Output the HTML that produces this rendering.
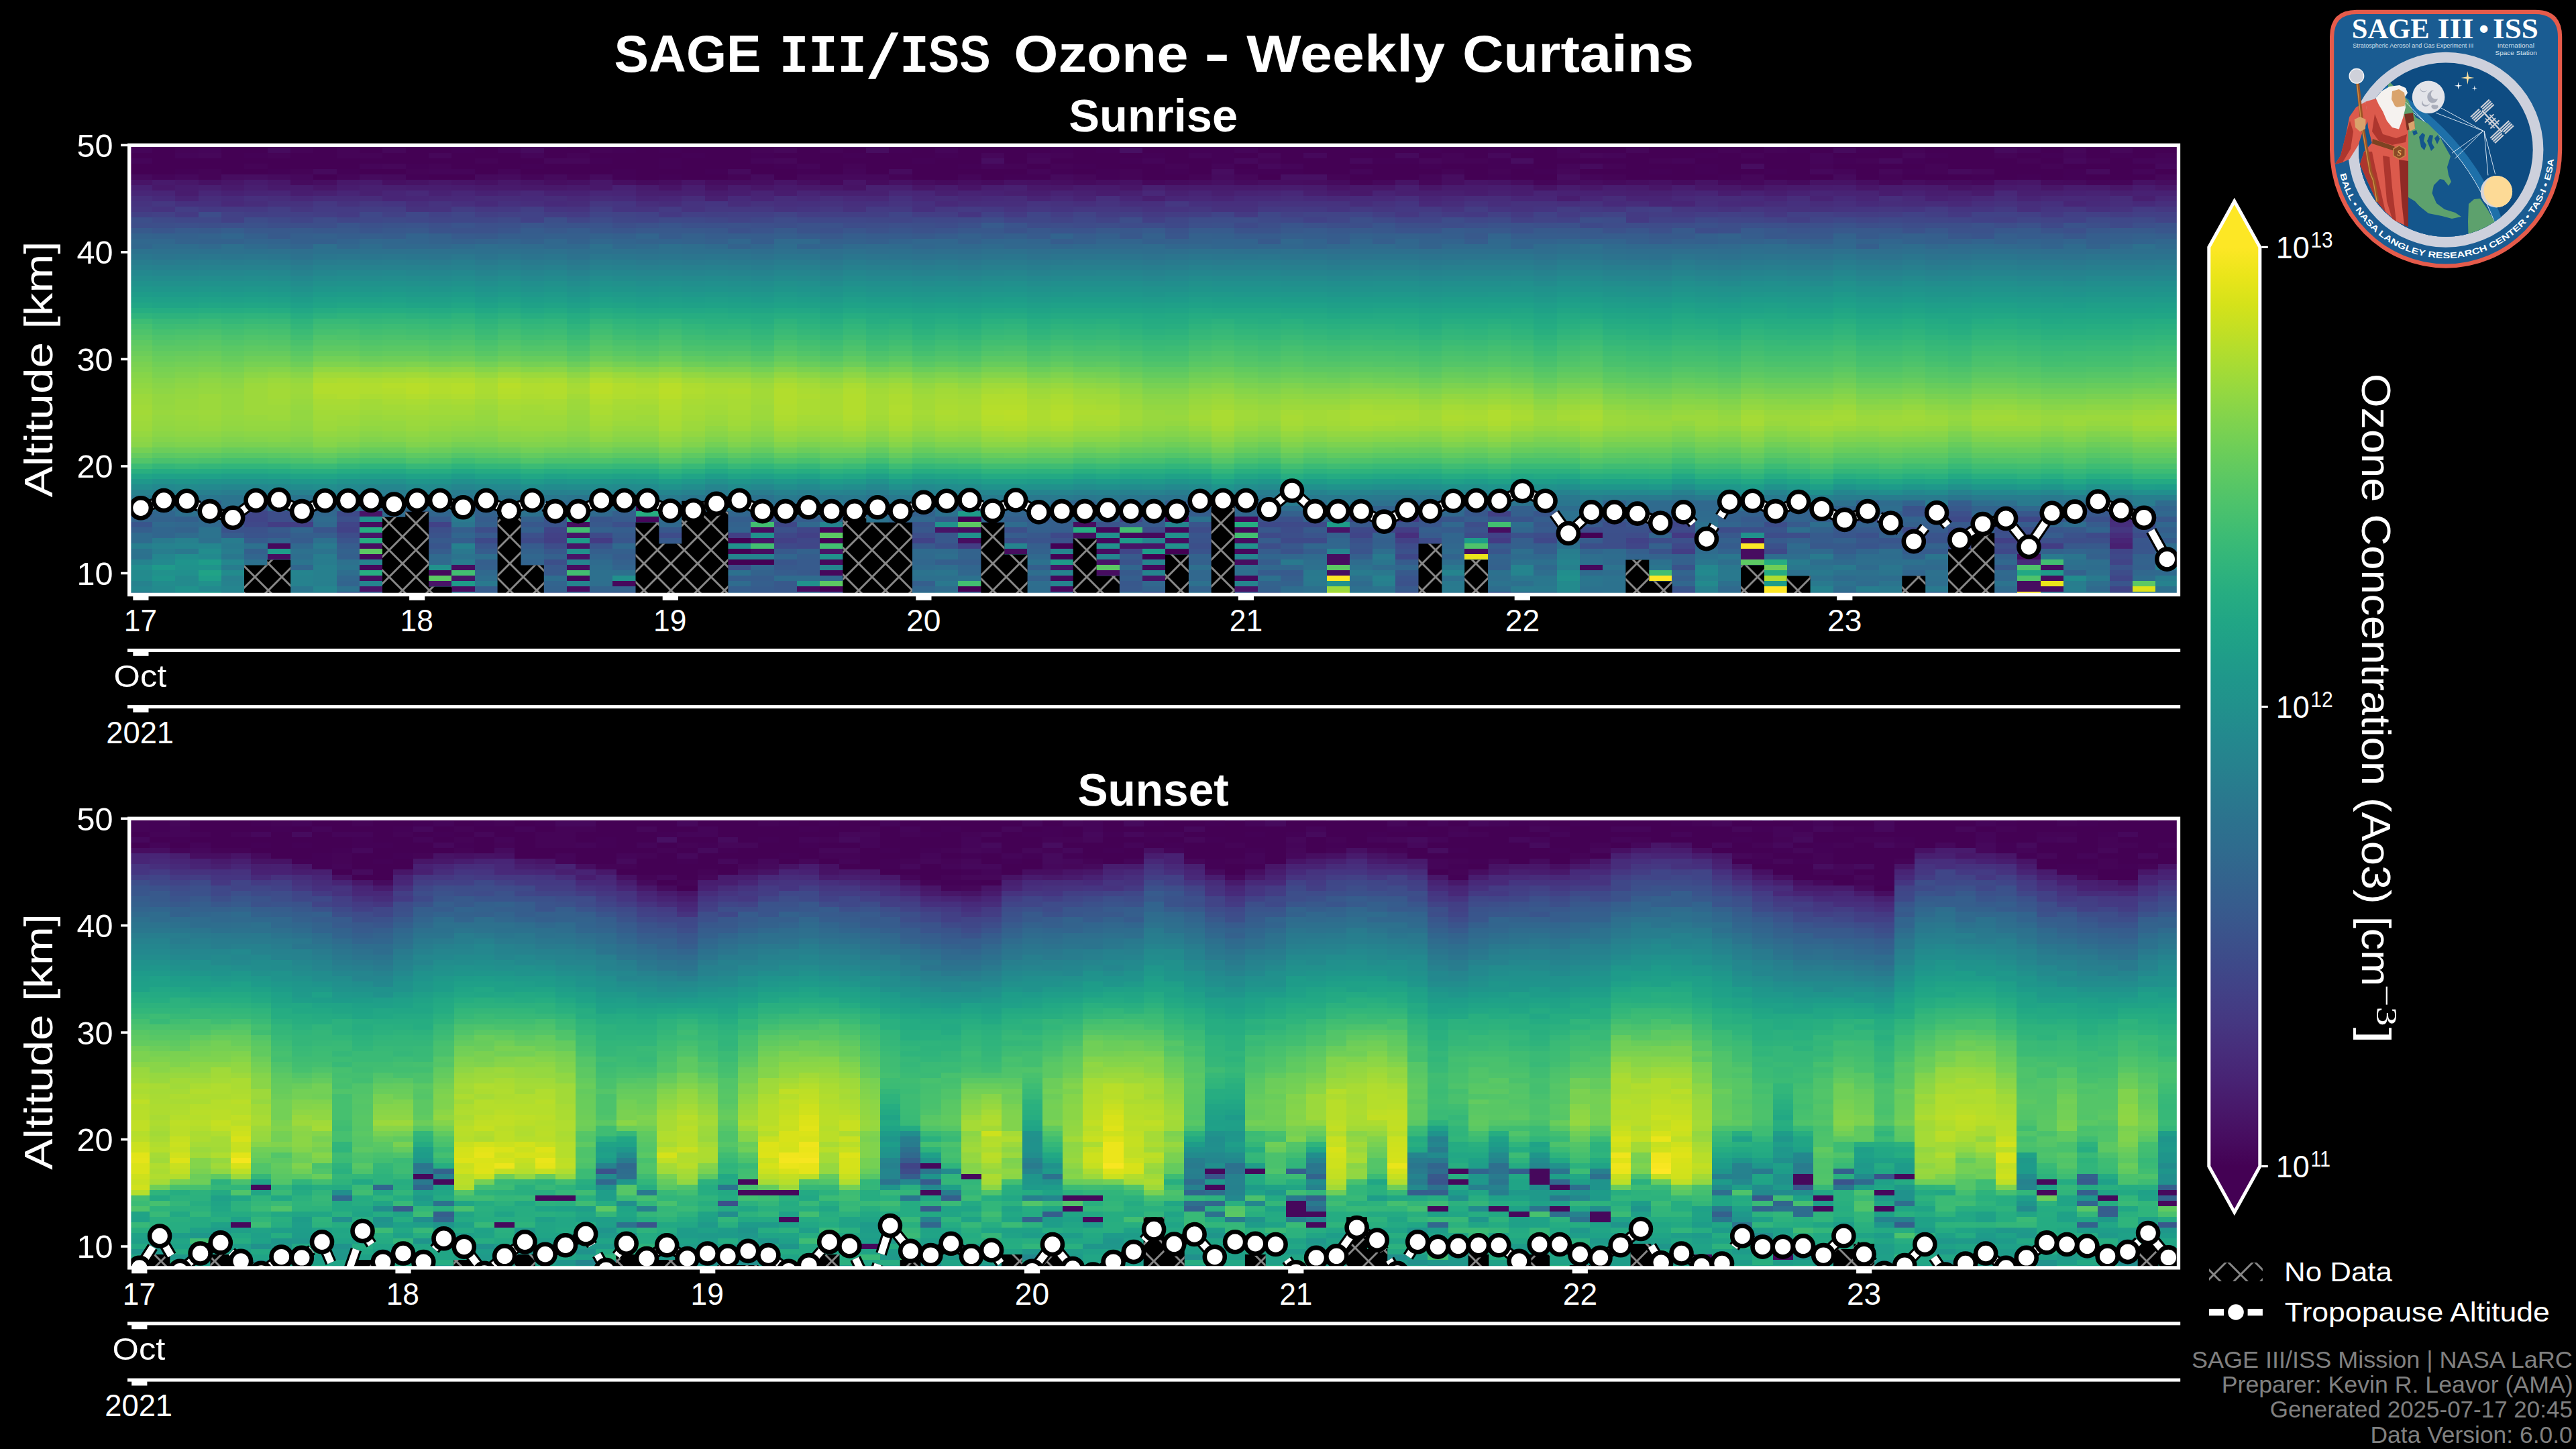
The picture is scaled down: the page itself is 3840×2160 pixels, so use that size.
<!DOCTYPE html>
<html lang="en"><head><meta charset="utf-8"><title>SAGE III/ISS Ozone - Weekly Curtains</title>
<style>
html,body{margin:0;padding:0;background:#000}
body{width:3840px;height:2160px;position:relative;overflow:hidden;font-family:"Liberation Sans",sans-serif}
.hm{position:absolute;overflow:hidden;background:#000}
.hm i{position:absolute;top:0;bottom:0;display:block}
svg{position:absolute;left:0;top:0}
text{font-family:"Liberation Sans",sans-serif;fill:#fff;stroke:#fff;stroke-width:0}
.b{font-weight:bold}
.m{font-family:"Liberation Mono",monospace;font-weight:bold}
.s{font-family:"Liberation Serif",serif}
.sb{font-family:"Liberation Serif",serif;font-weight:bold}
.sbi{font-family:"Liberation Serif",serif;font-weight:bold;font-style:italic}
</style></head><body>
<div class="hm" style="left:192px;top:216.4px;height:670.0px;width:3056px"><i style="left:1px;width:34px;background:linear-gradient(#440154 0 4.0px,#450559 0 12.0px,#440154 0 19.9px,#450559 0 27.9px,#440154 0 43.9px,#460a5d 0 51.8px,#481467 0 59.8px,#482173 0 67.8px,#482677 0 75.8px,#472f7d 0 83.8px,#46337f 0 91.7px,#453781 0 99.7px,#423f85 0 107.7px,#3c4f8a 0 115.7px,#3d4e8a 0 123.6px,#375a8c 0 131.6px,#33638d 0 139.6px,#31688e 0 147.6px,#31678e 0 155.5px,#2c728e 0 163.5px,#2a778e 0 171.5px,#287d8e 0 179.5px,#26828e 0 187.4px,#23888e 0 195.4px,#228d8d 0 203.4px,#20928c 0 211.4px,#1f978b 0 219.3px,#1e9c89 0 227.3px,#1fa188 0 235.3px,#21a685 0 243.3px,#26ad81 0 251.2px,#2fb47c 0 259.2px,#3dbc74 0 267.2px,#46c06f 0 275.2px,#4ec36b 0 283.2px,#56c667 0 291.1px,#5ec962 0 299.1px,#65cb5e 0 307.1px,#6ccd5a 0 315.1px,#73d056 0 323.0px,#7ad151 0 331.0px,#7fd34e 0 339.0px,#86d549 0 347.0px,#8bd646 0 354.9px,#90d743 0 362.9px,#95d840 0 370.9px,#9bd93c 0 378.9px,#9dd93b 0 386.8px,#a0da39 0 394.8px,#a2da37 0 402.8px,#a0da39 0 410.8px,#9dd93b 0 418.8px,#9bd93c 0 426.7px,#95d840 0 434.7px,#8ed645 0 442.7px,#89d548 0 450.7px,#75d054 0 458.6px,#65cb5e 0 466.6px,#52c569 0 474.6px,#3bbb75 0 482.6px,#29af7f 0 490.5px,#20a486 0 498.5px,#1f988b 0 506.5px,#228d8d 0 514.5px,#26828e 0 522.4px,#29798e 0 530.4px,#26828e 0 538.4px,#355e8d 0 546.4px,#375b8d 0 554.3px,#33638d 0 562.3px,#39558c 0 570.3px,#355f8d 0 578.3px,#2f6b8e 0 594.2px,#277e8e 0 602.2px,#2c728e 0 610.2px,#2c718e 0 618.2px,#25838e 0 626.1px,#218e8d 0 634.1px,#238a8d 0 642.1px,#228b8d 0 650.1px,#26828e 0 658.0px,#24868e 0 666.0px,#2a768e 0)"></i><i style="left:35px;width:34px;background:linear-gradient(#440256 0 4.0px,#440154 0 43.9px,#450559 0 51.8px,#481a6c 0 59.8px,#48186a 0 67.8px,#482576 0 75.8px,#472a7a 0 83.8px,#453781 0 91.7px,#46337f 0 99.7px,#424186 0 107.7px,#3e4a89 0 115.7px,#3c4f8a 0 123.6px,#39568c 0 131.6px,#33628d 0 139.6px,#31688e 0 147.6px,#2f6c8e 0 155.5px,#2d718e 0 163.5px,#2b758e 0 171.5px,#297b8e 0 179.5px,#26818e 0 187.4px,#24868e 0 195.4px,#228c8d 0 203.4px,#21918c 0 211.4px,#1f968b 0 219.3px,#1e9b8a 0 227.3px,#1fa088 0 235.3px,#20a486 0 243.3px,#25ac82 0 251.2px,#2db27d 0 259.2px,#37b878 0 267.2px,#3dbc74 0 275.2px,#46c06f 0 283.2px,#4ec36b 0 291.1px,#54c568 0 299.1px,#5cc863 0 307.1px,#63cb5f 0 315.1px,#69cd5b 0 323.0px,#70cf57 0 331.0px,#77d153 0 339.0px,#7cd250 0 347.0px,#84d44b 0 354.9px,#89d548 0 362.9px,#8ed645 0 370.9px,#93d741 0 386.8px,#95d840 0 394.8px,#98d83e 0 402.8px,#95d840 0 410.8px,#93d741 0 418.8px,#90d743 0 426.7px,#8bd646 0 434.7px,#84d44b 0 442.7px,#7cd250 0 450.7px,#6ccd5a 0 458.6px,#5cc863 0 466.6px,#4ac16d 0 474.6px,#34b679 0 482.6px,#25ac82 0 490.5px,#1fa188 0 498.5px,#20938c 0 506.5px,#23888e 0 514.5px,#277f8e 0 522.4px,#2b758e 0 530.4px,#2d708e 0 546.4px,#31668e 0 554.3px,#33638d 0 562.3px,#306a8e 0 570.3px,#31668e 0 586.2px,#297a8e 0 594.2px,#26828e 0 602.2px,#287d8e 0 610.2px,#24868e 0 618.2px,#23898e 0 626.1px,#1f9a8a 0 634.1px,#21918c 0 642.1px,#1f958b 0 650.1px,#228c8d 0 658.0px,#238a8d 0 666.0px,#25838e 0)"></i><i style="left:69px;width:35px;background:linear-gradient(#440154 0 4.0px,#450457 0 12.0px,#450559 0 19.9px,#440154 0 35.9px,#440256 0 43.9px,#46085c 0 51.8px,#481769 0 59.8px,#481c6e 0 75.8px,#482374 0 83.8px,#46307e 0 91.7px,#433e85 0 99.7px,#443a83 0 107.7px,#3f4889 0 115.7px,#3c508b 0 123.6px,#375b8d 0 131.6px,#34618d 0 139.6px,#33638d 0 147.6px,#2e6d8e 0 155.5px,#2d718e 0 163.5px,#2a768e 0 171.5px,#287c8e 0 179.5px,#26818e 0 187.4px,#24868e 0 195.4px,#228c8d 0 203.4px,#21918c 0 211.4px,#1f968b 0 219.3px,#1e9b8a 0 227.3px,#1fa088 0 235.3px,#20a486 0 243.3px,#25ac82 0 251.2px,#2db27d 0 259.2px,#37b878 0 267.2px,#3fbc73 0 275.2px,#48c16e 0 283.2px,#50c46a 0 291.1px,#56c667 0 299.1px,#5cc863 0 307.1px,#65cb5e 0 315.1px,#6ccd5a 0 323.0px,#73d056 0 331.0px,#7ad151 0 339.0px,#81d34d 0 347.0px,#89d548 0 354.9px,#8ed645 0 362.9px,#93d741 0 370.9px,#95d840 0 378.9px,#98d83e 0 394.8px,#9bd93c 0 402.8px,#98d83e 0 410.8px,#95d840 0 418.8px,#93d741 0 426.7px,#8ed645 0 434.7px,#86d549 0 442.7px,#7fd34e 0 450.7px,#6ece58 0 458.6px,#5ec962 0 466.6px,#4cc26c 0 474.6px,#37b878 0 482.6px,#26ad81 0 490.5px,#1fa187 0 498.5px,#1f958b 0 506.5px,#238a8d 0 514.5px,#27808e 0 522.4px,#2a768e 0 530.4px,#297a8e 0 538.4px,#306a8e 0 546.4px,#2d708e 0 554.3px,#34608d 0 562.3px,#31688e 0 570.3px,#33638d 0 578.3px,#2f6c8e 0 586.2px,#27808e 0 594.2px,#25848e 0 602.2px,#2a788e 0 610.2px,#218e8d 0 618.2px,#1f948c 0 626.1px,#20928c 0 634.1px,#21908d 0 642.1px,#238a8d 0 658.0px,#20928c 0 666.0px,#23898e 0)"></i><i style="left:104px;width:34px;background:linear-gradient(#440154 0 4.0px,#450559 0 12.0px,#46075a 0 19.9px,#440154 0 35.9px,#450457 0 51.8px,#471164 0 59.8px,#481f70 0 67.8px,#482677 0 75.8px,#472d7b 0 83.8px,#46307e 0 91.7px,#443983 0 99.7px,#3d4d8a 0 107.7px,#3f4889 0 115.7px,#3c4f8a 0 123.6px,#375a8c 0 131.6px,#33638d 0 139.6px,#33628d 0 147.6px,#306a8e 0 155.5px,#2c718e 0 163.5px,#2a778e 0 171.5px,#287d8e 0 179.5px,#26828e 0 187.4px,#24878e 0 195.4px,#228d8d 0 203.4px,#20928c 0 211.4px,#1f978b 0 219.3px,#1e9c89 0 227.3px,#1fa188 0 235.3px,#21a685 0 243.3px,#26ad81 0 251.2px,#2fb47c 0 259.2px,#3aba76 0 267.2px,#40bd72 0 275.2px,#4ac16d 0 283.2px,#52c569 0 291.1px,#58c765 0 299.1px,#5ec962 0 307.1px,#67cc5c 0 315.1px,#6ece58 0 323.0px,#75d054 0 331.0px,#7cd250 0 339.0px,#86d549 0 347.0px,#8ed645 0 354.9px,#93d741 0 362.9px,#95d840 0 370.9px,#9bd93c 0 394.8px,#9dd93b 0 402.8px,#9bd93c 0 410.8px,#98d83e 0 418.8px,#95d840 0 426.7px,#8ed645 0 434.7px,#86d549 0 442.7px,#7fd34e 0 450.7px,#6ece58 0 458.6px,#5cc863 0 466.6px,#4ac16d 0 474.6px,#34b679 0 482.6px,#25ac82 0 490.5px,#1fa188 0 498.5px,#20938c 0 506.5px,#23898e 0 514.5px,#27808e 0 522.4px,#2a768e 0 530.4px,#32658e 0 538.4px,#34618d 0 546.4px,#297a8e 0 554.3px,#306a8e 0 570.3px,#2c738e 0 586.2px,#2d718e 0 594.2px,#24868e 0 602.2px,#228d8d 0 610.2px,#23898e 0 618.2px,#1e9d89 0 626.1px,#20938c 0 634.1px,#20a386 0 642.1px,#1f9e89 0 650.1px,#21918c 0 658.0px,#23898e 0 666.0px,#1f978b 0)"></i><i style="left:138px;width:34px;background:linear-gradient(#440256 0 4.0px,#440154 0 43.9px,#470d60 0 51.8px,#481668 0 59.8px,#481a6c 0 67.8px,#482173 0 75.8px,#472a7a 0 83.8px,#482979 0 91.7px,#443a83 0 99.7px,#424186 0 115.7px,#3c508b 0 123.6px,#355e8d 0 131.6px,#31668e 0 139.6px,#33628d 0 147.6px,#2d708e 0 155.5px,#2d718e 0 163.5px,#2a768e 0 171.5px,#287c8e 0 179.5px,#26828e 0 187.4px,#24878e 0 195.4px,#228c8d 0 203.4px,#20928c 0 211.4px,#1f968b 0 219.3px,#1e9b8a 0 227.3px,#1fa088 0 235.3px,#21a585 0 243.3px,#25ac82 0 251.2px,#2eb37c 0 259.2px,#35b779 0 267.2px,#3dbc74 0 275.2px,#44bf70 0 283.2px,#4cc26c 0 291.1px,#52c569 0 299.1px,#5ac864 0 307.1px,#60ca60 0 315.1px,#67cc5c 0 323.0px,#70cf57 0 331.0px,#77d153 0 339.0px,#81d34d 0 347.0px,#89d548 0 354.9px,#8ed645 0 362.9px,#93d741 0 370.9px,#95d840 0 394.8px,#98d83e 0 402.8px,#95d840 0 410.8px,#93d741 0 418.8px,#90d743 0 426.7px,#89d548 0 434.7px,#81d34d 0 442.7px,#7ad151 0 450.7px,#67cc5c 0 458.6px,#58c765 0 466.6px,#44bf70 0 474.6px,#31b57b 0 482.6px,#24aa83 0 490.5px,#1f9e89 0 498.5px,#20928c 0 506.5px,#24868e 0 514.5px,#287d8e 0 522.4px,#2b748e 0 530.4px,#2c738e 0 538.4px,#2f6b8e 0 546.4px,#355e8d 0 554.3px,#3a538b 0 562.3px,#38598c 0 570.3px,#3a538b 0 578.3px,#365c8d 0 586.2px,#287c8e 0 594.2px,#29798e 0 602.2px,#287d8e 0 610.2px,#2a778e 0 618.2px,#24878e 0 626.1px,#287c8e 0 634.1px,#228b8d 0 642.1px,#27808e 0 650.1px,#26828e 0 658.0px,#25858e 0 666.0px,#27808e 0)"></i><i style="left:172px;width:35px;background:linear-gradient(#440154 0 12.0px,#440256 0 19.9px,#440154 0 27.9px,#450457 0 35.9px,#440154 0 43.9px,#470e61 0 51.8px,#481b6d 0 59.8px,#481f70 0 67.8px,#482475 0 75.8px,#472f7d 0 83.8px,#472d7b 0 91.7px,#443983 0 99.7px,#423f85 0 107.7px,#3d4d8a 0 115.7px,#3b528b 0 123.6px,#38598c 0 131.6px,#34608d 0 139.6px,#32658e 0 147.6px,#2f6b8e 0 155.5px,#2c718e 0 163.5px,#2a778e 0 171.5px,#287d8e 0 179.5px,#26828e 0 187.4px,#23888e 0 195.4px,#228d8d 0 203.4px,#20928c 0 211.4px,#1f978b 0 219.3px,#1e9c89 0 227.3px,#1fa188 0 235.3px,#21a685 0 243.3px,#26ad81 0 251.2px,#2fb47c 0 259.2px,#38b977 0 267.2px,#40bd72 0 275.2px,#48c16e 0 283.2px,#50c46a 0 291.1px,#56c667 0 299.1px,#5ec962 0 307.1px,#65cb5e 0 315.1px,#6ece58 0 323.0px,#77d153 0 331.0px,#81d34d 0 339.0px,#8bd646 0 347.0px,#95d840 0 354.9px,#9bd93c 0 362.9px,#9dd93b 0 402.8px,#98d83e 0 410.8px,#95d840 0 418.8px,#93d741 0 426.7px,#8bd646 0 434.7px,#84d44b 0 442.7px,#7ad151 0 450.7px,#69cd5b 0 458.6px,#58c765 0 466.6px,#44bf70 0 474.6px,#31b57b 0 482.6px,#24aa83 0 490.5px,#1f9e89 0 498.5px,#20928c 0 506.5px,#24868e 0 514.5px,#287d8e 0 522.4px,#2b758e 0 530.4px,#32648e 0 538.4px,#3b518b 0 546.4px,#404688 0 554.3px,#404588 0 562.3px,#3f4889 0 570.3px,#3b528b 0 578.3px,#3a548c 0 586.2px,#365c8d 0 594.2px,#2d718e 0 602.2px,#34608d 0 610.2px,#31668e 0 618.2px,#2c718e 0 626.1px,#26818e 0 634.1px,#2a778e 0 642.1px,#2f6c8e 0 650.1px,#2a788e 0 658.0px,#34608d 0 666.0px,#2f6b8e 0)"></i><i style="left:207px;width:34px;background:linear-gradient(#440154 0 4.0px,#460b5e 0 12.0px,#450457 0 19.9px,#440154 0 35.9px,#440256 0 43.9px,#460b5e 0 51.8px,#481769 0 59.8px,#481a6c 0 67.8px,#482576 0 75.8px,#472d7b 0 83.8px,#46327e 0 91.7px,#433e85 0 99.7px,#424086 0 107.7px,#3e4989 0 115.7px,#3c4f8a 0 123.6px,#38598c 0 131.6px,#375a8c 0 139.6px,#32648e 0 147.6px,#31688e 0 155.5px,#2d718e 0 163.5px,#2a768e 0 171.5px,#287c8e 0 179.5px,#26828e 0 187.4px,#24878e 0 195.4px,#228c8d 0 203.4px,#20928c 0 211.4px,#1f968b 0 219.3px,#1e9b8a 0 227.3px,#1fa088 0 235.3px,#21a585 0 243.3px,#25ac82 0 251.2px,#2eb37c 0 259.2px,#37b878 0 267.2px,#3fbc73 0 275.2px,#46c06f 0 283.2px,#4ec36b 0 291.1px,#54c568 0 299.1px,#5cc863 0 307.1px,#65cb5e 0 315.1px,#6ece58 0 323.0px,#77d153 0 331.0px,#84d44b 0 339.0px,#90d743 0 347.0px,#9bd93c 0 354.9px,#a0da39 0 362.9px,#a2da37 0 378.9px,#a0da39 0 386.8px,#9dd93b 0 402.8px,#9bd93c 0 410.8px,#95d840 0 418.8px,#93d741 0 426.7px,#8bd646 0 434.7px,#86d549 0 442.7px,#7cd250 0 450.7px,#6ccd5a 0 458.6px,#5ac864 0 466.6px,#48c16e 0 474.6px,#32b67a 0 482.6px,#25ac82 0 490.5px,#1fa088 0 498.5px,#20938c 0 506.5px,#23888e 0 514.5px,#277f8e 0 522.4px,#2a768e 0 530.4px,#306a8e 0 538.4px,#2f6c8e 0 546.4px,#3d4e8a 0 562.3px,#433d84 0 570.3px,#375a8c 0 578.3px,#39568c 0 586.2px,#33638d 0 594.2px,#46085c 0 602.2px,#1e9c89 0 610.2px,#470d60 0 618.2px,#2b758e 0 626.1px,#24878e 0 642.1px,#277e8e 0 650.1px,#25838e 0 658.0px,#2b758e 0 666.0px,#26828e 0)"></i><i style="left:241px;width:34px;background:linear-gradient(#440256 0 4.0px,#450457 0 12.0px,#440154 0 35.9px,#450457 0 43.9px,#46085c 0 51.8px,#460b5e 0 59.8px,#481b6d 0 67.8px,#481d6f 0 75.8px,#482878 0 83.8px,#46327e 0 91.7px,#453781 0 99.7px,#424086 0 107.7px,#404588 0 115.7px,#3c4f8a 0 123.6px,#375a8c 0 131.6px,#355f8d 0 139.6px,#34608d 0 147.6px,#32658e 0 155.5px,#2e6f8e 0 163.5px,#2c728e 0 171.5px,#2a788e 0 179.5px,#277e8e 0 187.4px,#26828e 0 195.4px,#23888e 0 203.4px,#228d8d 0 211.4px,#20928c 0 219.3px,#1f978b 0 227.3px,#1e9c89 0 235.3px,#1fa188 0 243.3px,#22a785 0 251.2px,#27ad81 0 259.2px,#2eb37c 0 267.2px,#34b679 0 275.2px,#3bbb75 0 283.2px,#42be71 0 291.1px,#4ac16d 0 299.1px,#52c569 0 307.1px,#5ac864 0 315.1px,#63cb5f 0 323.0px,#6ece58 0 331.0px,#7cd250 0 339.0px,#89d548 0 347.0px,#95d840 0 354.9px,#9bd93c 0 362.9px,#9dd93b 0 370.9px,#9bd93c 0 378.9px,#98d83e 0 386.8px,#95d840 0 394.8px,#93d741 0 410.8px,#90d743 0 418.8px,#8ed645 0 426.7px,#89d548 0 434.7px,#81d34d 0 442.7px,#7ad151 0 450.7px,#6ece58 0 458.6px,#5ec962 0 466.6px,#4cc26c 0 474.6px,#38b977 0 482.6px,#28ae80 0 490.5px,#20a386 0 498.5px,#1f978b 0 506.5px,#228b8d 0 514.5px,#26818e 0 522.4px,#2b748e 0 530.4px,#2f6b8e 0 538.4px,#31678e 0 546.4px,#34608d 0 554.3px,#3a548c 0 562.3px,#423f85 0 570.3px,#32658e 0 578.3px,#355f8d 0 586.2px,#365c8d 0 594.2px,#30698e 0 602.2px,#2d718e 0 610.2px,#2e6e8e 0 618.2px,#2b748e 0 626.1px,#31668e 0 634.1px,#25848e 0 642.1px,#26828e 0 658.0px,#2a768e 0 666.0px,#297a8e 0)"></i><i style="left:275px;width:35px;background:linear-gradient(#440154 0 35.9px,#460a5d 0 43.9px,#440154 0 51.8px,#470e61 0 59.8px,#481668 0 67.8px,#482071 0 75.8px,#472c7a 0 83.8px,#453882 0 91.7px,#443b84 0 99.7px,#433e85 0 107.7px,#3e4c8a 0 115.7px,#3c4f8a 0 123.6px,#38588c 0 131.6px,#34618d 0 139.6px,#34608d 0 147.6px,#2d708e 0 155.5px,#2c718e 0 163.5px,#2a768e 0 171.5px,#287c8e 0 179.5px,#26828e 0 187.4px,#24868e 0 195.4px,#228c8d 0 203.4px,#21918c 0 211.4px,#1f968b 0 219.3px,#1e9b8a 0 227.3px,#1fa088 0 235.3px,#20a486 0 243.3px,#25ab82 0 251.2px,#2cb17e 0 259.2px,#38b977 0 267.2px,#3fbc73 0 275.2px,#46c06f 0 283.2px,#50c46a 0 291.1px,#56c667 0 299.1px,#5ec962 0 307.1px,#67cc5c 0 315.1px,#73d056 0 323.0px,#7fd34e 0 331.0px,#90d743 0 339.0px,#a0da39 0 347.0px,#aadc32 0 354.9px,#b2dd2d 0 370.9px,#addc30 0 378.9px,#a8db34 0 386.8px,#a5db36 0 394.8px,#a2da37 0 402.8px,#a0da39 0 410.8px,#9dd93b 0 418.8px,#9bd93c 0 426.7px,#93d741 0 434.7px,#8bd646 0 442.7px,#86d549 0 450.7px,#75d054 0 458.6px,#63cb5f 0 466.6px,#52c569 0 474.6px,#3aba76 0 482.6px,#29af7f 0 490.5px,#20a486 0 498.5px,#1f988b 0 506.5px,#228d8d 0 514.5px,#26828e 0 522.4px,#2a788e 0 530.4px,#2c738e 0 538.4px,#33628d 0 546.4px,#31688e 0 554.3px,#2f6c8e 0 562.3px,#30698e 0 570.3px,#39558c 0 578.3px,#355f8d 0 586.2px,#2d708e 0 594.2px,#297a8e 0 602.2px,#2c738e 0 610.2px,#287d8e 0 618.2px,#287c8e 0 626.1px,#27808e 0 650.1px,#277f8e 0 658.0px,#25858e 0 666.0px,#297a8e 0)"></i><i style="left:310px;width:34px;background:linear-gradient(#440154 0 4.0px,#450457 0 19.9px,#440154 0 35.9px,#440256 0 43.9px,#450559 0 51.8px,#48186a 0 59.8px,#481c6e 0 67.8px,#482576 0 75.8px,#472c7a 0 83.8px,#46327e 0 91.7px,#443b84 0 107.7px,#404688 0 115.7px,#39558c 0 123.6px,#38598c 0 131.6px,#355e8d 0 139.6px,#32648e 0 147.6px,#31688e 0 155.5px,#2c718e 0 163.5px,#2a778e 0 171.5px,#287d8e 0 179.5px,#26828e 0 187.4px,#23888e 0 195.4px,#228d8d 0 203.4px,#20928c 0 211.4px,#1f978b 0 219.3px,#1e9c89 0 227.3px,#1fa188 0 235.3px,#21a685 0 243.3px,#26ad81 0 251.2px,#2eb37c 0 259.2px,#38b977 0 267.2px,#3fbc73 0 275.2px,#48c16e 0 283.2px,#4ec36b 0 291.1px,#56c667 0 299.1px,#5ec962 0 307.1px,#67cc5c 0 315.1px,#73d056 0 323.0px,#7fd34e 0 331.0px,#90d743 0 339.0px,#a0da39 0 347.0px,#addc30 0 354.9px,#b2dd2d 0 370.9px,#b0dd2f 0 378.9px,#a8db34 0 386.8px,#a5db36 0 394.8px,#a2da37 0 402.8px,#9dd93b 0 410.8px,#9bd93c 0 418.8px,#95d840 0 426.7px,#90d743 0 434.7px,#89d548 0 442.7px,#7fd34e 0 450.7px,#6ece58 0 458.6px,#5cc863 0 466.6px,#48c16e 0 474.6px,#34b679 0 482.6px,#25ac82 0 490.5px,#1fa188 0 498.5px,#20938c 0 506.5px,#23898e 0 514.5px,#27808e 0 522.4px,#2a778e 0 530.4px,#2d718e 0 538.4px,#2b748e 0 546.4px,#3e4a89 0 554.3px,#3c508b 0 562.3px,#404588 0 570.3px,#414287 0 578.3px,#3d4d8a 0 586.2px,#3a548c 0 594.2px,#365d8d 0 602.2px,#33628d 0 610.2px,#34608d 0 618.2px,#2d718e 0 626.1px,#2b748e 0 634.1px,#2e6e8e 0 642.1px,#31678e 0 650.1px,#32648e 0 658.0px,#2c728e 0 666.0px,#375a8c 0)"></i><i style="left:344px;width:34px;background:linear-gradient(#440154 0 12.0px,#450457 0 19.9px,#440154 0 27.9px,#450559 0 35.9px,#440154 0 43.9px,#460b5e 0 51.8px,#481a6c 0 59.8px,#482071 0 75.8px,#472c7a 0 83.8px,#453781 0 91.7px,#433d84 0 99.7px,#3f4889 0 115.7px,#3b518b 0 123.6px,#39558c 0 131.6px,#355f8d 0 139.6px,#31688e 0 147.6px,#2e6d8e 0 155.5px,#2d718e 0 163.5px,#2a768e 0 171.5px,#287c8e 0 179.5px,#26828e 0 187.4px,#24878e 0 195.4px,#228c8d 0 203.4px,#20928c 0 211.4px,#1f968b 0 219.3px,#1e9b8a 0 227.3px,#1fa088 0 235.3px,#21a585 0 243.3px,#25ac82 0 251.2px,#2db27d 0 259.2px,#34b679 0 267.2px,#3bbb75 0 275.2px,#42be71 0 283.2px,#4ac16d 0 291.1px,#50c46a 0 299.1px,#58c765 0 307.1px,#60ca60 0 315.1px,#6ccd5a 0 323.0px,#7ad151 0 331.0px,#8bd646 0 339.0px,#9dd93b 0 347.0px,#aadc32 0 354.9px,#b0dd2f 0 370.9px,#aadc32 0 378.9px,#a2da37 0 386.8px,#a0da39 0 394.8px,#9dd93b 0 402.8px,#98d83e 0 410.8px,#95d840 0 418.8px,#90d743 0 426.7px,#89d548 0 434.7px,#81d34d 0 442.7px,#77d153 0 450.7px,#67cc5c 0 458.6px,#56c667 0 466.6px,#44bf70 0 474.6px,#2fb47c 0 482.6px,#24aa83 0 490.5px,#1f9e89 0 498.5px,#20928c 0 506.5px,#24868e 0 514.5px,#287d8e 0 522.4px,#2b748e 0 530.4px,#2f6b8e 0 538.4px,#33628d 0 546.4px,#481467 0 554.3px,#21918c 0 562.3px,#470d60 0 570.3px,#26ad81 0 578.3px,#481467 0 586.2px,#26ad81 0 594.2px,#470d60 0 602.2px,#5cc863 0 610.2px,#46085c 0 618.2px,#25848e 0 626.1px,#46085c 0 634.1px,#26ad81 0 642.1px,#470d60 0 650.1px,#25848e 0 658.0px,#481467 0 666.0px,#34608d 0)"></i><i style="left:378px;width:35px;background:linear-gradient(#440154 0 4.0px,#46075a 0 12.0px,#440154 0 27.9px,#46075a 0 35.9px,#440154 0 43.9px,#460a5d 0 51.8px,#471063 0 59.8px,#481f70 0 67.8px,#482576 0 83.8px,#453581 0 91.7px,#433d84 0 99.7px,#424186 0 107.7px,#3e4a89 0 115.7px,#3a538b 0 123.6px,#38588c 0 131.6px,#365d8d 0 139.6px,#31678e 0 147.6px,#31688e 0 155.5px,#2d718e 0 163.5px,#2a778e 0 171.5px,#287d8e 0 179.5px,#26828e 0 187.4px,#23888e 0 195.4px,#228d8d 0 203.4px,#20928c 0 211.4px,#1f978b 0 219.3px,#1e9c89 0 227.3px,#1fa188 0 235.3px,#21a685 0 243.3px,#25ac82 0 251.2px,#2eb37c 0 259.2px,#35b779 0 267.2px,#3dbc74 0 275.2px,#44bf70 0 283.2px,#4cc26c 0 291.1px,#52c569 0 299.1px,#5ac864 0 307.1px,#63cb5f 0 315.1px,#6ece58 0 323.0px,#7cd250 0 331.0px,#8ed645 0 339.0px,#a0da39 0 347.0px,#addc30 0 354.9px,#b5de2b 0 362.9px,#b2dd2d 0 370.9px,#addc30 0 378.9px,#a8db34 0 386.8px,#a2da37 0 394.8px,#a0da39 0 402.8px,#9bd93c 0 410.8px,#95d840 0 418.8px,#93d741 0 426.7px,#8bd646 0 434.7px,#84d44b 0 442.7px,#77d153 0 450.7px,#67cc5c 0 458.6px,#58c765 0 466.6px,#44bf70 0 474.6px,#2fb47c 0 482.6px,#23a983 0 490.5px,#1f9e89 0 498.5px,#21918c 0 506.5px,#24868e 0 514.5px,#287d8e 0 522.4px,#2b758e 0 530.4px,#2a768e 0 538.4px,#31678e 0 546.4px,#2f6c8e 0 554.3px,#355f8d 0 562.3px,#2f6c8e 0 570.3px,#39558c 0 578.3px,#34608d 0 586.2px,#34618d 0 594.2px,#375b8d 0 602.2px,#2f6b8e 0 610.2px,#355e8d 0 618.2px,#34608d 0 626.1px,#31688e 0 634.1px,#2c738e 0 642.1px,#2c718e 0 650.1px,#277e8e 0 658.0px,#2d708e 0)"></i><i style="left:413px;width:34px;background:linear-gradient(#440256 0 4.0px,#440154 0 27.9px,#440256 0 35.9px,#450457 0 43.9px,#440256 0 51.8px,#471365 0 59.8px,#481d6f 0 67.8px,#482979 0 75.8px,#482677 0 83.8px,#472e7c 0 91.7px,#46327e 0 99.7px,#3f4889 0 115.7px,#3a548c 0 123.6px,#38598c 0 131.6px,#32648e 0 139.6px,#32658e 0 147.6px,#30698e 0 155.5px,#2d718e 0 163.5px,#2a768e 0 171.5px,#287c8e 0 179.5px,#26828e 0 187.4px,#24868e 0 195.4px,#228c8d 0 203.4px,#21918c 0 211.4px,#1f968b 0 219.3px,#1f9a8a 0 227.3px,#1f9f88 0 235.3px,#20a486 0 243.3px,#25ab82 0 251.2px,#2cb17e 0 259.2px,#35b779 0 267.2px,#3bbb75 0 275.2px,#42be71 0 283.2px,#4ac16d 0 291.1px,#52c569 0 299.1px,#5ac864 0 307.1px,#63cb5f 0 315.1px,#6ece58 0 323.0px,#7fd34e 0 331.0px,#90d743 0 339.0px,#a2da37 0 347.0px,#b0dd2f 0 354.9px,#b8de29 0 370.9px,#b2dd2d 0 378.9px,#aadc32 0 386.8px,#a5db36 0 394.8px,#a2da37 0 402.8px,#9dd93b 0 410.8px,#9bd93c 0 418.8px,#98d83e 0 426.7px,#90d743 0 434.7px,#89d548 0 442.7px,#81d34d 0 450.7px,#70cf57 0 458.6px,#5ec962 0 466.6px,#4ec36b 0 474.6px,#37b878 0 482.6px,#27ad81 0 490.5px,#1fa287 0 498.5px,#1f968b 0 506.5px,#228b8d 0 514.5px,#26818e 0 522.4px,#2a778e 0 530.4px,#297a8e 0 538.4px,#306a8e 0 546.4px,#365d8d 0 562.3px,#38598c 0 570.3px,#3a548c 0 578.3px,#3b528b 0 586.2px,#3e4c8a 0 594.2px,#39558c 0 602.2px,#38598c 0 610.2px,#2f6b8e 0 618.2px,#30698e 0 626.1px,#2c718e 0 634.1px,#2f6b8e 0 642.1px,#33638d 0 650.1px,#31668e 0 658.0px,#355f8d 0 666.0px,#306a8e 0)"></i><i style="left:447px;width:34px;background:linear-gradient(#46075a 0 4.0px,#440154 0 12.0px,#46075a 0 19.9px,#440154 0 27.9px,#450457 0 35.9px,#450559 0 43.9px,#440154 0 51.8px,#481769 0 59.8px,#481d6f 0 67.8px,#482173 0 75.8px,#482878 0 83.8px,#46337f 0 99.7px,#414287 0 107.7px,#404688 0 115.7px,#3c508b 0 123.6px,#3a538b 0 131.6px,#34618d 0 139.6px,#33638d 0 147.6px,#31688e 0 155.5px,#2d718e 0 163.5px,#2b758e 0 171.5px,#297b8e 0 179.5px,#26818e 0 187.4px,#24868e 0 195.4px,#228b8d 0 203.4px,#21908d 0 211.4px,#1f958b 0 219.3px,#1f9a8a 0 227.3px,#1f9f88 0 235.3px,#20a386 0 243.3px,#24aa83 0 251.2px,#2ab07f 0 259.2px,#32b67a 0 267.2px,#38b977 0 275.2px,#40bd72 0 283.2px,#46c06f 0 291.1px,#4ec36b 0 299.1px,#56c667 0 307.1px,#5ec962 0 315.1px,#69cd5b 0 323.0px,#7ad151 0 331.0px,#8bd646 0 339.0px,#9dd93b 0 347.0px,#addc30 0 354.9px,#b2dd2d 0 370.9px,#addc30 0 378.9px,#a5db36 0 386.8px,#a0da39 0 402.8px,#9bd93c 0 410.8px,#98d83e 0 418.8px,#93d741 0 426.7px,#8bd646 0 434.7px,#86d549 0 442.7px,#7cd250 0 450.7px,#6ccd5a 0 458.6px,#5cc863 0 466.6px,#4ac16d 0 474.6px,#35b779 0 482.6px,#26ad81 0 490.5px,#1fa187 0 498.5px,#1f958b 0 506.5px,#238a8d 0 514.5px,#27808e 0 522.4px,#2a768e 0 530.4px,#2f6b8e 0 538.4px,#2c718e 0 546.4px,#31668e 0 554.3px,#375b8d 0 562.3px,#414287 0 570.3px,#3c4f8a 0 578.3px,#3a538b 0 586.2px,#375a8c 0 594.2px,#39558c 0 602.2px,#365d8d 0 610.2px,#306a8e 0 626.1px,#21918c 0 634.1px,#46085c 0 642.1px,#5cc863 0 650.1px,#481467 0 658.0px,#30698e 0)"></i><i style="left:481px;width:35px;background:linear-gradient(#460a5d 0 4.0px,#440256 0 12.0px,#440154 0 35.9px,#450559 0 43.9px,#440154 0 51.8px,#481467 0 59.8px,#481c6e 0 67.8px,#482677 0 75.8px,#482979 0 83.8px,#472f7d 0 91.7px,#433d84 0 99.7px,#404688 0 107.7px,#3f4788 0 115.7px,#3a548c 0 123.6px,#3b528b 0 131.6px,#375b8d 0 139.6px,#34618d 0 147.6px,#2f6b8e 0 155.5px,#2d718e 0 163.5px,#2a788e 0 171.5px,#277e8e 0 179.5px,#26828e 0 187.4px,#23888e 0 195.4px,#228d8d 0 203.4px,#20928c 0 211.4px,#1f978b 0 219.3px,#1e9c89 0 227.3px,#1fa188 0 235.3px,#21a685 0 243.3px,#25ac82 0 251.2px,#2eb37c 0 259.2px,#34b679 0 267.2px,#3bbb75 0 275.2px,#42be71 0 283.2px,#4ac16d 0 291.1px,#50c46a 0 299.1px,#58c765 0 307.1px,#60ca60 0 315.1px,#6ccd5a 0 323.0px,#7cd250 0 331.0px,#8ed645 0 339.0px,#a0da39 0 347.0px,#addc30 0 354.9px,#b5de2b 0 370.9px,#b0dd2f 0 378.9px,#a8db34 0 386.8px,#a2da37 0 394.8px,#a0da39 0 402.8px,#9bd93c 0 410.8px,#95d840 0 418.8px,#90d743 0 426.7px,#89d548 0 434.7px,#81d34d 0 442.7px,#75d054 0 450.7px,#65cb5e 0 458.6px,#54c568 0 466.6px,#40bd72 0 474.6px,#2eb37c 0 482.6px,#22a884 0 490.5px,#1e9c89 0 498.5px,#21908d 0 506.5px,#25858e 0 514.5px,#287c8e 0 522.4px,#2b758e 0 530.4px,#2a788e 0 538.4px,#32658e 0 546.4px,#2d708e 0 554.3px,#297a8e 0 562.3px,#2b758e 0 570.3px,#355f8d 0 578.3px,#31668e 0 586.2px,#355e8d 0 594.2px,#26818e 0 602.2px,#2a788e 0 610.2px,#2c738e 0 618.2px,#287d8e 0 626.1px,#470d60 0 634.1px,#42be71 0 642.1px,#481467 0 650.1px,#1e9c89 0 658.0px,#470d60 0 666.0px,#29798e 0)"></i><i style="left:516px;width:34px;background:linear-gradient(#440154 0 19.9px,#450457 0 27.9px,#440154 0 43.9px,#460a5d 0 51.8px,#471164 0 59.8px,#481a6c 0 67.8px,#482173 0 75.8px,#472c7a 0 83.8px,#472a7a 0 91.7px,#453882 0 99.7px,#423f85 0 107.7px,#3f4788 0 115.7px,#3c508b 0 123.6px,#3b528b 0 131.6px,#375a8c 0 139.6px,#33638d 0 147.6px,#2e6e8e 0 155.5px,#2d708e 0 163.5px,#2b748e 0 171.5px,#297a8e 0 179.5px,#27808e 0 187.4px,#25848e 0 195.4px,#238a8d 0 203.4px,#218f8d 0 211.4px,#1f948c 0 219.3px,#1f988b 0 227.3px,#1e9d89 0 235.3px,#1fa287 0 243.3px,#22a884 0 251.2px,#28ae80 0 259.2px,#2eb37c 0 267.2px,#34b679 0 275.2px,#3aba76 0 283.2px,#40bd72 0 291.1px,#48c16e 0 299.1px,#50c46a 0 307.1px,#58c765 0 315.1px,#63cb5f 0 323.0px,#73d056 0 331.0px,#84d44b 0 339.0px,#95d840 0 347.0px,#a5db36 0 354.9px,#aadc32 0 370.9px,#a8db34 0 378.9px,#a0da39 0 386.8px,#9bd93c 0 394.8px,#98d83e 0 402.8px,#95d840 0 410.8px,#93d741 0 418.8px,#8ed645 0 426.7px,#86d549 0 434.7px,#7fd34e 0 442.7px,#77d153 0 450.7px,#67cc5c 0 458.6px,#58c765 0 466.6px,#46c06f 0 474.6px,#32b67a 0 482.6px,#25ab82 0 490.5px,#1fa188 0 498.5px,#20938c 0 506.5px,#23888e 0 514.5px,#277e8e 0 522.4px,#2b748e 0 530.4px,#2c728e 0 538.4px,#34608d 0 546.4px,#33628d 0 554.3px,#365d8d 0 562.3px,#34608d 0 570.3px,#3d4e8a 0 578.3px,#375b8d 0 586.2px,#3e4989 0 594.2px,#39568c 0 602.2px,#365d8d 0 610.2px,#2e6f8e 0 618.2px,#355f8d 0 626.1px,#34618d 0 634.1px,#30698e 0 642.1px,#2e6e8e 0 650.1px,#29798e 0 658.0px,#365c8d 0 666.0px,#34618d 0)"></i><i style="left:550px;width:34px;background:linear-gradient(#440154 0 4.0px,#450559 0 12.0px,#440154 0 35.9px,#450559 0 43.9px,#460b5e 0 51.8px,#481769 0 59.8px,#481a6c 0 67.8px,#482475 0 75.8px,#472c7a 0 83.8px,#46307e 0 91.7px,#443983 0 99.7px,#424186 0 107.7px,#3e4a89 0 115.7px,#3b518b 0 123.6px,#39558c 0 131.6px,#355e8d 0 139.6px,#32658e 0 147.6px,#2f6c8e 0 155.5px,#2d718e 0 163.5px,#2a778e 0 171.5px,#287d8e 0 179.5px,#26828e 0 187.4px,#24878e 0 195.4px,#228d8d 0 203.4px,#20928c 0 211.4px,#1f968b 0 219.3px,#1e9b8a 0 227.3px,#1fa088 0 235.3px,#21a585 0 243.3px,#25ab82 0 251.2px,#2cb17e 0 259.2px,#34b679 0 267.2px,#3aba76 0 275.2px,#42be71 0 283.2px,#48c16e 0 291.1px,#50c46a 0 299.1px,#58c765 0 307.1px,#60ca60 0 315.1px,#6ccd5a 0 323.0px,#7cd250 0 331.0px,#8ed645 0 339.0px,#a0da39 0 347.0px,#b0dd2f 0 354.9px,#b8de29 0 362.9px,#b5de2b 0 370.9px,#b2dd2d 0 378.9px,#aadc32 0 386.8px,#a5db36 0 394.8px,#a2da37 0 402.8px,#a0da39 0 410.8px,#9bd93c 0 418.8px,#95d840 0 426.7px,#8ed645 0 434.7px,#89d548 0 442.7px,#7cd250 0 450.7px,#6ccd5a 0 458.6px,#5cc863 0 466.6px,#48c16e 0 474.6px,#34b679 0 482.6px,#25ac82 0 490.5px,#1fa188 0 498.5px,#1f948c 0 506.5px,#23898e 0 514.5px,#27808e 0 522.4px,#2a778e 0 530.4px,#2c738e 0 538.4px,#355e8d 0 546.4px,#2b748e 0 554.3px,#2c728e 0 562.3px,#29798e 0 570.3px,#31688e 0 578.3px,#31678e 0 586.2px,#2f6c8e 0 594.2px,#2e6e8e 0 602.2px,#2c738e 0 610.2px,#2a768e 0 618.2px,#277f8e 0 626.1px,#24868e 0 634.1px,#26828e 0 642.1px,#25858e 0 650.1px,#297b8e 0 658.0px,#2b748e 0 666.0px,#297a8e 0)"></i><i style="left:584px;width:35px;background:linear-gradient(#450457 0 4.0px,#460b5e 0 12.0px,#450559 0 19.9px,#440154 0 27.9px,#440256 0 35.9px,#440154 0 43.9px,#450559 0 51.8px,#471365 0 59.8px,#48186a 0 67.8px,#482878 0 75.8px,#472a7a 0 83.8px,#472e7c 0 91.7px,#423f85 0 99.7px,#414287 0 115.7px,#39568c 0 123.6px,#365c8d 0 131.6px,#355e8d 0 139.6px,#33628d 0 147.6px,#2f6c8e 0 155.5px,#2d708e 0 163.5px,#2b748e 0 171.5px,#297a8e 0 179.5px,#277f8e 0 187.4px,#25848e 0 195.4px,#23898e 0 203.4px,#218f8d 0 211.4px,#20938c 0 219.3px,#1f988b 0 227.3px,#1e9d89 0 235.3px,#1fa187 0 243.3px,#22a785 0 251.2px,#27ad81 0 259.2px,#2fb47c 0 267.2px,#35b779 0 275.2px,#3bbb75 0 283.2px,#42be71 0 291.1px,#4ac16d 0 299.1px,#52c569 0 307.1px,#5cc863 0 315.1px,#67cc5c 0 323.0px,#75d054 0 331.0px,#86d549 0 339.0px,#9bd93c 0 347.0px,#a8db34 0 354.9px,#b0dd2f 0 370.9px,#addc30 0 378.9px,#a8db34 0 386.8px,#a2da37 0 394.8px,#a0da39 0 402.8px,#9dd93b 0 410.8px,#9bd93c 0 418.8px,#98d83e 0 426.7px,#90d743 0 434.7px,#89d548 0 442.7px,#81d34d 0 450.7px,#73d056 0 458.6px,#63cb5f 0 466.6px,#52c569 0 474.6px,#3bbb75 0 482.6px,#2ab07f 0 490.5px,#21a685 0 498.5px,#1f9a8a 0 506.5px,#218e8d 0 514.5px,#25838e 0 522.4px,#2a778e 0 530.4px,#2e6e8e 0 546.4px,#2c728e 0 554.3px,#34618d 0 562.3px,#38588c 0 570.3px,#34608d 0 578.3px,#3c508b 0 586.2px,#3e4a89 0 594.2px,#365c8d 0 602.2px,#33628d 0 610.2px,#31678e 0 618.2px,#32648e 0 626.1px,#34618d 0 634.1px,#31678e 0 642.1px,#2d708e 0 650.1px,#2c738e 0 658.0px,#31678e 0 666.0px,#32648e 0)"></i><i style="left:619px;width:34px;background:linear-gradient(#470d60 0 4.0px,#440154 0 19.9px,#46075a 0 27.9px,#440154 0 43.9px,#460a5d 0 51.8px,#470e61 0 59.8px,#48186a 0 67.8px,#482173 0 75.8px,#472c7a 0 83.8px,#472a7a 0 91.7px,#453581 0 99.7px,#433d84 0 107.7px,#3c4f8a 0 115.7px,#3a538b 0 123.6px,#38598c 0 131.6px,#34608d 0 139.6px,#31688e 0 147.6px,#30698e 0 155.5px,#2d718e 0 163.5px,#2a768e 0 171.5px,#297b8e 0 179.5px,#26818e 0 187.4px,#24868e 0 195.4px,#228b8d 0 203.4px,#21918c 0 211.4px,#1f958b 0 219.3px,#1f9a8a 0 227.3px,#1f9e89 0 235.3px,#20a386 0 243.3px,#23a983 0 251.2px,#29af7f 0 259.2px,#31b57b 0 267.2px,#37b878 0 275.2px,#3dbc74 0 283.2px,#44bf70 0 291.1px,#4cc26c 0 299.1px,#54c568 0 307.1px,#5cc863 0 315.1px,#67cc5c 0 323.0px,#77d153 0 331.0px,#89d548 0 339.0px,#9bd93c 0 347.0px,#aadc32 0 354.9px,#b2dd2d 0 370.9px,#b0dd2f 0 378.9px,#a8db34 0 386.8px,#a5db36 0 394.8px,#a2da37 0 402.8px,#9dd93b 0 410.8px,#9bd93c 0 418.8px,#98d83e 0 426.7px,#8ed645 0 434.7px,#86d549 0 442.7px,#7fd34e 0 450.7px,#6ece58 0 458.6px,#5ec962 0 466.6px,#4cc26c 0 474.6px,#37b878 0 482.6px,#27ad81 0 490.5px,#1fa287 0 498.5px,#1f968b 0 506.5px,#228b8d 0 514.5px,#26818e 0 522.4px,#2a778e 0 530.4px,#306a8e 0 538.4px,#2f6c8e 0 546.4px,#31678e 0 554.3px,#3b528b 0 562.3px,#3a548c 0 570.3px,#404588 0 578.3px,#424186 0 586.2px,#423f85 0 594.2px,#3d4d8a 0 602.2px,#38588c 0 610.2px,#34618d 0 618.2px,#3c4f8a 0 626.1px,#38598c 0 642.1px,#2e6d8e 0 650.1px,#32648e 0 658.0px,#33628d 0 666.0px,#375a8c 0)"></i><i style="left:653px;width:34px;background:linear-gradient(#440154 0 12.0px,#450457 0 19.9px,#46075a 0 27.9px,#440154 0 43.9px,#450457 0 51.8px,#471063 0 59.8px,#481a6c 0 67.8px,#482173 0 75.8px,#482878 0 83.8px,#472c7a 0 91.7px,#463480 0 99.7px,#443b84 0 107.7px,#404688 0 115.7px,#3a538b 0 123.6px,#365c8d 0 131.6px,#355f8d 0 139.6px,#33628d 0 147.6px,#30698e 0 155.5px,#2e6f8e 0 163.5px,#2c728e 0 171.5px,#2a788e 0 179.5px,#287d8e 0 187.4px,#26828e 0 195.4px,#23888e 0 203.4px,#228d8d 0 211.4px,#20928c 0 219.3px,#1f968b 0 227.3px,#1e9b8a 0 235.3px,#1fa088 0 243.3px,#21a585 0 251.2px,#25ac82 0 259.2px,#29af7f 0 267.2px,#2fb47c 0 275.2px,#35b779 0 283.2px,#3bbb75 0 291.1px,#42be71 0 299.1px,#4ac16d 0 307.1px,#52c569 0 315.1px,#5cc863 0 323.0px,#6ccd5a 0 331.0px,#7cd250 0 339.0px,#8ed645 0 347.0px,#9dd93b 0 354.9px,#a5db36 0 362.9px,#a8db34 0 370.9px,#a2da37 0 378.9px,#9dd93b 0 386.8px,#9bd93c 0 394.8px,#98d83e 0 402.8px,#95d840 0 410.8px,#93d741 0 418.8px,#90d743 0 426.7px,#89d548 0 434.7px,#81d34d 0 442.7px,#7ad151 0 450.7px,#6ccd5a 0 458.6px,#5cc863 0 466.6px,#4cc26c 0 474.6px,#38b977 0 482.6px,#28ae80 0 490.5px,#20a486 0 498.5px,#1f988b 0 506.5px,#228c8d 0 514.5px,#26828e 0 522.4px,#2b758e 0 530.4px,#2f6c8e 0 538.4px,#355e8d 0 546.4px,#31668e 0 554.3px,#26ad81 0 562.3px,#470d60 0 570.3px,#42be71 0 578.3px,#481467 0 586.2px,#1e9c89 0 594.2px,#481467 0 602.2px,#21918c 0 610.2px,#481467 0 618.2px,#25848e 0 626.1px,#470d60 0 634.1px,#42be71 0 642.1px,#46085c 0 650.1px,#25848e 0 658.0px,#470d60 0 666.0px,#33628d 0)"></i><i style="left:687px;width:34px;background:linear-gradient(#450457 0 12.0px,#440154 0 19.9px,#440256 0 27.9px,#440154 0 43.9px,#460b5e 0 51.8px,#481769 0 59.8px,#48186a 0 67.8px,#482677 0 75.8px,#472c7a 0 83.8px,#453781 0 91.7px,#433e85 0 99.7px,#404588 0 107.7px,#3e4c8a 0 115.7px,#3a548c 0 123.6px,#38588c 0 131.6px,#33628d 0 139.6px,#31688e 0 147.6px,#2d718e 0 155.5px,#2c718e 0 163.5px,#2a778e 0 171.5px,#287d8e 0 179.5px,#26828e 0 187.4px,#24878e 0 195.4px,#228d8d 0 203.4px,#20928c 0 211.4px,#1f968b 0 219.3px,#1e9b8a 0 227.3px,#1fa088 0 235.3px,#20a486 0 243.3px,#25ab82 0 251.2px,#2ab07f 0 259.2px,#34b679 0 267.2px,#3bbb75 0 275.2px,#42be71 0 283.2px,#4ac16d 0 291.1px,#50c46a 0 299.1px,#58c765 0 307.1px,#60ca60 0 315.1px,#6ccd5a 0 323.0px,#7cd250 0 331.0px,#8ed645 0 339.0px,#a2da37 0 347.0px,#b0dd2f 0 354.9px,#bade28 0 370.9px,#b5de2b 0 378.9px,#b0dd2f 0 386.8px,#aadc32 0 402.8px,#a5db36 0 410.8px,#a2da37 0 418.8px,#9dd93b 0 426.7px,#95d840 0 434.7px,#8ed645 0 442.7px,#81d34d 0 450.7px,#73d056 0 458.6px,#60ca60 0 466.6px,#4ec36b 0 474.6px,#38b977 0 482.6px,#28ae80 0 490.5px,#20a386 0 498.5px,#1f978b 0 506.5px,#228c8d 0 514.5px,#26828e 0 522.4px,#29798e 0 530.4px,#2e6f8e 0 538.4px,#2e6d8e 0 546.4px,#306a8e 0 554.3px,#39568c 0 562.3px,#38598c 0 570.3px,#34618d 0 578.3px,#3e4a89 0 586.2px,#443b84 0 594.2px,#39558c 0 602.2px,#355f8d 0 610.2px,#32658e 0 618.2px,#2f6b8e 0 626.1px,#2e6e8e 0 634.1px,#2d708e 0 650.1px,#2e6f8e 0 658.0px,#33638d 0 666.0px,#365c8d 0)"></i><i style="left:721px;width:35px;background:linear-gradient(#440154 0 4.0px,#440256 0 12.0px,#440154 0 35.9px,#440256 0 51.8px,#470e61 0 59.8px,#482173 0 67.8px,#482576 0 75.8px,#472a7a 0 83.8px,#453581 0 99.7px,#414487 0 107.7px,#3f4788 0 115.7px,#3c4f8a 0 123.6px,#39568c 0 131.6px,#34608d 0 139.6px,#32658e 0 147.6px,#30698e 0 155.5px,#2d718e 0 163.5px,#2a768e 0 171.5px,#287c8e 0 179.5px,#26818e 0 187.4px,#24868e 0 195.4px,#228b8d 0 203.4px,#21918c 0 211.4px,#1f958b 0 219.3px,#1f9a8a 0 227.3px,#1f9e89 0 235.3px,#20a386 0 243.3px,#23a983 0 251.2px,#28ae80 0 259.2px,#2fb47c 0 267.2px,#35b779 0 275.2px,#3bbb75 0 283.2px,#42be71 0 291.1px,#4ac16d 0 299.1px,#52c569 0 307.1px,#5ac864 0 315.1px,#65cb5e 0 323.0px,#75d054 0 331.0px,#86d549 0 339.0px,#9bd93c 0 347.0px,#a8db34 0 354.9px,#b2dd2d 0 370.9px,#b0dd2f 0 378.9px,#a8db34 0 386.8px,#a5db36 0 394.8px,#a2da37 0 402.8px,#a0da39 0 410.8px,#9bd93c 0 418.8px,#95d840 0 426.7px,#8ed645 0 434.7px,#86d549 0 442.7px,#7cd250 0 450.7px,#6ccd5a 0 458.6px,#5cc863 0 466.6px,#48c16e 0 474.6px,#35b779 0 482.6px,#26ad81 0 490.5px,#1fa187 0 498.5px,#1f958b 0 506.5px,#238a8d 0 514.5px,#27808e 0 522.4px,#2a778e 0 530.4px,#287c8e 0 538.4px,#2c728e 0 546.4px,#355f8d 0 554.3px,#375b8d 0 562.3px,#3c508b 0 570.3px,#355e8d 0 578.3px,#375a8c 0 586.2px,#39568c 0 594.2px,#30698e 0 602.2px,#34608d 0 610.2px,#365d8d 0 618.2px,#34618d 0 626.1px,#32658e 0 634.1px,#2d708e 0 642.1px,#21918c 0 650.1px,#46085c 0 658.0px,#33638d 0 666.0px,#375a8c 0)"></i><i style="left:756px;width:34px;background:linear-gradient(#450457 0 4.0px,#440154 0 51.8px,#460a5d 0 59.8px,#481b6d 0 67.8px,#481f70 0 75.8px,#482475 0 83.8px,#472e7c 0 91.7px,#463480 0 99.7px,#414287 0 107.7px,#404588 0 115.7px,#3b528b 0 123.6px,#38598c 0 131.6px,#32658e 0 139.6px,#33638d 0 147.6px,#2f6b8e 0 155.5px,#2d708e 0 163.5px,#2b758e 0 171.5px,#297a8e 0 179.5px,#27808e 0 187.4px,#25858e 0 195.4px,#238a8d 0 203.4px,#218f8d 0 211.4px,#1f948c 0 219.3px,#1f988b 0 227.3px,#1e9d89 0 235.3px,#1fa187 0 243.3px,#22a785 0 251.2px,#27ad81 0 259.2px,#2db27d 0 267.2px,#32b67a 0 275.2px,#38b977 0 283.2px,#3fbc73 0 291.1px,#46c06f 0 299.1px,#4ec36b 0 307.1px,#56c667 0 315.1px,#60ca60 0 323.0px,#70cf57 0 331.0px,#84d44b 0 339.0px,#95d840 0 347.0px,#a5db36 0 354.9px,#addc30 0 362.9px,#b0dd2f 0 370.9px,#addc30 0 378.9px,#a8db34 0 386.8px,#a2da37 0 402.8px,#9dd93b 0 410.8px,#9bd93c 0 418.8px,#95d840 0 426.7px,#8ed645 0 434.7px,#86d549 0 442.7px,#7cd250 0 450.7px,#6ccd5a 0 458.6px,#5cc863 0 466.6px,#4ac16d 0 474.6px,#35b779 0 482.6px,#27ad81 0 490.5px,#1fa287 0 498.5px,#1f968b 0 506.5px,#228b8d 0 514.5px,#26818e 0 522.4px,#2a768e 0 530.4px,#297b8e 0 538.4px,#440154 0 546.4px,#26ad81 0 554.3px,#46085c 0 562.3px,#404688 0 570.3px,#453581 0 578.3px,#443983 0 586.2px,#46307e 0 594.2px,#453882 0 602.2px,#404588 0 610.2px,#443a83 0 618.2px,#424186 0 626.1px,#3a548c 0 634.1px,#375b8d 0 642.1px,#424086 0 650.1px,#375a8c 0 658.0px,#3c4f8a 0 666.0px,#404588 0)"></i><i style="left:790px;width:34px;background:linear-gradient(#46085c 0 4.0px,#440256 0 12.0px,#440154 0 19.9px,#440256 0 35.9px,#440154 0 43.9px,#440256 0 51.8px,#470d60 0 59.8px,#481467 0 67.8px,#481f70 0 75.8px,#482677 0 83.8px,#472c7a 0 91.7px,#443b84 0 99.7px,#443983 0 107.7px,#3e4a89 0 115.7px,#39558c 0 123.6px,#38598c 0 131.6px,#365c8d 0 139.6px,#32648e 0 147.6px,#2d708e 0 155.5px,#2d718e 0 163.5px,#2a768e 0 171.5px,#297b8e 0 179.5px,#26818e 0 187.4px,#25858e 0 195.4px,#228b8d 0 203.4px,#21908d 0 211.4px,#1f958b 0 219.3px,#1f998a 0 227.3px,#1f9e89 0 235.3px,#1fa287 0 243.3px,#22a884 0 251.2px,#27ad81 0 259.2px,#31b57b 0 267.2px,#37b878 0 275.2px,#3fbc73 0 283.2px,#46c06f 0 291.1px,#4cc26c 0 299.1px,#54c568 0 307.1px,#5ec962 0 315.1px,#69cd5b 0 323.0px,#77d153 0 331.0px,#8bd646 0 339.0px,#9dd93b 0 347.0px,#addc30 0 354.9px,#b8de29 0 362.9px,#bade28 0 370.9px,#b8de29 0 378.9px,#b2dd2d 0 386.8px,#b0dd2f 0 394.8px,#addc30 0 402.8px,#aadc32 0 410.8px,#a8db34 0 418.8px,#a5db36 0 426.7px,#9bd93c 0 434.7px,#93d741 0 442.7px,#8bd646 0 450.7px,#7ad151 0 458.6px,#69cd5b 0 466.6px,#58c765 0 474.6px,#40bd72 0 482.6px,#2fb47c 0 490.5px,#24aa83 0 498.5px,#1e9d89 0 506.5px,#20928c 0 514.5px,#24868e 0 522.4px,#297b8e 0 530.4px,#2c728e 0 538.4px,#2a768e 0 546.4px,#38588c 0 554.3px,#2e6e8e 0 562.3px,#30698e 0 570.3px,#38588c 0 578.3px,#3e4c8a 0 586.2px,#375a8c 0 594.2px,#33638d 0 602.2px,#34618d 0 610.2px,#32658e 0 618.2px,#33628d 0 626.1px,#306a8e 0 634.1px,#2d708e 0 642.1px,#31688e 0 650.1px,#2b748e 0 658.0px,#2d718e 0 666.0px,#34618d 0)"></i><i style="left:824px;width:35px;background:linear-gradient(#440154 0 12.0px,#440256 0 19.9px,#440154 0 51.8px,#481467 0 59.8px,#481d6f 0 67.8px,#482071 0 75.8px,#472c7a 0 83.8px,#46337f 0 99.7px,#424086 0 107.7px,#3e4989 0 115.7px,#3b518b 0 123.6px,#38598c 0 131.6px,#34618d 0 139.6px,#33638d 0 147.6px,#2e6e8e 0 155.5px,#2d708e 0 163.5px,#2b758e 0 171.5px,#297a8e 0 179.5px,#27808e 0 187.4px,#25848e 0 195.4px,#238a8d 0 203.4px,#218f8d 0 211.4px,#20938c 0 219.3px,#1f988b 0 227.3px,#1e9d89 0 235.3px,#1fa187 0 243.3px,#22a785 0 251.2px,#26ad81 0 259.2px,#2cb17e 0 267.2px,#32b67a 0 275.2px,#38b977 0 283.2px,#3fbc73 0 291.1px,#44bf70 0 299.1px,#4cc26c 0 307.1px,#56c667 0 315.1px,#60ca60 0 323.0px,#6ece58 0 331.0px,#81d34d 0 339.0px,#93d741 0 347.0px,#a2da37 0 354.9px,#addc30 0 362.9px,#b0dd2f 0 370.9px,#addc30 0 378.9px,#a8db34 0 386.8px,#a5db36 0 402.8px,#a2da37 0 410.8px,#9dd93b 0 418.8px,#9bd93c 0 426.7px,#93d741 0 434.7px,#89d548 0 442.7px,#81d34d 0 450.7px,#70cf57 0 458.6px,#5ec962 0 466.6px,#4ec36b 0 474.6px,#38b977 0 482.6px,#29af7f 0 490.5px,#20a486 0 498.5px,#1f988b 0 506.5px,#228d8d 0 514.5px,#26828e 0 522.4px,#2a778e 0 530.4px,#2e6f8e 0 538.4px,#30698e 0 546.4px,#355e8d 0 554.3px,#365d8d 0 562.3px,#443b84 0 570.3px,#3e4a89 0 578.3px,#46307e 0 586.2px,#3c508b 0 594.2px,#365c8d 0 602.2px,#34618d 0 610.2px,#38588c 0 618.2px,#375b8d 0 626.1px,#2e6d8e 0 642.1px,#306a8e 0 650.1px,#31668e 0 658.0px,#355f8d 0 666.0px,#33638d 0)"></i><i style="left:859px;width:34px;background:linear-gradient(#440154 0 35.9px,#440256 0 43.9px,#440154 0 51.8px,#470d60 0 59.8px,#471365 0 67.8px,#481b6d 0 75.8px,#482071 0 83.8px,#453581 0 91.7px,#453882 0 99.7px,#423f85 0 107.7px,#3f4788 0 115.7px,#3b518b 0 123.6px,#38588c 0 131.6px,#365d8d 0 139.6px,#34618d 0 147.6px,#2f6b8e 0 155.5px,#2d708e 0 163.5px,#2a768e 0 171.5px,#297b8e 0 179.5px,#26818e 0 187.4px,#25858e 0 195.4px,#228b8d 0 203.4px,#21908d 0 211.4px,#1f948c 0 219.3px,#1f998a 0 227.3px,#1f9e89 0 235.3px,#1fa287 0 243.3px,#22a884 0 251.2px,#27ad81 0 259.2px,#2ab07f 0 267.2px,#2fb47c 0 275.2px,#35b779 0 283.2px,#3bbb75 0 291.1px,#42be71 0 299.1px,#4ac16d 0 307.1px,#52c569 0 315.1px,#5cc863 0 323.0px,#69cd5b 0 331.0px,#7cd250 0 339.0px,#8ed645 0 347.0px,#9dd93b 0 354.9px,#a8db34 0 362.9px,#aadc32 0 370.9px,#a8db34 0 378.9px,#a5db36 0 386.8px,#a2da37 0 394.8px,#a0da39 0 402.8px,#9bd93c 0 410.8px,#98d83e 0 418.8px,#90d743 0 426.7px,#89d548 0 434.7px,#7fd34e 0 442.7px,#73d056 0 450.7px,#63cb5f 0 458.6px,#52c569 0 466.6px,#3fbc73 0 474.6px,#2eb37c 0 482.6px,#23a983 0 490.5px,#1e9d89 0 498.5px,#21918c 0 506.5px,#25858e 0 514.5px,#297b8e 0 522.4px,#2c738e 0 530.4px,#2b748e 0 538.4px,#2d708e 0 546.4px,#32648e 0 554.3px,#2e6d8e 0 562.3px,#31668e 0 570.3px,#31678e 0 578.3px,#3a548c 0 586.2px,#3c508b 0 594.2px,#30698e 0 602.2px,#2e6e8e 0 610.2px,#2e6d8e 0 618.2px,#33638d 0 626.1px,#2d718e 0 634.1px,#2e6d8e 0 642.1px,#26828e 0 650.1px,#2c718e 0 658.0px,#2e6f8e 0 666.0px,#2f6c8e 0)"></i><i style="left:893px;width:34px;background:linear-gradient(#440154 0 35.9px,#460a5d 0 43.9px,#450457 0 51.8px,#470d60 0 59.8px,#481b6d 0 67.8px,#481d6f 0 75.8px,#472a7a 0 83.8px,#472d7b 0 91.7px,#453882 0 99.7px,#424086 0 107.7px,#414487 0 115.7px,#3b528b 0 123.6px,#3b518b 0 131.6px,#355e8d 0 139.6px,#31678e 0 147.6px,#33638d 0 155.5px,#2d708e 0 163.5px,#2b758e 0 171.5px,#297a8e 0 179.5px,#27808e 0 187.4px,#25848e 0 195.4px,#238a8d 0 203.4px,#218f8d 0 211.4px,#20938c 0 219.3px,#1f988b 0 227.3px,#1e9d89 0 235.3px,#1fa187 0 243.3px,#21a685 0 251.2px,#25ac82 0 259.2px,#2ab07f 0 267.2px,#2fb47c 0 275.2px,#37b878 0 283.2px,#3bbb75 0 291.1px,#42be71 0 299.1px,#4ac16d 0 307.1px,#54c568 0 315.1px,#5ec962 0 323.0px,#6ccd5a 0 331.0px,#7cd250 0 339.0px,#8ed645 0 347.0px,#9dd93b 0 354.9px,#a8db34 0 362.9px,#addc30 0 370.9px,#aadc32 0 378.9px,#a8db34 0 394.8px,#a5db36 0 402.8px,#a2da37 0 410.8px,#a0da39 0 418.8px,#9bd93c 0 426.7px,#90d743 0 434.7px,#89d548 0 442.7px,#7fd34e 0 450.7px,#6ece58 0 458.6px,#5cc863 0 466.6px,#4ac16d 0 474.6px,#37b878 0 482.6px,#27ad81 0 490.5px,#20a386 0 498.5px,#1f968b 0 506.5px,#228b8d 0 514.5px,#26818e 0 522.4px,#2a768e 0 530.4px,#2b758e 0 538.4px,#2a788e 0 546.4px,#31678e 0 554.3px,#355e8d 0 562.3px,#33628d 0 570.3px,#32648e 0 578.3px,#423f85 0 586.2px,#440154 0 594.2px,#21918c 0 602.2px,#440154 0 610.2px,#25848e 0 618.2px,#440154 0 626.1px,#3d4e8a 0 634.1px,#2c718e 0 642.1px,#355e8d 0 650.1px,#2f6c8e 0 658.0px,#355e8d 0 666.0px,#32648e 0)"></i><i style="left:927px;width:35px;background:linear-gradient(#440154 0 4.0px,#450457 0 12.0px,#440256 0 19.9px,#450559 0 27.9px,#440154 0 43.9px,#460b5e 0 51.8px,#470e61 0 59.8px,#481668 0 67.8px,#482374 0 75.8px,#482576 0 83.8px,#46327e 0 91.7px,#453882 0 99.7px,#424086 0 107.7px,#3f4788 0 115.7px,#3c508b 0 123.6px,#3a548c 0 131.6px,#365d8d 0 139.6px,#355e8d 0 147.6px,#31678e 0 155.5px,#2e6e8e 0 163.5px,#2c738e 0 171.5px,#29798e 0 179.5px,#277e8e 0 187.4px,#25838e 0 195.4px,#23888e 0 203.4px,#218e8d 0 211.4px,#20928c 0 219.3px,#1f978b 0 227.3px,#1e9b8a 0 235.3px,#1fa088 0 243.3px,#21a585 0 251.2px,#25ab82 0 259.2px,#27ad81 0 267.2px,#2cb17e 0 275.2px,#31b57b 0 283.2px,#37b878 0 291.1px,#3bbb75 0 299.1px,#42be71 0 307.1px,#4cc26c 0 315.1px,#56c667 0 323.0px,#63cb5f 0 331.0px,#73d056 0 339.0px,#84d44b 0 347.0px,#93d741 0 354.9px,#9dd93b 0 362.9px,#a2da37 0 378.9px,#a0da39 0 386.8px,#9dd93b 0 402.8px,#9bd93c 0 410.8px,#95d840 0 418.8px,#90d743 0 426.7px,#89d548 0 434.7px,#7fd34e 0 442.7px,#75d054 0 450.7px,#65cb5e 0 458.6px,#54c568 0 466.6px,#44bf70 0 474.6px,#31b57b 0 482.6px,#25ab82 0 490.5px,#1fa088 0 498.5px,#20938c 0 506.5px,#24878e 0 514.5px,#287d8e 0 522.4px,#2c728e 0 538.4px,#30698e 0 546.4px,#375b8d 0 554.3px,#3e4c8a 0 562.3px,#42be71 0 570.3px,#470d60 0 578.3px,#21918c 0 586.2px,#481467 0 594.2px,#42be71 0 602.2px,#470d60 0 610.2px,#25848e 0 618.2px,#440154 0 626.1px,#31668e 0 634.1px,#33638d 0 642.1px,#365d8d 0 650.1px,#355f8d 0 658.0px,#365c8d 0 666.0px,#375a8c 0)"></i><i style="left:962px;width:34px;background:linear-gradient(#450457 0 4.0px,#46075a 0 12.0px,#440154 0 19.9px,#46075a 0 27.9px,#440256 0 35.9px,#440154 0 51.8px,#481467 0 59.8px,#481a6c 0 67.8px,#481c6e 0 75.8px,#472d7b 0 83.8px,#472f7d 0 91.7px,#46337f 0 99.7px,#414487 0 107.7px,#3e4c8a 0 115.7px,#3c4f8a 0 123.6px,#375a8c 0 131.6px,#355f8d 0 139.6px,#306a8e 0 147.6px,#2e6d8e 0 155.5px,#2d718e 0 163.5px,#2a768e 0 171.5px,#287c8e 0 179.5px,#26818e 0 187.4px,#24868e 0 195.4px,#228b8d 0 203.4px,#21918c 0 211.4px,#1f958b 0 219.3px,#1f9a8a 0 227.3px,#1f9e89 0 235.3px,#1fa287 0 243.3px,#22a884 0 251.2px,#27ad81 0 259.2px,#2eb37c 0 267.2px,#34b679 0 275.2px,#3aba76 0 283.2px,#40bd72 0 291.1px,#48c16e 0 299.1px,#50c46a 0 307.1px,#58c765 0 315.1px,#63cb5f 0 323.0px,#70cf57 0 331.0px,#81d34d 0 339.0px,#93d741 0 347.0px,#a2da37 0 354.9px,#addc30 0 362.9px,#b2dd2d 0 386.8px,#b0dd2f 0 402.8px,#addc30 0 410.8px,#a8db34 0 418.8px,#a2da37 0 426.7px,#98d83e 0 434.7px,#90d743 0 442.7px,#84d44b 0 450.7px,#73d056 0 458.6px,#60ca60 0 466.6px,#4ec36b 0 474.6px,#38b977 0 482.6px,#29af7f 0 490.5px,#20a486 0 498.5px,#1f988b 0 506.5px,#228d8d 0 514.5px,#26828e 0 522.4px,#29798e 0 530.4px,#2e6f8e 0 538.4px,#32658e 0 546.4px,#38588c 0 554.3px,#375b8d 0 562.3px,#3f4788 0 570.3px,#3b518b 0 578.3px,#3f4788 0 586.2px,#424086 0 594.2px,#3e4989 0 602.2px,#375a8c 0 610.2px,#31668e 0 618.2px,#39568c 0 626.1px,#375a8c 0 634.1px,#365d8d 0 642.1px,#2f6c8e 0 650.1px,#38598c 0 666.0px,#375b8d 0)"></i><i style="left:996px;width:34px;background:linear-gradient(#46075a 0 4.0px,#440154 0 27.9px,#450559 0 35.9px,#440256 0 43.9px,#46075a 0 51.8px,#470e61 0 59.8px,#48186a 0 67.8px,#482475 0 75.8px,#482979 0 83.8px,#46307e 0 91.7px,#453581 0 99.7px,#433e85 0 107.7px,#3f4889 0 115.7px,#3b528b 0 123.6px,#3a538b 0 131.6px,#365c8d 0 139.6px,#306a8e 0 147.6px,#32648e 0 155.5px,#2d708e 0 163.5px,#2a768e 0 171.5px,#297b8e 0 179.5px,#26818e 0 187.4px,#25858e 0 195.4px,#238a8d 0 203.4px,#21908d 0 211.4px,#1f948c 0 219.3px,#1f988b 0 227.3px,#1e9d89 0 235.3px,#1fa187 0 243.3px,#22a785 0 251.2px,#26ad81 0 259.2px,#2ab07f 0 267.2px,#2fb47c 0 275.2px,#35b779 0 283.2px,#3bbb75 0 291.1px,#42be71 0 299.1px,#4ac16d 0 307.1px,#52c569 0 315.1px,#5cc863 0 323.0px,#69cd5b 0 331.0px,#7ad151 0 339.0px,#8bd646 0 347.0px,#9bd93c 0 354.9px,#a5db36 0 362.9px,#aadc32 0 370.9px,#addc30 0 378.9px,#aadc32 0 402.8px,#a5db36 0 410.8px,#a2da37 0 418.8px,#9bd93c 0 426.7px,#93d741 0 434.7px,#89d548 0 442.7px,#7cd250 0 450.7px,#6ccd5a 0 458.6px,#5ac864 0 466.6px,#48c16e 0 474.6px,#34b679 0 482.6px,#26ad81 0 490.5px,#1fa187 0 498.5px,#1f948c 0 506.5px,#23898e 0 514.5px,#277f8e 0 522.4px,#2a768e 0 530.4px,#31688e 0 538.4px,#2d708e 0 546.4px,#2e6e8e 0 554.3px,#365d8d 0 562.3px,#31688e 0 570.3px,#404688 0 578.3px,#424086 0 586.2px,#3f4788 0 594.2px,#404688 0 602.2px,#33628d 0 610.2px,#365d8d 0 618.2px,#375b8d 0 634.1px,#375a8c 0 642.1px,#2f6c8e 0 650.1px,#21918c 0 658.0px,#470d60 0 666.0px,#306a8e 0)"></i><i style="left:1030px;width:35px;background:linear-gradient(#450559 0 4.0px,#450457 0 12.0px,#440154 0 43.9px,#46085c 0 59.8px,#481769 0 67.8px,#482071 0 75.8px,#472d7b 0 83.8px,#46327e 0 91.7px,#453882 0 99.7px,#423f85 0 107.7px,#3f4889 0 115.7px,#3b528b 0 123.6px,#3b518b 0 131.6px,#38598c 0 139.6px,#34618d 0 147.6px,#31668e 0 155.5px,#2e6f8e 0 163.5px,#2c728e 0 171.5px,#2a788e 0 179.5px,#287d8e 0 187.4px,#26828e 0 195.4px,#24878e 0 203.4px,#228c8d 0 211.4px,#20928c 0 219.3px,#1f958b 0 227.3px,#1f9a8a 0 235.3px,#1f9f88 0 243.3px,#20a386 0 251.2px,#23a983 0 259.2px,#27ad81 0 267.2px,#2cb17e 0 275.2px,#31b57b 0 283.2px,#37b878 0 291.1px,#3dbc74 0 299.1px,#44bf70 0 307.1px,#4cc26c 0 315.1px,#56c667 0 323.0px,#63cb5f 0 331.0px,#73d056 0 339.0px,#84d44b 0 347.0px,#93d741 0 354.9px,#9dd93b 0 362.9px,#a5db36 0 370.9px,#a8db34 0 402.8px,#a5db36 0 410.8px,#a2da37 0 418.8px,#9dd93b 0 426.7px,#95d840 0 434.7px,#8bd646 0 442.7px,#81d34d 0 450.7px,#73d056 0 458.6px,#63cb5f 0 466.6px,#52c569 0 474.6px,#3dbc74 0 482.6px,#2db27d 0 490.5px,#22a884 0 498.5px,#1e9c89 0 506.5px,#21908d 0 514.5px,#25848e 0 522.4px,#2a778e 0 530.4px,#297b8e 0 538.4px,#31678e 0 546.4px,#38588c 0 554.3px,#33628d 0 562.3px,#25848e 0 570.3px,#46085c 0 578.3px,#5cc863 0 586.2px,#440154 0 594.2px,#42be71 0 602.2px,#481467 0 610.2px,#21918c 0 618.2px,#46085c 0 626.1px,#25848e 0 634.1px,#46085c 0 642.1px,#31678e 0 650.1px,#5cc863 0 658.0px,#440154 0 666.0px,#3c508b 0)"></i><i style="left:1065px;width:34px;background:linear-gradient(#470d60 0 4.0px,#440154 0 12.0px,#440256 0 19.9px,#440154 0 27.9px,#450457 0 35.9px,#450559 0 43.9px,#46085c 0 51.8px,#481467 0 59.8px,#471365 0 67.8px,#482071 0 75.8px,#482979 0 83.8px,#472f7d 0 91.7px,#46327e 0 99.7px,#423f85 0 107.7px,#3f4889 0 115.7px,#3d4d8a 0 123.6px,#39568c 0 131.6px,#355e8d 0 139.6px,#33628d 0 147.6px,#2f6b8e 0 155.5px,#2d718e 0 163.5px,#2a768e 0 171.5px,#287c8e 0 179.5px,#26818e 0 187.4px,#24868e 0 195.4px,#228b8d 0 203.4px,#21908d 0 211.4px,#1f958b 0 219.3px,#1f998a 0 227.3px,#1f9e89 0 235.3px,#1fa287 0 243.3px,#22a785 0 251.2px,#26ad81 0 259.2px,#2db27d 0 267.2px,#32b67a 0 275.2px,#38b977 0 283.2px,#3fbc73 0 291.1px,#46c06f 0 299.1px,#4ec36b 0 307.1px,#56c667 0 315.1px,#60ca60 0 323.0px,#6ccd5a 0 331.0px,#7fd34e 0 339.0px,#8ed645 0 347.0px,#9dd93b 0 354.9px,#aadc32 0 362.9px,#b0dd2f 0 370.9px,#b2dd2d 0 402.8px,#b0dd2f 0 410.8px,#aadc32 0 418.8px,#a5db36 0 426.7px,#9bd93c 0 434.7px,#90d743 0 442.7px,#84d44b 0 450.7px,#73d056 0 458.6px,#63cb5f 0 466.6px,#4ec36b 0 474.6px,#3aba76 0 482.6px,#2ab07f 0 490.5px,#21a585 0 498.5px,#1f998a 0 506.5px,#228d8d 0 514.5px,#26828e 0 522.4px,#29798e 0 530.4px,#2d718e 0 538.4px,#32648e 0 546.4px,#355e8d 0 554.3px,#3d4e8a 0 562.3px,#3a548c 0 570.3px,#3b528b 0 578.3px,#3d4d8a 0 586.2px,#443a83 0 594.2px,#375a8c 0 602.2px,#3e4a89 0 610.2px,#3d4d8a 0 618.2px,#355e8d 0 626.1px,#33638d 0 634.1px,#34618d 0 642.1px,#375a8c 0 650.1px,#355e8d 0 658.0px,#38588c 0 666.0px,#39558c 0)"></i><i style="left:1099px;width:34px;background:linear-gradient(#460b5e 0 4.0px,#470d60 0 12.0px,#440154 0 43.9px,#46085c 0 51.8px,#460b5e 0 59.8px,#482071 0 75.8px,#482878 0 83.8px,#46307e 0 91.7px,#443b84 0 99.7px,#423f85 0 107.7px,#3f4788 0 115.7px,#3d4e8a 0 123.6px,#3b528b 0 131.6px,#365c8d 0 139.6px,#34608d 0 147.6px,#2f6c8e 0 155.5px,#2e6f8e 0 163.5px,#2b758e 0 171.5px,#297a8e 0 179.5px,#27808e 0 187.4px,#25848e 0 195.4px,#23898e 0 203.4px,#218f8d 0 211.4px,#20938c 0 219.3px,#1f978b 0 227.3px,#1e9c89 0 235.3px,#1fa188 0 243.3px,#21a585 0 251.2px,#25ab82 0 259.2px,#27ad81 0 267.2px,#2cb17e 0 275.2px,#31b57b 0 283.2px,#37b878 0 291.1px,#3bbb75 0 299.1px,#42be71 0 307.1px,#4cc26c 0 315.1px,#54c568 0 323.0px,#60ca60 0 331.0px,#70cf57 0 339.0px,#81d34d 0 347.0px,#90d743 0 354.9px,#9bd93c 0 362.9px,#a2da37 0 370.9px,#a5db36 0 402.8px,#a2da37 0 410.8px,#9dd93b 0 418.8px,#98d83e 0 426.7px,#8ed645 0 434.7px,#84d44b 0 442.7px,#77d153 0 450.7px,#65cb5e 0 458.6px,#56c667 0 466.6px,#42be71 0 474.6px,#2fb47c 0 482.6px,#25ab82 0 490.5px,#1f9f88 0 498.5px,#20928c 0 506.5px,#24878e 0 514.5px,#287d8e 0 522.4px,#2c738e 0 530.4px,#2e6e8e 0 538.4px,#2a788e 0 546.4px,#31688e 0 554.3px,#2c738e 0 570.3px,#2c718e 0 578.3px,#306a8e 0 586.2px,#3a548c 0 594.2px,#2e6e8e 0 602.2px,#365d8d 0 610.2px,#2c728e 0 618.2px,#2a768e 0 626.1px,#297a8e 0 634.1px,#2c738e 0 642.1px,#2d708e 0 650.1px,#2f6b8e 0 658.0px,#2a778e 0 666.0px,#2e6d8e 0)"></i><i style="left:1133px;width:35px;background:linear-gradient(#450457 0 4.0px,#440256 0 12.0px,#440154 0 35.9px,#460b5e 0 43.9px,#450457 0 51.8px,#471164 0 59.8px,#481f70 0 67.8px,#482878 0 75.8px,#46307e 0 83.8px,#463480 0 91.7px,#443a83 0 99.7px,#404588 0 107.7px,#404688 0 115.7px,#3c508b 0 123.6px,#39558c 0 131.6px,#365c8d 0 139.6px,#32648e 0 147.6px,#2f6b8e 0 155.5px,#2d708e 0 163.5px,#2b748e 0 171.5px,#297a8e 0 179.5px,#277f8e 0 187.4px,#25848e 0 195.4px,#23898e 0 203.4px,#218f8d 0 211.4px,#20938c 0 219.3px,#1f978b 0 227.3px,#1e9c89 0 235.3px,#1fa188 0 243.3px,#21a585 0 251.2px,#24aa83 0 259.2px,#29af7f 0 267.2px,#2eb37c 0 275.2px,#34b679 0 283.2px,#3aba76 0 291.1px,#40bd72 0 299.1px,#48c16e 0 307.1px,#50c46a 0 315.1px,#5ac864 0 323.0px,#67cc5c 0 331.0px,#75d054 0 339.0px,#86d549 0 347.0px,#95d840 0 354.9px,#a2da37 0 362.9px,#a8db34 0 370.9px,#addc30 0 386.8px,#b0dd2f 0 402.8px,#addc30 0 410.8px,#aadc32 0 418.8px,#a5db36 0 426.7px,#9bd93c 0 434.7px,#90d743 0 442.7px,#86d549 0 450.7px,#75d054 0 458.6px,#65cb5e 0 466.6px,#52c569 0 474.6px,#3dbc74 0 482.6px,#2db27d 0 490.5px,#22a884 0 498.5px,#1e9b8a 0 506.5px,#21908d 0 514.5px,#25848e 0 522.4px,#29798e 0 530.4px,#2b758e 0 538.4px,#31678e 0 546.4px,#32648e 0 554.3px,#30698e 0 562.3px,#355e8d 0 570.3px,#3f4889 0 578.3px,#3b528b 0 586.2px,#3d4d8a 0 594.2px,#3f4788 0 602.2px,#414487 0 610.2px,#38598c 0 618.2px,#38588c 0 626.1px,#31688e 0 634.1px,#2d708e 0 642.1px,#2b758e 0 650.1px,#32658e 0 658.0px,#375b8d 0 666.0px,#3a548c 0)"></i><i style="left:1168px;width:34px;background:linear-gradient(#440154 0 19.9px,#440256 0 27.9px,#440154 0 51.8px,#470d60 0 59.8px,#481668 0 67.8px,#482677 0 75.8px,#482979 0 83.8px,#46307e 0 99.7px,#433e85 0 107.7px,#3e4989 0 115.7px,#3c4f8a 0 123.6px,#3b528b 0 131.6px,#375a8c 0 139.6px,#31678e 0 155.5px,#2e6e8e 0 163.5px,#2c738e 0 171.5px,#2a788e 0 179.5px,#277e8e 0 187.4px,#26828e 0 195.4px,#23888e 0 203.4px,#228d8d 0 211.4px,#20928c 0 219.3px,#1f968b 0 227.3px,#1f9a8a 0 235.3px,#1f9f88 0 243.3px,#20a386 0 251.2px,#23a983 0 259.2px,#25ab82 0 267.2px,#28ae80 0 275.2px,#2db27d 0 283.2px,#32b67a 0 291.1px,#38b977 0 299.1px,#3fbc73 0 307.1px,#46c06f 0 315.1px,#50c46a 0 323.0px,#5ac864 0 331.0px,#69cd5b 0 339.0px,#7ad151 0 347.0px,#86d549 0 354.9px,#93d741 0 362.9px,#9bd93c 0 370.9px,#a0da39 0 378.9px,#a2da37 0 394.8px,#a5db36 0 402.8px,#a2da37 0 410.8px,#9dd93b 0 418.8px,#98d83e 0 426.7px,#8ed645 0 434.7px,#84d44b 0 442.7px,#77d153 0 450.7px,#67cc5c 0 458.6px,#58c765 0 466.6px,#46c06f 0 474.6px,#34b679 0 482.6px,#26ad81 0 490.5px,#1fa187 0 498.5px,#1f958b 0 506.5px,#23898e 0 514.5px,#277f8e 0 522.4px,#2c738e 0 530.4px,#2e6e8e 0 538.4px,#31688e 0 546.4px,#33628d 0 554.3px,#31688e 0 562.3px,#3a548c 0 570.3px,#38588c 0 578.3px,#3d4e8a 0 586.2px,#414287 0 594.2px,#375a8c 0 602.2px,#2f6b8e 0 610.2px,#306a8e 0 618.2px,#31678e 0 626.1px,#2f6b8e 0 634.1px,#2c738e 0 642.1px,#2d708e 0 650.1px,#355f8d 0 658.0px,#31678e 0 666.0px,#2e6e8e 0)"></i><i style="left:1202px;width:34px;background:linear-gradient(#440154 0 4.0px,#450559 0 12.0px,#440256 0 19.9px,#440154 0 51.8px,#460a5d 0 59.8px,#481b6d 0 67.8px,#481f70 0 75.8px,#472c7a 0 83.8px,#482979 0 91.7px,#453882 0 99.7px,#433e85 0 107.7px,#3f4889 0 115.7px,#3d4d8a 0 123.6px,#3a548c 0 131.6px,#365d8d 0 139.6px,#31678e 0 147.6px,#30698e 0 155.5px,#2e6f8e 0 163.5px,#2b748e 0 171.5px,#297a8e 0 179.5px,#277f8e 0 187.4px,#25838e 0 195.4px,#23898e 0 203.4px,#218e8d 0 211.4px,#20928c 0 219.3px,#1f978b 0 227.3px,#1e9b8a 0 235.3px,#1fa088 0 243.3px,#20a486 0 251.2px,#24aa83 0 259.2px,#27ad81 0 267.2px,#2cb17e 0 275.2px,#31b57b 0 283.2px,#37b878 0 291.1px,#3dbc74 0 299.1px,#44bf70 0 307.1px,#4cc26c 0 315.1px,#54c568 0 323.0px,#60ca60 0 331.0px,#6ece58 0 339.0px,#7fd34e 0 347.0px,#8bd646 0 354.9px,#9bd93c 0 362.9px,#a2da37 0 370.9px,#a5db36 0 378.9px,#a8db34 0 386.8px,#aadc32 0 394.8px,#addc30 0 402.8px,#aadc32 0 410.8px,#a5db36 0 418.8px,#a0da39 0 426.7px,#95d840 0 434.7px,#8bd646 0 442.7px,#7fd34e 0 450.7px,#6ece58 0 458.6px,#5cc863 0 466.6px,#4ac16d 0 474.6px,#37b878 0 482.6px,#28ae80 0 490.5px,#20a386 0 498.5px,#1f978b 0 506.5px,#228c8d 0 514.5px,#26818e 0 522.4px,#2a768e 0 530.4px,#32658e 0 538.4px,#2d708e 0 546.4px,#2c718e 0 554.3px,#365c8d 0 562.3px,#21918c 0 570.3px,#481467 0 578.3px,#38588c 0 594.2px,#3b518b 0 602.2px,#2f6c8e 0 610.2px,#2e6f8e 0 618.2px,#355f8d 0 626.1px,#2e6e8e 0 634.1px,#2b758e 0 642.1px,#2d708e 0 650.1px,#2a788e 0 658.0px,#2f6c8e 0 666.0px,#2a788e 0)"></i><i style="left:1236px;width:35px;background:linear-gradient(#440154 0 27.9px,#440256 0 35.9px,#440154 0 43.9px,#450559 0 51.8px,#470e61 0 59.8px,#481467 0 67.8px,#482374 0 75.8px,#482878 0 83.8px,#472d7b 0 91.7px,#443b84 0 99.7px,#453581 0 107.7px,#3e4a89 0 115.7px,#3b518b 0 123.6px,#38588c 0 131.6px,#34618d 0 147.6px,#30698e 0 155.5px,#2e6e8e 0 163.5px,#2c738e 0 171.5px,#2a788e 0 179.5px,#287d8e 0 187.4px,#26828e 0 195.4px,#24878e 0 203.4px,#228d8d 0 211.4px,#20928c 0 219.3px,#1f968b 0 227.3px,#1f9a8a 0 235.3px,#1f9f88 0 243.3px,#20a386 0 251.2px,#22a884 0 259.2px,#25ac82 0 267.2px,#29af7f 0 275.2px,#2eb37c 0 283.2px,#34b679 0 291.1px,#3aba76 0 299.1px,#40bd72 0 307.1px,#48c16e 0 315.1px,#50c46a 0 323.0px,#5cc863 0 331.0px,#69cd5b 0 339.0px,#7ad151 0 347.0px,#86d549 0 354.9px,#93d741 0 362.9px,#9dd93b 0 370.9px,#a2da37 0 378.9px,#a5db36 0 386.8px,#a8db34 0 410.8px,#a2da37 0 418.8px,#9dd93b 0 426.7px,#93d741 0 434.7px,#89d548 0 442.7px,#7fd34e 0 450.7px,#6ece58 0 458.6px,#5ec962 0 466.6px,#4ec36b 0 474.6px,#38b977 0 482.6px,#29af7f 0 490.5px,#21a585 0 498.5px,#1f998a 0 506.5px,#228d8d 0 514.5px,#26828e 0 522.4px,#2a768e 0 530.4px,#277e8e 0 538.4px,#365c8d 0 546.4px,#1e9c89 0 554.3px,#440154 0 562.3px,#5cc863 0 570.3px,#470d60 0 578.3px,#21918c 0 586.2px,#470d60 0 594.2px,#433d84 0 602.2px,#33638d 0 618.2px,#355f8d 0 626.1px,#31668e 0 634.1px,#31678e 0 642.1px,#2c728e 0 650.1px,#42be71 0 658.0px,#440154 0 666.0px,#355f8d 0)"></i><i style="left:1271px;width:34px;background:linear-gradient(#440154 0 12.0px,#46075a 0 19.9px,#470e61 0 27.9px,#450559 0 35.9px,#440154 0 51.8px,#460b5e 0 59.8px,#481d6f 0 67.8px,#482173 0 75.8px,#472a7a 0 83.8px,#472e7c 0 91.7px,#443983 0 99.7px,#414287 0 107.7px,#3d4d8a 0 115.7px,#375b8d 0 123.6px,#38588c 0 131.6px,#365d8d 0 139.6px,#31668e 0 147.6px,#2f6b8e 0 155.5px,#2d718e 0 163.5px,#2b758e 0 171.5px,#297b8e 0 179.5px,#27808e 0 187.4px,#25848e 0 195.4px,#238a8d 0 203.4px,#218f8d 0 211.4px,#20938c 0 219.3px,#1f988b 0 227.3px,#1e9c89 0 235.3px,#1fa188 0 243.3px,#21a585 0 251.2px,#25ab82 0 259.2px,#2ab07f 0 267.2px,#2fb47c 0 275.2px,#35b779 0 283.2px,#3bbb75 0 291.1px,#42be71 0 299.1px,#4ac16d 0 307.1px,#52c569 0 315.1px,#5cc863 0 323.0px,#67cc5c 0 331.0px,#75d054 0 339.0px,#84d44b 0 347.0px,#93d741 0 354.9px,#a0da39 0 362.9px,#a8db34 0 370.9px,#b0dd2f 0 378.9px,#b2dd2d 0 386.8px,#b5de2b 0 394.8px,#b8de29 0 402.8px,#b5de2b 0 410.8px,#b2dd2d 0 418.8px,#aadc32 0 426.7px,#a0da39 0 434.7px,#95d840 0 442.7px,#8bd646 0 450.7px,#7ad151 0 458.6px,#67cc5c 0 466.6px,#56c667 0 474.6px,#40bd72 0 482.6px,#2fb47c 0 490.5px,#24aa83 0 498.5px,#1f9e89 0 506.5px,#20928c 0 514.5px,#24868e 0 522.4px,#297b8e 0 530.4px,#2b758e 0 538.4px,#2f6c8e 0 546.4px,#2e6e8e 0 554.3px,#30698e 0 562.3px,#38598c 0 570.3px,#33628d 0 578.3px,#3e4989 0 586.2px,#424186 0 594.2px,#33638d 0 610.2px,#2d718e 0 618.2px,#33638d 0 626.1px,#2c738e 0 634.1px,#2a778e 0 642.1px,#2d718e 0 650.1px,#2e6f8e 0 666.0px,#25858e 0)"></i><i style="left:1305px;width:34px;background:linear-gradient(#450559 0 4.0px,#440154 0 27.9px,#450457 0 35.9px,#440154 0 43.9px,#440256 0 51.8px,#471164 0 59.8px,#482071 0 67.8px,#481f70 0 75.8px,#472c7a 0 83.8px,#472e7c 0 91.7px,#463480 0 99.7px,#443b84 0 107.7px,#404688 0 115.7px,#3a548c 0 123.6px,#3a538b 0 131.6px,#34608d 0 139.6px,#31678e 0 147.6px,#31688e 0 155.5px,#2d718e 0 163.5px,#2a768e 0 171.5px,#297b8e 0 179.5px,#27808e 0 187.4px,#25858e 0 195.4px,#238a8d 0 203.4px,#21908d 0 211.4px,#1f948c 0 219.3px,#1f988b 0 227.3px,#1e9d89 0 235.3px,#1fa188 0 243.3px,#21a685 0 251.2px,#25ab82 0 259.2px,#2cb17e 0 267.2px,#31b57b 0 275.2px,#37b878 0 283.2px,#3dbc74 0 291.1px,#42be71 0 299.1px,#4cc26c 0 307.1px,#54c568 0 315.1px,#5cc863 0 323.0px,#67cc5c 0 331.0px,#75d054 0 339.0px,#84d44b 0 347.0px,#93d741 0 354.9px,#a0da39 0 362.9px,#aadc32 0 370.9px,#b0dd2f 0 378.9px,#b2dd2d 0 386.8px,#b5de2b 0 394.8px,#bade28 0 402.8px,#b8de29 0 410.8px,#b2dd2d 0 418.8px,#addc30 0 426.7px,#a2da37 0 434.7px,#98d83e 0 442.7px,#8bd646 0 450.7px,#7ad151 0 458.6px,#69cd5b 0 466.6px,#56c667 0 474.6px,#40bd72 0 482.6px,#2fb47c 0 490.5px,#24aa83 0 498.5px,#1f9e89 0 506.5px,#20928c 0 514.5px,#24868e 0 522.4px,#297b8e 0 530.4px,#277f8e 0 538.4px,#2f6c8e 0 546.4px,#32658e 0 554.3px,#355f8d 0 562.3px,#2f6b8e 0 570.3px,#3c4f8a 0 578.3px,#365d8d 0 586.2px,#3c4f8a 0 594.2px,#25848e 0 602.2px,#470d60 0 610.2px,#2f6b8e 0 618.2px,#306a8e 0 626.1px,#2e6f8e 0 634.1px,#2c728e 0 642.1px,#32648e 0 650.1px,#31688e 0 658.0px,#2f6b8e 0 666.0px,#33638d 0)"></i><i style="left:1339px;width:35px;background:linear-gradient(#450457 0 4.0px,#440154 0 12.0px,#450559 0 19.9px,#46075a 0 27.9px,#440154 0 35.9px,#450559 0 43.9px,#440256 0 51.8px,#471063 0 59.8px,#48186a 0 67.8px,#481d6f 0 75.8px,#482475 0 83.8px,#463480 0 91.7px,#453882 0 99.7px,#404588 0 107.7px,#3f4788 0 115.7px,#3d4d8a 0 123.6px,#38588c 0 131.6px,#375b8d 0 139.6px,#32658e 0 147.6px,#31688e 0 155.5px,#2e6f8e 0 163.5px,#2c738e 0 171.5px,#29798e 0 179.5px,#277e8e 0 187.4px,#26828e 0 195.4px,#23888e 0 203.4px,#228d8d 0 211.4px,#20928c 0 219.3px,#1f968b 0 227.3px,#1f9a8a 0 235.3px,#1f9f88 0 243.3px,#20a386 0 251.2px,#22a884 0 259.2px,#26ad81 0 267.2px,#2ab07f 0 275.2px,#2fb47c 0 283.2px,#35b779 0 291.1px,#3bbb75 0 299.1px,#42be71 0 307.1px,#4ac16d 0 315.1px,#52c569 0 323.0px,#5cc863 0 331.0px,#69cd5b 0 339.0px,#77d153 0 347.0px,#86d549 0 354.9px,#93d741 0 362.9px,#9dd93b 0 370.9px,#a2da37 0 378.9px,#a8db34 0 386.8px,#aadc32 0 394.8px,#addc30 0 410.8px,#aadc32 0 418.8px,#a5db36 0 426.7px,#9bd93c 0 434.7px,#8ed645 0 442.7px,#84d44b 0 450.7px,#73d056 0 458.6px,#63cb5f 0 466.6px,#52c569 0 474.6px,#3dbc74 0 482.6px,#2db27d 0 490.5px,#23a983 0 498.5px,#1e9c89 0 506.5px,#21918c 0 514.5px,#25848e 0 522.4px,#2a788e 0 530.4px,#2a778e 0 538.4px,#2c728e 0 546.4px,#2e6e8e 0 554.3px,#365c8d 0 562.3px,#33628d 0 570.3px,#34608d 0 578.3px,#38588c 0 586.2px,#3a548c 0 594.2px,#355f8d 0 602.2px,#33628d 0 610.2px,#30698e 0 618.2px,#2c718e 0 626.1px,#34608d 0 634.1px,#2e6e8e 0 642.1px,#34618d 0 650.1px,#2e6e8e 0 658.0px,#2e6d8e 0 666.0px,#2f6c8e 0)"></i><i style="left:1374px;width:34px;background:linear-gradient(#46085c 0 4.0px,#440256 0 12.0px,#450457 0 19.9px,#440154 0 27.9px,#450457 0 35.9px,#440256 0 43.9px,#460a5d 0 51.8px,#470e61 0 59.8px,#481769 0 67.8px,#482374 0 75.8px,#482979 0 83.8px,#46327e 0 91.7px,#453581 0 99.7px,#433e85 0 107.7px,#414487 0 115.7px,#3d4e8a 0 123.6px,#3a548c 0 131.6px,#32648e 0 139.6px,#365d8d 0 147.6px,#31678e 0 155.5px,#2d708e 0 163.5px,#2b758e 0 171.5px,#297a8e 0 179.5px,#27808e 0 187.4px,#25848e 0 195.4px,#23898e 0 203.4px,#218f8d 0 211.4px,#20938c 0 219.3px,#1f978b 0 227.3px,#1e9c89 0 235.3px,#1fa188 0 243.3px,#21a585 0 251.2px,#24aa83 0 259.2px,#29af7f 0 267.2px,#2eb37c 0 275.2px,#34b679 0 283.2px,#3aba76 0 291.1px,#40bd72 0 299.1px,#48c16e 0 307.1px,#50c46a 0 315.1px,#58c765 0 323.0px,#63cb5f 0 331.0px,#70cf57 0 339.0px,#7fd34e 0 347.0px,#8bd646 0 354.9px,#98d83e 0 362.9px,#a2da37 0 370.9px,#aadc32 0 378.9px,#addc30 0 386.8px,#b2dd2d 0 394.8px,#b5de2b 0 410.8px,#b0dd2f 0 418.8px,#aadc32 0 426.7px,#9dd93b 0 434.7px,#93d741 0 442.7px,#89d548 0 450.7px,#75d054 0 458.6px,#65cb5e 0 466.6px,#54c568 0 474.6px,#3fbc73 0 482.6px,#2eb37c 0 490.5px,#23a983 0 498.5px,#1e9d89 0 506.5px,#21918c 0 514.5px,#25858e 0 522.4px,#297a8e 0 530.4px,#31678e 0 538.4px,#2f6c8e 0 546.4px,#31668e 0 554.3px,#33628d 0 562.3px,#355f8d 0 570.3px,#355e8d 0 578.3px,#3e4989 0 586.2px,#3b528b 0 594.2px,#440154 0 602.2px,#25848e 0 610.2px,#440154 0 618.2px,#1e9c89 0 626.1px,#481467 0 634.1px,#25848e 0 642.1px,#46085c 0 650.1px,#25848e 0 658.0px,#46085c 0 666.0px,#31678e 0)"></i><i style="left:1408px;width:34px;background:linear-gradient(#440256 0 4.0px,#440154 0 27.9px,#440256 0 35.9px,#440154 0 43.9px,#46075a 0 51.8px,#460b5e 0 59.8px,#481b6d 0 67.8px,#482071 0 75.8px,#482475 0 83.8px,#472f7d 0 91.7px,#453882 0 99.7px,#414487 0 107.7px,#3f4889 0 115.7px,#3e4c8a 0 123.6px,#3a548c 0 131.6px,#365d8d 0 139.6px,#34608d 0 147.6px,#30698e 0 155.5px,#2d708e 0 163.5px,#2b758e 0 171.5px,#297b8e 0 179.5px,#27808e 0 187.4px,#25848e 0 195.4px,#238a8d 0 203.4px,#218f8d 0 211.4px,#20938c 0 219.3px,#1f988b 0 227.3px,#1e9c89 0 235.3px,#1fa188 0 243.3px,#21a585 0 251.2px,#24aa83 0 259.2px,#28ae80 0 267.2px,#2db27d 0 275.2px,#32b67a 0 283.2px,#37b878 0 291.1px,#3dbc74 0 299.1px,#44bf70 0 307.1px,#4cc26c 0 315.1px,#54c568 0 323.0px,#5cc863 0 331.0px,#69cd5b 0 339.0px,#77d153 0 347.0px,#84d44b 0 354.9px,#90d743 0 362.9px,#9bd93c 0 370.9px,#a0da39 0 378.9px,#a5db36 0 386.8px,#aadc32 0 394.8px,#addc30 0 402.8px,#aadc32 0 410.8px,#a5db36 0 418.8px,#a0da39 0 426.7px,#95d840 0 434.7px,#8bd646 0 442.7px,#7cd250 0 450.7px,#6ccd5a 0 458.6px,#5cc863 0 466.6px,#4ac16d 0 474.6px,#37b878 0 482.6px,#29af7f 0 490.5px,#20a486 0 498.5px,#1f988b 0 506.5px,#228d8d 0 514.5px,#26828e 0 522.4px,#2a778e 0 530.4px,#32658e 0 538.4px,#31668e 0 546.4px,#38598c 0 554.3px,#2f6c8e 0 562.3px,#470d60 0 570.3px,#26ad81 0 578.3px,#470d60 0 586.2px,#3e4a89 0 594.2px,#39558c 0 602.2px,#365c8d 0 610.2px,#32658e 0 618.2px,#2e6d8e 0 626.1px,#2f6b8e 0 634.1px,#31678e 0 642.1px,#2e6d8e 0 650.1px,#306a8e 0 658.0px,#31688e 0 666.0px,#3c508b 0)"></i><i style="left:1442px;width:35px;background:linear-gradient(#450559 0 4.0px,#440256 0 12.0px,#440154 0 35.9px,#440256 0 51.8px,#470e61 0 59.8px,#481a6c 0 67.8px,#481c6e 0 75.8px,#472f7d 0 83.8px,#46337f 0 91.7px,#453882 0 99.7px,#433d84 0 107.7px,#414487 0 115.7px,#3d4e8a 0 123.6px,#38598c 0 131.6px,#34608d 0 139.6px,#32658e 0 147.6px,#306a8e 0 155.5px,#2d708e 0 163.5px,#2a768e 0 171.5px,#297b8e 0 179.5px,#27808e 0 187.4px,#25858e 0 195.4px,#238a8d 0 203.4px,#218f8d 0 211.4px,#20938c 0 219.3px,#1f988b 0 227.3px,#1e9c89 0 235.3px,#1fa188 0 243.3px,#21a585 0 251.2px,#24aa83 0 259.2px,#29af7f 0 267.2px,#2eb37c 0 275.2px,#34b679 0 283.2px,#38b977 0 291.1px,#3fbc73 0 299.1px,#46c06f 0 307.1px,#4cc26c 0 315.1px,#54c568 0 323.0px,#5ec962 0 331.0px,#69cd5b 0 339.0px,#75d054 0 347.0px,#81d34d 0 354.9px,#8ed645 0 362.9px,#98d83e 0 370.9px,#a0da39 0 378.9px,#a2da37 0 386.8px,#a8db34 0 394.8px,#addc30 0 402.8px,#aadc32 0 410.8px,#a8db34 0 418.8px,#a0da39 0 426.7px,#95d840 0 434.7px,#8bd646 0 442.7px,#7fd34e 0 450.7px,#70cf57 0 458.6px,#5ec962 0 466.6px,#4ec36b 0 474.6px,#3aba76 0 482.6px,#2cb17e 0 490.5px,#22a785 0 498.5px,#1e9b8a 0 506.5px,#218f8d 0 514.5px,#25838e 0 522.4px,#29798e 0 530.4px,#2e6f8e 0 538.4px,#32648e 0 546.4px,#34608d 0 554.3px,#32648e 0 562.3px,#3a538b 0 570.3px,#46085c 0 578.3px,#21918c 0 586.2px,#46085c 0 594.2px,#21918c 0 602.2px,#470d60 0 610.2px,#25848e 0 618.2px,#481467 0 626.1px,#5cc863 0 634.1px,#470d60 0 642.1px,#306a8e 0 650.1px,#33638d 0 658.0px,#355e8d 0 666.0px,#31668e 0)"></i><i style="left:1477px;width:34px;background:linear-gradient(#440154 0 4.0px,#471063 0 12.0px,#440154 0 19.9px,#440256 0 27.9px,#440154 0 35.9px,#450457 0 51.8px,#471164 0 59.8px,#481668 0 67.8px,#482071 0 75.8px,#482677 0 83.8px,#472e7c 0 91.7px,#453781 0 99.7px,#423f85 0 107.7px,#3d4e8a 0 115.7px,#3e4c8a 0 123.6px,#38588c 0 139.6px,#32658e 0 147.6px,#306a8e 0 155.5px,#2e6f8e 0 163.5px,#2b758e 0 171.5px,#297a8e 0 179.5px,#277f8e 0 187.4px,#25848e 0 195.4px,#23898e 0 203.4px,#218f8d 0 211.4px,#20938c 0 219.3px,#1f978b 0 227.3px,#1e9b8a 0 235.3px,#1fa088 0 243.3px,#20a486 0 251.2px,#24aa83 0 259.2px,#26ad81 0 267.2px,#2ab07f 0 275.2px,#2fb47c 0 283.2px,#35b779 0 291.1px,#3aba76 0 299.1px,#40bd72 0 307.1px,#48c16e 0 315.1px,#4ec36b 0 323.0px,#56c667 0 331.0px,#60ca60 0 339.0px,#6ccd5a 0 347.0px,#77d153 0 354.9px,#84d44b 0 362.9px,#8bd646 0 370.9px,#93d741 0 378.9px,#98d83e 0 386.8px,#9dd93b 0 394.8px,#a0da39 0 410.8px,#9dd93b 0 418.8px,#95d840 0 426.7px,#8bd646 0 434.7px,#84d44b 0 442.7px,#77d153 0 450.7px,#67cc5c 0 458.6px,#58c765 0 466.6px,#48c16e 0 474.6px,#35b779 0 482.6px,#28ae80 0 490.5px,#20a486 0 498.5px,#1f988b 0 506.5px,#228c8d 0 514.5px,#26818e 0 522.4px,#2a768e 0 530.4px,#306a8e 0 538.4px,#355f8d 0 546.4px,#3b518b 0 554.3px,#414487 0 562.3px,#38598c 0 570.3px,#42be71 0 578.3px,#46085c 0 586.2px,#1e9c89 0 594.2px,#481467 0 602.2px,#404688 0 610.2px,#375a8c 0 618.2px,#3a548c 0 626.1px,#31668e 0 634.1px,#375a8c 0 642.1px,#355f8d 0 650.1px,#38588c 0 658.0px,#38598c 0 666.0px,#31678e 0)"></i><i style="left:1511px;width:34px;background:linear-gradient(#440154 0 12.0px,#440256 0 19.9px,#450559 0 27.9px,#440154 0 51.8px,#46085c 0 59.8px,#482071 0 67.8px,#482878 0 75.8px,#481f70 0 83.8px,#472f7d 0 91.7px,#46337f 0 99.7px,#443a83 0 107.7px,#424086 0 115.7px,#3d4d8a 0 123.6px,#375b8d 0 131.6px,#34618d 0 139.6px,#34608d 0 147.6px,#2f6c8e 0 155.5px,#2e6e8e 0 163.5px,#2c738e 0 171.5px,#2a788e 0 179.5px,#277e8e 0 187.4px,#26828e 0 195.4px,#24878e 0 203.4px,#228d8d 0 211.4px,#20928c 0 219.3px,#1f958b 0 227.3px,#1f9a8a 0 235.3px,#1f9f88 0 243.3px,#20a386 0 251.2px,#22a884 0 259.2px,#25ab82 0 267.2px,#27ad81 0 275.2px,#2cb17e 0 283.2px,#31b57b 0 291.1px,#37b878 0 299.1px,#3bbb75 0 307.1px,#42be71 0 315.1px,#48c16e 0 323.0px,#50c46a 0 331.0px,#5ac864 0 339.0px,#63cb5f 0 347.0px,#6ece58 0 354.9px,#77d153 0 362.9px,#81d34d 0 370.9px,#89d548 0 378.9px,#8ed645 0 386.8px,#93d741 0 394.8px,#98d83e 0 410.8px,#95d840 0 418.8px,#90d743 0 426.7px,#86d549 0 434.7px,#7cd250 0 442.7px,#73d056 0 450.7px,#65cb5e 0 458.6px,#56c667 0 466.6px,#46c06f 0 474.6px,#35b779 0 482.6px,#28ae80 0 490.5px,#21a585 0 498.5px,#1f998a 0 506.5px,#228d8d 0 514.5px,#26828e 0 522.4px,#2b758e 0 530.4px,#2c718e 0 538.4px,#355e8d 0 546.4px,#38598c 0 554.3px,#355f8d 0 562.3px,#375b8d 0 570.3px,#3c4f8a 0 578.3px,#46085c 0 586.2px,#25848e 0 594.2px,#481467 0 602.2px,#1e9c89 0 610.2px,#440154 0 618.2px,#25848e 0 626.1px,#46085c 0 634.1px,#25848e 0 642.1px,#481467 0 650.1px,#31688e 0 658.0px,#33638d 0 666.0px,#39558c 0)"></i><i style="left:1545px;width:35px;background:linear-gradient(#440154 0 27.9px,#450457 0 35.9px,#440256 0 43.9px,#440154 0 51.8px,#460b5e 0 59.8px,#481a6c 0 67.8px,#482071 0 75.8px,#482677 0 83.8px,#453882 0 91.7px,#463480 0 99.7px,#433d84 0 107.7px,#3f4788 0 115.7px,#3e4989 0 123.6px,#3a538b 0 131.6px,#39568c 0 139.6px,#34618d 0 147.6px,#31678e 0 155.5px,#2e6f8e 0 163.5px,#2b758e 0 171.5px,#297a8e 0 179.5px,#277f8e 0 187.4px,#25848e 0 195.4px,#23898e 0 203.4px,#218e8d 0 211.4px,#20928c 0 219.3px,#1f978b 0 227.3px,#1e9b8a 0 235.3px,#1fa088 0 243.3px,#20a486 0 251.2px,#23a983 0 259.2px,#25ab82 0 267.2px,#28ae80 0 275.2px,#2db27d 0 283.2px,#32b67a 0 291.1px,#37b878 0 299.1px,#3dbc74 0 307.1px,#42be71 0 315.1px,#48c16e 0 323.0px,#50c46a 0 331.0px,#5ac864 0 339.0px,#63cb5f 0 347.0px,#6ece58 0 354.9px,#77d153 0 362.9px,#81d34d 0 370.9px,#89d548 0 378.9px,#8ed645 0 386.8px,#93d741 0 394.8px,#95d840 0 402.8px,#98d83e 0 410.8px,#93d741 0 418.8px,#8bd646 0 426.7px,#84d44b 0 434.7px,#7ad151 0 442.7px,#6ece58 0 450.7px,#60ca60 0 458.6px,#52c569 0 466.6px,#40bd72 0 474.6px,#31b57b 0 482.6px,#25ac82 0 490.5px,#1fa187 0 498.5px,#1f958b 0 506.5px,#23898e 0 514.5px,#277e8e 0 522.4px,#2b748e 0 530.4px,#355f8d 0 538.4px,#365d8d 0 546.4px,#375b8d 0 554.3px,#440154 0 562.3px,#25848e 0 570.3px,#46085c 0 578.3px,#21918c 0 586.2px,#470d60 0 594.2px,#21918c 0 602.2px,#440154 0 610.2px,#38588c 0 618.2px,#3d4e8a 0 626.1px,#38588c 0 634.1px,#355e8d 0 642.1px,#355f8d 0 650.1px,#38598c 0 658.0px,#355f8d 0 666.0px,#375b8d 0)"></i><i style="left:1580px;width:34px;background:linear-gradient(#46075a 0 4.0px,#440256 0 12.0px,#450559 0 19.9px,#440154 0 43.9px,#450457 0 51.8px,#470d60 0 59.8px,#481b6d 0 67.8px,#482475 0 75.8px,#482878 0 83.8px,#46307e 0 91.7px,#453781 0 99.7px,#423f85 0 107.7px,#3d4d8a 0 115.7px,#3c508b 0 123.6px,#375b8d 0 131.6px,#34618d 0 139.6px,#33638d 0 147.6px,#31688e 0 155.5px,#2d718e 0 163.5px,#2a778e 0 171.5px,#287c8e 0 179.5px,#26828e 0 187.4px,#24868e 0 195.4px,#228c8d 0 203.4px,#21918c 0 211.4px,#1f958b 0 219.3px,#1f998a 0 227.3px,#1f9e89 0 235.3px,#1fa287 0 243.3px,#22a785 0 251.2px,#25ac82 0 259.2px,#29af7f 0 267.2px,#2eb37c 0 275.2px,#34b679 0 283.2px,#38b977 0 291.1px,#3fbc73 0 299.1px,#44bf70 0 307.1px,#4cc26c 0 315.1px,#52c569 0 323.0px,#5ac864 0 331.0px,#63cb5f 0 339.0px,#6ece58 0 347.0px,#77d153 0 354.9px,#81d34d 0 362.9px,#8bd646 0 370.9px,#93d741 0 378.9px,#98d83e 0 386.8px,#9dd93b 0 394.8px,#a0da39 0 402.8px,#a2da37 0 410.8px,#9dd93b 0 418.8px,#95d840 0 426.7px,#8bd646 0 434.7px,#81d34d 0 442.7px,#75d054 0 450.7px,#67cc5c 0 458.6px,#58c765 0 466.6px,#46c06f 0 474.6px,#35b779 0 482.6px,#28ae80 0 490.5px,#20a386 0 498.5px,#1f978b 0 506.5px,#228b8d 0 514.5px,#27808e 0 522.4px,#2a788e 0 530.4px,#2c728e 0 538.4px,#34608d 0 546.4px,#355e8d 0 554.3px,#2c718e 0 562.3px,#39558c 0 570.3px,#3d4d8a 0 578.3px,#39558c 0 586.2px,#3a538b 0 594.2px,#3c4f8a 0 602.2px,#3a548c 0 610.2px,#33638d 0 618.2px,#34618d 0 626.1px,#2e6f8e 0 634.1px,#31688e 0 650.1px,#2d718e 0 658.0px,#33638d 0 666.0px,#2e6f8e 0)"></i><i style="left:1614px;width:34px;background:linear-gradient(#450559 0 4.0px,#440256 0 27.9px,#450559 0 35.9px,#470d60 0 43.9px,#460b5e 0 51.8px,#471063 0 59.8px,#481b6d 0 67.8px,#481f70 0 75.8px,#482576 0 83.8px,#472f7d 0 91.7px,#46327e 0 99.7px,#404588 0 107.7px,#3d4d8a 0 115.7px,#3b518b 0 123.6px,#375b8d 0 131.6px,#34608d 0 139.6px,#32648e 0 147.6px,#31668e 0 155.5px,#2d718e 0 163.5px,#2a768e 0 171.5px,#297b8e 0 179.5px,#26818e 0 187.4px,#25858e 0 195.4px,#228b8d 0 203.4px,#21908d 0 211.4px,#1f948c 0 219.3px,#1f998a 0 227.3px,#1e9d89 0 235.3px,#1fa187 0 243.3px,#21a685 0 251.2px,#25ab82 0 259.2px,#2cb17e 0 267.2px,#31b57b 0 275.2px,#37b878 0 283.2px,#3bbb75 0 291.1px,#42be71 0 299.1px,#48c16e 0 307.1px,#50c46a 0 315.1px,#56c667 0 323.0px,#5cc863 0 331.0px,#67cc5c 0 339.0px,#70cf57 0 347.0px,#7ad151 0 354.9px,#86d549 0 362.9px,#8ed645 0 370.9px,#98d83e 0 378.9px,#9dd93b 0 386.8px,#a2da37 0 394.8px,#aadc32 0 410.8px,#a8db34 0 418.8px,#a2da37 0 426.7px,#98d83e 0 434.7px,#8ed645 0 442.7px,#84d44b 0 450.7px,#75d054 0 458.6px,#65cb5e 0 466.6px,#56c667 0 474.6px,#42be71 0 482.6px,#32b67a 0 490.5px,#26ad81 0 498.5px,#1fa188 0 506.5px,#1f948c 0 514.5px,#23888e 0 522.4px,#287d8e 0 530.4px,#2e6d8e 0 538.4px,#33638d 0 546.4px,#306a8e 0 554.3px,#31688e 0 562.3px,#33628d 0 570.3px,#31668e 0 578.3px,#33638d 0 586.2px,#2d718e 0 594.2px,#2e6f8e 0 602.2px,#2b748e 0 610.2px,#2f6b8e 0 618.2px,#26828e 0 626.1px,#27808e 0 634.1px,#287d8e 0 642.1px,#2a768e 0 650.1px,#2a778e 0 658.0px,#2a788e 0 666.0px,#26828e 0)"></i><i style="left:1648px;width:35px;background:linear-gradient(#440154 0 4.0px,#450559 0 12.0px,#440154 0 19.9px,#46085c 0 27.9px,#440154 0 35.9px,#440256 0 43.9px,#46075a 0 51.8px,#460b5e 0 59.8px,#481a6c 0 67.8px,#482374 0 75.8px,#472a7a 0 83.8px,#472f7d 0 91.7px,#46327e 0 99.7px,#443a83 0 107.7px,#3d4e8a 0 115.7px,#3e4a89 0 123.6px,#3a538b 0 131.6px,#365c8d 0 139.6px,#32648e 0 147.6px,#32658e 0 155.5px,#2d708e 0 163.5px,#2a768e 0 171.5px,#287c8e 0 179.5px,#26818e 0 187.4px,#25858e 0 195.4px,#228b8d 0 203.4px,#21908d 0 211.4px,#1f948c 0 219.3px,#1f988b 0 227.3px,#1e9d89 0 235.3px,#1fa187 0 243.3px,#21a685 0 251.2px,#25ab82 0 259.2px,#28ae80 0 267.2px,#2db27d 0 275.2px,#32b67a 0 283.2px,#38b977 0 291.1px,#3dbc74 0 299.1px,#44bf70 0 307.1px,#4ac16d 0 315.1px,#50c46a 0 323.0px,#56c667 0 331.0px,#60ca60 0 339.0px,#69cd5b 0 347.0px,#73d056 0 354.9px,#7cd250 0 362.9px,#86d549 0 370.9px,#8ed645 0 378.9px,#95d840 0 386.8px,#9bd93c 0 394.8px,#a0da39 0 410.8px,#9bd93c 0 418.8px,#95d840 0 426.7px,#8bd646 0 434.7px,#81d34d 0 442.7px,#75d054 0 450.7px,#67cc5c 0 458.6px,#58c765 0 466.6px,#48c16e 0 474.6px,#37b878 0 482.6px,#29af7f 0 490.5px,#21a585 0 498.5px,#1f998a 0 506.5px,#228d8d 0 514.5px,#26828e 0 522.4px,#2a788e 0 530.4px,#2c718e 0 538.4px,#32658e 0 546.4px,#31678e 0 554.3px,#46085c 0 562.3px,#26ad81 0 570.3px,#46085c 0 578.3px,#42be71 0 586.2px,#470d60 0 594.2px,#21918c 0 602.2px,#46085c 0 610.2px,#25848e 0 618.2px,#470d60 0 626.1px,#2e6f8e 0 642.1px,#46085c 0 650.1px,#25848e 0 658.0px,#481467 0 666.0px,#38598c 0)"></i><i style="left:1683px;width:34px;background:linear-gradient(#440154 0 12.0px,#46075a 0 19.9px,#450457 0 27.9px,#46085c 0 35.9px,#440256 0 43.9px,#440154 0 51.8px,#470e61 0 59.8px,#481b6d 0 67.8px,#482475 0 75.8px,#472a7a 0 83.8px,#46337f 0 91.7px,#443983 0 99.7px,#3f4788 0 107.7px,#3e4a89 0 115.7px,#3c4f8a 0 123.6px,#3a538b 0 131.6px,#365c8d 0 139.6px,#375a8c 0 147.6px,#31678e 0 155.5px,#2d708e 0 163.5px,#2a778e 0 171.5px,#287c8e 0 179.5px,#26818e 0 187.4px,#24868e 0 195.4px,#228b8d 0 203.4px,#21908d 0 211.4px,#1f948c 0 219.3px,#1f988b 0 227.3px,#1e9d89 0 235.3px,#1fa187 0 243.3px,#21a685 0 251.2px,#25ab82 0 259.2px,#27ad81 0 267.2px,#2cb17e 0 275.2px,#31b57b 0 283.2px,#35b779 0 291.1px,#3bbb75 0 299.1px,#40bd72 0 307.1px,#46c06f 0 315.1px,#4cc26c 0 323.0px,#54c568 0 331.0px,#5cc863 0 339.0px,#65cb5e 0 347.0px,#6ece58 0 354.9px,#7ad151 0 362.9px,#81d34d 0 370.9px,#8bd646 0 378.9px,#90d743 0 386.8px,#98d83e 0 394.8px,#9bd93c 0 410.8px,#95d840 0 418.8px,#8ed645 0 426.7px,#86d549 0 434.7px,#7cd250 0 442.7px,#6ece58 0 450.7px,#60ca60 0 458.6px,#54c568 0 466.6px,#42be71 0 474.6px,#32b67a 0 482.6px,#27ad81 0 490.5px,#1fa287 0 498.5px,#1f968b 0 506.5px,#238a8d 0 514.5px,#277e8e 0 522.4px,#2a768e 0 530.4px,#2f6b8e 0 538.4px,#31668e 0 546.4px,#375a8c 0 554.3px,#3a538b 0 562.3px,#3e4989 0 570.3px,#38588c 0 578.3px,#3e4a89 0 586.2px,#365d8d 0 594.2px,#3d4e8a 0 602.2px,#365d8d 0 610.2px,#31668e 0 618.2px,#365d8d 0 626.1px,#31688e 0 634.1px,#365c8d 0 642.1px,#2d718e 0 650.1px,#33638d 0 658.0px,#34618d 0 666.0px,#375a8c 0)"></i><i style="left:1717px;width:34px;background:linear-gradient(#450457 0 4.0px,#440154 0 27.9px,#450559 0 35.9px,#440256 0 43.9px,#471063 0 51.8px,#470e61 0 59.8px,#481c6e 0 67.8px,#482878 0 75.8px,#472d7b 0 83.8px,#46337f 0 91.7px,#443a83 0 99.7px,#424186 0 107.7px,#3f4889 0 115.7px,#39558c 0 123.6px,#38598c 0 131.6px,#355f8d 0 139.6px,#31688e 0 147.6px,#31678e 0 155.5px,#2d718e 0 163.5px,#2b758e 0 171.5px,#297b8e 0 179.5px,#27808e 0 187.4px,#25848e 0 195.4px,#238a8d 0 203.4px,#218f8d 0 211.4px,#20938c 0 219.3px,#1f988b 0 227.3px,#1e9c89 0 235.3px,#1fa188 0 243.3px,#21a585 0 251.2px,#24aa83 0 259.2px,#2ab07f 0 267.2px,#2eb37c 0 275.2px,#34b679 0 283.2px,#3aba76 0 291.1px,#3fbc73 0 299.1px,#46c06f 0 307.1px,#4cc26c 0 315.1px,#52c569 0 323.0px,#58c765 0 331.0px,#60ca60 0 339.0px,#69cd5b 0 347.0px,#73d056 0 354.9px,#7fd34e 0 362.9px,#89d548 0 370.9px,#90d743 0 378.9px,#98d83e 0 386.8px,#9dd93b 0 394.8px,#a5db36 0 402.8px,#a8db34 0 410.8px,#a5db36 0 418.8px,#a0da39 0 426.7px,#95d840 0 434.7px,#8bd646 0 442.7px,#81d34d 0 450.7px,#73d056 0 458.6px,#65cb5e 0 466.6px,#56c667 0 474.6px,#42be71 0 482.6px,#34b679 0 490.5px,#27ad81 0 498.5px,#1fa187 0 506.5px,#1f958b 0 514.5px,#23898e 0 522.4px,#287d8e 0 530.4px,#287c8e 0 538.4px,#2e6d8e 0 546.4px,#34618d 0 554.3px,#3b518b 0 562.3px,#3e4a89 0 570.3px,#3d4d8a 0 578.3px,#3c4f8a 0 586.2px,#3e4a89 0 594.2px,#38588c 0 602.2px,#3a538b 0 610.2px,#31678e 0 618.2px,#29798e 0 626.1px,#31678e 0 634.1px,#375b8d 0 642.1px,#355f8d 0 650.1px,#33628d 0 658.0px,#2e6d8e 0 666.0px,#306a8e 0)"></i><i style="left:1751px;width:35px;background:linear-gradient(#440154 0 12.0px,#46085c 0 19.9px,#440154 0 43.9px,#471063 0 51.8px,#470d60 0 59.8px,#481b6d 0 67.8px,#481f70 0 75.8px,#472a7a 0 83.8px,#46337f 0 91.7px,#443983 0 99.7px,#414487 0 107.7px,#414287 0 115.7px,#3b528b 0 123.6px,#375b8d 0 131.6px,#355e8d 0 139.6px,#32648e 0 147.6px,#32658e 0 155.5px,#2d708e 0 163.5px,#2a768e 0 171.5px,#297b8e 0 179.5px,#27808e 0 187.4px,#25848e 0 195.4px,#238a8d 0 203.4px,#218f8d 0 211.4px,#20938c 0 219.3px,#1f988b 0 227.3px,#1e9c89 0 235.3px,#1fa188 0 243.3px,#21a585 0 251.2px,#24aa83 0 259.2px,#27ad81 0 267.2px,#2cb17e 0 275.2px,#31b57b 0 283.2px,#37b878 0 291.1px,#3bbb75 0 299.1px,#42be71 0 307.1px,#48c16e 0 315.1px,#4ec36b 0 323.0px,#54c568 0 331.0px,#5cc863 0 339.0px,#67cc5c 0 347.0px,#70cf57 0 354.9px,#7ad151 0 362.9px,#84d44b 0 370.9px,#8ed645 0 378.9px,#95d840 0 386.8px,#9dd93b 0 394.8px,#a2da37 0 410.8px,#a0da39 0 418.8px,#98d83e 0 426.7px,#8ed645 0 434.7px,#84d44b 0 442.7px,#77d153 0 450.7px,#69cd5b 0 458.6px,#5ac864 0 466.6px,#4cc26c 0 474.6px,#3aba76 0 482.6px,#2db27d 0 490.5px,#22a884 0 498.5px,#1e9c89 0 506.5px,#21908d 0 514.5px,#25838e 0 522.4px,#29798e 0 530.4px,#2e6e8e 0 538.4px,#30698e 0 546.4px,#355f8d 0 554.3px,#33628d 0 562.3px,#3e4a89 0 570.3px,#375a8c 0 578.3px,#3a548c 0 586.2px,#3e4a89 0 594.2px,#31678e 0 602.2px,#355e8d 0 610.2px,#2f6b8e 0 618.2px,#2e6f8e 0 626.1px,#2d718e 0 634.1px,#29798e 0 642.1px,#297a8e 0 650.1px,#2a788e 0 658.0px,#2d708e 0 666.0px,#2c718e 0)"></i><i style="left:1786px;width:34px;background:linear-gradient(#440154 0 43.9px,#450457 0 51.8px,#460b5e 0 59.8px,#481467 0 67.8px,#481b6d 0 75.8px,#482878 0 83.8px,#46337f 0 91.7px,#453581 0 99.7px,#414487 0 107.7px,#404688 0 115.7px,#3c4f8a 0 123.6px,#38588c 0 131.6px,#365c8d 0 139.6px,#365d8d 0 147.6px,#31688e 0 155.5px,#2e6f8e 0 163.5px,#2b748e 0 171.5px,#29798e 0 179.5px,#277e8e 0 187.4px,#25838e 0 195.4px,#23888e 0 203.4px,#218e8d 0 211.4px,#20928c 0 219.3px,#1f968b 0 227.3px,#1e9b8a 0 235.3px,#1f9f88 0 243.3px,#20a386 0 251.2px,#22a884 0 259.2px,#26ad81 0 267.2px,#2ab07f 0 275.2px,#2fb47c 0 283.2px,#34b679 0 291.1px,#3aba76 0 299.1px,#40bd72 0 307.1px,#46c06f 0 315.1px,#4cc26c 0 323.0px,#54c568 0 331.0px,#5cc863 0 339.0px,#65cb5e 0 347.0px,#6ece58 0 354.9px,#7ad151 0 362.9px,#84d44b 0 370.9px,#8ed645 0 378.9px,#95d840 0 386.8px,#9dd93b 0 394.8px,#a5db36 0 410.8px,#a2da37 0 418.8px,#9dd93b 0 426.7px,#93d741 0 434.7px,#89d548 0 442.7px,#7cd250 0 450.7px,#6ece58 0 458.6px,#60ca60 0 466.6px,#50c46a 0 474.6px,#3fbc73 0 482.6px,#2fb47c 0 490.5px,#25ab82 0 498.5px,#1fa088 0 506.5px,#20938c 0 514.5px,#24878e 0 522.4px,#29798e 0 530.4px,#297b8e 0 538.4px,#31688e 0 546.4px,#2c728e 0 554.3px,#32648e 0 562.3px,#1e9c89 0 570.3px,#481467 0 578.3px,#34618d 0 586.2px,#31668e 0 594.2px,#31678e 0 602.2px,#25848e 0 610.2px,#470d60 0 626.1px,#5cc863 0 634.1px,#470d60 0 642.1px,#fde725 0 650.1px,#21918c 0 658.0px,#9bd93c 0 666.0px,#addc30 0)"></i><i style="left:1820px;width:34px;background:linear-gradient(#440154 0 4.0px,#440256 0 12.0px,#440154 0 19.9px,#46085c 0 27.9px,#440154 0 35.9px,#450559 0 43.9px,#440154 0 51.8px,#450457 0 59.8px,#48186a 0 75.8px,#472a7a 0 83.8px,#472d7b 0 91.7px,#443a83 0 99.7px,#404588 0 107.7px,#3c4f8a 0 123.6px,#375a8c 0 131.6px,#33628d 0 139.6px,#31678e 0 147.6px,#2f6b8e 0 155.5px,#2d708e 0 163.5px,#2b758e 0 171.5px,#297b8e 0 179.5px,#27808e 0 187.4px,#25848e 0 195.4px,#238a8d 0 203.4px,#218f8d 0 211.4px,#20938c 0 219.3px,#1f978b 0 227.3px,#1e9c89 0 235.3px,#1fa088 0 243.3px,#20a486 0 251.2px,#23a983 0 259.2px,#27ad81 0 267.2px,#2cb17e 0 275.2px,#31b57b 0 283.2px,#37b878 0 291.1px,#3bbb75 0 299.1px,#42be71 0 307.1px,#48c16e 0 315.1px,#4ec36b 0 323.0px,#56c667 0 331.0px,#5ec962 0 339.0px,#69cd5b 0 347.0px,#73d056 0 354.9px,#7fd34e 0 362.9px,#89d548 0 370.9px,#93d741 0 378.9px,#9dd93b 0 386.8px,#a5db36 0 394.8px,#aadc32 0 410.8px,#a8db34 0 418.8px,#a0da39 0 426.7px,#93d741 0 434.7px,#89d548 0 442.7px,#7cd250 0 450.7px,#6ece58 0 458.6px,#5ec962 0 466.6px,#4ec36b 0 474.6px,#3bbb75 0 482.6px,#2eb37c 0 490.5px,#23a983 0 498.5px,#1e9d89 0 506.5px,#21918c 0 514.5px,#25848e 0 522.4px,#29798e 0 530.4px,#2b748e 0 538.4px,#31678e 0 546.4px,#3b518b 0 554.3px,#3f4788 0 562.3px,#38598c 0 570.3px,#3e4989 0 578.3px,#404588 0 586.2px,#3b518b 0 594.2px,#39568c 0 602.2px,#3a548c 0 610.2px,#34608d 0 618.2px,#2f6c8e 0 626.1px,#2c728e 0 634.1px,#297b8e 0 642.1px,#2d718e 0 650.1px,#2f6b8e 0 658.0px,#2d708e 0 666.0px,#29798e 0)"></i><i style="left:1854px;width:34px;background:linear-gradient(#450457 0 4.0px,#440154 0 19.9px,#440256 0 27.9px,#440154 0 51.8px,#46085c 0 59.8px,#481769 0 67.8px,#482374 0 75.8px,#482979 0 83.8px,#46327e 0 91.7px,#453781 0 99.7px,#423f85 0 107.7px,#3e4a89 0 115.7px,#39558c 0 123.6px,#38588c 0 131.6px,#34608d 0 139.6px,#355f8d 0 147.6px,#2f6c8e 0 155.5px,#2d708e 0 163.5px,#2a768e 0 171.5px,#297b8e 0 179.5px,#27808e 0 187.4px,#25858e 0 195.4px,#238a8d 0 203.4px,#21908d 0 211.4px,#20938c 0 219.3px,#1f988b 0 227.3px,#1e9c89 0 235.3px,#1fa188 0 243.3px,#21a585 0 251.2px,#24aa83 0 259.2px,#27ad81 0 267.2px,#2cb17e 0 275.2px,#31b57b 0 283.2px,#35b779 0 291.1px,#3bbb75 0 299.1px,#40bd72 0 307.1px,#48c16e 0 315.1px,#4ec36b 0 323.0px,#54c568 0 331.0px,#5ec962 0 339.0px,#67cc5c 0 347.0px,#70cf57 0 354.9px,#7cd250 0 362.9px,#89d548 0 370.9px,#93d741 0 378.9px,#9bd93c 0 386.8px,#a2da37 0 394.8px,#a8db34 0 402.8px,#aadc32 0 410.8px,#a5db36 0 418.8px,#9dd93b 0 426.7px,#90d743 0 434.7px,#86d549 0 442.7px,#77d153 0 450.7px,#69cd5b 0 458.6px,#5ac864 0 466.6px,#4ac16d 0 474.6px,#38b977 0 482.6px,#2cb17e 0 490.5px,#22a785 0 498.5px,#1e9b8a 0 506.5px,#218f8d 0 514.5px,#26828e 0 522.4px,#2a788e 0 530.4px,#2d718e 0 538.4px,#33628d 0 546.4px,#31688e 0 554.3px,#32658e 0 562.3px,#2f6b8e 0 570.3px,#404688 0 578.3px,#33638d 0 586.2px,#34608d 0 594.2px,#33628d 0 602.2px,#2e6e8e 0 610.2px,#297a8e 0 618.2px,#2a768e 0 626.1px,#2f6c8e 0 634.1px,#2a788e 0 642.1px,#26828e 0 650.1px,#277f8e 0 658.0px,#2c738e 0 666.0px,#2b758e 0)"></i><i style="left:1888px;width:35px;background:linear-gradient(#440154 0 12.0px,#460a5d 0 19.9px,#440256 0 27.9px,#440154 0 51.8px,#471365 0 59.8px,#481f70 0 75.8px,#472e7c 0 83.8px,#453581 0 91.7px,#443983 0 99.7px,#453882 0 107.7px,#404588 0 115.7px,#3c4f8a 0 123.6px,#3a548c 0 131.6px,#34618d 0 139.6px,#31678e 0 147.6px,#31688e 0 155.5px,#2d708e 0 163.5px,#2a768e 0 171.5px,#297b8e 0 179.5px,#27808e 0 187.4px,#25858e 0 195.4px,#238a8d 0 203.4px,#21908d 0 211.4px,#20938c 0 219.3px,#1f988b 0 227.3px,#1e9c89 0 235.3px,#1fa188 0 243.3px,#21a585 0 251.2px,#24aa83 0 259.2px,#26ad81 0 267.2px,#2ab07f 0 275.2px,#2fb47c 0 283.2px,#35b779 0 291.1px,#3aba76 0 299.1px,#40bd72 0 307.1px,#46c06f 0 315.1px,#4cc26c 0 323.0px,#54c568 0 331.0px,#5cc863 0 339.0px,#65cb5e 0 347.0px,#70cf57 0 354.9px,#7ad151 0 362.9px,#86d549 0 370.9px,#90d743 0 378.9px,#9bd93c 0 386.8px,#a2da37 0 394.8px,#a8db34 0 410.8px,#a2da37 0 418.8px,#9bd93c 0 426.7px,#90d743 0 434.7px,#84d44b 0 442.7px,#77d153 0 450.7px,#67cc5c 0 458.6px,#5ac864 0 466.6px,#48c16e 0 474.6px,#38b977 0 482.6px,#2cb17e 0 490.5px,#21a685 0 498.5px,#1e9b8a 0 506.5px,#218e8d 0 514.5px,#26828e 0 522.4px,#2a778e 0 530.4px,#32658e 0 538.4px,#34608d 0 546.4px,#3e4a89 0 554.3px,#443983 0 562.3px,#3a548c 0 570.3px,#433e85 0 578.3px,#472f7d 0 586.2px,#424186 0 594.2px,#3e4c8a 0 602.2px,#3b518b 0 610.2px,#3f4788 0 618.2px,#365c8d 0 626.1px,#31678e 0 634.1px,#375a8c 0 642.1px,#3a548c 0 650.1px,#3b528b 0 658.0px,#375a8c 0 666.0px,#3b528b 0)"></i><i style="left:1923px;width:34px;background:linear-gradient(#440154 0 4.0px,#440256 0 12.0px,#440154 0 19.9px,#46075a 0 27.9px,#440256 0 35.9px,#440154 0 43.9px,#450559 0 51.8px,#46075a 0 59.8px,#481668 0 67.8px,#481f70 0 75.8px,#482576 0 83.8px,#482979 0 91.7px,#443a83 0 99.7px,#424086 0 107.7px,#404588 0 115.7px,#3d4e8a 0 123.6px,#3a548c 0 131.6px,#34608d 0 139.6px,#33628d 0 147.6px,#33638d 0 155.5px,#2e6f8e 0 163.5px,#2b748e 0 171.5px,#29798e 0 179.5px,#277e8e 0 187.4px,#25838e 0 195.4px,#23888e 0 203.4px,#218e8d 0 211.4px,#20928c 0 219.3px,#1f968b 0 227.3px,#1f9a8a 0 235.3px,#1f9f88 0 243.3px,#20a386 0 251.2px,#22a884 0 259.2px,#24aa83 0 267.2px,#27ad81 0 275.2px,#2cb17e 0 283.2px,#31b57b 0 291.1px,#37b878 0 299.1px,#3bbb75 0 307.1px,#42be71 0 315.1px,#48c16e 0 323.0px,#4ec36b 0 331.0px,#56c667 0 339.0px,#5ec962 0 347.0px,#69cd5b 0 354.9px,#73d056 0 362.9px,#7fd34e 0 370.9px,#89d548 0 378.9px,#93d741 0 386.8px,#9bd93c 0 394.8px,#a2da37 0 410.8px,#a0da39 0 418.8px,#98d83e 0 426.7px,#8bd646 0 434.7px,#81d34d 0 442.7px,#75d054 0 450.7px,#65cb5e 0 458.6px,#58c765 0 466.6px,#48c16e 0 474.6px,#37b878 0 482.6px,#2ab07f 0 490.5px,#22a785 0 498.5px,#1e9b8a 0 506.5px,#218f8d 0 514.5px,#26828e 0 522.4px,#2a768e 0 530.4px,#31678e 0 538.4px,#2f6b8e 0 546.4px,#2e6d8e 0 554.3px,#3b528b 0 562.3px,#39568c 0 570.3px,#355f8d 0 578.3px,#375b8d 0 586.2px,#3e4c8a 0 594.2px,#375a8c 0 602.2px,#34618d 0 610.2px,#2c718e 0 618.2px,#2e6f8e 0 626.1px,#306a8e 0 650.1px,#33638d 0 658.0px,#2e6f8e 0 666.0px,#2c718e 0)"></i><i style="left:1957px;width:34px;background:linear-gradient(#440154 0 12.0px,#450457 0 27.9px,#440154 0 35.9px,#450457 0 43.9px,#470d60 0 51.8px,#470e61 0 59.8px,#481b6d 0 67.8px,#481f70 0 75.8px,#482878 0 83.8px,#472d7b 0 91.7px,#463480 0 99.7px,#443b84 0 107.7px,#3d4d8a 0 123.6px,#365c8d 0 131.6px,#355e8d 0 139.6px,#32648e 0 147.6px,#306a8e 0 155.5px,#2d708e 0 163.5px,#2b758e 0 171.5px,#297a8e 0 179.5px,#27808e 0 187.4px,#25848e 0 195.4px,#23898e 0 203.4px,#218f8d 0 211.4px,#20938c 0 219.3px,#1f978b 0 227.3px,#1e9c89 0 235.3px,#1fa088 0 243.3px,#20a486 0 251.2px,#23a983 0 259.2px,#27ad81 0 267.2px,#2cb17e 0 275.2px,#31b57b 0 283.2px,#35b779 0 291.1px,#3bbb75 0 299.1px,#42be71 0 307.1px,#48c16e 0 315.1px,#4ec36b 0 323.0px,#54c568 0 331.0px,#5ec962 0 339.0px,#67cc5c 0 347.0px,#70cf57 0 354.9px,#7cd250 0 362.9px,#86d549 0 370.9px,#93d741 0 378.9px,#9bd93c 0 386.8px,#a5db36 0 394.8px,#aadc32 0 402.8px,#addc30 0 410.8px,#a8db34 0 418.8px,#a0da39 0 426.7px,#95d840 0 434.7px,#8bd646 0 442.7px,#7fd34e 0 450.7px,#6ece58 0 458.6px,#60ca60 0 466.6px,#50c46a 0 474.6px,#3fbc73 0 482.6px,#31b57b 0 490.5px,#25ab82 0 498.5px,#1fa088 0 506.5px,#20928c 0 514.5px,#24868e 0 522.4px,#297a8e 0 530.4px,#2e6d8e 0 538.4px,#2e6f8e 0 546.4px,#30698e 0 554.3px,#39568c 0 562.3px,#31688e 0 570.3px,#365c8d 0 578.3px,#31668e 0 586.2px,#32658e 0 594.2px,#31688e 0 602.2px,#2f6c8e 0 610.2px,#32648e 0 618.2px,#2e6e8e 0 626.1px,#29798e 0 634.1px,#25848e 0 642.1px,#2d708e 0 650.1px,#29798e 0 658.0px,#297a8e 0 666.0px,#2b758e 0)"></i><i style="left:1991px;width:35px;background:linear-gradient(#440154 0 19.9px,#450457 0 27.9px,#440154 0 51.8px,#481467 0 59.8px,#481b6d 0 67.8px,#481c6e 0 75.8px,#472c7a 0 83.8px,#46337f 0 91.7px,#433d84 0 99.7px,#443983 0 107.7px,#3f4889 0 115.7px,#3c508b 0 123.6px,#375a8c 0 131.6px,#38598c 0 139.6px,#365d8d 0 147.6px,#2f6b8e 0 155.5px,#2d708e 0 163.5px,#2b758e 0 171.5px,#297b8e 0 179.5px,#27808e 0 187.4px,#25848e 0 195.4px,#238a8d 0 203.4px,#218f8d 0 211.4px,#20938c 0 219.3px,#1f978b 0 227.3px,#1e9c89 0 235.3px,#1fa088 0 243.3px,#20a486 0 251.2px,#23a983 0 259.2px,#26ad81 0 267.2px,#2ab07f 0 275.2px,#2fb47c 0 283.2px,#34b679 0 291.1px,#3aba76 0 299.1px,#40bd72 0 307.1px,#46c06f 0 315.1px,#4cc26c 0 323.0px,#54c568 0 331.0px,#5cc863 0 339.0px,#65cb5e 0 347.0px,#6ece58 0 354.9px,#7ad151 0 362.9px,#86d549 0 370.9px,#90d743 0 378.9px,#98d83e 0 386.8px,#a2da37 0 394.8px,#a8db34 0 402.8px,#aadc32 0 410.8px,#a5db36 0 418.8px,#9dd93b 0 426.7px,#90d743 0 434.7px,#86d549 0 442.7px,#7ad151 0 450.7px,#69cd5b 0 458.6px,#5cc863 0 466.6px,#4cc26c 0 474.6px,#3bbb75 0 482.6px,#2eb37c 0 490.5px,#23a983 0 498.5px,#1e9d89 0 506.5px,#21918c 0 514.5px,#25838e 0 522.4px,#2a788e 0 530.4px,#2f6c8e 0 538.4px,#365c8d 0 546.4px,#38588c 0 554.3px,#355e8d 0 562.3px,#3d4e8a 0 570.3px,#3a548c 0 578.3px,#3d4d8a 0 586.2px,#1e9c89 0 594.2px,#4ec36b 0 602.2px,#470d60 0 610.2px,#eae51a 0 618.2px,#31678e 0 626.1px,#2d718e 0 634.1px,#2e6e8e 0 642.1px,#2c738e 0 650.1px,#2b758e 0 658.0px,#2e6e8e 0 666.0px,#32648e 0)"></i><i style="left:2026px;width:34px;background:linear-gradient(#450457 0 4.0px,#440256 0 12.0px,#46085c 0 19.9px,#440256 0 35.9px,#450457 0 43.9px,#440256 0 51.8px,#471365 0 59.8px,#481d6f 0 67.8px,#482071 0 75.8px,#472c7a 0 83.8px,#472e7c 0 91.7px,#453581 0 99.7px,#424186 0 107.7px,#3e4a89 0 115.7px,#3a538b 0 123.6px,#38598c 0 131.6px,#32658e 0 139.6px,#30698e 0 147.6px,#2f6b8e 0 155.5px,#2d708e 0 163.5px,#2a768e 0 171.5px,#297b8e 0 179.5px,#27808e 0 187.4px,#25848e 0 195.4px,#238a8d 0 203.4px,#218f8d 0 211.4px,#20938c 0 219.3px,#1f988b 0 227.3px,#1e9c89 0 235.3px,#1fa188 0 243.3px,#20a486 0 251.2px,#23a983 0 259.2px,#28ae80 0 267.2px,#2db27d 0 275.2px,#32b67a 0 283.2px,#37b878 0 291.1px,#3dbc74 0 299.1px,#44bf70 0 307.1px,#4ac16d 0 315.1px,#50c46a 0 323.0px,#56c667 0 331.0px,#60ca60 0 339.0px,#69cd5b 0 347.0px,#73d056 0 354.9px,#7fd34e 0 362.9px,#8bd646 0 370.9px,#95d840 0 378.9px,#9dd93b 0 386.8px,#a8db34 0 394.8px,#b0dd2f 0 410.8px,#addc30 0 418.8px,#a5db36 0 426.7px,#98d83e 0 434.7px,#8ed645 0 442.7px,#81d34d 0 450.7px,#70cf57 0 458.6px,#63cb5f 0 466.6px,#54c568 0 474.6px,#40bd72 0 482.6px,#32b67a 0 490.5px,#26ad81 0 498.5px,#1fa187 0 506.5px,#1f948c 0 514.5px,#23888e 0 522.4px,#297b8e 0 530.4px,#29798e 0 538.4px,#2c718e 0 546.4px,#424186 0 554.3px,#3a548c 0 562.3px,#42be71 0 570.3px,#470d60 0 578.3px,#414287 0 586.2px,#443b84 0 594.2px,#365c8d 0 602.2px,#39568c 0 610.2px,#32648e 0 618.2px,#33638d 0 626.1px,#34618d 0 634.1px,#2c718e 0 642.1px,#2e6f8e 0 650.1px,#2c738e 0 658.0px,#2e6d8e 0 666.0px,#39558c 0)"></i><i style="left:2060px;width:34px;background:linear-gradient(#440154 0 4.0px,#440256 0 12.0px,#440154 0 19.9px,#470d60 0 27.9px,#440256 0 35.9px,#440154 0 51.8px,#470d60 0 59.8px,#481b6d 0 67.8px,#481d6f 0 75.8px,#482677 0 83.8px,#46327e 0 91.7px,#46337f 0 99.7px,#443a83 0 107.7px,#424186 0 115.7px,#3b528b 0 123.6px,#3a548c 0 131.6px,#365d8d 0 139.6px,#32648e 0 155.5px,#2d708e 0 163.5px,#2a768e 0 171.5px,#297b8e 0 179.5px,#27808e 0 187.4px,#25858e 0 195.4px,#238a8d 0 203.4px,#21908d 0 211.4px,#20938c 0 219.3px,#1f988b 0 227.3px,#1e9c89 0 235.3px,#1fa188 0 243.3px,#21a585 0 251.2px,#23a983 0 259.2px,#26ad81 0 267.2px,#2ab07f 0 275.2px,#2fb47c 0 283.2px,#34b679 0 291.1px,#3aba76 0 299.1px,#40bd72 0 307.1px,#46c06f 0 315.1px,#4cc26c 0 323.0px,#52c569 0 331.0px,#5cc863 0 339.0px,#65cb5e 0 347.0px,#6ece58 0 354.9px,#7ad151 0 362.9px,#86d549 0 370.9px,#90d743 0 378.9px,#98d83e 0 386.8px,#a2da37 0 394.8px,#a8db34 0 402.8px,#aadc32 0 410.8px,#a2da37 0 418.8px,#9bd93c 0 426.7px,#8ed645 0 434.7px,#84d44b 0 442.7px,#75d054 0 450.7px,#67cc5c 0 458.6px,#58c765 0 466.6px,#48c16e 0 474.6px,#38b977 0 482.6px,#2cb17e 0 490.5px,#22a785 0 498.5px,#1e9b8a 0 506.5px,#218f8d 0 514.5px,#26828e 0 522.4px,#2a778e 0 530.4px,#2b748e 0 538.4px,#34608d 0 554.3px,#39558c 0 562.3px,#2e6d8e 0 570.3px,#31678e 0 578.3px,#3b518b 0 586.2px,#355f8d 0 594.2px,#34608d 0 602.2px,#2e6f8e 0 610.2px,#2f6b8e 0 618.2px,#2c728e 0 626.1px,#25848e 0 642.1px,#2a778e 0 650.1px,#2d708e 0 658.0px,#297b8e 0 666.0px,#31678e 0)"></i><i style="left:2094px;width:35px;background:linear-gradient(#440154 0 35.9px,#440256 0 43.9px,#440154 0 51.8px,#450559 0 59.8px,#471365 0 67.8px,#482475 0 75.8px,#482677 0 83.8px,#46327e 0 91.7px,#453581 0 99.7px,#414287 0 107.7px,#414487 0 115.7px,#3c508b 0 123.6px,#375a8c 0 131.6px,#365d8d 0 139.6px,#32648e 0 147.6px,#2f6c8e 0 155.5px,#2e6e8e 0 163.5px,#2c738e 0 171.5px,#2a788e 0 179.5px,#287d8e 0 187.4px,#26828e 0 195.4px,#24878e 0 203.4px,#228c8d 0 211.4px,#20928c 0 219.3px,#1f958b 0 227.3px,#1f998a 0 235.3px,#1f9e89 0 243.3px,#1fa187 0 251.2px,#21a685 0 259.2px,#23a983 0 267.2px,#25ac82 0 275.2px,#29af7f 0 283.2px,#2eb37c 0 291.1px,#32b67a 0 299.1px,#38b977 0 307.1px,#3dbc74 0 315.1px,#44bf70 0 323.0px,#4ac16d 0 331.0px,#52c569 0 339.0px,#5ac864 0 347.0px,#63cb5f 0 354.9px,#6ece58 0 362.9px,#77d153 0 370.9px,#81d34d 0 378.9px,#8bd646 0 386.8px,#93d741 0 394.8px,#9bd93c 0 402.8px,#9dd93b 0 410.8px,#9bd93c 0 418.8px,#93d741 0 426.7px,#89d548 0 434.7px,#7cd250 0 442.7px,#73d056 0 450.7px,#63cb5f 0 458.6px,#56c667 0 466.6px,#48c16e 0 474.6px,#38b977 0 482.6px,#2cb17e 0 490.5px,#23a983 0 498.5px,#1e9d89 0 506.5px,#21918c 0 514.5px,#25838e 0 522.4px,#2a768e 0 530.4px,#31688e 0 538.4px,#30698e 0 546.4px,#39568c 0 554.3px,#355e8d 0 562.3px,#38588c 0 570.3px,#375b8d 0 578.3px,#3d4d8a 0 586.2px,#3f4889 0 594.2px,#355e8d 0 610.2px,#30698e 0 618.2px,#2d708e 0 626.1px,#30698e 0 634.1px,#2e6e8e 0 642.1px,#2a778e 0 658.0px,#297a8e 0 666.0px,#2f6b8e 0)"></i><i style="left:2129px;width:34px;background:linear-gradient(#450457 0 4.0px,#450559 0 12.0px,#450457 0 19.9px,#440154 0 27.9px,#450559 0 35.9px,#46075a 0 43.9px,#470d60 0 51.8px,#460a5d 0 59.8px,#481b6d 0 67.8px,#482173 0 75.8px,#481d6f 0 83.8px,#472f7d 0 91.7px,#433d84 0 99.7px,#443b84 0 107.7px,#414287 0 115.7px,#3b518b 0 123.6px,#38598c 0 131.6px,#365d8d 0 139.6px,#31668e 0 147.6px,#2e6e8e 0 155.5px,#2d708e 0 163.5px,#2a768e 0 171.5px,#287c8e 0 179.5px,#26818e 0 187.4px,#25858e 0 195.4px,#228b8d 0 203.4px,#21908d 0 211.4px,#1f948c 0 219.3px,#1f988b 0 227.3px,#1e9d89 0 235.3px,#1fa188 0 243.3px,#21a585 0 251.2px,#24aa83 0 259.2px,#26ad81 0 267.2px,#2ab07f 0 275.2px,#2fb47c 0 283.2px,#35b779 0 291.1px,#3aba76 0 299.1px,#40bd72 0 307.1px,#46c06f 0 315.1px,#4cc26c 0 323.0px,#52c569 0 331.0px,#5ac864 0 339.0px,#63cb5f 0 347.0px,#6ccd5a 0 354.9px,#77d153 0 362.9px,#81d34d 0 370.9px,#8bd646 0 378.9px,#93d741 0 386.8px,#9dd93b 0 394.8px,#a2da37 0 402.8px,#a5db36 0 410.8px,#9dd93b 0 418.8px,#95d840 0 426.7px,#8bd646 0 434.7px,#7fd34e 0 442.7px,#73d056 0 450.7px,#65cb5e 0 458.6px,#58c765 0 466.6px,#48c16e 0 474.6px,#38b977 0 482.6px,#2cb17e 0 490.5px,#22a785 0 498.5px,#1e9b8a 0 506.5px,#218f8d 0 514.5px,#26828e 0 522.4px,#2a788e 0 530.4px,#2a768e 0 538.4px,#2e6d8e 0 546.4px,#2c728e 0 554.3px,#2d708e 0 562.3px,#2b748e 0 570.3px,#2e6d8e 0 578.3px,#2d708e 0 586.2px,#2f6b8e 0 594.2px,#2c718e 0 602.2px,#287d8e 0 610.2px,#27808e 0 618.2px,#25848e 0 626.1px,#27808e 0 634.1px,#218e8d 0 642.1px,#21918c 0 650.1px,#238a8d 0 666.0px,#287d8e 0)"></i><i style="left:2163px;width:34px;background:linear-gradient(#440154 0 12.0px,#46075a 0 19.9px,#440154 0 27.9px,#460b5e 0 35.9px,#440154 0 43.9px,#450559 0 51.8px,#470d60 0 59.8px,#481769 0 67.8px,#482173 0 75.8px,#482677 0 83.8px,#46327e 0 91.7px,#443983 0 99.7px,#424186 0 107.7px,#3c4f8a 0 115.7px,#3e4989 0 123.6px,#38598c 0 131.6px,#375b8d 0 139.6px,#32658e 0 147.6px,#2d718e 0 163.5px,#2a768e 0 171.5px,#297b8e 0 179.5px,#27808e 0 187.4px,#25858e 0 195.4px,#238a8d 0 203.4px,#218f8d 0 211.4px,#20938c 0 219.3px,#1f988b 0 227.3px,#1e9c89 0 235.3px,#1fa188 0 243.3px,#20a486 0 251.2px,#23a983 0 259.2px,#28ae80 0 267.2px,#2db27d 0 275.2px,#32b67a 0 283.2px,#38b977 0 291.1px,#3dbc74 0 299.1px,#44bf70 0 307.1px,#4ac16d 0 315.1px,#50c46a 0 323.0px,#56c667 0 331.0px,#5cc863 0 339.0px,#65cb5e 0 347.0px,#6ece58 0 354.9px,#77d153 0 362.9px,#84d44b 0 370.9px,#8ed645 0 378.9px,#95d840 0 386.8px,#a0da39 0 394.8px,#a8db34 0 402.8px,#aadc32 0 410.8px,#a5db36 0 418.8px,#a0da39 0 426.7px,#95d840 0 434.7px,#89d548 0 442.7px,#7fd34e 0 450.7px,#70cf57 0 458.6px,#63cb5f 0 466.6px,#54c568 0 474.6px,#44bf70 0 482.6px,#35b779 0 490.5px,#28ae80 0 498.5px,#20a386 0 506.5px,#1f968b 0 514.5px,#238a8d 0 522.4px,#287d8e 0 530.4px,#2a778e 0 538.4px,#2c718e 0 546.4px,#365c8d 0 554.3px,#3a538b 0 562.3px,#375a8c 0 570.3px,#3e4c8a 0 578.3px,#440154 0 586.2px,#365c8d 0 594.2px,#3c4f8a 0 602.2px,#31668e 0 610.2px,#2e6f8e 0 618.2px,#2d708e 0 626.1px,#46085c 0 634.1px,#2f6b8e 0 642.1px,#2a768e 0 650.1px,#2b758e 0 658.0px,#2c728e 0 666.0px,#2f6b8e 0)"></i><i style="left:2197px;width:35px;background:linear-gradient(#440154 0 12.0px,#450559 0 19.9px,#440154 0 27.9px,#450457 0 35.9px,#440154 0 43.9px,#450457 0 51.8px,#460a5d 0 59.8px,#481d6f 0 67.8px,#482071 0 75.8px,#472c7a 0 83.8px,#472a7a 0 91.7px,#453781 0 99.7px,#414487 0 107.7px,#3d4d8a 0 115.7px,#3e4c8a 0 123.6px,#3b528b 0 131.6px,#365d8d 0 139.6px,#32658e 0 147.6px,#2f6b8e 0 155.5px,#2e6f8e 0 163.5px,#2c738e 0 171.5px,#2a788e 0 179.5px,#277e8e 0 187.4px,#26828e 0 195.4px,#24878e 0 203.4px,#228d8d 0 211.4px,#20928c 0 219.3px,#1f958b 0 227.3px,#1f9a8a 0 235.3px,#1f9e89 0 243.3px,#1fa287 0 251.2px,#21a685 0 259.2px,#24aa83 0 267.2px,#27ad81 0 275.2px,#2cb17e 0 283.2px,#31b57b 0 291.1px,#35b779 0 299.1px,#3bbb75 0 307.1px,#40bd72 0 315.1px,#46c06f 0 323.0px,#4ac16d 0 331.0px,#52c569 0 339.0px,#5ac864 0 347.0px,#60ca60 0 354.9px,#6ccd5a 0 362.9px,#75d054 0 370.9px,#7fd34e 0 378.9px,#86d549 0 386.8px,#90d743 0 394.8px,#98d83e 0 402.8px,#9bd93c 0 418.8px,#95d840 0 426.7px,#8bd646 0 434.7px,#81d34d 0 442.7px,#75d054 0 450.7px,#69cd5b 0 458.6px,#5cc863 0 466.6px,#50c46a 0 474.6px,#3fbc73 0 482.6px,#32b67a 0 490.5px,#27ad81 0 498.5px,#1fa287 0 506.5px,#1f968b 0 514.5px,#23898e 0 522.4px,#297a8e 0 530.4px,#32648e 0 538.4px,#32658e 0 546.4px,#34608d 0 554.3px,#38588c 0 562.3px,#3d4e8a 0 570.3px,#3c508b 0 578.3px,#3c4f8a 0 594.2px,#3d4e8a 0 602.2px,#2f6b8e 0 610.2px,#2e6d8e 0 618.2px,#2f6b8e 0 626.1px,#2c738e 0 634.1px,#2e6e8e 0 642.1px,#2c738e 0 650.1px,#2c728e 0 666.0px,#2c718e 0)"></i><i style="left:2232px;width:34px;background:linear-gradient(#450559 0 4.0px,#46075a 0 12.0px,#440154 0 51.8px,#470d60 0 59.8px,#481b6d 0 67.8px,#481f70 0 75.8px,#482475 0 83.8px,#472d7b 0 91.7px,#433e85 0 99.7px,#443a83 0 115.7px,#3d4d8a 0 123.6px,#39568c 0 131.6px,#365d8d 0 139.6px,#34608d 0 147.6px,#30698e 0 155.5px,#2e6e8e 0 163.5px,#2c728e 0 171.5px,#2a778e 0 179.5px,#287d8e 0 187.4px,#26828e 0 195.4px,#24868e 0 203.4px,#228c8d 0 211.4px,#21918c 0 219.3px,#1f948c 0 227.3px,#1f998a 0 235.3px,#1e9d89 0 243.3px,#1fa187 0 251.2px,#21a585 0 259.2px,#23a983 0 267.2px,#26ad81 0 275.2px,#2ab07f 0 283.2px,#2eb37c 0 291.1px,#34b679 0 299.1px,#38b977 0 307.1px,#3dbc74 0 315.1px,#42be71 0 323.0px,#48c16e 0 331.0px,#4ec36b 0 339.0px,#56c667 0 347.0px,#5ec962 0 354.9px,#67cc5c 0 362.9px,#70cf57 0 370.9px,#7ad151 0 378.9px,#84d44b 0 386.8px,#8bd646 0 394.8px,#93d741 0 402.8px,#98d83e 0 418.8px,#93d741 0 426.7px,#89d548 0 434.7px,#7fd34e 0 442.7px,#75d054 0 450.7px,#67cc5c 0 458.6px,#5ac864 0 466.6px,#4ec36b 0 474.6px,#3fbc73 0 482.6px,#32b67a 0 490.5px,#28ae80 0 498.5px,#1fa287 0 506.5px,#1f968b 0 514.5px,#23898e 0 522.4px,#29798e 0 530.4px,#2e6e8e 0 538.4px,#2e6d8e 0 546.4px,#34618d 0 554.3px,#365c8d 0 562.3px,#3a548c 0 570.3px,#3b518b 0 578.3px,#3e4c8a 0 586.2px,#414287 0 594.2px,#404688 0 602.2px,#355f8d 0 610.2px,#32648e 0 618.2px,#297a8e 0 626.1px,#2e6e8e 0 634.1px,#2d708e 0 650.1px,#34618d 0 658.0px,#2d708e 0)"></i><i style="left:2266px;width:34px;background:linear-gradient(#440154 0 19.9px,#450457 0 27.9px,#440154 0 35.9px,#440256 0 43.9px,#440154 0 51.8px,#471063 0 59.8px,#481668 0 67.8px,#482071 0 75.8px,#482475 0 83.8px,#482677 0 91.7px,#424086 0 99.7px,#433d84 0 107.7px,#414287 0 115.7px,#3e4c8a 0 123.6px,#3c508b 0 131.6px,#375a8c 0 139.6px,#365d8d 0 147.6px,#30698e 0 155.5px,#2e6e8e 0 163.5px,#2c718e 0 171.5px,#2a768e 0 179.5px,#287c8e 0 187.4px,#26818e 0 195.4px,#25858e 0 203.4px,#228b8d 0 211.4px,#21908d 0 219.3px,#20938c 0 227.3px,#1f988b 0 235.3px,#1e9c89 0 243.3px,#1fa188 0 251.2px,#20a486 0 259.2px,#22a884 0 267.2px,#25ac82 0 275.2px,#28ae80 0 283.2px,#2db27d 0 291.1px,#31b57b 0 299.1px,#37b878 0 307.1px,#3bbb75 0 315.1px,#40bd72 0 323.0px,#46c06f 0 331.0px,#4cc26c 0 339.0px,#54c568 0 347.0px,#5cc863 0 354.9px,#65cb5e 0 362.9px,#6ece58 0 370.9px,#77d153 0 378.9px,#81d34d 0 386.8px,#89d548 0 394.8px,#90d743 0 402.8px,#95d840 0 410.8px,#98d83e 0 418.8px,#93d741 0 426.7px,#89d548 0 434.7px,#7fd34e 0 442.7px,#75d054 0 450.7px,#67cc5c 0 458.6px,#5cc863 0 466.6px,#50c46a 0 474.6px,#40bd72 0 482.6px,#34b679 0 490.5px,#29af7f 0 498.5px,#20a486 0 506.5px,#1f988b 0 514.5px,#228b8d 0 522.4px,#297a8e 0 530.4px,#2f6b8e 0 538.4px,#306a8e 0 546.4px,#33628d 0 554.3px,#3a538b 0 562.3px,#3b518b 0 570.3px,#404588 0 578.3px,#32648e 0 586.2px,#3d4d8a 0 594.2px,#34618d 0 602.2px,#3a538b 0 610.2px,#33638d 0 618.2px,#2c718e 0 626.1px,#2a768e 0 634.1px,#42be71 0 642.1px,#fde725 0 650.1px,#306a8e 0 658.0px,#2f6b8e 0)"></i><i style="left:2300px;width:35px;background:linear-gradient(#440154 0 19.9px,#450559 0 27.9px,#440154 0 51.8px,#460b5e 0 59.8px,#481d6f 0 67.8px,#482374 0 75.8px,#482979 0 83.8px,#482576 0 91.7px,#453781 0 99.7px,#443b84 0 107.7px,#414287 0 115.7px,#3d4e8a 0 123.6px,#375a8c 0 139.6px,#34618d 0 147.6px,#31688e 0 155.5px,#2e6f8e 0 163.5px,#2b758e 0 171.5px,#297b8e 0 179.5px,#27808e 0 187.4px,#25848e 0 195.4px,#238a8d 0 203.4px,#218f8d 0 211.4px,#20938c 0 219.3px,#1f978b 0 227.3px,#1e9b8a 0 235.3px,#1fa088 0 243.3px,#20a386 0 251.2px,#22a884 0 259.2px,#25ab82 0 267.2px,#28ae80 0 275.2px,#2cb17e 0 283.2px,#31b57b 0 291.1px,#35b779 0 299.1px,#3bbb75 0 307.1px,#40bd72 0 315.1px,#44bf70 0 323.0px,#4ac16d 0 331.0px,#52c569 0 339.0px,#5ac864 0 347.0px,#63cb5f 0 354.9px,#6ccd5a 0 362.9px,#75d054 0 370.9px,#7fd34e 0 378.9px,#86d549 0 386.8px,#90d743 0 394.8px,#95d840 0 402.8px,#9bd93c 0 410.8px,#93d741 0 418.8px,#8bd646 0 426.7px,#81d34d 0 434.7px,#77d153 0 442.7px,#6ccd5a 0 450.7px,#5ec962 0 458.6px,#52c569 0 466.6px,#44bf70 0 474.6px,#37b878 0 482.6px,#2cb17e 0 490.5px,#22a785 0 498.5px,#1e9c89 0 506.5px,#218f8d 0 514.5px,#26818e 0 522.4px,#2a768e 0 530.4px,#30698e 0 538.4px,#365d8d 0 546.4px,#3f4788 0 554.3px,#3d4d8a 0 562.3px,#404688 0 570.3px,#3e4a89 0 578.3px,#443983 0 586.2px,#3c508b 0 594.2px,#3f4889 0 602.2px,#433e85 0 610.2px,#33628d 0 618.2px,#34618d 0 626.1px,#3a538b 0 634.1px,#32658e 0 642.1px,#355f8d 0 650.1px,#31678e 0 658.0px,#39558c 0 666.0px,#3d4d8a 0)"></i><i style="left:2335px;width:34px;background:linear-gradient(#450457 0 4.0px,#440154 0 12.0px,#440256 0 19.9px,#440154 0 27.9px,#440256 0 43.9px,#440154 0 51.8px,#471365 0 59.8px,#481769 0 67.8px,#482576 0 75.8px,#472c7a 0 83.8px,#472e7c 0 91.7px,#453581 0 99.7px,#433e85 0 107.7px,#3e4989 0 115.7px,#3b518b 0 123.6px,#3d4d8a 0 131.6px,#34608d 0 147.6px,#30698e 0 155.5px,#2e6f8e 0 163.5px,#2c738e 0 171.5px,#2a788e 0 179.5px,#287d8e 0 187.4px,#26828e 0 195.4px,#24878e 0 203.4px,#228d8d 0 211.4px,#20928c 0 219.3px,#1f958b 0 227.3px,#1f998a 0 235.3px,#1f9e89 0 243.3px,#1fa187 0 251.2px,#21a685 0 259.2px,#24aa83 0 267.2px,#27ad81 0 275.2px,#2cb17e 0 283.2px,#2fb47c 0 291.1px,#35b779 0 299.1px,#3aba76 0 307.1px,#3fbc73 0 315.1px,#44bf70 0 323.0px,#4ac16d 0 331.0px,#50c46a 0 339.0px,#58c765 0 347.0px,#60ca60 0 354.9px,#69cd5b 0 362.9px,#73d056 0 370.9px,#7cd250 0 378.9px,#86d549 0 386.8px,#8ed645 0 394.8px,#98d83e 0 402.8px,#9bd93c 0 418.8px,#95d840 0 426.7px,#8bd646 0 434.7px,#7fd34e 0 442.7px,#75d054 0 450.7px,#69cd5b 0 458.6px,#5cc863 0 466.6px,#50c46a 0 474.6px,#40bd72 0 482.6px,#34b679 0 490.5px,#29af7f 0 498.5px,#20a386 0 506.5px,#1f978b 0 514.5px,#238a8d 0 522.4px,#297a8e 0 530.4px,#30698e 0 546.4px,#2f6b8e 0 554.3px,#2f6c8e 0 562.3px,#2c718e 0 570.3px,#2f6b8e 0 578.3px,#30698e 0 586.2px,#365c8d 0 594.2px,#32658e 0 602.2px,#2f6c8e 0 610.2px,#2c728e 0 618.2px,#2a778e 0 626.1px,#24878e 0 634.1px,#23898e 0 642.1px,#26828e 0 650.1px,#238a8d 0 658.0px,#27808e 0 666.0px,#297b8e 0)"></i><i style="left:2369px;width:34px;background:linear-gradient(#440256 0 4.0px,#450457 0 12.0px,#440154 0 43.9px,#440256 0 51.8px,#460a5d 0 59.8px,#481769 0 67.8px,#481c6e 0 75.8px,#472c7a 0 83.8px,#472a7a 0 91.7px,#46327e 0 99.7px,#424086 0 107.7px,#404688 0 115.7px,#3d4e8a 0 123.6px,#3c4f8a 0 131.6px,#33638d 0 139.6px,#33628d 0 147.6px,#306a8e 0 155.5px,#2e6e8e 0 163.5px,#2c728e 0 171.5px,#2a778e 0 179.5px,#287c8e 0 187.4px,#26818e 0 195.4px,#24868e 0 203.4px,#228b8d 0 211.4px,#21918c 0 219.3px,#1f948c 0 227.3px,#1f988b 0 235.3px,#1e9d89 0 243.3px,#1fa188 0 251.2px,#21a585 0 259.2px,#22a884 0 267.2px,#25ac82 0 275.2px,#28ae80 0 283.2px,#2db27d 0 291.1px,#32b67a 0 299.1px,#37b878 0 307.1px,#3bbb75 0 315.1px,#40bd72 0 323.0px,#46c06f 0 331.0px,#4cc26c 0 339.0px,#54c568 0 347.0px,#5cc863 0 354.9px,#65cb5e 0 362.9px,#6ece58 0 370.9px,#77d153 0 378.9px,#81d34d 0 386.8px,#89d548 0 394.8px,#90d743 0 402.8px,#95d840 0 410.8px,#98d83e 0 418.8px,#90d743 0 426.7px,#86d549 0 434.7px,#7cd250 0 442.7px,#73d056 0 450.7px,#65cb5e 0 458.6px,#5ac864 0 466.6px,#4ec36b 0 474.6px,#3fbc73 0 482.6px,#32b67a 0 490.5px,#28ae80 0 498.5px,#20a386 0 506.5px,#1f978b 0 514.5px,#238a8d 0 522.4px,#29798e 0 530.4px,#306a8e 0 538.4px,#2e6e8e 0 546.4px,#33628d 0 554.3px,#34618d 0 562.3px,#32658e 0 570.3px,#3d4d8a 0 578.3px,#38598c 0 586.2px,#34618d 0 594.2px,#365c8d 0 602.2px,#32648e 0 610.2px,#2a778e 0 618.2px,#2e6f8e 0 626.1px,#2a788e 0 634.1px,#29798e 0 650.1px,#2d708e 0 658.0px,#306a8e 0 666.0px,#2e6e8e 0)"></i><i style="left:2403px;width:35px;background:linear-gradient(#440256 0 4.0px,#440154 0 12.0px,#450457 0 19.9px,#440154 0 27.9px,#470d60 0 35.9px,#440154 0 43.9px,#46075a 0 51.8px,#46085c 0 59.8px,#471365 0 67.8px,#482173 0 75.8px,#472a7a 0 83.8px,#482979 0 91.7px,#453781 0 99.7px,#423f85 0 107.7px,#404688 0 115.7px,#3b518b 0 123.6px,#375b8d 0 131.6px,#365d8d 0 139.6px,#33638d 0 147.6px,#2e6d8e 0 155.5px,#2d708e 0 163.5px,#2b748e 0 171.5px,#29798e 0 179.5px,#277e8e 0 187.4px,#25838e 0 195.4px,#23888e 0 203.4px,#218e8d 0 211.4px,#20928c 0 219.3px,#1f968b 0 227.3px,#1e9b8a 0 235.3px,#1f9f88 0 243.3px,#1fa287 0 251.2px,#22a785 0 259.2px,#26ad81 0 267.2px,#2ab07f 0 275.2px,#2fb47c 0 283.2px,#34b679 0 291.1px,#3aba76 0 299.1px,#3fbc73 0 307.1px,#44bf70 0 315.1px,#4ac16d 0 323.0px,#50c46a 0 331.0px,#56c667 0 339.0px,#5ec962 0 347.0px,#67cc5c 0 354.9px,#70cf57 0 362.9px,#7ad151 0 370.9px,#84d44b 0 378.9px,#8ed645 0 386.8px,#95d840 0 394.8px,#a0da39 0 402.8px,#a5db36 0 418.8px,#9dd93b 0 426.7px,#93d741 0 434.7px,#89d548 0 442.7px,#7fd34e 0 450.7px,#70cf57 0 458.6px,#65cb5e 0 466.6px,#58c765 0 474.6px,#48c16e 0 482.6px,#3aba76 0 490.5px,#2eb37c 0 498.5px,#22a884 0 506.5px,#1e9c89 0 514.5px,#218f8d 0 522.4px,#277e8e 0 530.4px,#2e6f8e 0 538.4px,#2d708e 0 546.4px,#33628d 0 554.3px,#375b8d 0 562.3px,#355f8d 0 570.3px,#3c508b 0 578.3px,#21918c 0 586.2px,#470d60 0 594.2px,#fde725 0 602.2px,#470d60 0 618.2px,#5cc863 0 626.1px,#31678e 0 634.1px,#2c738e 0 642.1px,#2d718e 0 650.1px,#277f8e 0 658.0px,#2c738e 0 666.0px,#2b758e 0)"></i><i style="left:2438px;width:34px;background:linear-gradient(#470d60 0 4.0px,#450457 0 12.0px,#440154 0 35.9px,#440256 0 43.9px,#440154 0 51.8px,#470e61 0 59.8px,#48186a 0 67.8px,#481d6f 0 75.8px,#482677 0 83.8px,#472d7b 0 91.7px,#463480 0 99.7px,#453882 0 107.7px,#414487 0 115.7px,#3c508b 0 123.6px,#38588c 0 139.6px,#32658e 0 147.6px,#2e6e8e 0 155.5px,#2e6f8e 0 163.5px,#2b758e 0 171.5px,#297a8e 0 179.5px,#277f8e 0 187.4px,#25848e 0 195.4px,#23898e 0 203.4px,#218f8d 0 211.4px,#20928c 0 219.3px,#1f978b 0 227.3px,#1e9b8a 0 235.3px,#1fa088 0 243.3px,#20a386 0 251.2px,#22a884 0 259.2px,#25ab82 0 267.2px,#28ae80 0 275.2px,#2db27d 0 283.2px,#31b57b 0 291.1px,#37b878 0 299.1px,#3bbb75 0 307.1px,#40bd72 0 315.1px,#46c06f 0 323.0px,#4cc26c 0 331.0px,#54c568 0 339.0px,#5ac864 0 347.0px,#63cb5f 0 354.9px,#6ccd5a 0 362.9px,#75d054 0 370.9px,#7fd34e 0 378.9px,#89d548 0 386.8px,#90d743 0 394.8px,#98d83e 0 402.8px,#9dd93b 0 410.8px,#98d83e 0 418.8px,#90d743 0 426.7px,#86d549 0 434.7px,#7cd250 0 442.7px,#70cf57 0 450.7px,#63cb5f 0 458.6px,#58c765 0 466.6px,#4ac16d 0 474.6px,#3bbb75 0 482.6px,#2fb47c 0 490.5px,#25ab82 0 498.5px,#1fa088 0 506.5px,#20928c 0 514.5px,#25848e 0 522.4px,#29798e 0 530.4px,#2b758e 0 538.4px,#32648e 0 546.4px,#365d8d 0 554.3px,#355e8d 0 562.3px,#3d4d8a 0 570.3px,#39558c 0 578.3px,#3d4d8a 0 586.2px,#375b8d 0 594.2px,#3b518b 0 602.2px,#3e4989 0 610.2px,#2e6d8e 0 618.2px,#26ad81 0 626.1px,#6ece58 0 634.1px,#26ad81 0 642.1px,#addc30 0 650.1px,#1e9c89 0 658.0px,#fde725 0)"></i><i style="left:2472px;width:34px;background:linear-gradient(#46085c 0 4.0px,#440256 0 12.0px,#440154 0 51.8px,#460a5d 0 59.8px,#481a6c 0 67.8px,#482173 0 75.8px,#472d7b 0 83.8px,#46307e 0 91.7px,#46327e 0 99.7px,#424086 0 107.7px,#423f85 0 115.7px,#3c4f8a 0 123.6px,#3a548c 0 131.6px,#38598c 0 139.6px,#34608d 0 147.6px,#2f6b8e 0 155.5px,#2e6f8e 0 163.5px,#2b748e 0 171.5px,#29798e 0 179.5px,#277e8e 0 187.4px,#26828e 0 195.4px,#23888e 0 203.4px,#228d8d 0 211.4px,#20928c 0 219.3px,#1f968b 0 227.3px,#1f9a8a 0 235.3px,#1f9e89 0 243.3px,#1fa287 0 251.2px,#21a685 0 259.2px,#25ab82 0 267.2px,#28ae80 0 275.2px,#2cb17e 0 283.2px,#31b57b 0 291.1px,#35b779 0 299.1px,#3bbb75 0 307.1px,#40bd72 0 315.1px,#46c06f 0 323.0px,#4cc26c 0 331.0px,#52c569 0 339.0px,#5ac864 0 347.0px,#63cb5f 0 354.9px,#6ccd5a 0 362.9px,#75d054 0 370.9px,#7fd34e 0 378.9px,#86d549 0 386.8px,#90d743 0 394.8px,#98d83e 0 402.8px,#9dd93b 0 410.8px,#9bd93c 0 418.8px,#95d840 0 426.7px,#8bd646 0 434.7px,#81d34d 0 442.7px,#75d054 0 450.7px,#69cd5b 0 458.6px,#5cc863 0 466.6px,#50c46a 0 474.6px,#42be71 0 482.6px,#35b779 0 490.5px,#29af7f 0 498.5px,#20a486 0 506.5px,#1f988b 0 514.5px,#238a8d 0 522.4px,#297b8e 0 530.4px,#2f6b8e 0 538.4px,#33628d 0 546.4px,#33638d 0 554.3px,#32648e 0 562.3px,#375b8d 0 570.3px,#2e6e8e 0 578.3px,#3d4e8a 0 586.2px,#34618d 0 594.2px,#2f6b8e 0 602.2px,#31688e 0 610.2px,#2e6e8e 0 618.2px,#287c8e 0 626.1px,#2a778e 0 634.1px,#2c718e 0 642.1px,#297b8e 0 650.1px,#2c738e 0 658.0px,#2b748e 0 666.0px,#31668e 0)"></i><i style="left:2506px;width:35px;background:linear-gradient(#440256 0 4.0px,#440154 0 12.0px,#450559 0 27.9px,#450457 0 35.9px,#46085c 0 43.9px,#440154 0 51.8px,#471365 0 59.8px,#481c6e 0 67.8px,#482576 0 75.8px,#482374 0 83.8px,#472d7b 0 91.7px,#46327e 0 99.7px,#424186 0 107.7px,#404688 0 115.7px,#3c508b 0 123.6px,#39568c 0 131.6px,#38598c 0 139.6px,#34608d 0 147.6px,#31678e 0 155.5px,#2e6f8e 0 163.5px,#2c738e 0 171.5px,#2a788e 0 179.5px,#287d8e 0 187.4px,#26828e 0 195.4px,#24878e 0 203.4px,#228c8d 0 211.4px,#20928c 0 219.3px,#1f958b 0 227.3px,#1f998a 0 235.3px,#1f9e89 0 243.3px,#1fa187 0 251.2px,#21a685 0 259.2px,#25ac82 0 267.2px,#29af7f 0 275.2px,#2db27d 0 283.2px,#32b67a 0 291.1px,#38b977 0 299.1px,#3dbc74 0 307.1px,#42be71 0 315.1px,#48c16e 0 323.0px,#4ec36b 0 331.0px,#54c568 0 339.0px,#5cc863 0 347.0px,#65cb5e 0 354.9px,#6ece58 0 362.9px,#77d153 0 370.9px,#81d34d 0 378.9px,#8bd646 0 386.8px,#93d741 0 394.8px,#9dd93b 0 402.8px,#a2da37 0 410.8px,#a5db36 0 418.8px,#9dd93b 0 426.7px,#95d840 0 434.7px,#89d548 0 442.7px,#7fd34e 0 450.7px,#73d056 0 458.6px,#67cc5c 0 466.6px,#5ac864 0 474.6px,#4cc26c 0 482.6px,#3dbc74 0 490.5px,#31b57b 0 498.5px,#25ab82 0 506.5px,#1f9f88 0 514.5px,#20928c 0 522.4px,#277f8e 0 530.4px,#25848e 0 538.4px,#2c738e 0 546.4px,#355e8d 0 562.3px,#2e6e8e 0 570.3px,#33638d 0 578.3px,#375b8d 0 586.2px,#365c8d 0 594.2px,#38598c 0 602.2px,#306a8e 0 610.2px,#297a8e 0 618.2px,#2e6e8e 0 626.1px,#2b748e 0 634.1px,#29798e 0 642.1px,#2c728e 0 650.1px,#29798e 0 658.0px,#26828e 0 666.0px,#29798e 0)"></i><i style="left:2541px;width:34px;background:linear-gradient(#440154 0 4.0px,#460a5d 0 12.0px,#440154 0 19.9px,#440256 0 27.9px,#440154 0 35.9px,#450559 0 43.9px,#460a5d 0 51.8px,#471365 0 59.8px,#481d6f 0 67.8px,#482374 0 75.8px,#472a7a 0 83.8px,#472f7d 0 91.7px,#463480 0 99.7px,#433e85 0 107.7px,#3e4989 0 115.7px,#3a538b 0 123.6px,#38598c 0 131.6px,#33638d 0 139.6px,#31678e 0 147.6px,#30698e 0 155.5px,#2d718e 0 163.5px,#2a778e 0 171.5px,#287c8e 0 179.5px,#26818e 0 187.4px,#24868e 0 195.4px,#228b8d 0 203.4px,#21918c 0 211.4px,#1f948c 0 219.3px,#1f998a 0 227.3px,#1e9d89 0 235.3px,#1fa188 0 243.3px,#21a585 0 251.2px,#23a983 0 259.2px,#28ae80 0 267.2px,#2db27d 0 275.2px,#31b57b 0 283.2px,#37b878 0 291.1px,#3bbb75 0 299.1px,#42be71 0 307.1px,#48c16e 0 315.1px,#4cc26c 0 323.0px,#52c569 0 331.0px,#5ac864 0 339.0px,#63cb5f 0 347.0px,#6ccd5a 0 354.9px,#75d054 0 362.9px,#7fd34e 0 370.9px,#89d548 0 378.9px,#90d743 0 386.8px,#9bd93c 0 394.8px,#a2da37 0 402.8px,#a5db36 0 410.8px,#a0da39 0 418.8px,#98d83e 0 426.7px,#8bd646 0 434.7px,#81d34d 0 442.7px,#75d054 0 450.7px,#69cd5b 0 458.6px,#5cc863 0 466.6px,#50c46a 0 474.6px,#40bd72 0 482.6px,#34b679 0 490.5px,#27ad81 0 498.5px,#1fa187 0 506.5px,#1f948c 0 514.5px,#24868e 0 522.4px,#287c8e 0 530.4px,#2d718e 0 538.4px,#32648e 0 546.4px,#33638d 0 554.3px,#365d8d 0 562.3px,#3c508b 0 570.3px,#38588c 0 578.3px,#39568c 0 586.2px,#34618d 0 594.2px,#375a8c 0 602.2px,#365d8d 0 610.2px,#31668e 0 618.2px,#2f6b8e 0 626.1px,#29798e 0 634.1px,#2c728e 0 642.1px,#2f6b8e 0 650.1px,#2c728e 0 658.0px,#2e6d8e 0 666.0px,#32648e 0)"></i><i style="left:2575px;width:34px;background:linear-gradient(#440154 0 4.0px,#440256 0 12.0px,#440154 0 19.9px,#450457 0 27.9px,#440154 0 51.8px,#470e61 0 59.8px,#481668 0 67.8px,#482374 0 75.8px,#482576 0 83.8px,#472a7a 0 91.7px,#453581 0 99.7px,#433d84 0 107.7px,#404688 0 115.7px,#3c4f8a 0 123.6px,#38598c 0 131.6px,#375a8c 0 139.6px,#33638d 0 147.6px,#355f8d 0 155.5px,#2e6f8e 0 163.5px,#2c738e 0 171.5px,#29798e 0 179.5px,#277e8e 0 187.4px,#26828e 0 195.4px,#24878e 0 203.4px,#228d8d 0 211.4px,#20928c 0 219.3px,#1f958b 0 227.3px,#1f9a8a 0 235.3px,#1f9e89 0 243.3px,#1fa187 0 251.2px,#21a685 0 259.2px,#24aa83 0 267.2px,#27ad81 0 275.2px,#2ab07f 0 283.2px,#2fb47c 0 291.1px,#34b679 0 299.1px,#3aba76 0 307.1px,#3fbc73 0 315.1px,#44bf70 0 323.0px,#48c16e 0 331.0px,#50c46a 0 339.0px,#58c765 0 347.0px,#60ca60 0 354.9px,#69cd5b 0 362.9px,#73d056 0 370.9px,#7cd250 0 378.9px,#84d44b 0 386.8px,#8ed645 0 394.8px,#95d840 0 402.8px,#9bd93c 0 418.8px,#93d741 0 426.7px,#89d548 0 434.7px,#7fd34e 0 442.7px,#73d056 0 450.7px,#67cc5c 0 458.6px,#5cc863 0 466.6px,#50c46a 0 474.6px,#40bd72 0 482.6px,#35b779 0 490.5px,#29af7f 0 498.5px,#20a486 0 506.5px,#1f988b 0 514.5px,#238a8d 0 522.4px,#297b8e 0 530.4px,#34618d 0 538.4px,#31668e 0 546.4px,#365d8d 0 554.3px,#3e4c8a 0 562.3px,#33628d 0 570.3px,#375b8d 0 578.3px,#3b518b 0 586.2px,#38588c 0 594.2px,#39558c 0 602.2px,#31668e 0 610.2px,#2e6e8e 0 618.2px,#2e6f8e 0 626.1px,#2f6b8e 0 634.1px,#2d718e 0 642.1px,#2e6e8e 0 650.1px,#2f6c8e 0 658.0px,#277e8e 0 666.0px,#2f6c8e 0)"></i><i style="left:2609px;width:35px;background:linear-gradient(#440256 0 4.0px,#440154 0 19.9px,#460a5d 0 27.9px,#440154 0 35.9px,#46075a 0 43.9px,#450457 0 51.8px,#46075a 0 59.8px,#481b6d 0 67.8px,#481c6e 0 75.8px,#472e7c 0 83.8px,#472d7b 0 91.7px,#453781 0 99.7px,#433e85 0 107.7px,#3e4989 0 115.7px,#3c508b 0 123.6px,#38588c 0 131.6px,#355e8d 0 139.6px,#31668e 0 147.6px,#306a8e 0 155.5px,#2e6f8e 0 163.5px,#2c738e 0 171.5px,#2a788e 0 179.5px,#287d8e 0 187.4px,#26828e 0 195.4px,#24878e 0 203.4px,#228c8d 0 211.4px,#20928c 0 219.3px,#1f958b 0 227.3px,#1f998a 0 235.3px,#1f9e89 0 243.3px,#1fa187 0 251.2px,#21a685 0 259.2px,#24aa83 0 267.2px,#27ad81 0 275.2px,#2cb17e 0 283.2px,#2fb47c 0 291.1px,#35b779 0 299.1px,#3aba76 0 307.1px,#3fbc73 0 315.1px,#44bf70 0 323.0px,#4ac16d 0 331.0px,#50c46a 0 339.0px,#58c765 0 347.0px,#60ca60 0 354.9px,#69cd5b 0 362.9px,#73d056 0 370.9px,#7cd250 0 378.9px,#86d549 0 386.8px,#8ed645 0 394.8px,#98d83e 0 402.8px,#9dd93b 0 418.8px,#98d83e 0 426.7px,#8ed645 0 434.7px,#81d34d 0 442.7px,#77d153 0 450.7px,#6ccd5a 0 458.6px,#60ca60 0 466.6px,#54c568 0 474.6px,#46c06f 0 482.6px,#38b977 0 490.5px,#2db27d 0 498.5px,#22a785 0 506.5px,#1e9b8a 0 514.5px,#218e8d 0 522.4px,#287c8e 0 530.4px,#2f6c8e 0 538.4px,#2e6e8e 0 546.4px,#33628d 0 554.3px,#31678e 0 562.3px,#375a8c 0 570.3px,#365d8d 0 578.3px,#34618d 0 586.2px,#39558c 0 594.2px,#375b8d 0 602.2px,#2e6e8e 0 610.2px,#2e6d8e 0 618.2px,#2d708e 0 626.1px,#2a768e 0 634.1px,#2b758e 0 642.1px,#2e6d8e 0 650.1px,#2b748e 0 658.0px,#297a8e 0 666.0px,#2a768e 0)"></i><i style="left:2644px;width:34px;background:linear-gradient(#440154 0 4.0px,#450457 0 12.0px,#46075a 0 19.9px,#440256 0 27.9px,#440154 0 35.9px,#440256 0 43.9px,#440154 0 51.8px,#470d60 0 59.8px,#481b6d 0 67.8px,#482173 0 75.8px,#482979 0 83.8px,#472c7a 0 91.7px,#453581 0 99.7px,#414287 0 107.7px,#3f4788 0 115.7px,#3d4d8a 0 123.6px,#3b528b 0 131.6px,#34618d 0 139.6px,#33628d 0 147.6px,#2e6d8e 0 155.5px,#2d708e 0 163.5px,#2a768e 0 171.5px,#297b8e 0 179.5px,#27808e 0 187.4px,#25848e 0 195.4px,#238a8d 0 203.4px,#218f8d 0 211.4px,#20938c 0 219.3px,#1f978b 0 227.3px,#1e9b8a 0 235.3px,#1fa088 0 243.3px,#20a386 0 251.2px,#22a884 0 259.2px,#26ad81 0 267.2px,#29af7f 0 275.2px,#2eb37c 0 283.2px,#32b67a 0 291.1px,#38b977 0 299.1px,#3dbc74 0 307.1px,#42be71 0 315.1px,#48c16e 0 323.0px,#4ec36b 0 331.0px,#56c667 0 339.0px,#5cc863 0 347.0px,#65cb5e 0 354.9px,#6ece58 0 362.9px,#77d153 0 370.9px,#81d34d 0 378.9px,#8bd646 0 386.8px,#95d840 0 394.8px,#9dd93b 0 402.8px,#a0da39 0 410.8px,#9dd93b 0 418.8px,#95d840 0 426.7px,#8bd646 0 434.7px,#7fd34e 0 442.7px,#75d054 0 450.7px,#67cc5c 0 458.6px,#5cc863 0 466.6px,#50c46a 0 474.6px,#40bd72 0 482.6px,#35b779 0 490.5px,#28ae80 0 498.5px,#20a386 0 506.5px,#1f968b 0 514.5px,#23888e 0 522.4px,#297b8e 0 530.4px,#32648e 0 538.4px,#3a538b 0 546.4px,#3a548c 0 554.3px,#32648e 0 562.3px,#34608d 0 570.3px,#3e4a89 0 578.3px,#39558c 0 586.2px,#3e4989 0 594.2px,#375b8d 0 602.2px,#365c8d 0 610.2px,#32648e 0 618.2px,#2d718e 0 626.1px,#306a8e 0 634.1px,#31668e 0 642.1px,#355e8d 0 650.1px,#2a768e 0 658.0px,#2a778e 0 666.0px,#31668e 0)"></i><i style="left:2678px;width:34px;background:linear-gradient(#440154 0 12.0px,#440256 0 19.9px,#440154 0 27.9px,#450457 0 43.9px,#440154 0 51.8px,#460a5d 0 59.8px,#481a6c 0 67.8px,#481d6f 0 75.8px,#482173 0 83.8px,#472d7b 0 91.7px,#443b84 0 99.7px,#423f85 0 107.7px,#404688 0 115.7px,#3c4f8a 0 123.6px,#38588c 0 131.6px,#355f8d 0 139.6px,#34608d 0 147.6px,#31688e 0 155.5px,#2e6f8e 0 163.5px,#2c738e 0 171.5px,#2a788e 0 179.5px,#287d8e 0 187.4px,#26828e 0 195.4px,#24878e 0 203.4px,#228d8d 0 211.4px,#20928c 0 219.3px,#1f958b 0 227.3px,#1f998a 0 235.3px,#1f9e89 0 243.3px,#1fa187 0 251.2px,#21a685 0 259.2px,#24aa83 0 267.2px,#26ad81 0 275.2px,#2ab07f 0 283.2px,#2fb47c 0 291.1px,#34b679 0 299.1px,#38b977 0 307.1px,#3dbc74 0 315.1px,#42be71 0 323.0px,#48c16e 0 331.0px,#50c46a 0 339.0px,#56c667 0 347.0px,#5ec962 0 354.9px,#67cc5c 0 362.9px,#70cf57 0 370.9px,#7ad151 0 378.9px,#84d44b 0 386.8px,#8ed645 0 394.8px,#95d840 0 402.8px,#9bd93c 0 418.8px,#93d741 0 426.7px,#89d548 0 434.7px,#7fd34e 0 442.7px,#73d056 0 450.7px,#67cc5c 0 458.6px,#5cc863 0 466.6px,#50c46a 0 474.6px,#42be71 0 482.6px,#35b779 0 490.5px,#2ab07f 0 498.5px,#21a585 0 506.5px,#1f988b 0 514.5px,#228b8d 0 522.4px,#297b8e 0 538.4px,#34618d 0 554.3px,#34608d 0 562.3px,#355e8d 0 570.3px,#365c8d 0 578.3px,#3a548c 0 586.2px,#3a538b 0 594.2px,#33638d 0 602.2px,#365c8d 0 610.2px,#2b758e 0 618.2px,#2e6d8e 0 626.1px,#306a8e 0 634.1px,#2d718e 0 642.1px,#2d708e 0 650.1px,#2e6e8e 0 658.0px,#29798e 0 666.0px,#33628d 0)"></i><i style="left:2712px;width:35px;background:linear-gradient(#440154 0 35.9px,#460a5d 0 43.9px,#440154 0 51.8px,#460b5e 0 59.8px,#471365 0 67.8px,#481f70 0 75.8px,#482475 0 83.8px,#482979 0 91.7px,#453581 0 99.7px,#443983 0 107.7px,#404588 0 115.7px,#3c4f8a 0 123.6px,#3b528b 0 131.6px,#38588c 0 139.6px,#34618d 0 147.6px,#2f6b8e 0 155.5px,#2e6e8e 0 163.5px,#2b748e 0 171.5px,#29798e 0 179.5px,#277e8e 0 187.4px,#25838e 0 195.4px,#23888e 0 203.4px,#218e8d 0 211.4px,#20928c 0 219.3px,#1f958b 0 227.3px,#1f9a8a 0 235.3px,#1f9e89 0 243.3px,#1fa287 0 251.2px,#21a685 0 259.2px,#22a884 0 267.2px,#25ac82 0 275.2px,#28ae80 0 283.2px,#2db27d 0 291.1px,#31b57b 0 299.1px,#37b878 0 307.1px,#3aba76 0 315.1px,#3fbc73 0 323.0px,#44bf70 0 331.0px,#4cc26c 0 339.0px,#54c568 0 347.0px,#5ac864 0 354.9px,#65cb5e 0 362.9px,#6ece58 0 370.9px,#77d153 0 378.9px,#7fd34e 0 386.8px,#89d548 0 394.8px,#90d743 0 402.8px,#95d840 0 410.8px,#90d743 0 418.8px,#89d548 0 426.7px,#7cd250 0 434.7px,#73d056 0 442.7px,#67cc5c 0 450.7px,#5cc863 0 458.6px,#52c569 0 466.6px,#44bf70 0 474.6px,#38b977 0 482.6px,#2db27d 0 490.5px,#23a983 0 498.5px,#1f9e89 0 506.5px,#21918c 0 514.5px,#26828e 0 522.4px,#2a768e 0 530.4px,#355e8d 0 538.4px,#38598c 0 546.4px,#3c508b 0 554.3px,#3e4a89 0 562.3px,#375a8c 0 570.3px,#3c4f8a 0 578.3px,#423f85 0 586.2px,#39568c 0 594.2px,#3e4a89 0 602.2px,#38588c 0 610.2px,#34618d 0 618.2px,#306a8e 0 626.1px,#2f6b8e 0 634.1px,#31688e 0 642.1px,#2e6d8e 0 650.1px,#2d718e 0 658.0px,#34618d 0 666.0px,#31678e 0)"></i><i style="left:2747px;width:34px;background:linear-gradient(#440154 0 35.9px,#46075a 0 43.9px,#440256 0 51.8px,#46085c 0 59.8px,#481668 0 67.8px,#481a6c 0 75.8px,#482878 0 83.8px,#472f7d 0 91.7px,#453581 0 99.7px,#414287 0 115.7px,#3b528b 0 131.6px,#39558c 0 139.6px,#32648e 0 147.6px,#2f6b8e 0 155.5px,#2d708e 0 163.5px,#2a768e 0 171.5px,#297b8e 0 179.5px,#27808e 0 187.4px,#25848e 0 195.4px,#238a8d 0 203.4px,#218f8d 0 211.4px,#20938c 0 219.3px,#1f978b 0 227.3px,#1e9b8a 0 235.3px,#1fa088 0 243.3px,#20a386 0 251.2px,#22a785 0 259.2px,#25ac82 0 267.2px,#29af7f 0 275.2px,#2eb37c 0 283.2px,#32b67a 0 291.1px,#37b878 0 299.1px,#3dbc74 0 307.1px,#42be71 0 315.1px,#48c16e 0 323.0px,#4cc26c 0 331.0px,#54c568 0 339.0px,#5cc863 0 347.0px,#65cb5e 0 354.9px,#6ece58 0 362.9px,#77d153 0 370.9px,#81d34d 0 378.9px,#8bd646 0 386.8px,#93d741 0 394.8px,#9dd93b 0 402.8px,#a0da39 0 410.8px,#9dd93b 0 418.8px,#95d840 0 426.7px,#89d548 0 434.7px,#7fd34e 0 442.7px,#73d056 0 450.7px,#67cc5c 0 458.6px,#5cc863 0 466.6px,#4ec36b 0 474.6px,#40bd72 0 482.6px,#35b779 0 490.5px,#28ae80 0 498.5px,#20a386 0 506.5px,#1f968b 0 514.5px,#23888e 0 522.4px,#297b8e 0 530.4px,#2e6e8e 0 538.4px,#33638d 0 546.4px,#31678e 0 554.3px,#39558c 0 570.3px,#32648e 0 578.3px,#3b518b 0 586.2px,#3e4c8a 0 594.2px,#3c508b 0 602.2px,#2e6d8e 0 610.2px,#2a788e 0 618.2px,#2e6d8e 0 626.1px,#287d8e 0 642.1px,#2a778e 0 650.1px,#2c718e 0 658.0px,#2e6d8e 0 666.0px,#2f6b8e 0)"></i><i style="left:2781px;width:34px;background:linear-gradient(#450457 0 4.0px,#460a5d 0 12.0px,#450457 0 19.9px,#440154 0 51.8px,#481467 0 59.8px,#481a6c 0 67.8px,#482878 0 75.8px,#472c7a 0 83.8px,#46327e 0 91.7px,#443a83 0 99.7px,#414287 0 107.7px,#424186 0 115.7px,#3d4e8a 0 123.6px,#38588c 0 131.6px,#355f8d 0 139.6px,#34618d 0 147.6px,#306a8e 0 155.5px,#2d708e 0 163.5px,#2a768e 0 171.5px,#297b8e 0 179.5px,#27808e 0 187.4px,#25848e 0 195.4px,#238a8d 0 203.4px,#218f8d 0 211.4px,#20938c 0 219.3px,#1f978b 0 227.3px,#1e9b8a 0 235.3px,#1fa088 0 243.3px,#20a386 0 251.2px,#22a884 0 259.2px,#26ad81 0 267.2px,#29af7f 0 275.2px,#2eb37c 0 283.2px,#32b67a 0 291.1px,#38b977 0 299.1px,#3dbc74 0 307.1px,#42be71 0 315.1px,#48c16e 0 323.0px,#4ec36b 0 331.0px,#54c568 0 339.0px,#5cc863 0 347.0px,#65cb5e 0 354.9px,#6ece58 0 362.9px,#77d153 0 370.9px,#81d34d 0 378.9px,#8bd646 0 386.8px,#95d840 0 394.8px,#9dd93b 0 402.8px,#a2da37 0 410.8px,#9dd93b 0 418.8px,#95d840 0 426.7px,#8bd646 0 434.7px,#7fd34e 0 442.7px,#75d054 0 450.7px,#67cc5c 0 458.6px,#5cc863 0 466.6px,#50c46a 0 474.6px,#40bd72 0 482.6px,#35b779 0 490.5px,#28ae80 0 498.5px,#20a386 0 506.5px,#1f968b 0 514.5px,#23888e 0 522.4px,#287c8e 0 530.4px,#2d708e 0 538.4px,#33628d 0 546.4px,#3b518b 0 554.3px,#365c8d 0 562.3px,#3d4e8a 0 578.3px,#3c508b 0 586.2px,#424086 0 594.2px,#3d4e8a 0 602.2px,#3f4889 0 610.2px,#33628d 0 618.2px,#31688e 0 626.1px,#38598c 0 634.1px,#306a8e 0 642.1px,#31688e 0 650.1px,#2c738e 0 658.0px,#2f6b8e 0 666.0px,#33638d 0)"></i><i style="left:2815px;width:35px;background:linear-gradient(#46085c 0 4.0px,#450559 0 12.0px,#440154 0 19.9px,#450457 0 27.9px,#440154 0 43.9px,#440256 0 51.8px,#481668 0 59.8px,#481c6e 0 67.8px,#481f70 0 75.8px,#482475 0 83.8px,#472e7c 0 91.7px,#472f7d 0 99.7px,#424086 0 107.7px,#404688 0 115.7px,#3b528b 0 123.6px,#375a8c 0 131.6px,#365c8d 0 139.6px,#32648e 0 147.6px,#31688e 0 155.5px,#2e6f8e 0 163.5px,#2b748e 0 171.5px,#29798e 0 179.5px,#277e8e 0 187.4px,#25838e 0 195.4px,#23888e 0 203.4px,#228d8d 0 211.4px,#20928c 0 219.3px,#1f968b 0 227.3px,#1f9a8a 0 235.3px,#1f9e89 0 243.3px,#1fa287 0 251.2px,#21a685 0 259.2px,#25ab82 0 267.2px,#27ad81 0 275.2px,#2cb17e 0 283.2px,#31b57b 0 291.1px,#35b779 0 299.1px,#3aba76 0 307.1px,#3fbc73 0 315.1px,#44bf70 0 323.0px,#4ac16d 0 331.0px,#52c569 0 339.0px,#58c765 0 347.0px,#60ca60 0 354.9px,#69cd5b 0 362.9px,#73d056 0 370.9px,#7cd250 0 378.9px,#86d549 0 386.8px,#90d743 0 394.8px,#98d83e 0 402.8px,#9dd93b 0 418.8px,#95d840 0 426.7px,#8bd646 0 434.7px,#7fd34e 0 442.7px,#75d054 0 450.7px,#69cd5b 0 458.6px,#5cc863 0 466.6px,#52c569 0 474.6px,#42be71 0 482.6px,#37b878 0 490.5px,#2cb17e 0 498.5px,#21a685 0 506.5px,#1f998a 0 514.5px,#228b8d 0 522.4px,#287c8e 0 530.4px,#297a8e 0 538.4px,#31688e 0 546.4px,#38588c 0 554.3px,#3f4788 0 562.3px,#365c8d 0 570.3px,#3d4e8a 0 578.3px,#3e4989 0 586.2px,#433d84 0 594.2px,#38588c 0 602.2px,#3e4989 0 610.2px,#470d60 0 618.2px,#472c7a 0 626.1px,#4ec36b 0 634.1px,#22a884 0 642.1px,#4ec36b 0 650.1px,#470d60 0 666.0px,#fde725 0)"></i><i style="left:2850px;width:34px;background:linear-gradient(#440154 0 12.0px,#440256 0 19.9px,#440154 0 27.9px,#450457 0 35.9px,#440154 0 51.8px,#460b5e 0 59.8px,#481668 0 67.8px,#482071 0 75.8px,#482878 0 83.8px,#46307e 0 91.7px,#453581 0 99.7px,#443983 0 107.7px,#414487 0 115.7px,#3e4989 0 123.6px,#3a538b 0 131.6px,#365d8d 0 139.6px,#33628d 0 147.6px,#32648e 0 155.5px,#2e6e8e 0 163.5px,#2c738e 0 171.5px,#29798e 0 179.5px,#277e8e 0 187.4px,#26828e 0 195.4px,#24878e 0 203.4px,#228d8d 0 211.4px,#20928c 0 219.3px,#1f958b 0 227.3px,#1f998a 0 235.3px,#1f9e89 0 243.3px,#1fa187 0 251.2px,#21a585 0 259.2px,#22a884 0 267.2px,#25ac82 0 275.2px,#29af7f 0 283.2px,#2db27d 0 291.1px,#32b67a 0 299.1px,#37b878 0 307.1px,#3bbb75 0 315.1px,#40bd72 0 323.0px,#44bf70 0 331.0px,#4cc26c 0 339.0px,#54c568 0 347.0px,#5cc863 0 354.9px,#65cb5e 0 362.9px,#6ece58 0 370.9px,#77d153 0 378.9px,#81d34d 0 386.8px,#89d548 0 394.8px,#93d741 0 402.8px,#98d83e 0 410.8px,#95d840 0 418.8px,#8ed645 0 426.7px,#84d44b 0 434.7px,#77d153 0 442.7px,#6ece58 0 450.7px,#63cb5f 0 458.6px,#56c667 0 466.6px,#4cc26c 0 474.6px,#3dbc74 0 482.6px,#32b67a 0 490.5px,#27ad81 0 498.5px,#1fa287 0 506.5px,#1f958b 0 514.5px,#24878e 0 522.4px,#29798e 0 530.4px,#2d708e 0 538.4px,#32648e 0 546.4px,#31668e 0 554.3px,#39568c 0 562.3px,#31678e 0 570.3px,#39568c 0 578.3px,#365d8d 0 586.2px,#3c508b 0 594.2px,#433d84 0 602.2px,#33628d 0 610.2px,#297a8e 0 618.2px,#42be71 0 626.1px,#470d60 0 634.1px,#1e9c89 0 642.1px,#470d60 0 650.1px,#eae51a 0 658.0px,#470d60 0 666.0px,#2a778e 0)"></i><i style="left:2884px;width:34px;background:linear-gradient(#440256 0 4.0px,#46075a 0 12.0px,#450559 0 19.9px,#46085c 0 27.9px,#440154 0 35.9px,#440256 0 51.8px,#460a5d 0 59.8px,#481c6e 0 67.8px,#482173 0 75.8px,#482979 0 83.8px,#482677 0 91.7px,#453781 0 99.7px,#424086 0 107.7px,#414287 0 115.7px,#3a538b 0 123.6px,#3c508b 0 131.6px,#38588c 0 139.6px,#32658e 0 147.6px,#2f6b8e 0 155.5px,#2e6e8e 0 163.5px,#2c738e 0 171.5px,#2a788e 0 179.5px,#287d8e 0 187.4px,#26828e 0 195.4px,#24868e 0 203.4px,#228c8d 0 211.4px,#21918c 0 219.3px,#1f948c 0 227.3px,#1f998a 0 235.3px,#1e9d89 0 243.3px,#1fa188 0 251.2px,#21a585 0 259.2px,#23a983 0 267.2px,#25ac82 0 275.2px,#29af7f 0 283.2px,#2eb37c 0 291.1px,#32b67a 0 299.1px,#37b878 0 307.1px,#3dbc74 0 315.1px,#40bd72 0 323.0px,#46c06f 0 331.0px,#4cc26c 0 339.0px,#54c568 0 347.0px,#5cc863 0 354.9px,#65cb5e 0 362.9px,#6ece58 0 370.9px,#77d153 0 378.9px,#81d34d 0 386.8px,#8bd646 0 394.8px,#93d741 0 402.8px,#9bd93c 0 418.8px,#93d741 0 426.7px,#89d548 0 434.7px,#7fd34e 0 442.7px,#73d056 0 450.7px,#67cc5c 0 458.6px,#5cc863 0 466.6px,#52c569 0 474.6px,#44bf70 0 482.6px,#37b878 0 490.5px,#2db27d 0 498.5px,#22a785 0 506.5px,#1e9b8a 0 514.5px,#228d8d 0 522.4px,#287c8e 0 530.4px,#2e6e8e 0 538.4px,#2e6d8e 0 546.4px,#287c8e 0 554.3px,#365d8d 0 562.3px,#2e6e8e 0 570.3px,#38598c 0 578.3px,#3b528b 0 586.2px,#3d4e8a 0 594.2px,#38598c 0 602.2px,#32658e 0 610.2px,#2b758e 0 618.2px,#2c718e 0 626.1px,#2e6e8e 0 634.1px,#33628d 0 642.1px,#228b8d 0 650.1px,#287d8e 0 658.0px,#277e8e 0 666.0px,#2a768e 0)"></i><i style="left:2918px;width:35px;background:linear-gradient(#46075a 0 4.0px,#440154 0 19.9px,#450457 0 27.9px,#440154 0 35.9px,#460a5d 0 43.9px,#440154 0 51.8px,#450559 0 59.8px,#481b6d 0 67.8px,#482374 0 75.8px,#482878 0 83.8px,#472a7a 0 91.7px,#46307e 0 99.7px,#424086 0 107.7px,#3e4a89 0 115.7px,#3c4f8a 0 123.6px,#38588c 0 131.6px,#355e8d 0 139.6px,#34608d 0 147.6px,#33638d 0 155.5px,#2e6f8e 0 163.5px,#2b758e 0 171.5px,#297a8e 0 179.5px,#277f8e 0 187.4px,#25838e 0 195.4px,#23898e 0 203.4px,#218e8d 0 211.4px,#20928c 0 219.3px,#1f968b 0 227.3px,#1f9a8a 0 235.3px,#1f9f88 0 243.3px,#1fa287 0 251.2px,#21a685 0 259.2px,#23a983 0 267.2px,#26ad81 0 275.2px,#2ab07f 0 283.2px,#2eb37c 0 291.1px,#34b679 0 299.1px,#38b977 0 307.1px,#3dbc74 0 315.1px,#42be71 0 323.0px,#46c06f 0 331.0px,#4ec36b 0 339.0px,#56c667 0 347.0px,#5ec962 0 354.9px,#67cc5c 0 362.9px,#70cf57 0 370.9px,#7ad151 0 378.9px,#84d44b 0 386.8px,#8ed645 0 394.8px,#95d840 0 402.8px,#9bd93c 0 410.8px,#95d840 0 418.8px,#8ed645 0 426.7px,#81d34d 0 434.7px,#77d153 0 442.7px,#6ccd5a 0 450.7px,#60ca60 0 458.6px,#56c667 0 466.6px,#4ac16d 0 474.6px,#3dbc74 0 482.6px,#32b67a 0 490.5px,#26ad81 0 498.5px,#1fa187 0 506.5px,#20938c 0 514.5px,#25858e 0 522.4px,#29798e 0 530.4px,#34608d 0 538.4px,#39558c 0 546.4px,#38598c 0 554.3px,#3b518b 0 562.3px,#365c8d 0 570.3px,#32648e 0 578.3px,#3e4a89 0 586.2px,#3c4f8a 0 594.2px,#375a8c 0 602.2px,#33638d 0 610.2px,#34618d 0 618.2px,#2e6f8e 0 626.1px,#2e6d8e 0 634.1px,#2d708e 0 642.1px,#297a8e 0 650.1px,#2e6f8e 0 658.0px,#306a8e 0 666.0px,#2a778e 0)"></i><i style="left:2953px;width:34px;background:linear-gradient(#440154 0 4.0px,#46075a 0 12.0px,#440256 0 19.9px,#440154 0 51.8px,#450559 0 59.8px,#481668 0 67.8px,#481f70 0 75.8px,#472c7a 0 83.8px,#472e7c 0 91.7px,#46337f 0 99.7px,#433d84 0 107.7px,#3f4889 0 115.7px,#3e4a89 0 123.6px,#375a8c 0 131.6px,#355f8d 0 139.6px,#33628d 0 147.6px,#306a8e 0 155.5px,#2e6f8e 0 163.5px,#2b748e 0 171.5px,#29798e 0 179.5px,#277e8e 0 187.4px,#26828e 0 195.4px,#23888e 0 203.4px,#228d8d 0 211.4px,#20928c 0 219.3px,#1f958b 0 227.3px,#1f9a8a 0 235.3px,#1f9e89 0 243.3px,#1fa187 0 251.2px,#21a685 0 259.2px,#23a983 0 267.2px,#26ad81 0 275.2px,#2ab07f 0 283.2px,#2eb37c 0 291.1px,#32b67a 0 299.1px,#38b977 0 307.1px,#3dbc74 0 315.1px,#42be71 0 323.0px,#46c06f 0 331.0px,#4ec36b 0 339.0px,#56c667 0 347.0px,#5ec962 0 354.9px,#67cc5c 0 362.9px,#70cf57 0 370.9px,#7ad151 0 378.9px,#84d44b 0 386.8px,#8bd646 0 394.8px,#95d840 0 402.8px,#9bd93c 0 410.8px,#98d83e 0 418.8px,#90d743 0 426.7px,#86d549 0 434.7px,#7ad151 0 442.7px,#70cf57 0 450.7px,#65cb5e 0 458.6px,#5ac864 0 466.6px,#4ec36b 0 474.6px,#40bd72 0 482.6px,#35b779 0 490.5px,#29af7f 0 498.5px,#20a486 0 506.5px,#1f978b 0 514.5px,#23898e 0 522.4px,#297a8e 0 530.4px,#2c718e 0 538.4px,#355f8d 0 546.4px,#433d84 0 554.3px,#472c7a 0 562.3px,#472f7d 0 570.3px,#453781 0 578.3px,#472d7b 0 586.2px,#482576 0 594.2px,#482071 0 602.2px,#404588 0 610.2px,#3e4989 0 618.2px,#414487 0 626.1px,#3a548c 0 634.1px,#3d4d8a 0 642.1px,#404688 0 650.1px,#39558c 0 658.0px,#414487 0 666.0px,#3c4f8a 0)"></i><i style="left:2987px;width:34px;background:linear-gradient(#46075a 0 4.0px,#440154 0 19.9px,#450559 0 27.9px,#440154 0 35.9px,#450559 0 43.9px,#440154 0 51.8px,#471164 0 59.8px,#481c6e 0 67.8px,#482173 0 75.8px,#481f70 0 83.8px,#472a7a 0 91.7px,#443b84 0 99.7px,#424086 0 107.7px,#3e4a89 0 115.7px,#3c508b 0 123.6px,#375a8c 0 131.6px,#34618d 0 139.6px,#32648e 0 147.6px,#2d718e 0 155.5px,#2d708e 0 163.5px,#2b748e 0 171.5px,#29798e 0 179.5px,#277e8e 0 187.4px,#26828e 0 195.4px,#23888e 0 203.4px,#228d8d 0 211.4px,#20928c 0 219.3px,#1f958b 0 227.3px,#1f9a8a 0 235.3px,#1f9e89 0 243.3px,#1fa187 0 251.2px,#21a685 0 259.2px,#25ab82 0 267.2px,#28ae80 0 275.2px,#2cb17e 0 283.2px,#31b57b 0 291.1px,#35b779 0 299.1px,#3bbb75 0 307.1px,#40bd72 0 315.1px,#46c06f 0 323.0px,#4ac16d 0 331.0px,#52c569 0 339.0px,#5ac864 0 347.0px,#60ca60 0 354.9px,#69cd5b 0 362.9px,#75d054 0 370.9px,#7fd34e 0 378.9px,#89d548 0 386.8px,#90d743 0 394.8px,#9bd93c 0 402.8px,#a0da39 0 410.8px,#a2da37 0 418.8px,#9bd93c 0 426.7px,#90d743 0 434.7px,#86d549 0 442.7px,#7ad151 0 450.7px,#6ece58 0 458.6px,#63cb5f 0 466.6px,#58c765 0 474.6px,#4ac16d 0 482.6px,#3dbc74 0 490.5px,#31b57b 0 498.5px,#24aa83 0 506.5px,#1f9e89 0 514.5px,#21908d 0 522.4px,#277f8e 0 530.4px,#287d8e 0 538.4px,#306a8e 0 546.4px,#3a538b 0 554.3px,#433e85 0 562.3px,#3f4889 0 570.3px,#3a538b 0 578.3px,#3d4d8a 0 586.2px,#39568c 0 594.2px,#39558c 0 602.2px,#39568c 0 610.2px,#33628d 0 618.2px,#33638d 0 626.1px,#34618d 0 634.1px,#31688e 0 642.1px,#2e6d8e 0 650.1px,#5cc863 0 658.0px,#dde318 0 666.0px,#2c738e 0)"></i><i style="left:3021px;width:35px;background:linear-gradient(#440154 0 12.0px,#450457 0 19.9px,#450559 0 27.9px,#46085c 0 35.9px,#440154 0 43.9px,#46075a 0 51.8px,#470d60 0 59.8px,#481769 0 67.8px,#482173 0 75.8px,#482878 0 83.8px,#472f7d 0 91.7px,#453882 0 99.7px,#424086 0 107.7px,#414487 0 115.7px,#3a538b 0 123.6px,#39568c 0 131.6px,#355f8d 0 139.6px,#31678e 0 147.6px,#2f6b8e 0 155.5px,#2d708e 0 163.5px,#2b748e 0 171.5px,#297a8e 0 179.5px,#277f8e 0 187.4px,#25838e 0 195.4px,#23888e 0 203.4px,#218e8d 0 211.4px,#20928c 0 219.3px,#1f968b 0 227.3px,#1f9a8a 0 235.3px,#1f9f88 0 243.3px,#1fa287 0 251.2px,#21a685 0 259.2px,#25ac82 0 267.2px,#29af7f 0 275.2px,#2db27d 0 283.2px,#32b67a 0 291.1px,#37b878 0 299.1px,#3dbc74 0 307.1px,#42be71 0 315.1px,#46c06f 0 323.0px,#4cc26c 0 331.0px,#54c568 0 339.0px,#5ac864 0 347.0px,#63cb5f 0 354.9px,#6ccd5a 0 362.9px,#75d054 0 370.9px,#7fd34e 0 378.9px,#89d548 0 386.8px,#93d741 0 394.8px,#9dd93b 0 402.8px,#a2da37 0 418.8px,#9bd93c 0 426.7px,#90d743 0 434.7px,#84d44b 0 442.7px,#7ad151 0 450.7px,#6ece58 0 458.6px,#63cb5f 0 466.6px,#58c765 0 474.6px,#4ac16d 0 482.6px,#3dbc74 0 490.5px,#31b57b 0 498.5px,#24aa83 0 506.5px,#1e9d89 0 514.5px,#218f8d 0 522.4px,#277f8e 0 530.4px,#2f6c8e 0 538.4px,#32648e 0 546.4px,#31688e 0 554.3px,#38598c 0 562.3px,#31678e 0 570.3px,#355f8d 0 578.3px,#32658e 0 586.2px,#365c8d 0 594.2px,#2e6e8e 0 602.2px,#30698e 0 610.2px,#2c718e 0 618.2px,#2e6e8e 0 626.1px,#26818e 0 634.1px,#30698e 0 642.1px,#287c8e 0 650.1px,#26828e 0 658.0px,#2d708e 0 666.0px,#2e6f8e 0)"></i></div>
<div class="hm" style="left:192px;top:1220.2px;height:669.7px;width:3056px"><i style="left:1px;width:30px;background:linear-gradient(#440154 0 4.0px,#450457 0 19.9px,#440154 0 27.9px,#46085c 0 35.9px,#440154 0 43.8px,#470d60 0 51.8px,#482475 0 59.8px,#482576 0 67.8px,#463480 0 75.7px,#453581 0 83.7px,#424186 0 91.7px,#3d4e8a 0 99.7px,#39558c 0 107.6px,#39568c 0 115.6px,#365d8d 0 123.6px,#34608d 0 131.5px,#32658e 0 139.5px,#306a8e 0 147.5px,#2d708e 0 155.5px,#2b748e 0 163.4px,#2a778e 0 171.4px,#287d8e 0 179.4px,#26828e 0 187.4px,#24868e 0 195.3px,#23888e 0 203.3px,#228c8d 0 211.3px,#20928c 0 219.2px,#1f958b 0 227.2px,#1e9b8a 0 235.2px,#1f9e89 0 243.2px,#1fa088 0 251.1px,#1fa287 0 259.1px,#25ab82 0 267.1px,#28ae80 0 275.1px,#2db27d 0 283.0px,#32b67a 0 291.0px,#3aba76 0 299.0px,#44bf70 0 306.9px,#4cc26c 0 314.9px,#58c765 0 322.9px,#5ec962 0 330.9px,#63cb5f 0 338.8px,#73d056 0 346.8px,#7cd250 0 362.8px,#89d548 0 370.7px,#98d83e 0 378.7px,#9bd93c 0 386.7px,#a0da39 0 394.6px,#addc30 0 402.6px,#aadc32 0 410.6px,#b0dd2f 0 418.6px,#bddf26 0 426.5px,#b5de2b 0 434.5px,#b8de29 0 450.5px,#c0df25 0 466.4px,#b5de2b 0 474.4px,#bade28 0 482.3px,#cae11f 0 490.3px,#cde11d 0 498.3px,#e2e418 0 506.3px,#e5e419 0 514.2px,#dae319 0 530.2px,#cde11d 0 538.2px,#c8e020 0 546.1px,#d0e11c 0 554.1px,#b5de2b 0 562.1px,#42be71 0 570.0px,#3bbb75 0 578.0px,#4ec36b 0 586.0px,#20a386 0 594.0px,#1fa287 0 601.9px,#37b878 0 609.9px,#28ae80 0 617.9px,#1fa287 0 625.9px,#1f9f88 0 633.8px,#24aa83 0 641.8px,#1f968b 0 649.8px,#21a585 0 657.7px,#27ad81 0 665.7px,#1f9f88 0)"></i><i style="left:31px;width:30px;background:linear-gradient(#440154 0 4.0px,#440256 0 19.9px,#450457 0 27.9px,#440154 0 35.9px,#450559 0 43.8px,#470e61 0 51.8px,#482576 0 59.8px,#482979 0 67.8px,#472f7d 0 75.7px,#443b84 0 83.7px,#404588 0 91.7px,#3f4788 0 99.7px,#3b518b 0 107.6px,#38598c 0 115.6px,#375a8c 0 123.6px,#365d8d 0 131.5px,#31668e 0 139.5px,#2f6c8e 0 155.5px,#2c738e 0 163.4px,#2a778e 0 171.4px,#277e8e 0 179.4px,#25838e 0 187.4px,#24868e 0 195.3px,#23898e 0 203.3px,#228d8d 0 211.3px,#21918c 0 219.2px,#1f968b 0 227.2px,#1f9a8a 0 235.2px,#1fa188 0 243.2px,#1fa187 0 251.1px,#22a785 0 259.1px,#24aa83 0 267.1px,#26ad81 0 275.1px,#2db27d 0 283.0px,#31b57b 0 291.0px,#3dbc74 0 299.0px,#38b977 0 306.9px,#4cc26c 0 314.9px,#52c569 0 322.9px,#58c765 0 330.9px,#63cb5f 0 338.8px,#6ccd5a 0 346.8px,#77d153 0 354.8px,#7fd34e 0 362.8px,#89d548 0 378.7px,#95d840 0 386.7px,#98d83e 0 394.6px,#a8db34 0 402.6px,#a5db36 0 410.6px,#a8db34 0 418.6px,#aadc32 0 426.5px,#addc30 0 442.5px,#a8db34 0 450.5px,#addc30 0 458.4px,#a8db34 0 466.4px,#a2da37 0 474.4px,#a8db34 0 482.3px,#b0dd2f 0 490.3px,#b5de2b 0 498.3px,#a5db36 0 506.3px,#a0da39 0 514.2px,#b0dd2f 0 522.2px,#aadc32 0 530.2px,#b0dd2f 0 538.2px,#a5db36 0 546.1px,#6ece58 0 554.1px,#2fb47c 0 562.1px,#23a983 0 570.0px,#46c06f 0 578.0px,#2eb37c 0 586.0px,#38b977 0 594.0px,#29af7f 0 601.9px,#2ab07f 0 609.9px,#1f9f88 0 625.9px,#1fa088 0 633.8px,#1f9a8a 0 641.8px,#1f988b 0 649.8px,#1e9b8a 0 657.7px,#1fa088 0 665.7px,#24aa83 0)"></i><i style="left:61px;width:30px;background:linear-gradient(#46075a 0 12.0px,#450559 0 27.9px,#440256 0 35.9px,#440154 0 43.8px,#450559 0 51.8px,#481f70 0 59.8px,#482576 0 67.8px,#472a7a 0 75.7px,#46327e 0 83.7px,#443b84 0 91.7px,#414487 0 99.7px,#3e4c8a 0 107.6px,#3c508b 0 115.6px,#3a548c 0 123.6px,#375a8c 0 131.5px,#33628d 0 147.5px,#2e6d8e 0 155.5px,#2c718e 0 163.4px,#2a768e 0 171.4px,#287d8e 0 179.4px,#287c8e 0 187.4px,#26818e 0 195.3px,#25858e 0 203.3px,#23898e 0 211.3px,#218e8d 0 219.2px,#20928c 0 227.2px,#1f978b 0 235.2px,#1e9d89 0 243.2px,#1f9f88 0 251.1px,#21a685 0 259.1px,#23a983 0 267.1px,#2cb17e 0 275.1px,#2db27d 0 283.0px,#31b57b 0 291.0px,#38b977 0 299.0px,#40bd72 0 306.9px,#4ac16d 0 314.9px,#54c568 0 322.9px,#58c765 0 330.9px,#5ec962 0 338.8px,#65cb5e 0 346.8px,#7ad151 0 354.8px,#7cd250 0 362.8px,#81d34d 0 370.7px,#90d743 0 378.7px,#98d83e 0 386.7px,#a2da37 0 394.6px,#a0da39 0 402.6px,#a5db36 0 410.6px,#addc30 0 418.6px,#a8db34 0 426.5px,#addc30 0 434.5px,#b0dd2f 0 442.5px,#b5de2b 0 450.5px,#bddf26 0 458.4px,#bade28 0 474.4px,#c5e021 0 482.3px,#cae11f 0 490.3px,#c5e021 0 498.3px,#d0e11c 0 506.3px,#dde318 0 514.2px,#c8e020 0 522.2px,#c2df23 0 530.2px,#b2dd2d 0 538.2px,#77d153 0 546.1px,#48c16e 0 554.1px,#26ad81 0 562.1px,#2cb17e 0 570.0px,#34b679 0 578.0px,#2cb17e 0 586.0px,#22a884 0 594.0px,#29af7f 0 601.9px,#27ad81 0 617.9px,#1e9d89 0 625.9px,#21a585 0 633.8px,#1fa287 0 641.8px,#25ab82 0 649.8px,#1f978b 0 657.7px,#25ac82 0 665.7px,#1f978b 0)"></i><i style="left:91px;width:31px;background:linear-gradient(#450457 0 4.0px,#440154 0 19.9px,#450457 0 27.9px,#440154 0 35.9px,#450559 0 43.8px,#46085c 0 51.8px,#470e61 0 59.8px,#482173 0 67.8px,#482475 0 75.7px,#46327e 0 83.7px,#433d84 0 91.7px,#3e4a89 0 99.7px,#3c508b 0 107.6px,#3b518b 0 115.6px,#38598c 0 123.6px,#355e8d 0 131.5px,#34618d 0 139.5px,#31668e 0 147.5px,#2f6c8e 0 155.5px,#2e6d8e 0 163.4px,#2b758e 0 171.4px,#297a8e 0 179.4px,#277f8e 0 187.4px,#26828e 0 195.3px,#24868e 0 203.3px,#23888e 0 211.3px,#21908d 0 219.2px,#21918c 0 227.2px,#1f968b 0 235.2px,#1e9d89 0 243.2px,#1f9f88 0 251.1px,#1fa287 0 259.1px,#22a884 0 267.1px,#28ae80 0 275.1px,#2cb17e 0 283.0px,#35b779 0 291.0px,#37b878 0 299.0px,#46c06f 0 306.9px,#4ac16d 0 314.9px,#50c46a 0 322.9px,#60ca60 0 330.9px,#6ccd5a 0 338.8px,#73d056 0 346.8px,#77d153 0 354.8px,#7fd34e 0 362.8px,#8bd646 0 370.7px,#8ed645 0 378.7px,#98d83e 0 386.7px,#a0da39 0 394.6px,#aadc32 0 402.6px,#b2dd2d 0 410.6px,#addc30 0 418.6px,#aadc32 0 426.5px,#b5de2b 0 434.5px,#b8de29 0 442.5px,#b5de2b 0 450.5px,#b8de29 0 458.4px,#b2dd2d 0 466.4px,#aadc32 0 474.4px,#addc30 0 482.3px,#a5db36 0 490.3px,#9bd93c 0 498.3px,#a2da37 0 506.3px,#84d44b 0 522.2px,#7ad151 0 530.2px,#6ccd5a 0 538.2px,#6ece58 0 546.1px,#46c06f 0 554.1px,#2db27d 0 562.1px,#2cb17e 0 570.0px,#27ad81 0 578.0px,#2cb17e 0 586.0px,#32b67a 0 594.0px,#25ab82 0 609.9px,#1fa088 0 617.9px,#1f978b 0 625.9px,#40bd72 0 633.8px,#21a685 0 641.8px,#20a486 0 649.8px,#1e9d89 0 657.7px,#1f9a8a 0 665.7px,#1fa188 0)"></i><i style="left:122px;width:30px;background:linear-gradient(#440256 0 4.0px,#440154 0 43.8px,#450457 0 51.8px,#470e61 0 59.8px,#481a6c 0 67.8px,#482071 0 75.7px,#46307e 0 83.7px,#453581 0 91.7px,#453882 0 99.7px,#3f4889 0 115.6px,#3c4f8a 0 123.6px,#38588c 0 131.5px,#34618d 0 139.5px,#31688e 0 147.5px,#30698e 0 155.5px,#2e6e8e 0 163.4px,#2c718e 0 171.4px,#29798e 0 179.4px,#287c8e 0 187.4px,#277e8e 0 195.3px,#24868e 0 203.3px,#238a8d 0 219.2px,#20928c 0 227.2px,#1f948c 0 235.2px,#1f998a 0 243.2px,#1f9e89 0 251.1px,#20a486 0 259.1px,#23a983 0 267.1px,#26ad81 0 275.1px,#2db27d 0 283.0px,#32b67a 0 291.0px,#38b977 0 299.0px,#3fbc73 0 306.9px,#4ec36b 0 314.9px,#5ac864 0 322.9px,#67cc5c 0 330.9px,#73d056 0 338.8px,#75d054 0 346.8px,#7cd250 0 354.8px,#7fd34e 0 362.8px,#8bd646 0 370.7px,#a0da39 0 378.7px,#a2da37 0 386.7px,#a5db36 0 394.6px,#b0dd2f 0 410.6px,#addc30 0 418.6px,#b5de2b 0 434.5px,#bade28 0 450.5px,#c5e021 0 458.4px,#c0df25 0 466.4px,#b0dd2f 0 474.4px,#a5db36 0 490.3px,#a2da37 0 498.3px,#b0dd2f 0 506.3px,#95d840 0 514.2px,#a0da39 0 522.2px,#90d743 0 530.2px,#5ec962 0 538.2px,#2cb17e 0 546.1px,#34b679 0 554.1px,#24aa83 0 562.1px,#1fa088 0 570.0px,#20a486 0 578.0px,#21a685 0 586.0px,#24aa83 0 594.0px,#29af7f 0 601.9px,#1fa187 0 609.9px,#1f9a8a 0 617.9px,#1f9e89 0 625.9px,#1e9d89 0 633.8px,#25848e 0 641.8px,#1f9f88 0 649.8px,#1f988b 0 657.7px,#25ac82 0 665.7px,#24aa83 0)"></i><i style="left:152px;width:30px;background:linear-gradient(#440154 0 19.9px,#450457 0 27.9px,#440154 0 43.8px,#450457 0 51.8px,#481467 0 59.8px,#481f70 0 67.8px,#482677 0 75.7px,#46327e 0 83.7px,#453581 0 91.7px,#414487 0 107.6px,#3c508b 0 115.6px,#39568c 0 123.6px,#375b8d 0 131.5px,#33638d 0 139.5px,#2f6b8e 0 147.5px,#306a8e 0 155.5px,#2e6f8e 0 163.4px,#2c728e 0 171.4px,#2a788e 0 179.4px,#287c8e 0 187.4px,#27808e 0 195.3px,#23898e 0 203.3px,#24878e 0 211.3px,#23898e 0 219.2px,#218f8d 0 227.2px,#1f978b 0 235.2px,#1f9a8a 0 243.2px,#1fa188 0 251.1px,#20a386 0 259.1px,#23a983 0 267.1px,#26ad81 0 275.1px,#2cb17e 0 283.0px,#32b67a 0 291.0px,#37b878 0 299.0px,#44bf70 0 306.9px,#52c569 0 314.9px,#5ac864 0 322.9px,#65cb5e 0 330.9px,#69cd5b 0 338.8px,#73d056 0 346.8px,#7fd34e 0 354.8px,#86d549 0 362.8px,#90d743 0 370.7px,#93d741 0 378.7px,#9dd93b 0 386.7px,#aadc32 0 402.6px,#addc30 0 410.6px,#b0dd2f 0 418.6px,#bade28 0 426.5px,#b5de2b 0 442.5px,#c0df25 0 450.5px,#bade28 0 458.4px,#c8e020 0 466.4px,#cde11d 0 474.4px,#d8e219 0 482.3px,#c8e020 0 490.3px,#c5e021 0 498.3px,#e2e418 0 506.3px,#f4e61e 0 514.2px,#d5e21a 0 522.2px,#bddf26 0 530.2px,#9bd93c 0 538.2px,#4ac16d 0 546.1px,#31b57b 0 554.1px,#50c46a 0 562.1px,#21a685 0 570.0px,#2cb17e 0 578.0px,#2db27d 0 586.0px,#25ab82 0 594.0px,#1fa188 0 601.9px,#46085c 0 609.9px,#1f9f88 0 617.9px,#22a884 0 625.9px,#26ad81 0 633.8px,#1f9f88 0 641.8px,#1fa188 0 649.8px,#22a785 0 657.7px,#27ad81 0 665.7px,#22a884 0)"></i><i style="left:182px;width:30px;background:linear-gradient(#440154 0 4.0px,#440256 0 12.0px,#440154 0 19.9px,#46085c 0 27.9px,#440154 0 35.9px,#440256 0 43.8px,#440154 0 51.8px,#460a5d 0 59.8px,#471365 0 67.8px,#481f70 0 75.7px,#482173 0 83.7px,#472a7a 0 91.7px,#443b84 0 99.7px,#404688 0 107.6px,#3e4a89 0 115.6px,#3a538b 0 123.6px,#3b528b 0 131.5px,#355e8d 0 139.5px,#33628d 0 147.5px,#30698e 0 155.5px,#2d718e 0 171.4px,#29798e 0 179.4px,#297b8e 0 187.4px,#26818e 0 195.3px,#26828e 0 203.3px,#23898e 0 211.3px,#228c8d 0 219.2px,#228d8d 0 227.2px,#21918c 0 235.2px,#1f988b 0 243.2px,#1e9b8a 0 251.1px,#1fa187 0 259.1px,#21a685 0 267.1px,#23a983 0 275.1px,#29af7f 0 283.0px,#2fb47c 0 291.0px,#34b679 0 299.0px,#3aba76 0 306.9px,#44bf70 0 314.9px,#40bd72 0 322.9px,#52c569 0 330.9px,#5ac864 0 338.8px,#60ca60 0 354.8px,#6ccd5a 0 362.8px,#73d056 0 370.7px,#7ad151 0 378.7px,#84d44b 0 386.7px,#89d548 0 402.6px,#9dd93b 0 418.6px,#95d840 0 426.5px,#a2da37 0 442.5px,#a8db34 0 450.5px,#aadc32 0 458.4px,#9dd93b 0 466.4px,#98d83e 0 474.4px,#95d840 0 482.3px,#86d549 0 490.3px,#70cf57 0 498.3px,#69cd5b 0 506.3px,#60ca60 0 514.2px,#50c46a 0 530.2px,#34b679 0 538.2px,#1fa287 0 546.1px,#46085c 0 554.1px,#21a585 0 562.1px,#2fb47c 0 570.0px,#35b779 0 578.0px,#3bbb75 0 586.0px,#29af7f 0 594.0px,#32b67a 0 601.9px,#3dbc74 0 609.9px,#20a386 0 617.9px,#1fa088 0 625.9px,#1fa287 0 633.8px,#21918c 0 641.8px,#23a983 0 649.8px,#20a386 0 657.7px,#20928c 0 665.7px,#1fa088 0)"></i><i style="left:212px;width:31px;background:linear-gradient(#440154 0 4.0px,#450457 0 12.0px,#440256 0 19.9px,#440154 0 59.8px,#471365 0 67.8px,#482071 0 75.7px,#482173 0 83.7px,#46327e 0 91.7px,#433e85 0 99.7px,#414287 0 107.6px,#3e4c8a 0 115.6px,#3d4e8a 0 123.6px,#3a548c 0 131.5px,#365d8d 0 139.5px,#34608d 0 147.5px,#31688e 0 155.5px,#30698e 0 163.4px,#2e6f8e 0 171.4px,#2b748e 0 179.4px,#297a8e 0 187.4px,#287d8e 0 195.3px,#26818e 0 203.3px,#25838e 0 211.3px,#228c8d 0 227.2px,#20938c 0 243.2px,#1f988b 0 251.1px,#1e9c89 0 259.1px,#1fa188 0 267.1px,#20a386 0 275.1px,#22a785 0 283.0px,#25ac82 0 291.0px,#26ad81 0 299.0px,#2cb17e 0 306.9px,#32b67a 0 314.9px,#34b679 0 322.9px,#38b977 0 330.9px,#3dbc74 0 338.8px,#42be71 0 346.8px,#46c06f 0 354.8px,#44bf70 0 362.8px,#4ec36b 0 370.7px,#54c568 0 378.7px,#5cc863 0 386.7px,#60ca60 0 394.6px,#65cb5e 0 402.6px,#67cc5c 0 410.6px,#6ccd5a 0 418.6px,#73d056 0 450.5px,#7cd250 0 458.4px,#81d34d 0 466.4px,#75d054 0 474.4px,#73d056 0 482.3px,#81d34d 0 490.3px,#70cf57 0 498.3px,#52c569 0 506.3px,#5cc863 0 514.2px,#63cb5f 0 522.2px,#5ec962 0 530.2px,#58c765 0 538.2px,#52c569 0 546.1px,#31b57b 0 554.1px,#3aba76 0 562.1px,#22a785 0 570.0px,#3aba76 0 578.0px,#50c46a 0 586.0px,#22a884 0 594.0px,#29af7f 0 601.9px,#27ad81 0 609.9px,#1f9e89 0 617.9px,#26ad81 0 625.9px,#1f968b 0 633.8px,#1f998a 0 641.8px,#1fa188 0 649.8px,#25ab82 0 657.7px,#1f9e89 0 665.7px,#21a685 0)"></i><i style="left:243px;width:30px;background:linear-gradient(#440154 0 4.0px,#450559 0 12.0px,#440154 0 19.9px,#460b5e 0 27.9px,#440154 0 35.9px,#440256 0 43.8px,#440154 0 59.8px,#440256 0 67.8px,#481769 0 75.7px,#481d6f 0 83.7px,#472d7b 0 91.7px,#46327e 0 99.7px,#453882 0 107.6px,#404588 0 115.6px,#3f4788 0 123.6px,#3a538b 0 131.5px,#38588c 0 139.5px,#355e8d 0 147.5px,#34618d 0 155.5px,#31678e 0 163.4px,#2f6b8e 0 171.4px,#2c718e 0 179.4px,#2a788e 0 187.4px,#2a768e 0 195.3px,#26818e 0 203.3px,#26828e 0 211.3px,#24868e 0 219.2px,#238a8d 0 227.2px,#228d8d 0 235.2px,#20928c 0 243.2px,#1f968b 0 251.1px,#1f988b 0 259.1px,#1f9a8a 0 267.1px,#1f9e89 0 275.1px,#22a884 0 291.0px,#26ad81 0 299.0px,#28ae80 0 306.9px,#2cb17e 0 314.9px,#31b57b 0 322.9px,#34b679 0 338.8px,#38b977 0 346.8px,#3aba76 0 354.8px,#3fbc73 0 362.8px,#42be71 0 370.7px,#46c06f 0 378.7px,#52c569 0 386.7px,#5cc863 0 394.6px,#69cd5b 0 402.6px,#73d056 0 418.6px,#81d34d 0 426.5px,#84d44b 0 434.5px,#8ed645 0 442.5px,#98d83e 0 450.5px,#9dd93b 0 458.4px,#8ed645 0 466.4px,#89d548 0 474.4px,#8bd646 0 490.3px,#84d44b 0 498.3px,#70cf57 0 506.3px,#6ccd5a 0 514.2px,#7fd34e 0 522.2px,#70cf57 0 530.2px,#5ac864 0 538.2px,#31b57b 0 546.1px,#22a884 0 554.1px,#25ab82 0 562.1px,#2cb17e 0 570.0px,#2fb47c 0 578.0px,#2eb37c 0 586.0px,#21a585 0 594.0px,#1e9c89 0 601.9px,#1f9e89 0 609.9px,#1e9d89 0 617.9px,#1e9c89 0 625.9px,#1f988b 0 633.8px,#23a983 0 641.8px,#20a486 0 649.8px,#1f968b 0 657.7px,#20928c 0 665.7px,#1fa088 0)"></i><i style="left:273px;width:30px;background:linear-gradient(#440256 0 4.0px,#440154 0 12.0px,#450559 0 19.9px,#440154 0 51.8px,#440256 0 75.7px,#481f70 0 83.7px,#482677 0 91.7px,#472c7a 0 99.7px,#46307e 0 107.6px,#443a83 0 115.6px,#3e4989 0 123.6px,#414487 0 131.5px,#3b528b 0 139.5px,#34608d 0 147.5px,#365d8d 0 155.5px,#33638d 0 163.4px,#32648e 0 171.4px,#2e6d8e 0 179.4px,#2d718e 0 187.4px,#2a768e 0 195.3px,#297b8e 0 203.3px,#277f8e 0 211.3px,#25838e 0 219.2px,#25858e 0 227.2px,#228c8d 0 235.2px,#228d8d 0 243.2px,#1f948c 0 251.1px,#1f998a 0 259.1px,#1fa188 0 267.1px,#1e9d89 0 275.1px,#20a486 0 283.0px,#22a884 0 291.0px,#25ab82 0 299.0px,#27ad81 0 306.9px,#31b57b 0 314.9px,#34b679 0 330.9px,#37b878 0 338.8px,#3bbb75 0 346.8px,#3dbc74 0 354.8px,#3fbc73 0 362.8px,#44bf70 0 370.7px,#4ec36b 0 378.7px,#5ac864 0 386.7px,#63cb5f 0 394.6px,#73d056 0 410.6px,#70cf57 0 418.6px,#7fd34e 0 426.5px,#86d549 0 434.5px,#8ed645 0 442.5px,#90d743 0 450.5px,#a0da39 0 458.4px,#a5db36 0 466.4px,#84d44b 0 474.4px,#77d153 0 482.3px,#81d34d 0 490.3px,#75d054 0 498.3px,#86d549 0 506.3px,#7cd250 0 514.2px,#48c16e 0 522.2px,#50c46a 0 530.2px,#69cd5b 0 538.2px,#42be71 0 546.1px,#26ad81 0 554.1px,#31b57b 0 562.1px,#37b878 0 570.0px,#34b679 0 578.0px,#2db27d 0 586.0px,#21a685 0 594.0px,#2fb47c 0 601.9px,#2db27d 0 609.9px,#1fa187 0 617.9px,#1fa287 0 625.9px,#24aa83 0 633.8px,#20a386 0 641.8px,#23a983 0 649.8px,#1e9d89 0 657.7px,#1fa188 0 665.7px,#25ab82 0)"></i><i style="left:303px;width:30px;background:linear-gradient(#450457 0 4.0px,#440154 0 19.9px,#450559 0 27.9px,#440154 0 43.8px,#440256 0 51.8px,#450457 0 67.8px,#450559 0 75.7px,#440154 0 83.7px,#471063 0 91.7px,#482475 0 99.7px,#46337f 0 107.6px,#46327e 0 115.6px,#433e85 0 123.6px,#424086 0 131.5px,#3e4989 0 139.5px,#3c4f8a 0 147.5px,#375b8d 0 163.4px,#33628d 0 171.4px,#32648e 0 179.4px,#2f6c8e 0 187.4px,#2c718e 0 195.3px,#2b758e 0 203.3px,#29798e 0 211.3px,#287c8e 0 219.2px,#26818e 0 227.2px,#24868e 0 235.2px,#228d8d 0 243.2px,#21908d 0 251.1px,#20938c 0 259.1px,#1f988b 0 267.1px,#1e9b8a 0 275.1px,#20a486 0 283.0px,#21a585 0 291.0px,#24aa83 0 299.0px,#2cb17e 0 322.9px,#32b67a 0 330.9px,#38b977 0 338.8px,#3aba76 0 346.8px,#35b779 0 354.8px,#3dbc74 0 362.8px,#38b977 0 370.7px,#46c06f 0 378.7px,#44bf70 0 386.7px,#48c16e 0 394.6px,#46c06f 0 402.6px,#50c46a 0 410.6px,#44bf70 0 418.6px,#46c06f 0 450.5px,#42be71 0 458.4px,#3fbc73 0 466.4px,#46c06f 0 482.3px,#31b57b 0 490.3px,#2fb47c 0 498.3px,#3fbc73 0 506.3px,#3bbb75 0 514.2px,#2eb37c 0 522.2px,#2ab07f 0 530.2px,#34b679 0 538.2px,#2eb37c 0 546.1px,#25ab82 0 554.1px,#218f8d 0 562.1px,#30698e 0 570.0px,#23a983 0 586.0px,#2ab07f 0 594.0px,#21908d 0 601.9px,#26ad81 0 609.9px,#21a685 0 617.9px,#22a785 0 625.9px,#20a486 0 633.8px,#20928c 0 641.8px,#1f978b 0 649.8px,#1f968b 0 657.7px,#20a486 0 665.7px,#1fa287 0)"></i><i style="left:333px;width:31px;background:linear-gradient(#46085c 0 4.0px,#450457 0 12.0px,#440154 0 19.9px,#450559 0 27.9px,#440256 0 43.8px,#46085c 0 51.8px,#440154 0 75.7px,#460b5e 0 83.7px,#440154 0 91.7px,#48186a 0 99.7px,#482576 0 107.6px,#482878 0 115.6px,#46327e 0 123.6px,#443b84 0 131.5px,#424086 0 139.5px,#3e4c8a 0 147.5px,#3c4f8a 0 155.5px,#38598c 0 163.4px,#375b8d 0 171.4px,#34608d 0 179.4px,#32658e 0 187.4px,#2e6d8e 0 195.3px,#2d718e 0 203.3px,#2b758e 0 211.3px,#297a8e 0 219.2px,#277f8e 0 227.2px,#25858e 0 243.2px,#218e8d 0 251.1px,#20928c 0 259.1px,#1f978b 0 267.1px,#1e9c89 0 275.1px,#1fa187 0 283.0px,#20a486 0 291.0px,#21a685 0 299.0px,#28ae80 0 306.9px,#27ad81 0 314.9px,#29af7f 0 322.9px,#2db27d 0 330.9px,#2fb47c 0 338.8px,#32b67a 0 346.8px,#3aba76 0 362.8px,#40bd72 0 370.7px,#3fbc73 0 378.7px,#44bf70 0 386.7px,#42be71 0 394.6px,#50c46a 0 410.6px,#54c568 0 418.6px,#56c667 0 426.5px,#54c568 0 434.5px,#56c667 0 442.5px,#58c765 0 458.4px,#56c667 0 466.4px,#5ac864 0 474.4px,#56c667 0 482.3px,#54c568 0 490.3px,#5cc863 0 498.3px,#4ec36b 0 506.3px,#4ac16d 0 514.2px,#58c765 0 522.2px,#4ec36b 0 530.2px,#32b67a 0 538.2px,#22a884 0 546.1px,#3aba76 0 554.1px,#40bd72 0 562.1px,#25ac82 0 570.0px,#27ad81 0 578.0px,#22a785 0 586.0px,#20a486 0 594.0px,#27ad81 0 601.9px,#28ae80 0 609.9px,#1f9e89 0 617.9px,#1f9a8a 0 625.9px,#1f9f88 0 633.8px,#25ac82 0 641.8px,#22a884 0 649.8px,#1fa187 0 657.7px,#1f9e89 0 665.7px,#20928c 0)"></i><i style="left:364px;width:30px;background:linear-gradient(#450457 0 4.0px,#440154 0 35.9px,#440256 0 43.8px,#440154 0 59.8px,#440256 0 67.8px,#440154 0 91.7px,#460b5e 0 99.7px,#481b6d 0 107.6px,#482878 0 115.6px,#472d7b 0 123.6px,#453781 0 131.5px,#404688 0 139.5px,#3f4788 0 147.5px,#3b518b 0 155.5px,#39568c 0 163.4px,#355e8d 0 171.4px,#33638d 0 179.4px,#31668e 0 187.4px,#2e6d8e 0 203.3px,#2b748e 0 211.3px,#2a778e 0 219.2px,#287c8e 0 227.2px,#26828e 0 235.2px,#24868e 0 243.2px,#23888e 0 251.1px,#20928c 0 267.1px,#1f9e89 0 275.1px,#1fa088 0 283.0px,#22a785 0 291.0px,#22a884 0 299.0px,#27ad81 0 306.9px,#2ab07f 0 314.9px,#2cb17e 0 322.9px,#31b57b 0 330.9px,#34b679 0 338.8px,#38b977 0 346.8px,#3aba76 0 362.8px,#40bd72 0 370.7px,#42be71 0 378.7px,#50c46a 0 386.7px,#56c667 0 394.6px,#63cb5f 0 402.6px,#69cd5b 0 410.6px,#77d153 0 418.6px,#7ad151 0 426.5px,#84d44b 0 434.5px,#89d548 0 442.5px,#8ed645 0 450.5px,#9bd93c 0 458.4px,#89d548 0 466.4px,#77d153 0 474.4px,#67cc5c 0 482.3px,#5ac864 0 490.3px,#56c667 0 498.3px,#48c16e 0 506.3px,#42be71 0 514.2px,#34b679 0 522.2px,#31b57b 0 530.2px,#2db27d 0 546.1px,#31678e 0 554.1px,#22a884 0 562.1px,#2fb47c 0 570.0px,#21a585 0 578.0px,#228c8d 0 586.0px,#25ac82 0 594.0px,#20928c 0 601.9px,#1f968b 0 609.9px,#3bbb75 0 617.9px,#27ad81 0 625.9px,#25ab82 0 633.8px,#21a585 0 641.8px,#1fa187 0 649.8px,#1f978b 0 657.7px,#26ad81 0 665.7px,#21a585 0)"></i><i style="left:394px;width:30px;background:linear-gradient(#440154 0 12.0px,#440256 0 19.9px,#450457 0 27.9px,#440154 0 51.8px,#440256 0 59.8px,#440154 0 75.7px,#481668 0 83.7px,#482475 0 91.7px,#482677 0 99.7px,#46327e 0 107.6px,#433e85 0 115.6px,#443b84 0 123.6px,#3e4c8a 0 131.5px,#3c4f8a 0 139.5px,#3b528b 0 147.5px,#375a8c 0 155.5px,#34608d 0 163.4px,#31678e 0 171.4px,#2f6b8e 0 179.4px,#2e6f8e 0 187.4px,#2c738e 0 195.3px,#297a8e 0 203.3px,#277e8e 0 211.3px,#26818e 0 219.2px,#25848e 0 227.2px,#23898e 0 235.2px,#218e8d 0 243.2px,#20928c 0 251.1px,#20938c 0 259.1px,#1f9a8a 0 267.1px,#1fa088 0 275.1px,#1fa287 0 283.0px,#21a685 0 291.0px,#24aa83 0 299.0px,#27ad81 0 306.9px,#29af7f 0 314.9px,#2eb37c 0 322.9px,#32b67a 0 330.9px,#34b679 0 338.8px,#37b878 0 346.8px,#35b779 0 354.8px,#3dbc74 0 362.8px,#44bf70 0 370.7px,#42be71 0 378.7px,#48c16e 0 386.7px,#58c765 0 394.6px,#65cb5e 0 402.6px,#69cd5b 0 410.6px,#6ece58 0 418.6px,#7fd34e 0 426.5px,#84d44b 0 434.5px,#89d548 0 442.5px,#8ed645 0 450.5px,#9dd93b 0 458.4px,#89d548 0 466.4px,#73d056 0 474.4px,#60ca60 0 482.3px,#7ad151 0 490.3px,#65cb5e 0 498.3px,#4ec36b 0 506.3px,#3aba76 0 514.2px,#3dbc74 0 522.2px,#3fbc73 0 530.2px,#35b779 0 538.2px,#27ad81 0 546.1px,#29af7f 0 554.1px,#32b67a 0 562.1px,#25ac82 0 570.0px,#38b977 0 578.0px,#375a8c 0 586.0px,#20a486 0 594.0px,#26ad81 0 601.9px,#1fa188 0 609.9px,#22a884 0 617.9px,#1fa188 0 625.9px,#34b679 0 633.8px,#22a785 0 641.8px,#1e9d89 0 649.8px,#22a884 0 657.7px,#22a785 0 665.7px,#25ac82 0)"></i><i style="left:424px;width:30px;background:linear-gradient(#440154 0 4.0px,#440256 0 12.0px,#46085c 0 19.9px,#440154 0 27.9px,#450559 0 35.9px,#440154 0 51.8px,#450457 0 59.8px,#481668 0 67.8px,#482173 0 75.7px,#482071 0 83.7px,#453781 0 91.7px,#433d84 0 99.7px,#3f4788 0 107.6px,#3d4d8a 0 115.6px,#3e4989 0 123.6px,#3a538b 0 131.5px,#355e8d 0 139.5px,#34608d 0 147.5px,#32658e 0 155.5px,#306a8e 0 163.4px,#2d708e 0 171.4px,#2b748e 0 179.4px,#29798e 0 187.4px,#287d8e 0 195.3px,#26818e 0 203.3px,#24878e 0 211.3px,#25858e 0 219.2px,#228c8d 0 227.2px,#20928c 0 235.2px,#1f948c 0 243.2px,#1f988b 0 251.1px,#1f998a 0 259.1px,#1f9f88 0 267.1px,#20a386 0 275.1px,#21a685 0 291.0px,#24aa83 0 299.0px,#26ad81 0 314.9px,#2db27d 0 322.9px,#31b57b 0 330.9px,#34b679 0 338.8px,#38b977 0 354.8px,#3aba76 0 362.8px,#46c06f 0 370.7px,#42be71 0 378.7px,#4cc26c 0 394.6px,#5ac864 0 402.6px,#56c667 0 410.6px,#54c568 0 418.6px,#5cc863 0 442.5px,#60ca60 0 450.5px,#6ccd5a 0 458.4px,#58c765 0 466.4px,#32b67a 0 474.4px,#2db27d 0 482.3px,#25ab82 0 490.3px,#1f9f88 0 498.3px,#1e9c89 0 506.3px,#1f978b 0 514.2px,#2b758e 0 522.2px,#29798e 0 530.2px,#46085c 0 538.2px,#29798e 0 546.1px,#31668e 0 554.1px,#1fa188 0 562.1px,#1f998a 0 570.0px,#1fa088 0 578.0px,#32b67a 0 586.0px,#3dbc74 0 594.0px,#218e8d 0 601.9px,#1f9e89 0 609.9px,#37b878 0 617.9px,#28ae80 0 625.9px,#1f948c 0 633.8px,#21a685 0 641.8px,#22a884 0 649.8px,#1f998a 0 657.7px,#1fa187 0 665.7px,#21a685 0)"></i><i style="left:454px;width:31px;background:linear-gradient(#440154 0 4.0px,#450559 0 12.0px,#440154 0 19.9px,#440256 0 27.9px,#440154 0 35.9px,#46085c 0 43.8px,#440154 0 51.8px,#471365 0 59.8px,#48186a 0 67.8px,#482677 0 75.7px,#472d7b 0 83.7px,#453882 0 91.7px,#424186 0 99.7px,#3d4e8a 0 107.6px,#3b528b 0 115.6px,#39568c 0 123.6px,#355f8d 0 131.5px,#365c8d 0 139.5px,#32648e 0 147.5px,#2e6d8e 0 155.5px,#2d718e 0 163.4px,#2c718e 0 171.4px,#2b748e 0 179.4px,#297b8e 0 187.4px,#26818e 0 195.3px,#25858e 0 203.3px,#23888e 0 211.3px,#228d8d 0 219.2px,#21918c 0 227.2px,#20938c 0 235.2px,#1f998a 0 243.2px,#1e9c89 0 251.1px,#1e9d89 0 259.1px,#20a386 0 267.1px,#22a884 0 275.1px,#24aa83 0 283.0px,#25ac82 0 291.0px,#2ab07f 0 299.0px,#2eb37c 0 306.9px,#37b878 0 314.9px,#3aba76 0 322.9px,#3fbc73 0 330.9px,#46c06f 0 338.8px,#4ac16d 0 354.8px,#56c667 0 362.8px,#54c568 0 370.7px,#60ca60 0 378.7px,#65cb5e 0 386.7px,#6ccd5a 0 394.6px,#75d054 0 402.6px,#7cd250 0 410.6px,#81d34d 0 418.6px,#7fd34e 0 426.5px,#81d34d 0 434.5px,#8bd646 0 442.5px,#93d741 0 450.5px,#84d44b 0 458.4px,#73d056 0 466.4px,#60ca60 0 474.4px,#50c46a 0 482.3px,#48c16e 0 490.3px,#3aba76 0 498.3px,#44bf70 0 506.3px,#37b878 0 514.2px,#26ad81 0 522.2px,#33638d 0 530.2px,#26818e 0 538.2px,#46085c 0 546.1px,#1fa188 0 554.1px,#21a685 0 562.1px,#25ab82 0 570.0px,#2c728e 0 578.0px,#2ab07f 0 586.0px,#355f8d 0 594.0px,#31678e 0 601.9px,#1f958b 0 609.9px,#21a585 0 617.9px,#21a685 0 625.9px,#22a785 0 633.8px,#1fa188 0 641.8px,#21a585 0 657.7px,#27ad81 0 665.7px,#1e9c89 0)"></i><i style="left:485px;width:30px;background:linear-gradient(#440154 0 12.0px,#450457 0 19.9px,#440154 0 27.9px,#450457 0 35.9px,#440256 0 43.8px,#450457 0 51.8px,#471063 0 59.8px,#481d6f 0 67.8px,#472d7b 0 75.7px,#453581 0 83.7px,#433d84 0 91.7px,#424086 0 99.7px,#3d4d8a 0 107.6px,#3d4e8a 0 115.6px,#375a8c 0 131.5px,#32648e 0 139.5px,#33628d 0 147.5px,#32658e 0 155.5px,#2d718e 0 163.4px,#2b758e 0 171.4px,#287d8e 0 179.4px,#277e8e 0 187.4px,#25838e 0 195.3px,#25858e 0 203.3px,#228b8d 0 211.3px,#228c8d 0 219.2px,#20938c 0 227.2px,#1f958b 0 235.2px,#1e9c89 0 243.2px,#1fa088 0 251.1px,#20a486 0 259.1px,#22a785 0 267.1px,#26ad81 0 275.1px,#2cb17e 0 283.0px,#32b67a 0 291.0px,#37b878 0 299.0px,#3fbc73 0 306.9px,#4cc26c 0 314.9px,#50c46a 0 322.9px,#5cc863 0 330.9px,#63cb5f 0 338.8px,#70cf57 0 346.8px,#73d056 0 354.8px,#7fd34e 0 362.8px,#84d44b 0 370.7px,#8ed645 0 378.7px,#98d83e 0 386.7px,#9dd93b 0 394.6px,#a5db36 0 402.6px,#a2da37 0 410.6px,#addc30 0 418.6px,#a2da37 0 426.5px,#addc30 0 434.5px,#b0dd2f 0 442.5px,#aadc32 0 450.5px,#b2dd2d 0 458.4px,#bade28 0 466.4px,#b8de29 0 474.4px,#b5de2b 0 482.3px,#c8e020 0 490.3px,#d2e21b 0 498.3px,#d5e21a 0 506.3px,#dde318 0 514.2px,#c8e020 0 522.2px,#cde11d 0 530.2px,#b8de29 0 538.2px,#bade28 0 546.1px,#b2dd2d 0 554.1px,#54c568 0 562.1px,#3fbc73 0 570.0px,#20a486 0 578.0px,#48c16e 0 586.0px,#21a585 0 594.0px,#24aa83 0 601.9px,#1fa188 0 609.9px,#24aa83 0 617.9px,#1f9e89 0 625.9px,#2ab07f 0 633.8px,#1e9c89 0 641.8px,#23a983 0 649.8px,#1fa287 0 657.7px,#1fa187 0 665.7px,#20928c 0)"></i><i style="left:515px;width:30px;background:linear-gradient(#440154 0 4.0px,#440256 0 12.0px,#440154 0 19.9px,#46075a 0 27.9px,#440154 0 51.8px,#471365 0 59.8px,#482374 0 67.8px,#472e7c 0 75.7px,#463480 0 83.7px,#443a83 0 91.7px,#3e4989 0 99.7px,#3d4e8a 0 107.6px,#3e4c8a 0 115.6px,#39558c 0 123.6px,#34608d 0 131.5px,#33628d 0 139.5px,#34618d 0 147.5px,#2e6e8e 0 155.5px,#2d718e 0 163.4px,#2c738e 0 171.4px,#297a8e 0 179.4px,#26818e 0 187.4px,#24878e 0 203.3px,#228b8d 0 211.3px,#218e8d 0 219.2px,#20928c 0 227.2px,#1f968b 0 235.2px,#1e9d89 0 243.2px,#1fa088 0 251.1px,#22a785 0 259.1px,#21a685 0 267.1px,#29af7f 0 275.1px,#2cb17e 0 283.0px,#34b679 0 291.0px,#3bbb75 0 299.0px,#40bd72 0 306.9px,#4ec36b 0 314.9px,#5ac864 0 322.9px,#69cd5b 0 330.9px,#67cc5c 0 338.8px,#6ccd5a 0 346.8px,#7ad151 0 362.8px,#81d34d 0 370.7px,#98d83e 0 378.7px,#9dd93b 0 386.7px,#a0da39 0 394.6px,#b0dd2f 0 402.6px,#addc30 0 410.6px,#a5db36 0 418.6px,#b5de2b 0 434.5px,#b2dd2d 0 442.5px,#bade28 0 450.5px,#c0df25 0 458.4px,#c5e021 0 466.4px,#b2dd2d 0 474.4px,#addc30 0 482.3px,#d2e21b 0 490.3px,#e2e418 0 498.3px,#e7e419 0 506.3px,#dae319 0 514.2px,#dde318 0 522.2px,#dfe318 0 530.2px,#cae11f 0 538.2px,#75d054 0 546.1px,#42be71 0 554.1px,#2eb37c 0 562.1px,#3fbc73 0 570.0px,#25ac82 0 578.0px,#2ab07f 0 586.0px,#28ae80 0 594.0px,#26ad81 0 601.9px,#37b878 0 609.9px,#1fa287 0 617.9px,#20a386 0 625.9px,#27ad81 0 633.8px,#20928c 0 641.8px,#1e9d89 0 649.8px,#1f9a8a 0 657.7px,#1fa088 0 665.7px,#1fa287 0)"></i><i style="left:545px;width:30px;background:linear-gradient(#46075a 0 4.0px,#450457 0 12.0px,#440154 0 27.9px,#450559 0 35.9px,#450457 0 43.8px,#460b5e 0 51.8px,#471164 0 59.8px,#482576 0 67.8px,#482878 0 75.7px,#482979 0 83.7px,#453882 0 91.7px,#424186 0 99.7px,#3e4c8a 0 107.6px,#3b528b 0 115.6px,#3a548c 0 123.6px,#33628d 0 131.5px,#355f8d 0 139.5px,#32658e 0 147.5px,#31688e 0 155.5px,#2d718e 0 163.4px,#2c718e 0 171.4px,#2a768e 0 179.4px,#297b8e 0 187.4px,#26828e 0 195.3px,#25838e 0 203.3px,#24868e 0 211.3px,#228d8d 0 219.2px,#21908d 0 227.2px,#1f968b 0 235.2px,#1e9b8a 0 243.2px,#1fa088 0 251.1px,#1fa187 0 259.1px,#22a785 0 267.1px,#27ad81 0 275.1px,#2cb17e 0 283.0px,#34b679 0 291.0px,#38b977 0 299.0px,#42be71 0 306.9px,#4ac16d 0 314.9px,#5ac864 0 322.9px,#63cb5f 0 330.9px,#70cf57 0 338.8px,#7ad151 0 346.8px,#73d056 0 354.8px,#84d44b 0 362.8px,#89d548 0 370.7px,#9dd93b 0 378.7px,#9bd93c 0 386.7px,#a8db34 0 394.6px,#addc30 0 402.6px,#b0dd2f 0 410.6px,#addc30 0 418.6px,#b2dd2d 0 426.5px,#b5de2b 0 434.5px,#bade28 0 442.5px,#c0df25 0 458.4px,#bade28 0 466.4px,#bddf26 0 482.3px,#cae11f 0 490.3px,#dae319 0 498.3px,#cde11d 0 506.3px,#d5e21a 0 514.2px,#ece51b 0 522.2px,#c2df23 0 530.2px,#6ece58 0 538.2px,#38b977 0 546.1px,#3dbc74 0 554.1px,#2cb17e 0 562.1px,#35b779 0 570.0px,#2cb17e 0 578.0px,#25ac82 0 586.0px,#20a486 0 594.0px,#27ad81 0 601.9px,#46085c 0 609.9px,#2ab07f 0 617.9px,#28ae80 0 625.9px,#23a983 0 633.8px,#1e9c89 0 641.8px,#20a486 0 665.7px,#1f988b 0)"></i><i style="left:575px;width:31px;background:linear-gradient(#440154 0 12.0px,#450559 0 19.9px,#440154 0 59.8px,#48186a 0 67.8px,#481f70 0 75.7px,#482878 0 83.7px,#453882 0 91.7px,#443a83 0 99.7px,#3e4a89 0 107.6px,#3f4788 0 115.6px,#3b528b 0 123.6px,#365d8d 0 131.5px,#355e8d 0 147.5px,#32648e 0 155.5px,#2e6e8e 0 163.4px,#2c718e 0 171.4px,#2a788e 0 179.4px,#297a8e 0 187.4px,#27808e 0 195.3px,#26828e 0 203.3px,#23898e 0 219.2px,#20928c 0 227.2px,#20938c 0 235.2px,#1f9a8a 0 243.2px,#1f9e89 0 251.1px,#1fa287 0 259.1px,#23a983 0 267.1px,#25ab82 0 275.1px,#2cb17e 0 283.0px,#32b67a 0 291.0px,#38b977 0 299.0px,#40bd72 0 306.9px,#4ac16d 0 314.9px,#52c569 0 322.9px,#5cc863 0 330.9px,#65cb5e 0 338.8px,#77d153 0 346.8px,#73d056 0 354.8px,#89d548 0 370.7px,#95d840 0 378.7px,#98d83e 0 386.7px,#a0da39 0 394.6px,#a5db36 0 402.6px,#a2da37 0 410.6px,#b0dd2f 0 426.5px,#b5de2b 0 442.5px,#bddf26 0 450.5px,#bade28 0 458.4px,#b2dd2d 0 466.4px,#b0dd2f 0 474.4px,#b5de2b 0 482.3px,#d2e21b 0 490.3px,#cae11f 0 498.3px,#d5e21a 0 506.3px,#c5e021 0 514.2px,#bddf26 0 522.2px,#b5de2b 0 530.2px,#90d743 0 538.2px,#35b779 0 546.1px,#29af7f 0 562.1px,#37b878 0 570.0px,#22a884 0 578.0px,#27ad81 0 594.0px,#28ae80 0 601.9px,#2eb37c 0 609.9px,#1f988b 0 617.9px,#20938c 0 625.9px,#22a785 0 633.8px,#2ab07f 0 641.8px,#1f948c 0 649.8px,#23a983 0 657.7px,#24aa83 0 665.7px,#1f9a8a 0)"></i><i style="left:606px;width:30px;background:linear-gradient(#440154 0 4.0px,#440256 0 12.0px,#440154 0 19.9px,#450457 0 43.8px,#440154 0 59.8px,#481467 0 67.8px,#481c6e 0 75.7px,#482677 0 83.7px,#453581 0 91.7px,#443983 0 99.7px,#433d84 0 107.6px,#414487 0 115.6px,#3b518b 0 123.6px,#3a548c 0 139.5px,#34618d 0 147.5px,#34608d 0 155.5px,#30698e 0 163.4px,#2d708e 0 171.4px,#2c728e 0 179.4px,#2a778e 0 187.4px,#297b8e 0 195.3px,#26818e 0 203.3px,#25858e 0 211.3px,#238a8d 0 219.2px,#218f8d 0 227.2px,#1f948c 0 235.2px,#1f9a8a 0 243.2px,#1e9c89 0 251.1px,#20a386 0 259.1px,#22a884 0 267.1px,#26ad81 0 275.1px,#2db27d 0 283.0px,#2eb37c 0 291.0px,#37b878 0 299.0px,#46c06f 0 306.9px,#4ec36b 0 314.9px,#54c568 0 322.9px,#63cb5f 0 330.9px,#67cc5c 0 338.8px,#6ece58 0 346.8px,#7cd250 0 354.8px,#84d44b 0 362.8px,#8ed645 0 370.7px,#95d840 0 386.7px,#a0da39 0 394.6px,#a5db36 0 402.6px,#b0dd2f 0 418.6px,#b8de29 0 426.5px,#b5de2b 0 442.5px,#bade28 0 450.5px,#b5de2b 0 458.4px,#b8de29 0 466.4px,#bade28 0 474.4px,#b8de29 0 482.3px,#c5e021 0 490.3px,#dde318 0 498.3px,#d5e21a 0 506.3px,#eae51a 0 514.2px,#e5e419 0 522.2px,#c5e021 0 530.2px,#65cb5e 0 538.2px,#2eb37c 0 546.1px,#37b878 0 554.1px,#28ae80 0 562.1px,#46085c 0 570.0px,#2cb17e 0 578.0px,#20a486 0 586.0px,#29af7f 0 594.0px,#1fa088 0 601.9px,#21a585 0 617.9px,#20a486 0 625.9px,#1f9e89 0 633.8px,#20a386 0 641.8px,#1f9e89 0 649.8px,#20a486 0 657.7px,#1fa088 0 665.7px,#21a585 0)"></i><i style="left:636px;width:30px;background:linear-gradient(#440154 0 4.0px,#46085c 0 12.0px,#450457 0 43.8px,#440154 0 51.8px,#450559 0 67.8px,#482374 0 75.7px,#481f70 0 83.7px,#472e7c 0 91.7px,#443983 0 99.7px,#433d84 0 107.6px,#414487 0 115.6px,#3d4d8a 0 123.6px,#3b528b 0 131.5px,#355e8d 0 139.5px,#34618d 0 147.5px,#33628d 0 155.5px,#2f6c8e 0 163.4px,#2e6e8e 0 171.4px,#2c738e 0 179.4px,#2a768e 0 187.4px,#287c8e 0 195.3px,#27808e 0 203.3px,#25848e 0 211.3px,#25858e 0 219.2px,#228b8d 0 227.2px,#21908d 0 235.2px,#1f968b 0 243.2px,#1f998a 0 251.1px,#1f9e89 0 259.1px,#1fa287 0 267.1px,#22a884 0 275.1px,#27ad81 0 283.0px,#2ab07f 0 291.0px,#32b67a 0 299.0px,#3bbb75 0 306.9px,#3fbc73 0 314.9px,#4ec36b 0 322.9px,#50c46a 0 330.9px,#63cb5f 0 338.8px,#65cb5e 0 346.8px,#75d054 0 354.8px,#7ad151 0 362.8px,#81d34d 0 370.7px,#84d44b 0 378.7px,#90d743 0 394.6px,#a0da39 0 402.6px,#a2da37 0 426.5px,#a8db34 0 434.5px,#aadc32 0 450.5px,#b0dd2f 0 466.4px,#aadc32 0 474.4px,#addc30 0 482.3px,#b5de2b 0 506.3px,#bddf26 0 514.2px,#c0df25 0 522.2px,#b0dd2f 0 530.2px,#95d840 0 538.2px,#42be71 0 546.1px,#2eb37c 0 554.1px,#35b779 0 562.1px,#46085c 0 570.0px,#2ab07f 0 578.0px,#1fa287 0 586.0px,#26ad81 0 594.0px,#22a785 0 609.9px,#23a983 0 617.9px,#1fa287 0 625.9px,#1fa187 0 633.8px,#1f988b 0 641.8px,#29af7f 0 649.8px,#21a585 0 657.7px,#1f958b 0 665.7px,#1fa188 0)"></i><i style="left:666px;width:30px;background:linear-gradient(#440154 0 4.0px,#46085c 0 12.0px,#450457 0 19.9px,#440154 0 35.9px,#450559 0 43.8px,#440154 0 67.8px,#470e61 0 75.7px,#482374 0 83.7px,#481d6f 0 91.7px,#472a7a 0 99.7px,#463480 0 107.6px,#433d84 0 115.6px,#3e4c8a 0 131.5px,#3a548c 0 139.5px,#355f8d 0 147.5px,#33638d 0 155.5px,#32648e 0 163.4px,#31678e 0 171.4px,#2e6f8e 0 179.4px,#2c738e 0 187.4px,#2a788e 0 195.3px,#277e8e 0 203.3px,#26828e 0 211.3px,#25858e 0 219.2px,#238a8d 0 227.2px,#218e8d 0 235.2px,#20938c 0 243.2px,#1f948c 0 251.1px,#1f9a8a 0 259.1px,#1fa088 0 267.1px,#1fa287 0 275.1px,#22a884 0 283.0px,#27ad81 0 299.0px,#2eb37c 0 306.9px,#32b67a 0 314.9px,#35b779 0 322.9px,#3dbc74 0 330.9px,#3fbc73 0 338.8px,#44bf70 0 346.8px,#48c16e 0 354.8px,#54c568 0 370.7px,#5cc863 0 386.7px,#63cb5f 0 394.6px,#69cd5b 0 402.6px,#63cb5f 0 410.6px,#67cc5c 0 418.6px,#69cd5b 0 434.5px,#6ccd5a 0 442.5px,#6ece58 0 450.5px,#70cf57 0 458.4px,#6ccd5a 0 466.4px,#56c667 0 474.4px,#52c569 0 482.3px,#5ec962 0 490.3px,#4ec36b 0 506.3px,#52c569 0 514.2px,#4cc26c 0 522.2px,#3bbb75 0 538.2px,#28ae80 0 546.1px,#24aa83 0 554.1px,#3fbc73 0 562.1px,#29af7f 0 570.0px,#3fbc73 0 578.0px,#1f9e89 0 586.0px,#21a585 0 594.0px,#1fa188 0 601.9px,#25ac82 0 609.9px,#3aba76 0 625.9px,#21a585 0 633.8px,#1f998a 0 641.8px,#20928c 0 649.8px,#1fa187 0 657.7px,#24868e 0 665.7px,#20938c 0)"></i><i style="left:696px;width:31px;background:linear-gradient(#440256 0 4.0px,#440154 0 27.9px,#440256 0 43.8px,#440154 0 67.8px,#450457 0 75.7px,#48186a 0 83.7px,#482576 0 91.7px,#482979 0 99.7px,#46307e 0 107.6px,#453781 0 115.6px,#423f85 0 123.6px,#404588 0 131.5px,#3d4d8a 0 139.5px,#39558c 0 147.5px,#355e8d 0 155.5px,#34618d 0 163.4px,#32658e 0 171.4px,#2f6c8e 0 179.4px,#2e6e8e 0 187.4px,#2b748e 0 203.3px,#277f8e 0 211.3px,#26828e 0 219.2px,#25838e 0 227.2px,#23898e 0 235.2px,#218f8d 0 243.2px,#20928c 0 251.1px,#1f948c 0 259.1px,#1f998a 0 267.1px,#1e9d89 0 275.1px,#1fa188 0 283.0px,#20a386 0 291.0px,#25ab82 0 299.0px,#27ad81 0 306.9px,#2db27d 0 322.9px,#2eb37c 0 330.9px,#32b67a 0 338.8px,#34b679 0 346.8px,#35b779 0 354.8px,#3fbc73 0 362.8px,#3aba76 0 370.7px,#3fbc73 0 378.7px,#42be71 0 386.7px,#48c16e 0 394.6px,#4ac16d 0 402.6px,#54c568 0 410.6px,#4ac16d 0 418.6px,#4cc26c 0 442.5px,#50c46a 0 450.5px,#5cc863 0 458.4px,#3fbc73 0 474.4px,#2ab07f 0 482.3px,#20a386 0 490.3px,#1f9e89 0 498.3px,#1fa188 0 506.3px,#1e9b8a 0 514.2px,#26828e 0 522.2px,#3b528b 0 530.2px,#228c8d 0 538.2px,#30698e 0 546.1px,#20928c 0 554.1px,#1f9e89 0 570.0px,#27ad81 0 578.0px,#5ec962 0 586.0px,#34b679 0 594.0px,#1f9e89 0 601.9px,#1f9f88 0 609.9px,#1f948c 0 617.9px,#1f9a8a 0 625.9px,#20a486 0 633.8px,#1f9a8a 0 641.8px,#23a983 0 649.8px,#2fb47c 0 657.7px,#20928c 0 665.7px,#1e9b8a 0)"></i><i style="left:727px;width:30px;background:linear-gradient(#440154 0 51.8px,#450559 0 59.8px,#460a5d 0 67.8px,#450457 0 75.7px,#440154 0 83.7px,#471063 0 91.7px,#481c6e 0 99.7px,#482576 0 107.6px,#46337f 0 115.6px,#453581 0 123.6px,#433e85 0 131.5px,#3e4989 0 139.5px,#3d4e8a 0 147.5px,#3a538b 0 155.5px,#375b8d 0 163.4px,#355e8d 0 171.4px,#32648e 0 179.4px,#31688e 0 187.4px,#2e6f8e 0 195.3px,#2d708e 0 203.3px,#2b758e 0 211.3px,#277e8e 0 219.2px,#26818e 0 227.2px,#24878e 0 235.2px,#24868e 0 243.2px,#218e8d 0 251.1px,#20928c 0 259.1px,#1f998a 0 267.1px,#1f9e89 0 275.1px,#1fa188 0 283.0px,#21a685 0 291.0px,#25ac82 0 299.0px,#28ae80 0 306.9px,#2ab07f 0 314.9px,#2cb17e 0 322.9px,#2fb47c 0 330.9px,#32b67a 0 338.8px,#37b878 0 346.8px,#38b977 0 354.8px,#3bbb75 0 362.8px,#3dbc74 0 370.7px,#44bf70 0 378.7px,#48c16e 0 386.7px,#52c569 0 394.6px,#5ec962 0 402.6px,#65cb5e 0 410.6px,#69cd5b 0 418.6px,#73d056 0 426.5px,#75d054 0 434.5px,#7ad151 0 450.5px,#8bd646 0 458.4px,#69cd5b 0 466.4px,#35b779 0 474.4px,#21a685 0 482.3px,#1fa287 0 490.3px,#1f978b 0 498.3px,#228b8d 0 506.3px,#287c8e 0 514.2px,#30698e 0 522.2px,#2e6d8e 0 530.2px,#2e6f8e 0 538.2px,#1f968b 0 546.1px,#56c667 0 562.1px,#3aba76 0 570.0px,#218e8d 0 578.0px,#20a486 0 586.0px,#21a685 0 594.0px,#1fa287 0 601.9px,#2c728e 0 609.9px,#22a884 0 617.9px,#20928c 0 625.9px,#2cb17e 0 633.8px,#3bbb75 0 641.8px,#26ad81 0 649.8px,#20928c 0 657.7px,#1f948c 0 665.7px,#31b57b 0)"></i><i style="left:757px;width:30px;background:linear-gradient(#440154 0 12.0px,#46075a 0 19.9px,#440154 0 35.9px,#450559 0 43.8px,#440154 0 51.8px,#450457 0 59.8px,#440154 0 83.7px,#450457 0 91.7px,#460a5d 0 99.7px,#48186a 0 107.6px,#482475 0 115.6px,#482979 0 123.6px,#463480 0 131.5px,#423f85 0 139.5px,#414287 0 147.5px,#3e4a89 0 155.5px,#3a538b 0 163.4px,#39568c 0 171.4px,#365d8d 0 179.4px,#34618d 0 187.4px,#30698e 0 195.3px,#2e6d8e 0 203.3px,#2c728e 0 211.3px,#2a768e 0 219.2px,#297a8e 0 227.2px,#26828e 0 235.2px,#24878e 0 243.2px,#228c8d 0 251.1px,#21918c 0 259.1px,#1f948c 0 267.1px,#1f9a8a 0 275.1px,#1f9f88 0 283.0px,#21a585 0 291.0px,#23a983 0 299.0px,#26ad81 0 306.9px,#2ab07f 0 314.9px,#2cb17e 0 322.9px,#2fb47c 0 330.9px,#31b57b 0 338.8px,#3aba76 0 346.8px,#38b977 0 354.8px,#37b878 0 362.8px,#3bbb75 0 370.7px,#42be71 0 378.7px,#4ac16d 0 386.7px,#56c667 0 394.6px,#5cc863 0 402.6px,#65cb5e 0 410.6px,#69cd5b 0 426.5px,#70cf57 0 434.5px,#75d054 0 442.5px,#7fd34e 0 450.5px,#7cd250 0 458.4px,#6ece58 0 466.4px,#60ca60 0 474.4px,#5cc863 0 482.3px,#56c667 0 490.3px,#52c569 0 498.3px,#5ac864 0 506.3px,#48c16e 0 514.2px,#50c46a 0 522.2px,#4ec36b 0 530.2px,#3fbc73 0 538.2px,#32b67a 0 546.1px,#27ad81 0 554.1px,#297a8e 0 562.1px,#46c06f 0 570.0px,#32b67a 0 578.0px,#277f8e 0 586.0px,#34b679 0 594.0px,#27ad81 0 601.9px,#3a548c 0 609.9px,#2eb37c 0 617.9px,#25ab82 0 625.9px,#25ac82 0 633.8px,#2eb37c 0 641.8px,#21a685 0 649.8px,#1fa088 0 657.7px,#1fa287 0)"></i><i style="left:787px;width:30px;background:linear-gradient(#440154 0 19.9px,#440256 0 27.9px,#471063 0 35.9px,#440154 0 43.8px,#450457 0 51.8px,#440154 0 83.7px,#46085c 0 91.7px,#440154 0 99.7px,#460b5e 0 107.6px,#481b6d 0 115.6px,#482374 0 123.6px,#472c7a 0 131.5px,#443b84 0 139.5px,#424086 0 147.5px,#404688 0 155.5px,#3c4f8a 0 163.4px,#39568c 0 171.4px,#375a8c 0 179.4px,#34618d 0 187.4px,#33638d 0 195.3px,#30698e 0 203.3px,#2e6d8e 0 211.3px,#2c738e 0 219.2px,#2b758e 0 227.2px,#277f8e 0 235.2px,#25848e 0 243.2px,#23898e 0 251.1px,#228d8d 0 259.1px,#20938c 0 267.1px,#1f998a 0 275.1px,#1fa187 0 283.0px,#21a685 0 291.0px,#26ad81 0 299.0px,#2db27d 0 306.9px,#2fb47c 0 314.9px,#34b679 0 322.9px,#38b977 0 330.9px,#3dbc74 0 338.8px,#40bd72 0 346.8px,#46c06f 0 354.8px,#4ac16d 0 362.8px,#50c46a 0 378.7px,#60ca60 0 386.7px,#65cb5e 0 394.6px,#75d054 0 402.6px,#81d34d 0 410.6px,#89d548 0 418.6px,#90d743 0 426.5px,#95d840 0 434.5px,#a0da39 0 442.5px,#a5db36 0 450.5px,#a8db34 0 466.4px,#b0dd2f 0 474.4px,#b2dd2d 0 482.3px,#a8db34 0 490.3px,#bade28 0 498.3px,#d5e21a 0 506.3px,#c0df25 0 514.2px,#a5db36 0 522.2px,#a0da39 0 530.2px,#77d153 0 538.2px,#65cb5e 0 546.1px,#58c765 0 554.1px,#38b977 0 562.1px,#31b57b 0 570.0px,#48c16e 0 578.0px,#34b679 0 586.0px,#37b878 0 594.0px,#2eb37c 0 601.9px,#22a884 0 609.9px,#26ad81 0 617.9px,#21a685 0 625.9px,#1fa187 0 633.8px,#1f9f88 0 641.8px,#1f9a8a 0 657.7px,#1fa187 0 665.7px,#23a983 0)"></i><i style="left:817px;width:31px;background:linear-gradient(#440154 0 4.0px,#46085c 0 12.0px,#440154 0 19.9px,#450559 0 27.9px,#440154 0 35.9px,#450457 0 43.8px,#440154 0 51.8px,#46085c 0 59.8px,#440256 0 67.8px,#440154 0 91.7px,#450457 0 99.7px,#440154 0 107.6px,#481467 0 115.6px,#481c6e 0 123.6px,#482576 0 131.5px,#472a7a 0 139.5px,#46337f 0 147.5px,#3f4788 0 155.5px,#3e4989 0 163.4px,#3d4e8a 0 171.4px,#39568c 0 179.4px,#38598c 0 187.4px,#355e8d 0 195.3px,#32658e 0 203.3px,#2f6c8e 0 211.3px,#2d708e 0 219.2px,#2b748e 0 227.2px,#297a8e 0 235.2px,#26818e 0 243.2px,#238a8d 0 251.1px,#218e8d 0 259.1px,#1f948c 0 267.1px,#1e9b8a 0 275.1px,#1fa188 0 283.0px,#22a884 0 291.0px,#29af7f 0 299.0px,#31b57b 0 306.9px,#38b977 0 314.9px,#3fbc73 0 322.9px,#3bbb75 0 330.9px,#44bf70 0 338.8px,#4cc26c 0 346.8px,#50c46a 0 354.8px,#5ec962 0 370.7px,#60ca60 0 378.7px,#73d056 0 386.7px,#77d153 0 394.6px,#84d44b 0 402.6px,#93d741 0 410.6px,#98d83e 0 418.6px,#9bd93c 0 426.5px,#a5db36 0 434.5px,#addc30 0 442.5px,#b8de29 0 450.5px,#b2dd2d 0 458.4px,#bade28 0 466.4px,#b5de2b 0 474.4px,#b8de29 0 490.3px,#c8e020 0 498.3px,#b0dd2f 0 506.3px,#b2dd2d 0 514.2px,#b8de29 0 522.2px,#a8db34 0 530.2px,#a0da39 0 538.2px,#93d741 0 546.1px,#4ec36b 0 554.1px,#42be71 0 562.1px,#34b679 0 570.0px,#31b57b 0 578.0px,#3aba76 0 586.0px,#2db27d 0 594.0px,#25ac82 0 601.9px,#22a785 0 609.9px,#1e9c89 0 625.9px,#1fa287 0 633.8px,#1f9e89 0 641.8px,#1f9a8a 0 649.8px,#1f968b 0 657.7px,#20a386 0)"></i><i style="left:848px;width:30px;background:linear-gradient(#440256 0 4.0px,#440154 0 12.0px,#450559 0 27.9px,#440154 0 35.9px,#440256 0 43.8px,#460a5d 0 51.8px,#440154 0 75.7px,#450457 0 83.7px,#46075a 0 91.7px,#481d6f 0 99.7px,#482173 0 107.6px,#472d7b 0 115.6px,#453581 0 123.6px,#433d84 0 131.5px,#424186 0 139.5px,#3d4e8a 0 147.5px,#3c508b 0 155.5px,#38588c 0 163.4px,#365d8d 0 171.4px,#34608d 0 179.4px,#31678e 0 187.4px,#2f6b8e 0 195.3px,#2c718e 0 203.3px,#2b758e 0 211.3px,#297b8e 0 219.2px,#26818e 0 227.2px,#26828e 0 235.2px,#23888e 0 243.2px,#228d8d 0 251.1px,#20928c 0 259.1px,#1f988b 0 267.1px,#1e9d89 0 275.1px,#1fa287 0 283.0px,#22a785 0 291.0px,#26ad81 0 299.0px,#2ab07f 0 306.9px,#31b57b 0 314.9px,#34b679 0 322.9px,#37b878 0 330.9px,#3dbc74 0 346.8px,#42be71 0 354.8px,#48c16e 0 362.8px,#54c568 0 370.7px,#52c569 0 378.7px,#5ec962 0 386.7px,#67cc5c 0 394.6px,#77d153 0 402.6px,#7cd250 0 410.6px,#84d44b 0 418.6px,#89d548 0 426.5px,#93d741 0 434.5px,#98d83e 0 442.5px,#a2da37 0 450.5px,#a5db36 0 458.4px,#9dd93b 0 466.4px,#9bd93c 0 474.4px,#98d83e 0 482.3px,#a5db36 0 490.3px,#addc30 0 506.3px,#aadc32 0 514.2px,#84d44b 0 522.2px,#7ad151 0 530.2px,#5cc863 0 538.2px,#2cb17e 0 546.1px,#25ac82 0 554.1px,#26ad81 0 562.1px,#2fb47c 0 570.0px,#28ae80 0 578.0px,#2eb37c 0 586.0px,#20a386 0 594.0px,#1fa187 0 601.9px,#1f9a8a 0 609.9px,#1fa187 0 617.9px,#1f9a8a 0 625.9px,#1f9e89 0 633.8px,#1e9b8a 0 641.8px,#1fa088 0 649.8px,#22a884 0 657.7px,#218f8d 0 665.7px,#1f9a8a 0)"></i><i style="left:878px;width:30px;background:linear-gradient(#440154 0 27.9px,#460b5e 0 35.9px,#46075a 0 43.8px,#440256 0 51.8px,#440154 0 59.8px,#46085c 0 67.8px,#440154 0 83.7px,#481c6e 0 91.7px,#481d6f 0 99.7px,#472c7a 0 107.6px,#463480 0 115.6px,#443b84 0 123.6px,#404688 0 131.5px,#3c4f8a 0 139.5px,#3f4889 0 147.5px,#38588c 0 155.5px,#38598c 0 163.4px,#365d8d 0 171.4px,#31668e 0 179.4px,#2f6c8e 0 187.4px,#2d718e 0 195.3px,#2b758e 0 203.3px,#287c8e 0 211.3px,#26818e 0 227.2px,#25858e 0 235.2px,#238a8d 0 243.2px,#228d8d 0 251.1px,#1f958b 0 259.1px,#1f988b 0 267.1px,#1f9e89 0 275.1px,#1fa188 0 283.0px,#20a486 0 291.0px,#23a983 0 299.0px,#26ad81 0 306.9px,#2cb17e 0 314.9px,#2fb47c 0 322.9px,#32b67a 0 330.9px,#31b57b 0 338.8px,#34b679 0 346.8px,#3bbb75 0 362.8px,#42be71 0 370.7px,#44bf70 0 378.7px,#48c16e 0 386.7px,#52c569 0 402.6px,#56c667 0 410.6px,#58c765 0 418.6px,#56c667 0 426.5px,#5cc863 0 434.5px,#63cb5f 0 442.5px,#67cc5c 0 450.5px,#5ec962 0 458.4px,#56c667 0 466.4px,#4ec36b 0 482.3px,#56c667 0 490.3px,#4cc26c 0 498.3px,#3fbc73 0 506.3px,#38b977 0 514.2px,#2fb47c 0 522.2px,#32b67a 0 530.2px,#22a884 0 538.2px,#25ab82 0 546.1px,#2a778e 0 554.1px,#23a983 0 562.1px,#25ac82 0 570.0px,#3b518b 0 578.0px,#25ab82 0 586.0px,#228d8d 0 594.0px,#32b67a 0 601.9px,#29af7f 0 609.9px,#1e9c89 0 617.9px,#1e9b8a 0 625.9px,#26ad81 0 633.8px,#1fa187 0 641.8px,#228c8d 0 649.8px,#1fa187 0 657.7px,#1f978b 0 665.7px,#31b57b 0)"></i><i style="left:908px;width:30px;background:linear-gradient(#440154 0 35.9px,#46075a 0 43.8px,#440154 0 59.8px,#440256 0 67.8px,#46075a 0 75.7px,#470e61 0 83.7px,#481d6f 0 91.7px,#482576 0 99.7px,#46337f 0 107.6px,#443983 0 115.6px,#453882 0 123.6px,#414487 0 131.5px,#3d4e8a 0 139.5px,#365c8d 0 147.5px,#375b8d 0 155.5px,#355f8d 0 163.4px,#32648e 0 171.4px,#2f6c8e 0 179.4px,#2e6f8e 0 187.4px,#2a768e 0 195.3px,#297a8e 0 203.3px,#287c8e 0 211.3px,#27808e 0 219.2px,#24878e 0 227.2px,#23898e 0 235.2px,#21918c 0 243.2px,#20928c 0 251.1px,#1f998a 0 259.1px,#1e9d89 0 267.1px,#1fa187 0 275.1px,#22a785 0 283.0px,#26ad81 0 291.0px,#29af7f 0 299.0px,#32b67a 0 314.9px,#3bbb75 0 322.9px,#44bf70 0 330.9px,#46c06f 0 338.8px,#4ac16d 0 346.8px,#50c46a 0 354.8px,#58c765 0 362.8px,#5ec962 0 370.7px,#6ccd5a 0 378.7px,#70cf57 0 386.7px,#73d056 0 394.6px,#81d34d 0 410.6px,#8bd646 0 418.6px,#90d743 0 426.5px,#98d83e 0 434.5px,#9bd93c 0 442.5px,#a0da39 0 450.5px,#aadc32 0 458.4px,#9bd93c 0 466.4px,#86d549 0 482.3px,#69cd5b 0 490.3px,#70cf57 0 498.3px,#56c667 0 506.3px,#4cc26c 0 514.2px,#38b977 0 522.2px,#40bd72 0 530.2px,#42be71 0 538.2px,#46085c 0 546.1px,#46c06f 0 554.1px,#46085c 0 562.1px,#42be71 0 570.0px,#2cb17e 0 578.0px,#21a685 0 586.0px,#2db27d 0 594.0px,#23a983 0 601.9px,#1e9b8a 0 609.9px,#1f958b 0 617.9px,#1f988b 0 625.9px,#1f9f88 0 633.8px,#25ab82 0 641.8px,#25ac82 0 649.8px,#20938c 0 657.7px,#218f8d 0 665.7px,#228c8d 0)"></i><i style="left:938px;width:31px;background:linear-gradient(#440154 0 4.0px,#450457 0 12.0px,#440154 0 27.9px,#440256 0 35.9px,#440154 0 59.8px,#46085c 0 67.8px,#460a5d 0 75.7px,#471365 0 83.7px,#482979 0 91.7px,#46327e 0 99.7px,#443b84 0 107.6px,#433d84 0 115.6px,#404688 0 123.6px,#3a538b 0 131.5px,#3a548c 0 139.5px,#39558c 0 147.5px,#34608d 0 155.5px,#33628d 0 163.4px,#30698e 0 171.4px,#2d708e 0 179.4px,#2d718e 0 187.4px,#29798e 0 195.3px,#287d8e 0 203.3px,#26828e 0 211.3px,#25848e 0 219.2px,#24878e 0 227.2px,#218e8d 0 235.2px,#1f948c 0 243.2px,#1f988b 0 251.1px,#1e9d89 0 259.1px,#20a386 0 267.1px,#21a685 0 275.1px,#29af7f 0 283.0px,#2cb17e 0 291.0px,#34b679 0 299.0px,#3aba76 0 306.9px,#44bf70 0 314.9px,#4ec36b 0 322.9px,#5ac864 0 330.9px,#60ca60 0 338.8px,#69cd5b 0 346.8px,#70cf57 0 354.8px,#7ad151 0 362.8px,#7cd250 0 370.7px,#84d44b 0 386.7px,#9dd93b 0 394.6px,#a0da39 0 402.6px,#a2da37 0 410.6px,#addc30 0 418.6px,#b0dd2f 0 426.5px,#b5de2b 0 434.5px,#b8de29 0 458.4px,#c0df25 0 466.4px,#b5de2b 0 474.4px,#c8e020 0 482.3px,#dde318 0 490.3px,#dae319 0 498.3px,#dde318 0 506.3px,#cae11f 0 514.2px,#d5e21a 0 522.2px,#cae11f 0 530.2px,#bade28 0 538.2px,#a8db34 0 546.1px,#63cb5f 0 554.1px,#46085c 0 562.1px,#3dbc74 0 570.0px,#34b679 0 578.0px,#2ab07f 0 586.0px,#32b67a 0 594.0px,#24aa83 0 601.9px,#1f9a8a 0 609.9px,#26ad81 0 617.9px,#20a486 0 625.9px,#1f968b 0 633.8px,#20a486 0 641.8px,#26ad81 0 649.8px,#1f958b 0 657.7px,#1f9f88 0 665.7px,#1f9a8a 0)"></i><i style="left:969px;width:30px;background:linear-gradient(#440154 0 4.0px,#440256 0 12.0px,#440154 0 51.8px,#440256 0 59.8px,#440154 0 67.8px,#471365 0 75.7px,#482475 0 83.7px,#472d7b 0 91.7px,#463480 0 99.7px,#453581 0 107.6px,#3f4889 0 115.6px,#3d4e8a 0 123.6px,#3b528b 0 131.5px,#39558c 0 139.5px,#33628d 0 147.5px,#355f8d 0 155.5px,#32658e 0 163.4px,#2f6c8e 0 171.4px,#2e6f8e 0 179.4px,#2c738e 0 187.4px,#2a788e 0 195.3px,#27808e 0 203.3px,#26828e 0 211.3px,#24868e 0 219.2px,#228c8d 0 227.2px,#228d8d 0 235.2px,#1f958b 0 243.2px,#1f9a8a 0 251.1px,#1f9e89 0 259.1px,#20a486 0 267.1px,#24aa83 0 275.1px,#29af7f 0 283.0px,#2cb17e 0 291.0px,#38b977 0 299.0px,#3fbc73 0 306.9px,#4ac16d 0 314.9px,#54c568 0 322.9px,#5ec962 0 330.9px,#65cb5e 0 338.8px,#6ece58 0 346.8px,#7cd250 0 354.8px,#7fd34e 0 362.8px,#8bd646 0 370.7px,#90d743 0 378.7px,#95d840 0 386.7px,#a2da37 0 394.6px,#addc30 0 402.6px,#c0df25 0 410.6px,#b5de2b 0 418.6px,#c0df25 0 426.5px,#bddf26 0 434.5px,#c2df23 0 442.5px,#c8e020 0 450.5px,#cae11f 0 458.4px,#c8e020 0 466.4px,#d8e219 0 482.3px,#d5e21a 0 490.3px,#d2e21b 0 498.3px,#f1e51d 0 506.3px,#f4e61e 0 514.2px,#eae51a 0 522.2px,#d8e219 0 530.2px,#c2df23 0 538.2px,#b8de29 0 546.1px,#9dd93b 0 554.1px,#46085c 0 562.1px,#2ab07f 0 570.0px,#25ac82 0 578.0px,#27ad81 0 586.0px,#1fa188 0 594.0px,#46085c 0 601.9px,#1fa187 0 609.9px,#2cb17e 0 617.9px,#20a486 0 625.9px,#1fa088 0 633.8px,#1f958b 0 641.8px,#25ac82 0 649.8px,#20a486 0 657.7px,#2eb37c 0 665.7px,#1fa088 0)"></i><i style="left:999px;width:30px;background:linear-gradient(#440154 0 12.0px,#440256 0 19.9px,#440154 0 27.9px,#450559 0 35.9px,#440256 0 43.8px,#440154 0 59.8px,#46075a 0 67.8px,#481c6e 0 75.7px,#482173 0 83.7px,#472c7a 0 91.7px,#463480 0 99.7px,#423f85 0 107.6px,#3e4989 0 115.6px,#3e4a89 0 123.6px,#38588c 0 139.5px,#355e8d 0 147.5px,#31678e 0 155.5px,#2f6b8e 0 163.4px,#2e6f8e 0 171.4px,#2d718e 0 179.4px,#2a788e 0 187.4px,#277e8e 0 195.3px,#26818e 0 203.3px,#24868e 0 219.2px,#228d8d 0 227.2px,#20928c 0 235.2px,#1f978b 0 243.2px,#1e9b8a 0 251.1px,#1fa287 0 259.1px,#21a685 0 267.1px,#24aa83 0 275.1px,#2ab07f 0 283.0px,#31b57b 0 291.0px,#38b977 0 299.0px,#3fbc73 0 306.9px,#4ac16d 0 314.9px,#56c667 0 322.9px,#58c765 0 330.9px,#6ece58 0 338.8px,#70cf57 0 346.8px,#77d153 0 354.8px,#84d44b 0 362.8px,#8bd646 0 370.7px,#90d743 0 378.7px,#a2da37 0 386.7px,#aadc32 0 394.6px,#b5de2b 0 402.6px,#bddf26 0 410.6px,#c0df25 0 418.6px,#c5e021 0 426.5px,#cde11d 0 434.5px,#d0e11c 0 442.5px,#dae319 0 450.5px,#dde318 0 458.4px,#e2e418 0 466.4px,#dae319 0 474.4px,#d5e21a 0 482.3px,#efe51c 0 490.3px,#eae51a 0 498.3px,#efe51c 0 506.3px,#f6e620 0 514.2px,#e7e419 0 522.2px,#e5e419 0 530.2px,#bade28 0 538.2px,#4cc26c 0 546.1px,#37b878 0 554.1px,#24aa83 0 562.1px,#22a785 0 570.0px,#37b878 0 578.0px,#27ad81 0 586.0px,#42be71 0 594.0px,#25ac82 0 601.9px,#22a785 0 609.9px,#1f9e89 0 617.9px,#27ad81 0 625.9px,#3dbc74 0 633.8px,#24aa83 0 649.8px,#28ae80 0 657.7px,#218e8d 0 665.7px,#20a486 0)"></i><i style="left:1029px;width:30px;background:linear-gradient(#440154 0 4.0px,#440256 0 12.0px,#440154 0 27.9px,#450457 0 35.9px,#440154 0 43.8px,#46075a 0 51.8px,#450457 0 59.8px,#440154 0 67.8px,#471164 0 75.7px,#471365 0 83.7px,#481c6e 0 91.7px,#472f7d 0 99.7px,#453781 0 107.6px,#433d84 0 115.6px,#414287 0 123.6px,#3e4c8a 0 131.5px,#365c8d 0 139.5px,#375b8d 0 147.5px,#355e8d 0 155.5px,#31668e 0 163.4px,#306a8e 0 171.4px,#2e6e8e 0 179.4px,#2c738e 0 187.4px,#29798e 0 195.3px,#287d8e 0 203.3px,#26828e 0 211.3px,#25848e 0 219.2px,#23898e 0 227.2px,#218e8d 0 235.2px,#1f948c 0 243.2px,#1f998a 0 251.1px,#1f9f88 0 259.1px,#1fa287 0 267.1px,#24aa83 0 275.1px,#29af7f 0 283.0px,#2db27d 0 291.0px,#37b878 0 299.0px,#44bf70 0 306.9px,#50c46a 0 314.9px,#54c568 0 322.9px,#5cc863 0 330.9px,#67cc5c 0 338.8px,#6ece58 0 346.8px,#73d056 0 354.8px,#86d549 0 362.8px,#8bd646 0 370.7px,#93d741 0 378.7px,#9bd93c 0 386.7px,#a2da37 0 394.6px,#aadc32 0 402.6px,#addc30 0 410.6px,#b2dd2d 0 418.6px,#b0dd2f 0 426.5px,#b5de2b 0 434.5px,#b8de29 0 442.5px,#bade28 0 458.4px,#b5de2b 0 466.4px,#bade28 0 482.3px,#a8db34 0 490.3px,#b8de29 0 498.3px,#a5db36 0 514.2px,#95d840 0 530.2px,#63cb5f 0 538.2px,#52c569 0 546.1px,#35b779 0 554.1px,#2cb17e 0 562.1px,#3bbb75 0 570.0px,#26ad81 0 578.0px,#21a585 0 586.0px,#27ad81 0 594.0px,#29af7f 0 601.9px,#25ac82 0 609.9px,#38b977 0 617.9px,#1e9c89 0 625.9px,#1f9a8a 0 633.8px,#1f948c 0 641.8px,#20a486 0 649.8px,#20a386 0 657.7px,#29af7f 0 665.7px,#22a785 0)"></i><i style="left:1059px;width:31px;background:linear-gradient(#440256 0 4.0px,#440154 0 19.9px,#46075a 0 27.9px,#460a5d 0 35.9px,#440154 0 43.8px,#46075a 0 51.8px,#450457 0 59.8px,#450559 0 67.8px,#440154 0 75.7px,#481769 0 83.7px,#481f70 0 91.7px,#472c7a 0 99.7px,#453882 0 107.6px,#433d84 0 115.6px,#3f4889 0 131.5px,#3c508b 0 139.5px,#375a8c 0 147.5px,#365d8d 0 155.5px,#33628d 0 163.4px,#31668e 0 171.4px,#2e6d8e 0 179.4px,#2c718e 0 187.4px,#2a788e 0 195.3px,#287c8e 0 203.3px,#26828e 0 219.2px,#23888e 0 227.2px,#228d8d 0 235.2px,#21918c 0 243.2px,#1f978b 0 251.1px,#1f9e89 0 259.1px,#1fa287 0 267.1px,#21a585 0 275.1px,#25ac82 0 283.0px,#2cb17e 0 291.0px,#35b779 0 299.0px,#3bbb75 0 306.9px,#46c06f 0 314.9px,#4cc26c 0 322.9px,#56c667 0 330.9px,#5ec962 0 338.8px,#67cc5c 0 354.8px,#73d056 0 362.8px,#7fd34e 0 370.7px,#86d549 0 378.7px,#90d743 0 386.7px,#9dd93b 0 394.6px,#a0da39 0 402.6px,#a8db34 0 410.6px,#a5db36 0 418.6px,#addc30 0 426.5px,#b0dd2f 0 434.5px,#b5de2b 0 442.5px,#bddf26 0 450.5px,#c8e020 0 466.4px,#addc30 0 474.4px,#c8e020 0 482.3px,#b8de29 0 490.3px,#c5e021 0 498.3px,#dde318 0 506.3px,#d5e21a 0 522.2px,#d2e21b 0 530.2px,#c5e021 0 538.2px,#b2dd2d 0 546.1px,#73d056 0 554.1px,#3dbc74 0 562.1px,#40bd72 0 570.0px,#35b779 0 578.0px,#38b977 0 586.0px,#2cb17e 0 594.0px,#20a386 0 609.9px,#2ab07f 0 617.9px,#22a884 0 625.9px,#1fa187 0 633.8px,#1fa287 0 641.8px,#25ab82 0 649.8px,#25ac82 0 657.7px,#2ab07f 0 665.7px,#1e9c89 0)"></i><i style="left:1090px;width:30px;background:linear-gradient(#440154 0 12.0px,#450457 0 19.9px,#46075a 0 27.9px,#450559 0 43.8px,#440154 0 75.7px,#481769 0 83.7px,#481d6f 0 91.7px,#482576 0 99.7px,#472f7d 0 107.6px,#443b84 0 115.6px,#424086 0 123.6px,#3d4d8a 0 131.5px,#3a548c 0 139.5px,#375b8d 0 147.5px,#375a8c 0 155.5px,#365c8d 0 163.4px,#32648e 0 171.4px,#30698e 0 179.4px,#2e6f8e 0 187.4px,#2c738e 0 195.3px,#2a778e 0 203.3px,#297b8e 0 211.3px,#26818e 0 219.2px,#25858e 0 227.2px,#23898e 0 235.2px,#20928c 0 251.1px,#1f9a8a 0 259.1px,#1f9e89 0 267.1px,#1fa287 0 275.1px,#21a685 0 283.0px,#27ad81 0 291.0px,#2eb37c 0 299.0px,#2fb47c 0 306.9px,#3aba76 0 314.9px,#3dbc74 0 322.9px,#42be71 0 330.9px,#48c16e 0 338.8px,#4cc26c 0 346.8px,#52c569 0 354.8px,#58c765 0 362.8px,#5cc863 0 370.7px,#65cb5e 0 378.7px,#67cc5c 0 386.7px,#77d153 0 394.6px,#7cd250 0 402.6px,#81d34d 0 410.6px,#84d44b 0 418.6px,#8bd646 0 426.5px,#8ed645 0 434.5px,#90d743 0 442.5px,#93d741 0 450.5px,#98d83e 0 458.4px,#95d840 0 466.4px,#7fd34e 0 474.4px,#7ad151 0 482.3px,#81d34d 0 506.3px,#75d054 0 522.2px,#69cd5b 0 530.2px,#56c667 0 538.2px,#32b67a 0 546.1px,#34b679 0 554.1px,#27ad81 0 562.1px,#26ad81 0 570.0px,#38b977 0 578.0px,#28ae80 0 586.0px,#22a884 0 594.0px,#20a486 0 601.9px,#1e9b8a 0 609.9px,#1e9d89 0 617.9px,#1f9f88 0 625.9px,#1e9d89 0 633.8px,#46085c 0 641.8px,#20a386 0 649.8px,#37b878 0 657.7px,#22a785 0 665.7px,#1e9b8a 0)"></i><i style="left:1120px;width:30px;background:linear-gradient(#440256 0 4.0px,#450559 0 12.0px,#440154 0 43.8px,#440256 0 51.8px,#440154 0 59.8px,#440256 0 75.7px,#440154 0 83.7px,#48186a 0 91.7px,#482173 0 99.7px,#472d7b 0 107.6px,#46307e 0 115.6px,#433d84 0 123.6px,#423f85 0 131.5px,#3d4e8a 0 139.5px,#3a538b 0 147.5px,#375b8d 0 155.5px,#365c8d 0 163.4px,#34608d 0 171.4px,#31688e 0 179.4px,#2f6b8e 0 187.4px,#2d708e 0 195.3px,#2c738e 0 203.3px,#287d8e 0 211.3px,#27808e 0 219.2px,#26828e 0 227.2px,#23888e 0 235.2px,#228d8d 0 251.1px,#20928c 0 259.1px,#1e9b8a 0 267.1px,#1f9e89 0 275.1px,#1fa188 0 283.0px,#21a585 0 291.0px,#25ac82 0 299.0px,#2ab07f 0 314.9px,#32b67a 0 322.9px,#34b679 0 330.9px,#35b779 0 338.8px,#38b977 0 346.8px,#3bbb75 0 354.8px,#3fbc73 0 370.7px,#40bd72 0 378.7px,#44bf70 0 386.7px,#3dbc74 0 394.6px,#3bbb75 0 402.6px,#34b679 0 410.6px,#2eb37c 0 418.6px,#2db27d 0 426.5px,#26ad81 0 434.5px,#23a983 0 442.5px,#20a486 0 450.5px,#23a983 0 458.4px,#20a486 0 466.4px,#1e9c89 0 474.4px,#1f968b 0 482.3px,#1e9d89 0 490.3px,#1f968b 0 498.3px,#20938c 0 506.3px,#25858e 0 514.2px,#26818e 0 522.2px,#24868e 0 530.2px,#25858e 0 538.2px,#2b748e 0 546.1px,#1f968b 0 554.1px,#37b878 0 562.1px,#2ab07f 0 570.0px,#3fbc73 0 578.0px,#31b57b 0 586.0px,#24aa83 0 594.0px,#39568c 0 601.9px,#2f6c8e 0 609.9px,#25ab82 0 617.9px,#1fa088 0 625.9px,#1f998a 0 633.8px,#25ab82 0 641.8px,#1e9c89 0 649.8px,#1f998a 0 657.7px,#27ad81 0 665.7px,#1fa188 0)"></i><i style="left:1150px;width:30px;background:linear-gradient(#440154 0 12.0px,#450559 0 19.9px,#450457 0 27.9px,#440154 0 59.8px,#450457 0 67.8px,#46085c 0 75.7px,#440154 0 83.7px,#450559 0 91.7px,#471164 0 99.7px,#482173 0 107.6px,#482979 0 115.6px,#453781 0 123.6px,#423f85 0 131.5px,#414487 0 139.5px,#3c4f8a 0 147.5px,#3d4e8a 0 155.5px,#39558c 0 163.4px,#365d8d 0 171.4px,#355f8d 0 179.4px,#33638d 0 187.4px,#2f6c8e 0 195.3px,#2c728e 0 203.3px,#2a768e 0 211.3px,#29798e 0 219.2px,#277f8e 0 227.2px,#26818e 0 235.2px,#23888e 0 243.2px,#228c8d 0 251.1px,#20928c 0 259.1px,#1f948c 0 267.1px,#1e9b8a 0 275.1px,#1f9f88 0 283.0px,#1fa287 0 291.0px,#22a884 0 299.0px,#25ac82 0 314.9px,#28ae80 0 330.9px,#2eb37c 0 338.8px,#32b67a 0 346.8px,#2fb47c 0 354.8px,#37b878 0 362.8px,#35b779 0 370.7px,#38b977 0 378.7px,#3bbb75 0 386.7px,#40bd72 0 394.6px,#3dbc74 0 402.6px,#3bbb75 0 410.6px,#3fbc73 0 418.6px,#3dbc74 0 434.5px,#3bbb75 0 442.5px,#3aba76 0 450.5px,#38b977 0 458.4px,#24aa83 0 466.4px,#218e8d 0 474.4px,#277e8e 0 482.3px,#287c8e 0 490.3px,#2c718e 0 498.3px,#306a8e 0 506.3px,#365d8d 0 514.2px,#414487 0 522.2px,#3e4c8a 0 530.2px,#355e8d 0 538.2px,#23888e 0 546.1px,#2ab07f 0 554.1px,#34b679 0 562.1px,#2a768e 0 570.0px,#25ac82 0 594.0px,#37b878 0 601.9px,#29af7f 0 609.9px,#35b779 0 617.9px,#3aba76 0 625.9px,#27ad81 0 633.8px,#31b57b 0 641.8px,#29af7f 0 649.8px,#48c16e 0 657.7px,#24aa83 0 665.7px,#20a386 0)"></i><i style="left:1180px;width:31px;background:linear-gradient(#46075a 0 4.0px,#440154 0 19.9px,#440256 0 27.9px,#440154 0 43.8px,#440256 0 51.8px,#450559 0 59.8px,#46075a 0 67.8px,#440154 0 91.7px,#450457 0 99.7px,#481668 0 107.6px,#481b6d 0 115.6px,#482878 0 123.6px,#46307e 0 131.5px,#433d84 0 139.5px,#404688 0 147.5px,#3f4889 0 155.5px,#3a538b 0 163.4px,#3a548c 0 171.4px,#365d8d 0 179.4px,#34608d 0 187.4px,#31668e 0 195.3px,#2e6d8e 0 203.3px,#2c728e 0 211.3px,#2a778e 0 219.2px,#2b758e 0 227.2px,#277f8e 0 235.2px,#26828e 0 243.2px,#24878e 0 251.1px,#228d8d 0 259.1px,#20938c 0 267.1px,#1f978b 0 275.1px,#1e9c89 0 283.0px,#20a386 0 291.0px,#22a785 0 299.0px,#24aa83 0 306.9px,#25ac82 0 314.9px,#29af7f 0 330.9px,#2fb47c 0 338.8px,#2eb37c 0 346.8px,#2fb47c 0 354.8px,#32b67a 0 362.8px,#3aba76 0 370.7px,#3bbb75 0 378.7px,#3aba76 0 386.7px,#48c16e 0 394.6px,#44bf70 0 402.6px,#46c06f 0 410.6px,#48c16e 0 426.5px,#4ac16d 0 434.5px,#4ec36b 0 442.5px,#58c765 0 450.5px,#5cc863 0 458.4px,#50c46a 0 466.4px,#38b977 0 474.4px,#2ab07f 0 482.3px,#44bf70 0 490.3px,#2eb37c 0 498.3px,#1fa088 0 506.3px,#20938c 0 514.2px,#46085c 0 522.2px,#2a778e 0 530.2px,#1f958b 0 538.2px,#375b8d 0 546.1px,#23898e 0 554.1px,#46085c 0 562.1px,#21a585 0 570.0px,#2eb37c 0 578.0px,#38598c 0 586.0px,#23a983 0 594.0px,#26828e 0 601.9px,#31678e 0 609.9px,#20a386 0 617.9px,#20a486 0 625.9px,#1f9e89 0 633.8px,#1f9a8a 0 641.8px,#21a585 0 649.8px,#1f9f88 0 657.7px,#20928c 0 665.7px,#24878e 0)"></i><i style="left:1211px;width:30px;background:linear-gradient(#440154 0 12.0px,#440256 0 19.9px,#440154 0 43.8px,#450457 0 51.8px,#440154 0 59.8px,#450457 0 67.8px,#450559 0 75.7px,#440154 0 83.7px,#450457 0 91.7px,#440256 0 99.7px,#450559 0 107.6px,#481668 0 115.6px,#482475 0 123.6px,#46307e 0 131.5px,#443983 0 139.5px,#423f85 0 147.5px,#424086 0 155.5px,#3e4a89 0 163.4px,#3a538b 0 171.4px,#38588c 0 179.4px,#365c8d 0 187.4px,#33628d 0 195.3px,#31688e 0 203.3px,#2f6b8e 0 211.3px,#2d708e 0 219.2px,#2b748e 0 227.2px,#297a8e 0 235.2px,#26828e 0 243.2px,#24878e 0 251.1px,#23898e 0 259.1px,#20938c 0 267.1px,#1f968b 0 275.1px,#1e9b8a 0 283.0px,#1fa188 0 291.0px,#22a785 0 299.0px,#25ab82 0 306.9px,#24aa83 0 314.9px,#25ab82 0 322.9px,#2ab07f 0 330.9px,#2eb37c 0 346.8px,#34b679 0 354.8px,#35b779 0 362.8px,#3bbb75 0 370.7px,#3aba76 0 378.7px,#48c16e 0 386.7px,#44bf70 0 394.6px,#48c16e 0 402.6px,#50c46a 0 418.6px,#58c765 0 426.5px,#5ac864 0 434.5px,#5cc863 0 442.5px,#60ca60 0 458.4px,#56c667 0 466.4px,#3fbc73 0 474.4px,#38b977 0 482.3px,#4cc26c 0 490.3px,#42be71 0 498.3px,#46c06f 0 506.3px,#40bd72 0 514.2px,#2fb47c 0 522.2px,#238a8d 0 530.2px,#31b57b 0 538.2px,#34b679 0 546.1px,#1f9f88 0 554.1px,#287d8e 0 562.1px,#34608d 0 570.0px,#3aba76 0 578.0px,#20a486 0 586.0px,#21a585 0 594.0px,#2fb47c 0 601.9px,#25ac82 0 609.9px,#20a486 0 617.9px,#1f9f88 0 625.9px,#22a785 0 633.8px,#21a685 0 641.8px,#1fa088 0 649.8px,#1f9a8a 0 657.7px,#20a486 0 665.7px,#1fa088 0)"></i><i style="left:1241px;width:30px;background:linear-gradient(#450559 0 4.0px,#440154 0 19.9px,#450457 0 27.9px,#450559 0 43.8px,#46075a 0 51.8px,#440256 0 59.8px,#46075a 0 67.8px,#46085c 0 75.7px,#440256 0 83.7px,#46075a 0 91.7px,#440256 0 99.7px,#46075a 0 107.6px,#471365 0 115.6px,#482071 0 123.6px,#472a7a 0 131.5px,#46307e 0 139.5px,#453781 0 147.5px,#414487 0 155.5px,#3f4788 0 163.4px,#3e4c8a 0 171.4px,#3a538b 0 179.4px,#355e8d 0 187.4px,#34608d 0 195.3px,#31668e 0 203.3px,#2f6c8e 0 211.3px,#2d708e 0 219.2px,#2b748e 0 227.2px,#287c8e 0 235.2px,#27808e 0 243.2px,#238a8d 0 251.1px,#228b8d 0 259.1px,#20928c 0 267.1px,#1f968b 0 275.1px,#1fa188 0 283.0px,#20a486 0 291.0px,#23a983 0 299.0px,#27ad81 0 306.9px,#2ab07f 0 314.9px,#2fb47c 0 322.9px,#32b67a 0 330.9px,#34b679 0 338.8px,#38b977 0 346.8px,#3dbc74 0 354.8px,#3bbb75 0 362.8px,#3fbc73 0 370.7px,#44bf70 0 378.7px,#4cc26c 0 386.7px,#5ac864 0 394.6px,#69cd5b 0 402.6px,#73d056 0 410.6px,#7ad151 0 418.6px,#84d44b 0 426.5px,#89d548 0 434.5px,#8ed645 0 442.5px,#9bd93c 0 450.5px,#a5db36 0 466.4px,#8bd646 0 474.4px,#93d741 0 482.3px,#9bd93c 0 490.3px,#a0da39 0 498.3px,#93d741 0 506.3px,#95d840 0 514.2px,#84d44b 0 522.2px,#86d549 0 530.2px,#46085c 0 538.2px,#32b67a 0 546.1px,#37b878 0 554.1px,#32b67a 0 562.1px,#3dbc74 0 570.0px,#24aa83 0 578.0px,#20a486 0 586.0px,#27ad81 0 594.0px,#1fa287 0 601.9px,#37b878 0 609.9px,#29af7f 0 617.9px,#25ac82 0 625.9px,#28ae80 0 633.8px,#1e9d89 0 649.8px,#21a585 0 657.7px,#1f9e89 0 665.7px,#1e9c89 0)"></i><i style="left:1271px;width:30px;background:linear-gradient(#440154 0 19.9px,#46075a 0 27.9px,#440154 0 35.9px,#460a5d 0 43.8px,#450559 0 51.8px,#440154 0 67.8px,#46085c 0 75.7px,#450559 0 83.7px,#46075a 0 91.7px,#440154 0 99.7px,#481467 0 107.6px,#481b6d 0 115.6px,#482677 0 123.6px,#472d7b 0 131.5px,#443a83 0 139.5px,#433d84 0 147.5px,#404688 0 155.5px,#3d4d8a 0 163.4px,#3a548c 0 171.4px,#365c8d 0 179.4px,#34618d 0 187.4px,#31688e 0 195.3px,#2f6c8e 0 203.3px,#2c718e 0 211.3px,#2b748e 0 219.2px,#297a8e 0 227.2px,#27808e 0 235.2px,#25848e 0 243.2px,#23898e 0 251.1px,#21908d 0 259.1px,#20938c 0 267.1px,#1f998a 0 275.1px,#1f9f88 0 283.0px,#1fa187 0 291.0px,#21a685 0 299.0px,#23a983 0 306.9px,#29af7f 0 314.9px,#2cb17e 0 322.9px,#2eb37c 0 330.9px,#2fb47c 0 338.8px,#31b57b 0 346.8px,#34b679 0 354.8px,#37b878 0 362.8px,#3bbb75 0 370.7px,#3fbc73 0 378.7px,#4cc26c 0 386.7px,#5ac864 0 394.6px,#69cd5b 0 402.6px,#73d056 0 410.6px,#89d548 0 418.6px,#90d743 0 426.5px,#98d83e 0 434.5px,#a5db36 0 442.5px,#addc30 0 450.5px,#b0dd2f 0 458.4px,#a2da37 0 466.4px,#cde11d 0 474.4px,#b2dd2d 0 482.3px,#b5de2b 0 490.3px,#aadc32 0 498.3px,#bade28 0 506.3px,#b5de2b 0 514.2px,#a0da39 0 522.2px,#95d840 0 530.2px,#addc30 0 538.2px,#a8db34 0 546.1px,#8bd646 0 554.1px,#50c46a 0 562.1px,#26ad81 0 570.0px,#32b67a 0 586.0px,#40bd72 0 594.0px,#34b679 0 601.9px,#27ad81 0 609.9px,#20a486 0 617.9px,#35b779 0 625.9px,#28ae80 0 641.8px,#1f9e89 0 649.8px,#26ad81 0 657.7px,#1f9e89 0 665.7px,#228b8d 0)"></i><i style="left:1301px;width:31px;background:linear-gradient(#450559 0 4.0px,#440154 0 12.0px,#46075a 0 19.9px,#440154 0 51.8px,#450559 0 59.8px,#440256 0 67.8px,#440154 0 83.7px,#471365 0 91.7px,#482071 0 99.7px,#482475 0 107.6px,#46337f 0 115.6px,#433e85 0 123.6px,#404588 0 131.5px,#3d4d8a 0 139.5px,#3b518b 0 147.5px,#3a548c 0 155.5px,#375b8d 0 163.4px,#34618d 0 171.4px,#32658e 0 179.4px,#2f6c8e 0 187.4px,#2d718e 0 195.3px,#2b758e 0 203.3px,#2a788e 0 211.3px,#277f8e 0 219.2px,#25838e 0 227.2px,#23888e 0 235.2px,#228c8d 0 243.2px,#21918c 0 251.1px,#1f968b 0 259.1px,#1e9d89 0 267.1px,#1f9e89 0 275.1px,#1fa188 0 283.0px,#23a983 0 291.0px,#26ad81 0 299.0px,#2ab07f 0 306.9px,#2db27d 0 314.9px,#34b679 0 322.9px,#38b977 0 330.9px,#34b679 0 338.8px,#3bbb75 0 346.8px,#3fbc73 0 354.8px,#48c16e 0 362.8px,#46c06f 0 370.7px,#4ec36b 0 378.7px,#50c46a 0 386.7px,#5cc863 0 394.6px,#63cb5f 0 402.6px,#70cf57 0 410.6px,#6ccd5a 0 418.6px,#70cf57 0 426.5px,#7ad151 0 434.5px,#7fd34e 0 442.5px,#81d34d 0 466.4px,#a5db36 0 474.4px,#b0dd2f 0 482.3px,#9dd93b 0 490.3px,#8ed645 0 498.3px,#9bd93c 0 506.3px,#7cd250 0 514.2px,#81d34d 0 522.2px,#90d743 0 530.2px,#8bd646 0 538.2px,#42be71 0 546.1px,#28ae80 0 554.1px,#27ad81 0 562.1px,#22a785 0 570.0px,#2cb17e 0 578.0px,#20a386 0 586.0px,#22a884 0 594.0px,#20a486 0 601.9px,#3bbb75 0 609.9px,#1fa187 0 617.9px,#20a386 0 625.9px,#25ac82 0 633.8px,#26ad81 0 641.8px,#20a386 0 649.8px,#2cb17e 0 657.7px,#20a386 0 665.7px,#1f998a 0)"></i><i style="left:1332px;width:30px;background:linear-gradient(#46085c 0 4.0px,#46075a 0 12.0px,#440154 0 19.9px,#440256 0 27.9px,#440154 0 43.8px,#46075a 0 51.8px,#440256 0 59.8px,#440154 0 75.7px,#470e61 0 83.7px,#481b6d 0 91.7px,#472a7a 0 99.7px,#472f7d 0 107.6px,#453781 0 115.6px,#404588 0 123.6px,#404688 0 131.5px,#3b518b 0 139.5px,#375a8c 0 155.5px,#33628d 0 163.4px,#31688e 0 171.4px,#2f6c8e 0 179.4px,#2d718e 0 187.4px,#2b758e 0 195.3px,#2a788e 0 203.3px,#277f8e 0 211.3px,#27808e 0 219.2px,#25858e 0 227.2px,#238a8d 0 235.2px,#218f8d 0 243.2px,#20928c 0 251.1px,#20938c 0 259.1px,#1e9b8a 0 267.1px,#1fa088 0 275.1px,#20a386 0 283.0px,#23a983 0 291.0px,#27ad81 0 299.0px,#2db27d 0 306.9px,#2cb17e 0 314.9px,#2fb47c 0 322.9px,#38b977 0 330.9px,#35b779 0 338.8px,#3aba76 0 346.8px,#42be71 0 370.7px,#50c46a 0 378.7px,#48c16e 0 386.7px,#44bf70 0 394.6px,#3dbc74 0 402.6px,#38b977 0 410.6px,#35b779 0 418.6px,#2db27d 0 426.5px,#2ab07f 0 434.5px,#29af7f 0 442.5px,#27ad81 0 450.5px,#22a785 0 458.4px,#20a486 0 466.4px,#20938c 0 474.4px,#21918c 0 482.3px,#20928c 0 498.3px,#218e8d 0 506.3px,#26828e 0 514.2px,#297b8e 0 522.2px,#25858e 0 530.2px,#1f968b 0 538.2px,#1f978b 0 546.1px,#1e9b8a 0 554.1px,#25ac82 0 562.1px,#277f8e 0 570.0px,#52c569 0 578.0px,#26ad81 0 586.0px,#25ac82 0 594.0px,#33628d 0 601.9px,#2db27d 0 609.9px,#1fa187 0 617.9px,#1e9d89 0 625.9px,#28ae80 0 633.8px,#32b67a 0 641.8px,#1f988b 0 649.8px,#23888e 0 657.7px,#1fa187 0 665.7px,#20a386 0)"></i><i style="left:1362px;width:30px;background:linear-gradient(#440154 0 12.0px,#440256 0 27.9px,#450457 0 35.9px,#470d60 0 43.8px,#450457 0 51.8px,#460a5d 0 67.8px,#46085c 0 75.7px,#470e61 0 83.7px,#48186a 0 91.7px,#472c7a 0 99.7px,#46327e 0 107.6px,#453581 0 115.6px,#424086 0 123.6px,#3e4c8a 0 139.5px,#3b518b 0 147.5px,#365d8d 0 155.5px,#355f8d 0 163.4px,#31668e 0 171.4px,#2f6b8e 0 179.4px,#2e6f8e 0 187.4px,#2c738e 0 195.3px,#2a788e 0 203.3px,#297b8e 0 211.3px,#26828e 0 219.2px,#25848e 0 227.2px,#238a8d 0 235.2px,#21908d 0 243.2px,#20928c 0 251.1px,#1f998a 0 259.1px,#1f9e89 0 267.1px,#20a386 0 275.1px,#22a884 0 283.0px,#25ab82 0 291.0px,#28ae80 0 299.0px,#34b679 0 306.9px,#32b67a 0 314.9px,#38b977 0 322.9px,#3dbc74 0 330.9px,#42be71 0 338.8px,#44bf70 0 346.8px,#4ac16d 0 354.8px,#54c568 0 362.8px,#5ac864 0 370.7px,#5cc863 0 386.7px,#6ccd5a 0 402.6px,#73d056 0 410.6px,#6ccd5a 0 418.6px,#73d056 0 426.5px,#75d054 0 434.5px,#73d056 0 450.5px,#7ad151 0 458.4px,#60ca60 0 466.4px,#4ec36b 0 474.4px,#40bd72 0 482.3px,#35b779 0 490.3px,#2db27d 0 498.3px,#22a884 0 506.3px,#1fa187 0 514.2px,#20928c 0 522.2px,#1f9a8a 0 530.2px,#2c728e 0 538.2px,#20928c 0 546.1px,#1e9d89 0 554.1px,#20a486 0 562.1px,#24868e 0 570.0px,#3aba76 0 578.0px,#21a585 0 586.0px,#355e8d 0 594.0px,#1e9c89 0 601.9px,#1e9d89 0 609.9px,#26ad81 0 617.9px,#1f988b 0 625.9px,#1f958b 0 633.8px,#1fa188 0 641.8px,#20a486 0 649.8px,#22a785 0 657.7px,#20928c 0 665.7px,#21918c 0)"></i><i style="left:1392px;width:30px;background:linear-gradient(#46075a 0 12.0px,#440154 0 27.9px,#450457 0 35.9px,#440154 0 43.8px,#46085c 0 51.8px,#440256 0 59.8px,#46085c 0 67.8px,#46075a 0 75.7px,#481467 0 83.7px,#481b6d 0 91.7px,#472d7b 0 99.7px,#46337f 0 107.6px,#423f85 0 115.6px,#404688 0 123.6px,#3e4c8a 0 131.5px,#39568c 0 147.5px,#33638d 0 163.4px,#32658e 0 171.4px,#2e6f8e 0 179.4px,#2c728e 0 187.4px,#2b758e 0 195.3px,#287c8e 0 203.3px,#287d8e 0 211.3px,#25838e 0 219.2px,#24868e 0 227.2px,#23888e 0 235.2px,#21918c 0 243.2px,#1f958b 0 251.1px,#1f998a 0 259.1px,#1f9f88 0 267.1px,#20a486 0 275.1px,#24aa83 0 283.0px,#27ad81 0 291.0px,#2cb17e 0 299.0px,#31b57b 0 306.9px,#38b977 0 314.9px,#3dbc74 0 322.9px,#44bf70 0 330.9px,#4ac16d 0 338.8px,#54c568 0 346.8px,#58c765 0 354.8px,#60ca60 0 362.8px,#63cb5f 0 370.7px,#67cc5c 0 378.7px,#6ece58 0 386.7px,#7ad151 0 394.6px,#84d44b 0 402.6px,#7cd250 0 410.6px,#86d549 0 426.5px,#8bd646 0 450.5px,#90d743 0 458.4px,#93d741 0 466.4px,#95d840 0 474.4px,#a2da37 0 482.3px,#8ed645 0 490.3px,#90d743 0 498.3px,#93d741 0 506.3px,#98d83e 0 514.2px,#8ed645 0 522.2px,#81d34d 0 530.2px,#86d549 0 538.2px,#69cd5b 0 546.1px,#3bbb75 0 554.1px,#2cb17e 0 562.1px,#46085c 0 570.0px,#52c569 0 578.0px,#46085c 0 586.0px,#21a585 0 594.0px,#1fa187 0 601.9px,#21a585 0 609.9px,#23a983 0 617.9px,#1e9d89 0 625.9px,#21a685 0 633.8px,#2ab07f 0 641.8px,#1f9e89 0 649.8px,#1e9b8a 0 657.7px,#1f9f88 0 665.7px,#1f9e89 0)"></i><i style="left:1422px;width:30px;background:linear-gradient(#440154 0 4.0px,#450559 0 19.9px,#46085c 0 27.9px,#46075a 0 35.9px,#440154 0 59.8px,#450457 0 67.8px,#460a5d 0 75.7px,#481769 0 83.7px,#482173 0 91.7px,#472a7a 0 99.7px,#453581 0 107.6px,#424086 0 115.6px,#3e4a89 0 123.6px,#3b518b 0 131.5px,#39568c 0 139.5px,#38598c 0 147.5px,#365c8d 0 155.5px,#31668e 0 163.4px,#30698e 0 171.4px,#2e6f8e 0 179.4px,#2c738e 0 187.4px,#2b748e 0 195.3px,#277e8e 0 203.3px,#27808e 0 211.3px,#25858e 0 219.2px,#238a8d 0 227.2px,#20928c 0 235.2px,#20938c 0 243.2px,#1e9c89 0 251.1px,#1e9d89 0 259.1px,#1fa287 0 267.1px,#23a983 0 275.1px,#2ab07f 0 283.0px,#2eb37c 0 291.0px,#35b779 0 299.0px,#42be71 0 306.9px,#4cc26c 0 314.9px,#56c667 0 322.9px,#65cb5e 0 330.9px,#70cf57 0 346.8px,#73d056 0 354.8px,#84d44b 0 362.8px,#90d743 0 370.7px,#8ed645 0 378.7px,#95d840 0 386.7px,#a5db36 0 394.6px,#aadc32 0 402.6px,#addc30 0 410.6px,#b2dd2d 0 426.5px,#b5de2b 0 434.5px,#b8de29 0 442.5px,#bade28 0 450.5px,#c2df23 0 458.4px,#b8de29 0 466.4px,#c0df25 0 474.4px,#c8e020 0 482.3px,#aadc32 0 490.3px,#c2df23 0 498.3px,#cde11d 0 514.2px,#c5e021 0 522.2px,#addc30 0 530.2px,#9bd93c 0 538.2px,#6ccd5a 0 546.1px,#3fbc73 0 554.1px,#31b57b 0 562.1px,#46085c 0 570.0px,#29af7f 0 578.0px,#32b67a 0 586.0px,#23a983 0 594.0px,#46085c 0 601.9px,#1f9a8a 0 609.9px,#27ad81 0 617.9px,#23a983 0 625.9px,#22a785 0 633.8px,#1f968b 0 641.8px,#1fa287 0 649.8px,#21a685 0 657.7px,#20a386 0 665.7px,#20938c 0)"></i><i style="left:1452px;width:31px;background:linear-gradient(#440256 0 4.0px,#440154 0 19.9px,#440256 0 27.9px,#440154 0 43.8px,#440256 0 51.8px,#440154 0 67.8px,#481d6f 0 75.7px,#482475 0 83.7px,#472a7a 0 91.7px,#463480 0 99.7px,#46337f 0 107.6px,#414487 0 115.6px,#3c508b 0 123.6px,#3a548c 0 131.5px,#375b8d 0 139.5px,#38598c 0 147.5px,#33628d 0 155.5px,#31688e 0 163.4px,#2f6c8e 0 171.4px,#2d718e 0 179.4px,#2a768e 0 187.4px,#2a788e 0 195.3px,#26818e 0 203.3px,#25838e 0 211.3px,#23888e 0 219.2px,#24868e 0 227.2px,#228d8d 0 235.2px,#1f948c 0 243.2px,#1f968b 0 251.1px,#1fa088 0 259.1px,#21a685 0 267.1px,#24aa83 0 275.1px,#28ae80 0 283.0px,#32b67a 0 291.0px,#37b878 0 299.0px,#46c06f 0 306.9px,#4cc26c 0 314.9px,#54c568 0 322.9px,#60ca60 0 330.9px,#69cd5b 0 338.8px,#6ccd5a 0 346.8px,#75d054 0 354.8px,#81d34d 0 362.8px,#86d549 0 370.7px,#93d741 0 378.7px,#9bd93c 0 386.7px,#a5db36 0 394.6px,#b8de29 0 402.6px,#bade28 0 410.6px,#b8de29 0 418.6px,#c0df25 0 426.5px,#c8e020 0 434.5px,#d0e11c 0 442.5px,#d8e219 0 458.4px,#dfe318 0 466.4px,#cde11d 0 474.4px,#dde318 0 482.3px,#ece51b 0 514.2px,#f8e621 0 522.2px,#dde318 0 530.2px,#cae11f 0 538.2px,#73d056 0 546.1px,#3bbb75 0 554.1px,#31b57b 0 562.1px,#2eb37c 0 570.0px,#32b67a 0 578.0px,#35b779 0 586.0px,#26ad81 0 601.9px,#28ae80 0 617.9px,#1e9b8a 0 625.9px,#1f968b 0 633.8px,#1f978b 0 641.8px,#20a386 0 649.8px,#1e9d89 0 657.7px,#23a983 0 665.7px,#20a386 0)"></i><i style="left:1483px;width:30px;background:linear-gradient(#440154 0 4.0px,#460a5d 0 12.0px,#440154 0 19.9px,#46085c 0 27.9px,#440154 0 35.9px,#450559 0 43.8px,#440154 0 59.8px,#450559 0 67.8px,#481c6e 0 75.7px,#482878 0 83.7px,#472f7d 0 91.7px,#46327e 0 99.7px,#443a83 0 107.6px,#3f4788 0 115.6px,#3d4d8a 0 123.6px,#3b528b 0 131.5px,#355e8d 0 139.5px,#355f8d 0 147.5px,#365c8d 0 155.5px,#31668e 0 163.4px,#2e6d8e 0 171.4px,#2e6f8e 0 179.4px,#29798e 0 187.4px,#287c8e 0 195.3px,#27808e 0 203.3px,#25848e 0 211.3px,#23898e 0 219.2px,#228b8d 0 227.2px,#20928c 0 235.2px,#20938c 0 243.2px,#1f9a8a 0 251.1px,#1fa187 0 259.1px,#21a585 0 267.1px,#22a884 0 275.1px,#28ae80 0 283.0px,#2db27d 0 291.0px,#3aba76 0 299.0px,#42be71 0 306.9px,#4ec36b 0 314.9px,#54c568 0 322.9px,#5cc863 0 330.9px,#6ccd5a 0 338.8px,#6ece58 0 346.8px,#7ad151 0 354.8px,#7fd34e 0 362.8px,#89d548 0 370.7px,#93d741 0 378.7px,#9dd93b 0 394.6px,#b0dd2f 0 410.6px,#b2dd2d 0 418.6px,#addc30 0 426.5px,#b5de2b 0 442.5px,#b8de29 0 450.5px,#bddf26 0 458.4px,#bade28 0 466.4px,#c0df25 0 474.4px,#c5e021 0 490.3px,#c0df25 0 506.3px,#cae11f 0 514.2px,#d8e219 0 522.2px,#d5e21a 0 530.2px,#b2dd2d 0 538.2px,#a5db36 0 546.1px,#50c46a 0 554.1px,#3bbb75 0 562.1px,#2cb17e 0 570.0px,#25ab82 0 578.0px,#29af7f 0 586.0px,#25ac82 0 594.0px,#42be71 0 601.9px,#28ae80 0 609.9px,#1fa287 0 617.9px,#1e9c89 0 625.9px,#1fa188 0 633.8px,#28ae80 0 641.8px,#1f958b 0 649.8px,#1f988b 0 657.7px,#1e9b8a 0 665.7px,#1fa188 0)"></i><i style="left:1513px;width:30px;background:linear-gradient(#440154 0 4.0px,#440256 0 12.0px,#440154 0 19.9px,#450457 0 27.9px,#440256 0 35.9px,#440154 0 43.8px,#471063 0 51.8px,#481d6f 0 59.8px,#482878 0 67.8px,#46327e 0 75.7px,#453882 0 83.7px,#423f85 0 91.7px,#3e4989 0 99.7px,#3b518b 0 107.6px,#375b8d 0 115.6px,#38598c 0 123.6px,#32648e 0 131.5px,#32658e 0 139.5px,#2f6c8e 0 147.5px,#2e6e8e 0 155.5px,#2c738e 0 163.4px,#297a8e 0 171.4px,#287d8e 0 179.4px,#277f8e 0 187.4px,#25848e 0 195.3px,#238a8d 0 203.3px,#228d8d 0 211.3px,#218f8d 0 219.2px,#1f978b 0 227.2px,#1f998a 0 235.2px,#1f9e89 0 243.2px,#1fa187 0 251.1px,#20a386 0 259.1px,#24aa83 0 267.1px,#27ad81 0 275.1px,#2db27d 0 283.0px,#34b679 0 291.0px,#3bbb75 0 299.0px,#3fbc73 0 306.9px,#46c06f 0 314.9px,#54c568 0 322.9px,#5cc863 0 330.9px,#63cb5f 0 338.8px,#69cd5b 0 346.8px,#77d153 0 354.8px,#84d44b 0 370.7px,#89d548 0 378.7px,#93d741 0 386.7px,#a0da39 0 394.6px,#a5db36 0 402.6px,#a8db34 0 410.6px,#a2da37 0 418.6px,#addc30 0 426.5px,#b2dd2d 0 434.5px,#b5de2b 0 442.5px,#b2dd2d 0 450.5px,#c0df25 0 458.4px,#b8de29 0 466.4px,#a5db36 0 482.3px,#addc30 0 490.3px,#a0da39 0 498.3px,#bddf26 0 506.3px,#b5de2b 0 514.2px,#9bd93c 0 522.2px,#93d741 0 530.2px,#a2da37 0 538.2px,#addc30 0 546.1px,#9dd93b 0 554.1px,#7ad151 0 562.1px,#46c06f 0 570.0px,#35b779 0 578.0px,#2ab07f 0 586.0px,#31b57b 0 601.9px,#26ad81 0 609.9px,#20a386 0 625.9px,#27ad81 0 633.8px,#1fa187 0 641.8px,#1f988b 0 649.8px,#1f9f88 0 657.7px,#20a386 0 665.7px,#1f968b 0)"></i><i style="left:1543px;width:30px;background:linear-gradient(#440154 0 19.9px,#450559 0 27.9px,#440154 0 35.9px,#440256 0 43.8px,#450559 0 51.8px,#482173 0 67.8px,#482979 0 75.7px,#472f7d 0 83.7px,#424086 0 99.7px,#3d4e8a 0 107.6px,#39558c 0 115.6px,#3a538b 0 131.5px,#365d8d 0 139.5px,#31688e 0 147.5px,#2f6c8e 0 155.5px,#2e6f8e 0 163.4px,#2c728e 0 171.4px,#297a8e 0 179.4px,#277e8e 0 187.4px,#26828e 0 195.3px,#238a8d 0 203.3px,#228b8d 0 211.3px,#21918c 0 219.2px,#20928c 0 227.2px,#1f958b 0 235.2px,#1f968b 0 243.2px,#1f9f88 0 251.1px,#20a386 0 267.1px,#22a884 0 275.1px,#25ab82 0 283.0px,#2ab07f 0 291.0px,#2fb47c 0 299.0px,#35b779 0 306.9px,#3bbb75 0 314.9px,#3fbc73 0 322.9px,#46c06f 0 330.9px,#56c667 0 338.8px,#50c46a 0 346.8px,#58c765 0 354.8px,#65cb5e 0 362.8px,#69cd5b 0 370.7px,#6ece58 0 378.7px,#75d054 0 386.7px,#81d34d 0 394.6px,#89d548 0 402.6px,#8bd646 0 410.6px,#90d743 0 418.6px,#95d840 0 426.5px,#9bd93c 0 434.5px,#a0da39 0 442.5px,#a5db36 0 450.5px,#a2da37 0 458.4px,#a0da39 0 466.4px,#7cd250 0 474.4px,#84d44b 0 482.3px,#98d83e 0 490.3px,#8bd646 0 498.3px,#7ad151 0 506.3px,#77d153 0 514.2px,#65cb5e 0 522.2px,#63cb5f 0 530.2px,#3dbc74 0 538.2px,#28ae80 0 546.1px,#3aba76 0 554.1px,#4cc26c 0 562.1px,#44bf70 0 570.0px,#21a685 0 578.0px,#29af7f 0 586.0px,#20a486 0 594.0px,#24aa83 0 601.9px,#20a486 0 609.9px,#24aa83 0 625.9px,#21918c 0 633.8px,#1e9d89 0 641.8px,#22a785 0 649.8px,#1e9b8a 0 657.7px,#1fa187 0 665.7px,#20928c 0)"></i><i style="left:1573px;width:31px;background:linear-gradient(#440154 0 12.0px,#46085c 0 19.9px,#440154 0 27.9px,#46075a 0 35.9px,#440154 0 59.8px,#46075a 0 67.8px,#482071 0 75.7px,#482576 0 83.7px,#482979 0 91.7px,#453581 0 99.7px,#414487 0 107.6px,#3e4989 0 115.6px,#3c508b 0 123.6px,#3c4f8a 0 131.5px,#38588c 0 139.5px,#33628d 0 147.5px,#32658e 0 155.5px,#306a8e 0 163.4px,#2e6f8e 0 171.4px,#2c738e 0 179.4px,#2a778e 0 187.4px,#287d8e 0 195.3px,#26818e 0 203.3px,#25838e 0 211.3px,#23888e 0 219.2px,#238a8d 0 227.2px,#20928c 0 235.2px,#1f948c 0 243.2px,#1f968b 0 251.1px,#1e9b8a 0 259.1px,#1fa088 0 267.1px,#20a386 0 275.1px,#22a785 0 283.0px,#26ad81 0 291.0px,#2ab07f 0 299.0px,#2cb17e 0 306.9px,#32b67a 0 314.9px,#3aba76 0 322.9px,#3bbb75 0 330.9px,#40bd72 0 338.8px,#48c16e 0 346.8px,#46c06f 0 354.8px,#50c46a 0 362.8px,#54c568 0 378.7px,#5ac864 0 386.7px,#58c765 0 394.6px,#5cc863 0 402.6px,#5ac864 0 410.6px,#58c765 0 426.5px,#56c667 0 442.5px,#52c569 0 450.5px,#58c765 0 458.4px,#4ac16d 0 466.4px,#2db27d 0 474.4px,#23a983 0 482.3px,#1e9c89 0 490.3px,#20928c 0 498.3px,#228b8d 0 506.3px,#277e8e 0 514.2px,#297b8e 0 522.2px,#27808e 0 530.2px,#277e8e 0 538.2px,#2e6d8e 0 546.1px,#26818e 0 554.1px,#31678e 0 562.1px,#32b67a 0 570.0px,#2e6f8e 0 578.0px,#33628d 0 586.0px,#38b977 0 601.9px,#3aba76 0 609.9px,#1f968b 0 617.9px,#24878e 0 625.9px,#218f8d 0 633.8px,#1fa088 0 641.8px,#1f9e89 0 649.8px,#21908d 0 657.7px,#26ad81 0 665.7px,#1e9c89 0)"></i><i style="left:1604px;width:30px;background:linear-gradient(#440154 0 4.0px,#440256 0 12.0px,#440154 0 27.9px,#440256 0 35.9px,#440154 0 59.8px,#440256 0 75.7px,#460a5d 0 83.7px,#481d6f 0 91.7px,#472c7a 0 99.7px,#46327e 0 107.6px,#463480 0 115.6px,#414487 0 131.5px,#3e4c8a 0 139.5px,#3b528b 0 147.5px,#38598c 0 155.5px,#34608d 0 163.4px,#32658e 0 171.4px,#30698e 0 179.4px,#2d708e 0 187.4px,#2b748e 0 195.3px,#2a778e 0 203.3px,#297b8e 0 211.3px,#25838e 0 219.2px,#25848e 0 227.2px,#23898e 0 235.2px,#228d8d 0 243.2px,#21908d 0 251.1px,#1f978b 0 259.1px,#1f968b 0 267.1px,#1f9f88 0 275.1px,#1fa188 0 283.0px,#21a585 0 291.0px,#23a983 0 299.0px,#26ad81 0 306.9px,#27ad81 0 314.9px,#28ae80 0 322.9px,#2eb37c 0 330.9px,#2fb47c 0 338.8px,#31b57b 0 354.8px,#34b679 0 362.8px,#35b779 0 370.7px,#3fbc73 0 378.7px,#37b878 0 386.7px,#32b67a 0 394.6px,#2fb47c 0 402.6px,#27ad81 0 410.6px,#26ad81 0 418.6px,#24aa83 0 426.5px,#21a585 0 434.5px,#20a386 0 442.5px,#1fa188 0 450.5px,#1fa088 0 458.4px,#1fa188 0 466.4px,#20938c 0 474.4px,#218e8d 0 482.3px,#218f8d 0 490.3px,#21908d 0 498.3px,#23898e 0 506.3px,#24868e 0 514.2px,#218f8d 0 522.2px,#46085c 0 530.2px,#3a538b 0 538.2px,#1f978b 0 546.1px,#46085c 0 554.1px,#2e6d8e 0 562.1px,#2db27d 0 570.0px,#31688e 0 578.0px,#29af7f 0 586.0px,#2c728e 0 594.0px,#25ac82 0 601.9px,#32b67a 0 609.9px,#1e9c89 0 617.9px,#1f958b 0 625.9px,#21a585 0 633.8px,#1fa287 0 641.8px,#20938c 0 649.8px,#218e8d 0 657.7px,#20a386 0 665.7px,#20938c 0)"></i><i style="left:1634px;width:30px;background:linear-gradient(#460a5d 0 4.0px,#440154 0 35.9px,#450457 0 43.8px,#440154 0 59.8px,#450457 0 67.8px,#440154 0 83.7px,#46085c 0 91.7px,#481a6c 0 99.7px,#482677 0 107.6px,#472a7a 0 115.6px,#453781 0 123.6px,#443b84 0 131.5px,#3f4889 0 139.5px,#3e4c8a 0 147.5px,#3c4f8a 0 155.5px,#375b8d 0 163.4px,#33628d 0 171.4px,#34618d 0 179.4px,#306a8e 0 187.4px,#2e6d8e 0 195.3px,#2c738e 0 203.3px,#2a788e 0 211.3px,#297b8e 0 219.2px,#27808e 0 227.2px,#25848e 0 235.2px,#228c8d 0 251.1px,#20928c 0 259.1px,#1f968b 0 267.1px,#1f9e89 0 275.1px,#1f9f88 0 283.0px,#1fa287 0 291.0px,#21a685 0 299.0px,#25ab82 0 306.9px,#26ad81 0 314.9px,#27ad81 0 322.9px,#2ab07f 0 330.9px,#2cb17e 0 346.8px,#31b57b 0 354.8px,#2eb37c 0 362.8px,#32b67a 0 370.7px,#37b878 0 378.7px,#32b67a 0 386.7px,#2db27d 0 394.6px,#29af7f 0 402.6px,#27ad81 0 410.6px,#25ac82 0 418.6px,#22a884 0 426.5px,#21a585 0 434.5px,#1fa187 0 442.5px,#1e9b8a 0 450.5px,#1fa088 0 458.4px,#1f9f88 0 466.4px,#1f968b 0 474.4px,#1f978b 0 482.3px,#1f9e89 0 490.3px,#1f998a 0 498.3px,#228d8d 0 506.3px,#23888e 0 514.2px,#2c718e 0 522.2px,#2c738e 0 530.2px,#26818e 0 538.2px,#26828e 0 546.1px,#26818e 0 554.1px,#25838e 0 562.1px,#23888e 0 570.0px,#2ab07f 0 578.0px,#56c667 0 586.0px,#5ac864 0 594.0px,#287c8e 0 601.9px,#35b779 0 617.9px,#1e9d89 0 625.9px,#28ae80 0 633.8px,#1f9a8a 0 641.8px,#1fa287 0 649.8px,#1f9f88 0 657.7px,#22a785 0 665.7px,#20a386 0)"></i><i style="left:1664px;width:30px;background:linear-gradient(#440154 0 4.0px,#450559 0 12.0px,#440154 0 19.9px,#440256 0 27.9px,#440154 0 43.8px,#440256 0 51.8px,#450559 0 67.8px,#440256 0 75.7px,#470e61 0 83.7px,#48186a 0 91.7px,#482979 0 99.7px,#463480 0 107.6px,#453581 0 115.6px,#414287 0 123.6px,#3c4f8a 0 131.5px,#3a548c 0 139.5px,#38588c 0 147.5px,#365c8d 0 155.5px,#34608d 0 163.4px,#31668e 0 171.4px,#30698e 0 179.4px,#2e6f8e 0 187.4px,#2d718e 0 195.3px,#29798e 0 203.3px,#277f8e 0 211.3px,#26828e 0 219.2px,#25858e 0 227.2px,#23898e 0 235.2px,#21908d 0 243.2px,#20938c 0 251.1px,#1f978b 0 259.1px,#1e9d89 0 267.1px,#1fa188 0 275.1px,#20a386 0 283.0px,#21a685 0 291.0px,#24aa83 0 299.0px,#2cb17e 0 306.9px,#2ab07f 0 314.9px,#2eb37c 0 322.9px,#3bbb75 0 330.9px,#38b977 0 338.8px,#3fbc73 0 346.8px,#40bd72 0 354.8px,#4ac16d 0 362.8px,#48c16e 0 370.7px,#4ac16d 0 378.7px,#52c569 0 386.7px,#58c765 0 394.6px,#5cc863 0 402.6px,#5ec962 0 410.6px,#63cb5f 0 418.6px,#69cd5b 0 426.5px,#67cc5c 0 434.5px,#65cb5e 0 442.5px,#67cc5c 0 450.5px,#73d056 0 458.4px,#65cb5e 0 466.4px,#3bbb75 0 474.4px,#3fbc73 0 482.3px,#34b679 0 490.3px,#26ad81 0 498.3px,#35b779 0 506.3px,#32b67a 0 514.2px,#1f9e89 0 522.2px,#46085c 0 530.2px,#24aa83 0 546.1px,#1e9c89 0 554.1px,#1fa287 0 562.1px,#4cc26c 0 570.0px,#24868e 0 578.0px,#2fb47c 0 586.0px,#29af7f 0 594.0px,#20938c 0 601.9px,#1e9c89 0 609.9px,#2ab07f 0 617.9px,#26ad81 0 625.9px,#27ad81 0 633.8px,#22a785 0 641.8px,#22a884 0 649.8px,#27ad81 0 657.7px,#228b8d 0 665.7px,#1f998a 0)"></i><i style="left:1694px;width:31px;background:linear-gradient(#46085c 0 4.0px,#460a5d 0 12.0px,#440154 0 67.8px,#481668 0 75.7px,#481c6e 0 83.7px,#482374 0 91.7px,#482979 0 99.7px,#443b84 0 107.6px,#433d84 0 115.6px,#3e4a89 0 123.6px,#3e4989 0 131.5px,#3a548c 0 139.5px,#38588c 0 147.5px,#32658e 0 155.5px,#32648e 0 163.4px,#2f6b8e 0 171.4px,#2d718e 0 179.4px,#2c738e 0 187.4px,#2a778e 0 195.3px,#287c8e 0 203.3px,#27808e 0 211.3px,#25858e 0 219.2px,#238a8d 0 227.2px,#21908d 0 235.2px,#21918c 0 243.2px,#20928c 0 251.1px,#1f988b 0 259.1px,#1e9d89 0 267.1px,#21a585 0 275.1px,#22a785 0 283.0px,#24aa83 0 291.0px,#27ad81 0 299.0px,#2fb47c 0 306.9px,#2eb37c 0 314.9px,#35b779 0 322.9px,#3bbb75 0 330.9px,#3fbc73 0 338.8px,#46c06f 0 346.8px,#48c16e 0 354.8px,#4ec36b 0 362.8px,#50c46a 0 370.7px,#56c667 0 378.7px,#60ca60 0 386.7px,#6ccd5a 0 402.6px,#70cf57 0 410.6px,#69cd5b 0 418.6px,#70cf57 0 426.5px,#6ece58 0 434.5px,#70cf57 0 442.5px,#6ece58 0 450.5px,#70cf57 0 458.4px,#69cd5b 0 466.4px,#48c16e 0 474.4px,#42be71 0 482.3px,#70cf57 0 490.3px,#67cc5c 0 498.3px,#4ac16d 0 522.2px,#50c46a 0 530.2px,#3aba76 0 538.2px,#35b779 0 546.1px,#1fa287 0 554.1px,#1f988b 0 562.1px,#24aa83 0 570.0px,#34b679 0 578.0px,#1fa287 0 586.0px,#24aa83 0 594.0px,#25ab82 0 601.9px,#1fa287 0 609.9px,#3aba76 0 617.9px,#23a983 0 625.9px,#1f9f88 0 633.8px,#1e9d89 0 641.8px,#1f9e89 0 649.8px,#20a386 0 657.7px,#1f9f88 0 665.7px,#25ac82 0)"></i><i style="left:1725px;width:30px;background:linear-gradient(#440256 0 4.0px,#440154 0 19.9px,#440256 0 27.9px,#46075a 0 35.9px,#450559 0 43.8px,#46075a 0 51.8px,#46085c 0 59.8px,#481467 0 67.8px,#482374 0 75.7px,#472a7a 0 83.7px,#463480 0 91.7px,#414287 0 99.7px,#3e4989 0 107.6px,#3d4e8a 0 123.6px,#39568c 0 131.5px,#33638d 0 139.5px,#33628d 0 147.5px,#2f6c8e 0 155.5px,#2e6f8e 0 163.4px,#2b758e 0 171.4px,#29798e 0 179.4px,#287c8e 0 187.4px,#27808e 0 195.3px,#25848e 0 203.3px,#238a8d 0 211.3px,#228d8d 0 219.2px,#21918c 0 227.2px,#20938c 0 235.2px,#1e9c89 0 251.1px,#1fa088 0 259.1px,#1fa287 0 267.1px,#22a785 0 275.1px,#25ac82 0 283.0px,#28ae80 0 291.0px,#2db27d 0 299.0px,#2fb47c 0 306.9px,#37b878 0 314.9px,#3aba76 0 322.9px,#40bd72 0 330.9px,#42be71 0 338.8px,#4ec36b 0 346.8px,#52c569 0 354.8px,#5cc863 0 362.8px,#60ca60 0 378.7px,#6ece58 0 386.7px,#70cf57 0 394.6px,#75d054 0 402.6px,#77d153 0 410.6px,#84d44b 0 418.6px,#81d34d 0 426.5px,#84d44b 0 434.5px,#86d549 0 442.5px,#84d44b 0 450.5px,#89d548 0 458.4px,#7ad151 0 466.4px,#75d054 0 474.4px,#7fd34e 0 482.3px,#52c569 0 490.3px,#4ec36b 0 498.3px,#40bd72 0 506.3px,#34b679 0 514.2px,#31b57b 0 522.2px,#355f8d 0 530.2px,#3dbc74 0 538.2px,#28ae80 0 546.1px,#21a585 0 554.1px,#40bd72 0 562.1px,#297a8e 0 570.0px,#46085c 0 594.0px,#277e8e 0 601.9px,#3aba76 0 609.9px,#2db27d 0 617.9px,#2cb17e 0 625.9px,#20a386 0 633.8px,#22a785 0 641.8px,#1e9b8a 0 649.8px,#21a585 0 657.7px,#2cb17e 0 665.7px,#1fa187 0)"></i><i style="left:1755px;width:30px;background:linear-gradient(#440256 0 4.0px,#440154 0 12.0px,#450559 0 19.9px,#460a5d 0 27.9px,#440154 0 51.8px,#470e61 0 59.8px,#481b6d 0 67.8px,#482374 0 75.7px,#46337f 0 83.7px,#453781 0 91.7px,#443b84 0 99.7px,#423f85 0 107.6px,#3e4c8a 0 115.6px,#3b518b 0 123.6px,#38598c 0 131.5px,#355e8d 0 139.5px,#31688e 0 147.5px,#306a8e 0 155.5px,#2d708e 0 163.4px,#2c738e 0 171.4px,#29798e 0 179.4px,#287d8e 0 187.4px,#26818e 0 195.3px,#25858e 0 203.3px,#238a8d 0 219.2px,#21918c 0 227.2px,#1f958b 0 235.2px,#1f998a 0 243.2px,#1e9d89 0 251.1px,#20a386 0 259.1px,#21a685 0 267.1px,#22a884 0 275.1px,#25ab82 0 283.0px,#2ab07f 0 291.0px,#2cb17e 0 299.0px,#37b878 0 306.9px,#3dbc74 0 314.9px,#40bd72 0 322.9px,#4ac16d 0 330.9px,#4cc26c 0 338.8px,#58c765 0 346.8px,#5cc863 0 354.8px,#65cb5e 0 362.8px,#69cd5b 0 370.7px,#6ccd5a 0 378.7px,#75d054 0 386.7px,#7cd250 0 394.6px,#89d548 0 402.6px,#8bd646 0 410.6px,#9dd93b 0 418.6px,#9bd93c 0 442.5px,#9dd93b 0 450.5px,#90d743 0 458.4px,#73d056 0 466.4px,#65cb5e 0 474.4px,#54c568 0 482.3px,#2fb47c 0 490.3px,#22a884 0 498.3px,#218e8d 0 506.3px,#25848e 0 514.2px,#2a768e 0 522.2px,#2a788e 0 530.2px,#32648e 0 538.2px,#228c8d 0 546.1px,#26828e 0 554.1px,#32b67a 0 562.1px,#34618d 0 570.0px,#29798e 0 578.0px,#2e6d8e 0 586.0px,#46085c 0 594.0px,#24878e 0 601.9px,#46085c 0 609.9px,#27ad81 0 617.9px,#21a585 0 625.9px,#1f978b 0 633.8px,#1e9c89 0 641.8px,#23a983 0 649.8px,#2ab07f 0 657.7px,#1f978b 0 665.7px,#23a983 0)"></i><i style="left:1785px;width:30px;background:linear-gradient(#46075a 0 4.0px,#440154 0 27.9px,#450457 0 35.9px,#440256 0 43.8px,#450457 0 51.8px,#471164 0 59.8px,#482071 0 67.8px,#472c7a 0 75.7px,#453581 0 83.7px,#433e85 0 91.7px,#3f4788 0 99.7px,#3f4889 0 107.6px,#3c4f8a 0 115.6px,#38598c 0 123.6px,#39558c 0 131.5px,#33628d 0 139.5px,#32658e 0 147.5px,#2f6c8e 0 155.5px,#2d708e 0 163.4px,#2b748e 0 171.4px,#297a8e 0 179.4px,#277e8e 0 187.4px,#26828e 0 195.3px,#25858e 0 203.3px,#228d8d 0 211.3px,#21908d 0 219.2px,#20928c 0 227.2px,#1f978b 0 235.2px,#1e9c89 0 243.2px,#1fa088 0 251.1px,#21a585 0 259.1px,#23a983 0 267.1px,#24aa83 0 275.1px,#2cb17e 0 283.0px,#31b57b 0 291.0px,#35b779 0 299.0px,#40bd72 0 306.9px,#46c06f 0 314.9px,#52c569 0 322.9px,#54c568 0 330.9px,#58c765 0 338.8px,#69cd5b 0 346.8px,#70cf57 0 354.8px,#84d44b 0 370.7px,#8ed645 0 386.7px,#9bd93c 0 394.6px,#a0da39 0 402.6px,#b5de2b 0 410.6px,#addc30 0 418.6px,#b8de29 0 450.5px,#bddf26 0 458.4px,#c2df23 0 466.4px,#b2dd2d 0 474.4px,#c8e020 0 482.3px,#c5e021 0 490.3px,#d8e219 0 498.3px,#d2e21b 0 506.3px,#cde11d 0 522.2px,#c5e021 0 530.2px,#c2df23 0 538.2px,#b5de2b 0 546.1px,#a2da37 0 554.1px,#6ece58 0 562.1px,#34b679 0 570.0px,#3fbc73 0 578.0px,#31b57b 0 586.0px,#25ac82 0 601.9px,#2fb47c 0 609.9px,#22a785 0 617.9px,#1e9d89 0 625.9px,#20a386 0 633.8px,#1fa188 0 649.8px,#1fa088 0 657.7px,#1e9d89 0 665.7px,#1fa188 0)"></i><i style="left:1815px;width:31px;background:linear-gradient(#440154 0 43.8px,#471063 0 51.8px,#481b6d 0 59.8px,#482979 0 67.8px,#472f7d 0 75.7px,#453581 0 83.7px,#424186 0 91.7px,#3f4889 0 99.7px,#3d4e8a 0 107.6px,#3b518b 0 115.6px,#365d8d 0 123.6px,#375b8d 0 131.5px,#31678e 0 139.5px,#306a8e 0 147.5px,#2e6f8e 0 155.5px,#2c728e 0 163.4px,#297b8e 0 171.4px,#277e8e 0 179.4px,#277f8e 0 187.4px,#25858e 0 195.3px,#23898e 0 203.3px,#228d8d 0 211.3px,#21918c 0 219.2px,#20938c 0 227.2px,#1f978b 0 235.2px,#1e9d89 0 243.2px,#1fa187 0 259.1px,#24aa83 0 267.1px,#29af7f 0 275.1px,#2ab07f 0 283.0px,#32b67a 0 291.0px,#3bbb75 0 299.0px,#3fbc73 0 306.9px,#4cc26c 0 314.9px,#58c765 0 322.9px,#60ca60 0 330.9px,#6ccd5a 0 338.8px,#73d056 0 346.8px,#70cf57 0 354.8px,#7fd34e 0 362.8px,#8ed645 0 370.7px,#93d741 0 378.7px,#98d83e 0 386.7px,#9dd93b 0 394.6px,#a8db34 0 402.6px,#aadc32 0 410.6px,#a5db36 0 418.6px,#a8db34 0 426.5px,#aadc32 0 434.5px,#addc30 0 442.5px,#aadc32 0 458.4px,#a2da37 0 466.4px,#89d548 0 474.4px,#93d741 0 482.3px,#a2da37 0 490.3px,#98d83e 0 498.3px,#a5db36 0 506.3px,#aadc32 0 514.2px,#89d548 0 522.2px,#93d741 0 530.2px,#90d743 0 538.2px,#48c16e 0 546.1px,#32b67a 0 562.1px,#38b977 0 570.0px,#29af7f 0 578.0px,#38b977 0 586.0px,#26ad81 0 594.0px,#21a585 0 601.9px,#20a486 0 609.9px,#20a386 0 617.9px,#23a983 0 625.9px,#1e9b8a 0 633.8px,#1fa088 0 649.8px,#1f988b 0 657.7px,#1f968b 0)"></i><i style="left:1846px;width:30px;background:linear-gradient(#440154 0 19.9px,#440256 0 27.9px,#450559 0 35.9px,#440154 0 43.8px,#46075a 0 51.8px,#471365 0 59.8px,#481c6e 0 67.8px,#482677 0 75.7px,#472f7d 0 83.7px,#443983 0 91.7px,#404688 0 99.7px,#3f4889 0 107.6px,#3c508b 0 115.6px,#38598c 0 123.6px,#34608d 0 131.5px,#34618d 0 139.5px,#2f6c8e 0 147.5px,#31688e 0 155.5px,#2d718e 0 163.4px,#2b758e 0 171.4px,#297b8e 0 179.4px,#277e8e 0 187.4px,#25838e 0 195.3px,#24878e 0 203.3px,#238a8d 0 211.3px,#228d8d 0 219.2px,#20928c 0 227.2px,#1f968b 0 235.2px,#1e9d89 0 243.2px,#1fa188 0 251.1px,#20a486 0 259.1px,#22a884 0 267.1px,#28ae80 0 275.1px,#2db27d 0 283.0px,#32b67a 0 291.0px,#38b977 0 299.0px,#3fbc73 0 306.9px,#4ec36b 0 314.9px,#58c765 0 322.9px,#65cb5e 0 330.9px,#70cf57 0 338.8px,#75d054 0 346.8px,#7fd34e 0 354.8px,#8bd646 0 362.8px,#8ed645 0 370.7px,#9bd93c 0 378.7px,#a2da37 0 386.7px,#a8db34 0 394.6px,#b0dd2f 0 402.6px,#b2dd2d 0 410.6px,#b5de2b 0 434.5px,#bddf26 0 442.5px,#c2df23 0 450.5px,#addc30 0 458.4px,#a0da39 0 466.4px,#93d741 0 474.4px,#81d34d 0 482.3px,#77d153 0 490.3px,#6ccd5a 0 498.3px,#65cb5e 0 506.3px,#54c568 0 522.2px,#50c46a 0 530.2px,#3bbb75 0 538.2px,#21a685 0 546.1px,#2ab07f 0 562.1px,#1e9d89 0 570.0px,#2db27d 0 578.0px,#35b779 0 586.0px,#24aa83 0 594.0px,#2eb37c 0 601.9px,#29af7f 0 609.9px,#1fa188 0 625.9px,#22a785 0 633.8px,#23a983 0 641.8px,#1fa187 0 649.8px,#1f968b 0 657.7px,#20a486 0 665.7px,#1f9a8a 0)"></i><i style="left:1876px;width:30px;background:linear-gradient(#440154 0 4.0px,#46075a 0 12.0px,#440256 0 19.9px,#440154 0 27.9px,#46075a 0 35.9px,#440154 0 43.8px,#450457 0 51.8px,#470e61 0 59.8px,#48186a 0 67.8px,#482576 0 75.7px,#472f7d 0 83.7px,#424186 0 99.7px,#3e4c8a 0 107.6px,#3d4e8a 0 115.6px,#38598c 0 123.6px,#365c8d 0 131.5px,#375b8d 0 139.5px,#31678e 0 147.5px,#31688e 0 155.5px,#2d718e 0 163.4px,#2c718e 0 171.4px,#2a768e 0 179.4px,#287c8e 0 187.4px,#26818e 0 195.3px,#25848e 0 203.3px,#23888e 0 211.3px,#218f8d 0 219.2px,#20928c 0 227.2px,#20938c 0 235.2px,#1f978b 0 243.2px,#1fa088 0 251.1px,#20a386 0 259.1px,#23a983 0 267.1px,#25ab82 0 275.1px,#2ab07f 0 283.0px,#31b57b 0 291.0px,#38b977 0 299.0px,#46c06f 0 314.9px,#56c667 0 322.9px,#5ec962 0 330.9px,#60ca60 0 338.8px,#67cc5c 0 346.8px,#6ece58 0 354.8px,#7ad151 0 362.8px,#84d44b 0 370.7px,#93d741 0 386.7px,#9bd93c 0 394.6px,#a8db34 0 402.6px,#b0dd2f 0 418.6px,#b5de2b 0 426.5px,#b8de29 0 434.5px,#c0df25 0 442.5px,#c2df23 0 450.5px,#c0df25 0 458.4px,#c2df23 0 466.4px,#bade28 0 474.4px,#cae11f 0 482.3px,#cde11d 0 490.3px,#d0e11c 0 498.3px,#d2e21b 0 506.3px,#d5e21a 0 514.2px,#eae51a 0 522.2px,#d5e21a 0 530.2px,#c5e021 0 538.2px,#b2dd2d 0 546.1px,#6ece58 0 554.1px,#38b977 0 562.1px,#21a685 0 570.0px,#44bf70 0 578.0px,#32b67a 0 586.0px,#24aa83 0 594.0px,#21a585 0 601.9px,#24aa83 0 609.9px,#20a386 0 617.9px,#28ae80 0 625.9px,#21a585 0 633.8px,#2cb17e 0 641.8px,#23a983 0 649.8px,#218e8d 0 657.7px,#1e9d89 0 665.7px,#1f9e89 0)"></i><i style="left:1906px;width:30px;background:linear-gradient(#440154 0 12.0px,#440256 0 19.9px,#440154 0 27.9px,#460b5e 0 35.9px,#46085c 0 43.8px,#440154 0 59.8px,#481a6c 0 67.8px,#481f70 0 75.7px,#472c7a 0 83.7px,#453581 0 91.7px,#423f85 0 99.7px,#414287 0 107.6px,#3d4e8a 0 115.6px,#3d4d8a 0 123.6px,#39568c 0 131.5px,#365c8d 0 139.5px,#32648e 0 147.5px,#31688e 0 155.5px,#2f6b8e 0 163.4px,#2c718e 0 171.4px,#2a788e 0 179.4px,#297a8e 0 187.4px,#277f8e 0 195.3px,#25838e 0 203.3px,#23898e 0 211.3px,#228c8d 0 219.2px,#218e8d 0 227.2px,#21918c 0 235.2px,#1f948c 0 243.2px,#1f978b 0 251.1px,#1f9f88 0 259.1px,#1fa287 0 267.1px,#20a486 0 275.1px,#24aa83 0 291.0px,#29af7f 0 299.0px,#2eb37c 0 306.9px,#34b679 0 314.9px,#35b779 0 322.9px,#3aba76 0 330.9px,#3fbc73 0 338.8px,#46c06f 0 346.8px,#44bf70 0 362.8px,#56c667 0 378.7px,#5ac864 0 386.7px,#5ec962 0 394.6px,#63cb5f 0 402.6px,#60ca60 0 410.6px,#63cb5f 0 418.6px,#5cc863 0 426.5px,#63cb5f 0 434.5px,#60ca60 0 450.5px,#5cc863 0 458.4px,#3dbc74 0 466.4px,#37b878 0 474.4px,#25ab82 0 482.3px,#28ae80 0 490.3px,#22a884 0 498.3px,#25858e 0 506.3px,#287c8e 0 514.2px,#2a768e 0 522.2px,#297b8e 0 530.2px,#25838e 0 538.2px,#287c8e 0 546.1px,#238a8d 0 554.1px,#355e8d 0 562.1px,#22a785 0 570.0px,#34b679 0 578.0px,#44bf70 0 586.0px,#29af7f 0 594.0px,#31b57b 0 601.9px,#21a685 0 609.9px,#1f948c 0 617.9px,#1fa287 0 625.9px,#29af7f 0 633.8px,#25ac82 0 641.8px,#23a983 0 649.8px,#1e9b8a 0 657.7px,#21918c 0 665.7px,#1fa088 0)"></i><i style="left:1936px;width:31px;background:linear-gradient(#450559 0 12.0px,#440154 0 27.9px,#450559 0 35.9px,#440154 0 43.8px,#470d60 0 51.8px,#440154 0 59.8px,#450559 0 75.7px,#440154 0 83.7px,#481769 0 91.7px,#482374 0 99.7px,#472a7a 0 107.6px,#453581 0 115.6px,#443a83 0 123.6px,#414487 0 131.5px,#3c4f8a 0 139.5px,#3d4e8a 0 147.5px,#39568c 0 155.5px,#375b8d 0 163.4px,#34618d 0 171.4px,#31668e 0 179.4px,#2f6c8e 0 187.4px,#2d708e 0 195.3px,#2b758e 0 203.3px,#297a8e 0 211.3px,#287d8e 0 219.2px,#26828e 0 227.2px,#23888e 0 243.2px,#228d8d 0 251.1px,#1f948c 0 259.1px,#1f998a 0 267.1px,#1e9c89 0 275.1px,#1fa188 0 283.0px,#1fa287 0 291.0px,#22a785 0 299.0px,#26ad81 0 306.9px,#27ad81 0 314.9px,#2ab07f 0 330.9px,#2eb37c 0 338.8px,#2fb47c 0 346.8px,#35b779 0 354.8px,#32b67a 0 362.8px,#37b878 0 370.7px,#38b977 0 378.7px,#40bd72 0 386.7px,#3fbc73 0 394.6px,#3dbc74 0 402.6px,#3bbb75 0 410.6px,#3dbc74 0 418.6px,#40bd72 0 426.5px,#3dbc74 0 434.5px,#3aba76 0 442.5px,#3bbb75 0 450.5px,#2db27d 0 458.4px,#1fa187 0 466.4px,#1f948c 0 474.4px,#26818e 0 482.3px,#24868e 0 490.3px,#297b8e 0 498.3px,#228b8d 0 506.3px,#29798e 0 514.2px,#32658e 0 522.2px,#2f6c8e 0 530.2px,#38598c 0 538.2px,#39558c 0 546.1px,#2c728e 0 554.1px,#355f8d 0 562.1px,#26ad81 0 570.0px,#3dbc74 0 578.0px,#46085c 0 586.0px,#1fa287 0 594.0px,#3aba76 0 601.9px,#31678e 0 609.9px,#1e9d89 0 617.9px,#1fa287 0 625.9px,#20a486 0 633.8px,#25ab82 0 641.8px,#21a685 0 649.8px,#40bd72 0 657.7px,#1f988b 0 665.7px,#228d8d 0)"></i><i style="left:1967px;width:30px;background:linear-gradient(#440154 0 12.0px,#450457 0 19.9px,#450559 0 27.9px,#440154 0 43.8px,#440256 0 51.8px,#440154 0 59.8px,#450457 0 67.8px,#440256 0 75.7px,#450457 0 83.7px,#440256 0 91.7px,#48186a 0 99.7px,#482576 0 107.6px,#482878 0 115.6px,#463480 0 123.6px,#423f85 0 131.5px,#424186 0 139.5px,#404588 0 147.5px,#3e4c8a 0 155.5px,#3a548c 0 163.4px,#375b8d 0 171.4px,#33638d 0 179.4px,#31678e 0 187.4px,#2e6e8e 0 195.3px,#2c718e 0 203.3px,#2b758e 0 211.3px,#297b8e 0 219.2px,#287d8e 0 227.2px,#25858e 0 235.2px,#24878e 0 243.2px,#228d8d 0 251.1px,#20928c 0 259.1px,#1f968b 0 267.1px,#1e9d89 0 275.1px,#1fa088 0 283.0px,#20a486 0 291.0px,#22a884 0 299.0px,#2cb17e 0 306.9px,#2db27d 0 314.9px,#32b67a 0 322.9px,#34b679 0 330.9px,#35b779 0 338.8px,#3bbb75 0 346.8px,#3fbc73 0 354.8px,#44bf70 0 362.8px,#42be71 0 370.7px,#44bf70 0 378.7px,#48c16e 0 394.6px,#4ec36b 0 402.6px,#44bf70 0 410.6px,#4ac16d 0 426.5px,#40bd72 0 434.5px,#3bbb75 0 442.5px,#35b779 0 450.5px,#3aba76 0 458.4px,#31b57b 0 466.4px,#2fb47c 0 474.4px,#32b67a 0 482.3px,#25ab82 0 490.3px,#25ac82 0 498.3px,#22a785 0 506.3px,#23a983 0 514.2px,#28ae80 0 522.2px,#46085c 0 530.2px,#28ae80 0 538.2px,#46085c 0 546.1px,#22a884 0 554.1px,#1e9d89 0 562.1px,#218f8d 0 570.0px,#2cb17e 0 578.0px,#25ac82 0 586.0px,#21a685 0 594.0px,#37b878 0 601.9px,#2cb17e 0 609.9px,#3aba76 0 617.9px,#21a685 0 633.8px,#1f9a8a 0 641.8px,#20928c 0 649.8px,#1f9a8a 0 657.7px,#1f988b 0 665.7px,#1f948c 0)"></i><i style="left:1997px;width:30px;background:linear-gradient(#440154 0 4.0px,#46085c 0 12.0px,#440154 0 19.9px,#450457 0 27.9px,#440154 0 59.8px,#440256 0 67.8px,#440154 0 75.7px,#470d60 0 83.7px,#481d6f 0 91.7px,#482979 0 99.7px,#46307e 0 107.6px,#443a83 0 115.6px,#3f4788 0 123.6px,#3e4c8a 0 131.5px,#3a538b 0 139.5px,#39558c 0 147.5px,#39568c 0 155.5px,#34608d 0 163.4px,#31678e 0 171.4px,#306a8e 0 179.4px,#2e6f8e 0 187.4px,#2c728e 0 195.3px,#2a778e 0 203.3px,#297b8e 0 211.3px,#26828e 0 219.2px,#23888e 0 227.2px,#23898e 0 235.2px,#218e8d 0 243.2px,#21918c 0 251.1px,#1f958b 0 259.1px,#1e9b8a 0 267.1px,#1f9f88 0 275.1px,#20a486 0 283.0px,#22a785 0 291.0px,#29af7f 0 299.0px,#2ab07f 0 306.9px,#2db27d 0 314.9px,#2fb47c 0 322.9px,#38b977 0 330.9px,#37b878 0 338.8px,#3aba76 0 346.8px,#42be71 0 354.8px,#48c16e 0 362.8px,#46c06f 0 370.7px,#50c46a 0 378.7px,#52c569 0 386.7px,#50c46a 0 394.6px,#58c765 0 402.6px,#5ac864 0 410.6px,#50c46a 0 418.6px,#63cb5f 0 426.5px,#58c765 0 434.5px,#5ac864 0 442.5px,#5ec962 0 450.5px,#60ca60 0 458.4px,#5ac864 0 466.4px,#44bf70 0 474.4px,#3bbb75 0 482.3px,#2ab07f 0 490.3px,#26ad81 0 498.3px,#22a884 0 506.3px,#1fa187 0 514.2px,#1f9e89 0 522.2px,#32648e 0 530.2px,#1f978b 0 538.2px,#1f988b 0 546.1px,#27808e 0 554.1px,#21a685 0 562.1px,#28ae80 0 570.0px,#34b679 0 578.0px,#23898e 0 586.0px,#27ad81 0 594.0px,#1f968b 0 601.9px,#21a585 0 609.9px,#3bbb75 0 617.9px,#35b779 0 625.9px,#27ad81 0 633.8px,#2ab07f 0 641.8px,#1fa287 0 649.8px,#228b8d 0 657.7px,#1e9b8a 0 665.7px,#25ac82 0)"></i><i style="left:2027px;width:30px;background:linear-gradient(#450457 0 4.0px,#450559 0 12.0px,#440154 0 59.8px,#46075a 0 67.8px,#471365 0 75.7px,#481769 0 83.7px,#482979 0 99.7px,#443b84 0 107.6px,#443983 0 115.6px,#404588 0 123.6px,#3c4f8a 0 131.5px,#3a548c 0 139.5px,#38588c 0 147.5px,#32658e 0 163.4px,#31688e 0 171.4px,#2e6e8e 0 179.4px,#2c728e 0 187.4px,#29798e 0 195.3px,#287d8e 0 203.3px,#26828e 0 219.2px,#228c8d 0 227.2px,#218e8d 0 235.2px,#20928c 0 243.2px,#1f968b 0 259.1px,#1e9c89 0 267.1px,#1fa188 0 275.1px,#20a486 0 283.0px,#23a983 0 291.0px,#25ac82 0 299.0px,#2cb17e 0 306.9px,#2eb37c 0 314.9px,#34b679 0 322.9px,#37b878 0 330.9px,#3aba76 0 338.8px,#3dbc74 0 346.8px,#42be71 0 354.8px,#48c16e 0 362.8px,#4ac16d 0 378.7px,#4ec36b 0 386.7px,#5ac864 0 394.6px,#56c667 0 402.6px,#5cc863 0 410.6px,#52c569 0 418.6px,#5ac864 0 426.5px,#58c765 0 442.5px,#5ac864 0 450.5px,#54c568 0 458.4px,#42be71 0 466.4px,#26ad81 0 474.4px,#1fa187 0 482.3px,#1e9c89 0 490.3px,#1f968b 0 498.3px,#238a8d 0 506.3px,#25848e 0 514.2px,#2e6f8e 0 522.2px,#2d718e 0 530.2px,#297b8e 0 538.2px,#2b758e 0 546.1px,#26828e 0 554.1px,#277e8e 0 562.1px,#1fa188 0 570.0px,#25ac82 0 578.0px,#46085c 0 586.0px,#23a983 0 594.0px,#2eb37c 0 601.9px,#25ab82 0 609.9px,#34b679 0 617.9px,#1fa287 0 625.9px,#34b679 0 633.8px,#3bbb75 0 641.8px,#29af7f 0 649.8px,#27ad81 0 657.7px,#1fa187 0 665.7px,#1e9b8a 0)"></i><i style="left:2057px;width:31px;background:linear-gradient(#450457 0 4.0px,#440256 0 12.0px,#440154 0 27.9px,#46085c 0 35.9px,#440154 0 67.8px,#481668 0 75.7px,#481f70 0 83.7px,#482979 0 91.7px,#453581 0 99.7px,#433d84 0 107.6px,#424086 0 115.6px,#3f4788 0 123.6px,#3b528b 0 131.5px,#39568c 0 139.5px,#375a8c 0 147.5px,#33628d 0 155.5px,#31678e 0 163.4px,#2f6c8e 0 171.4px,#2d718e 0 179.4px,#2b748e 0 187.4px,#297a8e 0 195.3px,#27808e 0 203.3px,#25838e 0 211.3px,#24878e 0 219.2px,#228c8d 0 227.2px,#21908d 0 235.2px,#20928c 0 243.2px,#1f948c 0 251.1px,#1f968b 0 259.1px,#1fa088 0 275.1px,#20a386 0 283.0px,#21a685 0 291.0px,#27ad81 0 299.0px,#2ab07f 0 314.9px,#31b57b 0 322.9px,#35b779 0 330.9px,#32b67a 0 338.8px,#38b977 0 346.8px,#40bd72 0 362.8px,#44bf70 0 370.7px,#48c16e 0 378.7px,#4ec36b 0 386.7px,#4ac16d 0 394.6px,#54c568 0 402.6px,#52c569 0 410.6px,#56c667 0 418.6px,#52c569 0 426.5px,#56c667 0 434.5px,#5ac864 0 442.5px,#5ec962 0 450.5px,#52c569 0 458.4px,#40bd72 0 466.4px,#50c46a 0 474.4px,#42be71 0 482.3px,#2fb47c 0 490.3px,#25ac82 0 498.3px,#3dbc74 0 506.3px,#2fb47c 0 514.2px,#25ab82 0 522.2px,#355e8d 0 530.2px,#22a884 0 538.2px,#20a486 0 554.1px,#1f998a 0 562.1px,#1fa188 0 570.0px,#26ad81 0 578.0px,#1fa188 0 586.0px,#46085c 0 594.0px,#1fa187 0 601.9px,#1fa088 0 609.9px,#24aa83 0 617.9px,#25ac82 0 625.9px,#21a685 0 633.8px,#1e9b8a 0 641.8px,#1f998a 0 649.8px,#20a486 0 657.7px,#1e9b8a 0 665.7px,#20928c 0)"></i><i style="left:2088px;width:30px;background:linear-gradient(#440154 0 4.0px,#450457 0 12.0px,#46075a 0 19.9px,#440154 0 27.9px,#450559 0 35.9px,#460b5e 0 43.8px,#440154 0 59.8px,#460b5e 0 67.8px,#481769 0 75.7px,#481c6e 0 83.7px,#472c7a 0 91.7px,#46337f 0 99.7px,#424186 0 107.6px,#404688 0 115.6px,#3c508b 0 123.6px,#39558c 0 131.5px,#38598c 0 139.5px,#39558c 0 147.5px,#34618d 0 155.5px,#31678e 0 163.4px,#2f6c8e 0 171.4px,#2c728e 0 179.4px,#2a778e 0 187.4px,#297b8e 0 195.3px,#26818e 0 203.3px,#26828e 0 211.3px,#23888e 0 219.2px,#238a8d 0 227.2px,#21908d 0 235.2px,#20928c 0 243.2px,#1f948c 0 251.1px,#1e9b8a 0 259.1px,#1e9c89 0 267.1px,#1fa287 0 275.1px,#21a685 0 283.0px,#25ab82 0 291.0px,#22a785 0 299.0px,#25ac82 0 306.9px,#2ab07f 0 314.9px,#29af7f 0 322.9px,#2cb17e 0 330.9px,#2eb37c 0 338.8px,#34b679 0 346.8px,#3aba76 0 362.8px,#38b977 0 370.7px,#3fbc73 0 378.7px,#40bd72 0 386.7px,#46c06f 0 394.6px,#44bf70 0 410.6px,#48c16e 0 418.6px,#4ec36b 0 426.5px,#4cc26c 0 442.5px,#50c46a 0 450.5px,#4ac16d 0 458.4px,#3aba76 0 466.4px,#3bbb75 0 474.4px,#31b57b 0 482.3px,#1fa287 0 490.3px,#21a585 0 498.3px,#1f958b 0 506.3px,#228c8d 0 514.2px,#24868e 0 522.2px,#46085c 0 546.1px,#228b8d 0 554.1px,#1f998a 0 570.0px,#1fa187 0 578.0px,#2c738e 0 586.0px,#48c16e 0 594.0px,#1fa287 0 609.9px,#34b679 0 617.9px,#35b779 0 625.9px,#1e9d89 0 633.8px,#21908d 0 641.8px,#1f9f88 0 649.8px,#20a386 0 657.7px,#1f948c 0 665.7px,#1f958b 0)"></i><i style="left:2118px;width:30px;background:linear-gradient(#440154 0 12.0px,#440256 0 19.9px,#450559 0 27.9px,#440154 0 43.8px,#440256 0 51.8px,#440154 0 67.8px,#470e61 0 75.7px,#48186a 0 83.7px,#482878 0 91.7px,#46337f 0 99.7px,#443983 0 107.6px,#424186 0 115.6px,#3e4a89 0 123.6px,#3c4f8a 0 131.5px,#38588c 0 139.5px,#365d8d 0 155.5px,#31668e 0 163.4px,#306a8e 0 171.4px,#2e6e8e 0 179.4px,#2b748e 0 187.4px,#2a778e 0 195.3px,#277e8e 0 203.3px,#26818e 0 211.3px,#25838e 0 219.2px,#23888e 0 227.2px,#228b8d 0 235.2px,#20928c 0 243.2px,#20938c 0 251.1px,#1f968b 0 259.1px,#1e9c89 0 267.1px,#1fa187 0 275.1px,#20a386 0 283.0px,#22a884 0 291.0px,#26ad81 0 306.9px,#2cb17e 0 314.9px,#2eb37c 0 322.9px,#35b779 0 330.9px,#3aba76 0 338.8px,#3bbb75 0 346.8px,#3dbc74 0 354.8px,#3fbc73 0 362.8px,#42be71 0 370.7px,#4ac16d 0 378.7px,#4ec36b 0 386.7px,#50c46a 0 394.6px,#56c667 0 402.6px,#54c568 0 410.6px,#56c667 0 418.6px,#54c568 0 426.5px,#5ac864 0 434.5px,#58c765 0 442.5px,#56c667 0 450.5px,#69cd5b 0 458.4px,#58c765 0 466.4px,#42be71 0 474.4px,#38b977 0 482.3px,#4cc26c 0 490.3px,#3bbb75 0 498.3px,#2eb37c 0 506.3px,#22a884 0 514.2px,#21918c 0 522.2px,#2b748e 0 530.2px,#1f9f88 0 538.2px,#31688e 0 546.1px,#46085c 0 554.1px,#1e9b8a 0 562.1px,#297b8e 0 570.0px,#1fa188 0 578.0px,#46085c 0 586.0px,#2e6f8e 0 594.0px,#2db27d 0 601.9px,#25ac82 0 609.9px,#22a884 0 625.9px,#20a386 0 633.8px,#2fb47c 0 641.8px,#1fa287 0 649.8px,#21a585 0 657.7px,#1fa287 0 665.7px,#29af7f 0)"></i><i style="left:2148px;width:30px;background:linear-gradient(#440154 0 4.0px,#440256 0 12.0px,#440154 0 51.8px,#450457 0 59.8px,#460a5d 0 67.8px,#48186a 0 75.7px,#472a7a 0 83.7px,#472e7c 0 91.7px,#453581 0 99.7px,#433e85 0 107.6px,#3e4a89 0 115.6px,#3b528b 0 123.6px,#38588c 0 131.5px,#365c8d 0 139.5px,#34608d 0 147.5px,#34618d 0 155.5px,#306a8e 0 163.4px,#2f6c8e 0 171.4px,#2c718e 0 179.4px,#29798e 0 187.4px,#277f8e 0 195.3px,#27808e 0 203.3px,#25848e 0 211.3px,#24868e 0 219.2px,#228c8d 0 227.2px,#218f8d 0 235.2px,#1f948c 0 243.2px,#1f968b 0 251.1px,#1e9c89 0 259.1px,#1f9f88 0 267.1px,#21a585 0 275.1px,#23a983 0 291.0px,#27ad81 0 299.0px,#31b57b 0 306.9px,#2eb37c 0 314.9px,#38b977 0 322.9px,#3fbc73 0 338.8px,#44bf70 0 346.8px,#4ac16d 0 362.8px,#52c569 0 370.7px,#58c765 0 378.7px,#5cc863 0 386.7px,#70cf57 0 394.6px,#6ece58 0 402.6px,#7cd250 0 410.6px,#7ad151 0 426.5px,#86d549 0 434.5px,#8ed645 0 442.5px,#90d743 0 450.5px,#95d840 0 458.4px,#81d34d 0 466.4px,#70cf57 0 474.4px,#65cb5e 0 482.3px,#54c568 0 490.3px,#4ec36b 0 498.3px,#46c06f 0 506.3px,#3fbc73 0 514.2px,#2cb17e 0 522.2px,#3dbc74 0 530.2px,#22a785 0 538.2px,#1f9f88 0 546.1px,#2e6e8e 0 554.1px,#20928c 0 562.1px,#24878e 0 570.0px,#34b679 0 578.0px,#22a884 0 586.0px,#26828e 0 594.0px,#2c738e 0 601.9px,#26ad81 0 609.9px,#1f988b 0 617.9px,#1f9e89 0 625.9px,#2cb17e 0 641.8px,#1f968b 0 649.8px,#20a486 0 657.7px,#1f998a 0 665.7px,#1e9b8a 0)"></i><i style="left:2178px;width:31px;background:linear-gradient(#450457 0 4.0px,#440154 0 35.9px,#450457 0 43.8px,#46075a 0 51.8px,#440154 0 59.8px,#481769 0 67.8px,#482071 0 75.7px,#482979 0 83.7px,#463480 0 91.7px,#46337f 0 99.7px,#433e85 0 107.6px,#3e4989 0 115.6px,#3e4c8a 0 123.6px,#38588c 0 131.5px,#365c8d 0 139.5px,#355f8d 0 147.5px,#33628d 0 155.5px,#2f6b8e 0 163.4px,#2d718e 0 171.4px,#2c738e 0 179.4px,#2a778e 0 187.4px,#277e8e 0 195.3px,#26818e 0 203.3px,#25858e 0 211.3px,#23888e 0 219.2px,#228d8d 0 227.2px,#20928c 0 235.2px,#1f958b 0 243.2px,#1f978b 0 251.1px,#1e9d89 0 259.1px,#1fa088 0 267.1px,#21a685 0 275.1px,#22a785 0 283.0px,#26ad81 0 291.0px,#27ad81 0 299.0px,#2db27d 0 306.9px,#32b67a 0 314.9px,#38b977 0 330.9px,#40bd72 0 338.8px,#42be71 0 346.8px,#48c16e 0 354.8px,#50c46a 0 370.7px,#58c765 0 378.7px,#5ac864 0 386.7px,#65cb5e 0 394.6px,#63cb5f 0 402.6px,#6ece58 0 410.6px,#73d056 0 418.6px,#75d054 0 426.5px,#73d056 0 434.5px,#75d054 0 442.5px,#77d153 0 450.5px,#75d054 0 458.4px,#5ec962 0 466.4px,#52c569 0 474.4px,#3bbb75 0 482.3px,#2db27d 0 490.3px,#2cb17e 0 498.3px,#2fb47c 0 506.3px,#25ab82 0 514.2px,#20a386 0 522.2px,#27808e 0 530.2px,#2d708e 0 538.2px,#1f948c 0 554.1px,#1e9c89 0 562.1px,#1f9a8a 0 570.0px,#2db27d 0 578.0px,#228d8d 0 586.0px,#46085c 0 601.9px,#1fa287 0 609.9px,#21a585 0 617.9px,#1fa287 0 625.9px,#1f998a 0 633.8px,#1f9e89 0 641.8px,#1f9f88 0 649.8px,#1e9c89 0 657.7px,#1e9d89 0 665.7px,#25838e 0)"></i><i style="left:2209px;width:30px;background:linear-gradient(#450457 0 4.0px,#440154 0 12.0px,#450559 0 19.9px,#440154 0 27.9px,#450559 0 35.9px,#440154 0 43.8px,#471063 0 51.8px,#482071 0 59.8px,#472c7a 0 67.8px,#472d7b 0 75.7px,#453781 0 83.7px,#424086 0 91.7px,#3f4788 0 107.6px,#3b528b 0 123.6px,#355f8d 0 131.5px,#33628d 0 139.5px,#30698e 0 147.5px,#2e6f8e 0 155.5px,#2c728e 0 163.4px,#2a778e 0 171.4px,#297a8e 0 179.4px,#27808e 0 187.4px,#25848e 0 195.3px,#24868e 0 203.3px,#228b8d 0 211.3px,#218f8d 0 219.2px,#1f978b 0 227.2px,#1e9b8a 0 243.2px,#1fa188 0 251.1px,#22a785 0 259.1px,#25ab82 0 267.1px,#28ae80 0 275.1px,#2eb37c 0 283.0px,#32b67a 0 291.0px,#38b977 0 299.0px,#42be71 0 306.9px,#4ec36b 0 314.9px,#52c569 0 322.9px,#67cc5c 0 330.9px,#70cf57 0 338.8px,#73d056 0 346.8px,#7cd250 0 354.8px,#8bd646 0 362.8px,#98d83e 0 370.7px,#9dd93b 0 378.7px,#a8db34 0 386.7px,#addc30 0 394.6px,#aadc32 0 410.6px,#b0dd2f 0 418.6px,#b8de29 0 426.5px,#b5de2b 0 434.5px,#b8de29 0 442.5px,#b5de2b 0 450.5px,#bddf26 0 458.4px,#c5e021 0 466.4px,#cde11d 0 474.4px,#dae319 0 482.3px,#d2e21b 0 490.3px,#c8e020 0 498.3px,#efe51c 0 506.3px,#dfe318 0 514.2px,#efe51c 0 522.2px,#eae51a 0 530.2px,#c8e020 0 538.2px,#bddf26 0 546.1px,#69cd5b 0 554.1px,#28ae80 0 562.1px,#31b57b 0 570.0px,#27ad81 0 578.0px,#2fb47c 0 586.0px,#3bbb75 0 594.0px,#1fa287 0 601.9px,#1f958b 0 609.9px,#25ab82 0 617.9px,#1fa188 0 625.9px,#25ac82 0 633.8px,#1fa188 0 649.8px,#1f9e89 0 657.7px,#1e9c89 0 665.7px,#1e9d89 0)"></i><i style="left:2239px;width:30px;background:linear-gradient(#450457 0 4.0px,#440154 0 12.0px,#450559 0 19.9px,#440154 0 27.9px,#450457 0 35.9px,#46085c 0 43.8px,#481a6c 0 51.8px,#482878 0 59.8px,#472f7d 0 67.8px,#453781 0 75.7px,#433d84 0 83.7px,#404688 0 91.7px,#3d4d8a 0 99.7px,#3c508b 0 107.6px,#39568c 0 115.6px,#365d8d 0 123.6px,#32658e 0 131.5px,#31668e 0 139.5px,#2f6b8e 0 147.5px,#2c738e 0 155.5px,#29798e 0 163.4px,#287c8e 0 171.4px,#277e8e 0 179.4px,#25838e 0 187.4px,#24878e 0 195.3px,#238a8d 0 203.3px,#21908d 0 211.3px,#20928c 0 219.2px,#1f958b 0 227.2px,#1e9c89 0 235.2px,#1f9e89 0 243.2px,#20a386 0 251.1px,#24aa83 0 259.1px,#25ac82 0 267.1px,#27ad81 0 275.1px,#2db27d 0 283.0px,#38b977 0 291.0px,#3dbc74 0 299.0px,#3fbc73 0 306.9px,#4ac16d 0 314.9px,#52c569 0 322.9px,#58c765 0 330.9px,#69cd5b 0 338.8px,#73d056 0 346.8px,#7cd250 0 354.8px,#86d549 0 362.8px,#89d548 0 370.7px,#95d840 0 378.7px,#98d83e 0 386.7px,#a2da37 0 394.6px,#b2dd2d 0 402.6px,#addc30 0 410.6px,#b2dd2d 0 418.6px,#b0dd2f 0 426.5px,#b5de2b 0 434.5px,#b8de29 0 450.5px,#bade28 0 458.4px,#b0dd2f 0 466.4px,#bddf26 0 474.4px,#c2df23 0 482.3px,#a2da37 0 498.3px,#7ad151 0 506.3px,#75d054 0 514.2px,#7fd34e 0 522.2px,#77d153 0 530.2px,#4ac16d 0 538.2px,#2ab07f 0 546.1px,#3bbb75 0 554.1px,#2db27d 0 562.1px,#2eb37c 0 570.0px,#1e9d89 0 578.0px,#1f948c 0 586.0px,#1fa088 0 594.0px,#26ad81 0 601.9px,#25ac82 0 609.9px,#27ad81 0 617.9px,#2ab07f 0 625.9px,#1e9c89 0 633.8px,#1f9a8a 0 641.8px,#22a785 0 649.8px,#22a884 0 657.7px,#1e9b8a 0 665.7px,#24aa83 0)"></i><i style="left:2269px;width:30px;background:linear-gradient(#450559 0 4.0px,#440154 0 35.9px,#481668 0 43.8px,#481d6f 0 51.8px,#482576 0 59.8px,#463480 0 67.8px,#453882 0 75.7px,#404588 0 91.7px,#3e4c8a 0 99.7px,#3a538b 0 107.6px,#39568c 0 115.6px,#34618d 0 123.6px,#34608d 0 131.5px,#2f6b8e 0 139.5px,#2f6c8e 0 147.5px,#2c738e 0 155.5px,#2b748e 0 163.4px,#287d8e 0 171.4px,#277e8e 0 179.4px,#24868e 0 187.4px,#228b8d 0 203.3px,#20928c 0 211.3px,#1f958b 0 219.2px,#1e9b8a 0 227.2px,#1e9d89 0 235.2px,#1fa088 0 243.2px,#1fa187 0 251.1px,#24aa83 0 259.1px,#28ae80 0 275.1px,#2eb37c 0 283.0px,#38b977 0 291.0px,#3bbb75 0 299.0px,#48c16e 0 306.9px,#4ec36b 0 314.9px,#5ec962 0 330.9px,#67cc5c 0 338.8px,#77d153 0 346.8px,#7ad151 0 354.8px,#89d548 0 362.8px,#8ed645 0 370.7px,#9dd93b 0 378.7px,#a2da37 0 386.7px,#b2dd2d 0 410.6px,#b8de29 0 418.6px,#c0df25 0 434.5px,#c2df23 0 442.5px,#cae11f 0 450.5px,#c2df23 0 458.4px,#c5e021 0 466.4px,#d5e21a 0 474.4px,#eae51a 0 482.3px,#c5e021 0 490.3px,#cde11d 0 498.3px,#efe51c 0 506.3px,#f1e51d 0 514.2px,#f8e621 0 522.2px,#fde725 0 530.2px,#c2df23 0 538.2px,#67cc5c 0 546.1px,#37b878 0 554.1px,#2fb47c 0 562.1px,#2db27d 0 570.0px,#3bbb75 0 578.0px,#32b67a 0 586.0px,#31b57b 0 594.0px,#25ac82 0 601.9px,#21a685 0 609.9px,#23a983 0 617.9px,#20a486 0 625.9px,#1f9f88 0 633.8px,#1f968b 0 641.8px,#22a785 0 649.8px,#26ad81 0 657.7px,#20928c 0 665.7px,#25ac82 0)"></i><i style="left:2299px;width:31px;background:linear-gradient(#440154 0 4.0px,#440256 0 12.0px,#440154 0 19.9px,#450559 0 27.9px,#440154 0 35.9px,#471063 0 43.8px,#481c6e 0 51.8px,#482576 0 59.8px,#46337f 0 67.8px,#46327e 0 75.7px,#424186 0 83.7px,#3f4889 0 91.7px,#3e4c8a 0 99.7px,#3b518b 0 107.6px,#355e8d 0 123.6px,#355f8d 0 131.5px,#2f6c8e 0 139.5px,#2d708e 0 147.5px,#2c718e 0 155.5px,#2a788e 0 163.4px,#297b8e 0 171.4px,#26828e 0 179.4px,#25838e 0 187.4px,#24868e 0 195.3px,#228c8d 0 203.3px,#20928c 0 211.3px,#1f948c 0 219.2px,#1f978b 0 227.2px,#1e9b8a 0 235.2px,#1f9f88 0 243.2px,#21a685 0 251.1px,#23a983 0 259.1px,#27ad81 0 267.1px,#28ae80 0 275.1px,#2db27d 0 283.0px,#35b779 0 291.0px,#3dbc74 0 299.0px,#40bd72 0 306.9px,#54c568 0 314.9px,#5cc863 0 322.9px,#60ca60 0 330.9px,#6ccd5a 0 338.8px,#7ad151 0 354.8px,#86d549 0 362.8px,#90d743 0 370.7px,#9bd93c 0 378.7px,#a2da37 0 386.7px,#addc30 0 394.6px,#aadc32 0 402.6px,#bade28 0 410.6px,#b2dd2d 0 418.6px,#bade28 0 426.5px,#c0df25 0 442.5px,#c5e021 0 450.5px,#cde11d 0 458.4px,#d0e11c 0 466.4px,#cae11f 0 474.4px,#bddf26 0 482.3px,#d0e11c 0 490.3px,#dae319 0 498.3px,#dfe318 0 506.3px,#d8e219 0 514.2px,#d5e21a 0 522.2px,#d2e21b 0 530.2px,#d0e11c 0 538.2px,#c0df25 0 546.1px,#67cc5c 0 554.1px,#5ac864 0 562.1px,#37b878 0 570.0px,#26ad81 0 586.0px,#31b57b 0 594.0px,#26ad81 0 601.9px,#23a983 0 609.9px,#31b57b 0 617.9px,#1f9e89 0 625.9px,#21a685 0 633.8px,#20a486 0 641.8px,#1e9d89 0 649.8px,#1fa287 0 657.7px,#1e9b8a 0 665.7px,#20a486 0)"></i><i style="left:2330px;width:30px;background:linear-gradient(#440154 0 4.0px,#450457 0 12.0px,#440154 0 43.8px,#470d60 0 51.8px,#481d6f 0 59.8px,#472d7b 0 67.8px,#46307e 0 75.7px,#414487 0 83.7px,#404588 0 91.7px,#3e4989 0 99.7px,#3c508b 0 107.6px,#3a548c 0 115.6px,#38598c 0 123.6px,#32648e 0 131.5px,#31678e 0 139.5px,#2e6e8e 0 155.5px,#2c738e 0 163.4px,#297b8e 0 171.4px,#277e8e 0 179.4px,#25848e 0 187.4px,#24878e 0 195.3px,#238a8d 0 203.3px,#218f8d 0 211.3px,#218e8d 0 219.2px,#1f978b 0 227.2px,#1f988b 0 235.2px,#1f9f88 0 243.2px,#1fa088 0 251.1px,#20a486 0 259.1px,#21a585 0 267.1px,#24aa83 0 275.1px,#27ad81 0 283.0px,#2cb17e 0 291.0px,#32b67a 0 299.0px,#37b878 0 306.9px,#3fbc73 0 314.9px,#44bf70 0 322.9px,#4ac16d 0 330.9px,#56c667 0 346.8px,#65cb5e 0 354.8px,#5ec962 0 362.8px,#73d056 0 370.7px,#77d153 0 378.7px,#7fd34e 0 394.6px,#8ed645 0 410.6px,#98d83e 0 418.6px,#9dd93b 0 434.5px,#a0da39 0 450.5px,#a5db36 0 458.4px,#a2da37 0 466.4px,#93d741 0 474.4px,#98d83e 0 482.3px,#a8db34 0 490.3px,#addc30 0 498.3px,#b8de29 0 514.2px,#c2df23 0 522.2px,#bade28 0 530.2px,#a2da37 0 538.2px,#93d741 0 546.1px,#48c16e 0 554.1px,#44bf70 0 562.1px,#3bbb75 0 570.0px,#34b679 0 578.0px,#1fa188 0 586.0px,#20a386 0 594.0px,#1fa287 0 601.9px,#1e9d89 0 609.9px,#27ad81 0 617.9px,#1e9b8a 0 625.9px,#1fa088 0 633.8px,#20a386 0 641.8px,#1fa287 0 649.8px,#46085c 0 657.7px,#1fa188 0)"></i><i style="left:2360px;width:30px;background:linear-gradient(#440154 0 4.0px,#46075a 0 12.0px,#440154 0 35.9px,#46085c 0 43.8px,#440154 0 51.8px,#481769 0 59.8px,#481f70 0 67.8px,#482374 0 75.7px,#46307e 0 83.7px,#453882 0 91.7px,#433e85 0 99.7px,#3f4788 0 107.6px,#3e4c8a 0 115.6px,#39558c 0 123.6px,#3a548c 0 131.5px,#34618d 0 139.5px,#31678e 0 147.5px,#30698e 0 155.5px,#2d718e 0 163.4px,#2d708e 0 171.4px,#2a768e 0 179.4px,#287d8e 0 187.4px,#26818e 0 195.3px,#25848e 0 203.3px,#238a8d 0 211.3px,#228c8d 0 219.2px,#21918c 0 227.2px,#1f968b 0 235.2px,#1f998a 0 243.2px,#1e9d89 0 251.1px,#1fa088 0 259.1px,#1fa188 0 267.1px,#21a585 0 275.1px,#21a685 0 283.0px,#26ad81 0 291.0px,#2ab07f 0 306.9px,#2eb37c 0 314.9px,#3aba76 0 322.9px,#3dbc74 0 330.9px,#3fbc73 0 338.8px,#46c06f 0 346.8px,#4ec36b 0 354.8px,#50c46a 0 362.8px,#54c568 0 386.7px,#5ac864 0 394.6px,#5ec962 0 402.6px,#69cd5b 0 410.6px,#63cb5f 0 434.5px,#67cc5c 0 442.5px,#69cd5b 0 450.5px,#63cb5f 0 458.4px,#4cc26c 0 466.4px,#3bbb75 0 474.4px,#35b779 0 482.3px,#2eb37c 0 490.3px,#26ad81 0 498.3px,#22a785 0 506.3px,#1fa088 0 514.2px,#1e9c89 0 522.2px,#1f958b 0 530.2px,#277f8e 0 538.2px,#1e9b8a 0 546.1px,#228b8d 0 554.1px,#2e6f8e 0 562.1px,#21a585 0 578.0px,#29798e 0 586.0px,#34618d 0 594.0px,#2a778e 0 601.9px,#21a685 0 609.9px,#1e9b8a 0 617.9px,#25ac82 0 625.9px,#20a486 0 633.8px,#2db27d 0 641.8px,#1fa287 0 649.8px,#23a983 0 657.7px,#1f988b 0 665.7px,#1fa287 0)"></i><i style="left:2390px;width:30px;background:linear-gradient(#440154 0 12.0px,#46075a 0 19.9px,#440154 0 27.9px,#440256 0 35.9px,#440154 0 51.8px,#46075a 0 59.8px,#440154 0 67.8px,#471365 0 75.7px,#482173 0 83.7px,#482979 0 91.7px,#46337f 0 99.7px,#433e85 0 107.6px,#404588 0 115.6px,#3c4f8a 0 123.6px,#3b518b 0 131.5px,#38598c 0 139.5px,#355e8d 0 147.5px,#33628d 0 155.5px,#31668e 0 163.4px,#306a8e 0 171.4px,#2d718e 0 179.4px,#2b748e 0 187.4px,#297b8e 0 195.3px,#277e8e 0 203.3px,#26818e 0 211.3px,#24878e 0 219.2px,#23888e 0 227.2px,#228d8d 0 235.2px,#21918c 0 243.2px,#20938c 0 251.1px,#1e9d89 0 259.1px,#1e9c89 0 267.1px,#20a386 0 283.0px,#23a983 0 291.0px,#28ae80 0 306.9px,#2eb37c 0 314.9px,#2fb47c 0 322.9px,#35b779 0 330.9px,#3bbb75 0 338.8px,#3fbc73 0 346.8px,#40bd72 0 354.8px,#42be71 0 362.8px,#4ac16d 0 370.7px,#52c569 0 378.7px,#4ec36b 0 386.7px,#56c667 0 394.6px,#58c765 0 402.6px,#56c667 0 410.6px,#58c765 0 418.6px,#54c568 0 426.5px,#58c765 0 434.5px,#5ac864 0 442.5px,#58c765 0 450.5px,#5ec962 0 458.4px,#4ac16d 0 466.4px,#28ae80 0 474.4px,#1fa188 0 482.3px,#2ab07f 0 490.3px,#23a983 0 498.3px,#20a386 0 506.3px,#1f958b 0 514.2px,#26828e 0 530.2px,#26818e 0 538.2px,#23898e 0 546.1px,#1f9f88 0 554.1px,#4ec36b 0 562.1px,#24aa83 0 570.0px,#26ad81 0 578.0px,#1fa088 0 586.0px,#1f988b 0 594.0px,#20938c 0 601.9px,#2b758e 0 609.9px,#32b67a 0 617.9px,#25ac82 0 625.9px,#2ab07f 0 633.8px,#25ab82 0 641.8px,#1e9b8a 0 649.8px,#1fa287 0 657.7px,#1e9d89 0 665.7px,#22a884 0)"></i><i style="left:2420px;width:31px;background:linear-gradient(#471063 0 4.0px,#440154 0 12.0px,#440256 0 19.9px,#440154 0 35.9px,#450457 0 43.8px,#440154 0 51.8px,#450457 0 59.8px,#440256 0 67.8px,#440154 0 75.7px,#471063 0 83.7px,#481a6c 0 91.7px,#482677 0 99.7px,#46307e 0 107.6px,#443b84 0 115.6px,#424086 0 123.6px,#3f4788 0 131.5px,#3e4a89 0 139.5px,#39558c 0 147.5px,#365c8d 0 155.5px,#33628d 0 163.4px,#32658e 0 171.4px,#30698e 0 179.4px,#2e6e8e 0 187.4px,#2c738e 0 195.3px,#297a8e 0 203.3px,#287c8e 0 211.3px,#26828e 0 219.2px,#24868e 0 235.2px,#228d8d 0 243.2px,#21918c 0 251.1px,#1f968b 0 259.1px,#1f988b 0 267.1px,#1e9d89 0 275.1px,#1fa088 0 283.0px,#21a585 0 291.0px,#22a884 0 299.0px,#27ad81 0 306.9px,#28ae80 0 314.9px,#29af7f 0 322.9px,#2ab07f 0 330.9px,#2db27d 0 338.8px,#32b67a 0 346.8px,#31b57b 0 354.8px,#38b977 0 362.8px,#37b878 0 370.7px,#3bbb75 0 386.7px,#3fbc73 0 394.6px,#46c06f 0 402.6px,#44bf70 0 410.6px,#4ac16d 0 418.6px,#48c16e 0 426.5px,#4ac16d 0 434.5px,#4cc26c 0 450.5px,#48c16e 0 458.4px,#3fbc73 0 466.4px,#3dbc74 0 474.4px,#31b57b 0 482.3px,#27ad81 0 490.3px,#25ac82 0 498.3px,#23a983 0 506.3px,#1f9f88 0 514.2px,#1f978b 0 522.2px,#29798e 0 530.2px,#21a585 0 538.2px,#20a486 0 546.1px,#228c8d 0 554.1px,#238a8d 0 562.1px,#38588c 0 570.0px,#3aba76 0 578.0px,#32648e 0 586.0px,#2db27d 0 594.0px,#1fa088 0 601.9px,#31b57b 0 609.9px,#1e9c89 0 617.9px,#228b8d 0 625.9px,#1e9d89 0 633.8px,#1fa187 0 641.8px,#29af7f 0 649.8px,#25ab82 0 657.7px,#29af7f 0 665.7px,#20a486 0)"></i><i style="left:2451px;width:30px;background:linear-gradient(#450457 0 4.0px,#440154 0 12.0px,#450559 0 27.9px,#450457 0 35.9px,#46085c 0 43.8px,#440256 0 51.8px,#440154 0 59.8px,#46075a 0 67.8px,#440154 0 83.7px,#470e61 0 91.7px,#481f70 0 99.7px,#472d7b 0 107.6px,#482979 0 115.6px,#453882 0 123.6px,#433d84 0 131.5px,#414487 0 139.5px,#3c508b 0 147.5px,#3a548c 0 155.5px,#375b8d 0 163.4px,#34608d 0 171.4px,#33638d 0 179.4px,#306a8e 0 187.4px,#2e6f8e 0 195.3px,#2c728e 0 203.3px,#2a768e 0 211.3px,#277e8e 0 219.2px,#26818e 0 227.2px,#25858e 0 235.2px,#24878e 0 243.2px,#218e8d 0 251.1px,#20928c 0 259.1px,#1f988b 0 267.1px,#1e9c89 0 275.1px,#1fa188 0 283.0px,#1fa187 0 291.0px,#23a983 0 299.0px,#25ab82 0 306.9px,#25ac82 0 314.9px,#2cb17e 0 330.9px,#2eb37c 0 338.8px,#35b779 0 362.8px,#3aba76 0 370.7px,#37b878 0 378.7px,#38b977 0 386.7px,#3bbb75 0 394.6px,#32b67a 0 410.6px,#2eb37c 0 418.6px,#2ab07f 0 426.5px,#28ae80 0 434.5px,#25ab82 0 442.5px,#22a884 0 450.5px,#28ae80 0 458.4px,#25ac82 0 466.4px,#1e9d89 0 474.4px,#1f968b 0 482.3px,#1f9e89 0 490.3px,#1f978b 0 498.3px,#1f988b 0 506.3px,#218f8d 0 514.2px,#1fa088 0 522.2px,#1e9d89 0 530.2px,#21918c 0 546.1px,#1f9a8a 0 554.1px,#228b8d 0 562.1px,#3fbc73 0 570.0px,#31668e 0 578.0px,#2d718e 0 586.0px,#32b67a 0 594.0px,#2db27d 0 601.9px,#28ae80 0 609.9px,#1fa088 0 625.9px,#1e9c89 0 633.8px,#20928c 0 641.8px,#22a884 0 649.8px,#46085c 0 657.7px,#1e9c89 0 665.7px,#21a685 0)"></i><i style="left:2481px;width:30px;background:linear-gradient(#440154 0 4.0px,#440256 0 19.9px,#46075a 0 27.9px,#460a5d 0 35.9px,#440154 0 43.8px,#46075a 0 51.8px,#440154 0 59.8px,#440256 0 67.8px,#440154 0 91.7px,#471063 0 99.7px,#481a6c 0 107.6px,#482475 0 115.6px,#46337f 0 123.6px,#433e85 0 131.5px,#433d84 0 139.5px,#3f4788 0 147.5px,#3e4a89 0 155.5px,#39558c 0 163.4px,#38598c 0 171.4px,#33628d 0 179.4px,#32648e 0 187.4px,#306a8e 0 195.3px,#2e6d8e 0 203.3px,#2c718e 0 211.3px,#2a778e 0 219.2px,#287c8e 0 227.2px,#26828e 0 235.2px,#25858e 0 243.2px,#228c8d 0 251.1px,#20928c 0 259.1px,#1f948c 0 267.1px,#1f9a8a 0 275.1px,#1f9e89 0 283.0px,#1fa187 0 291.0px,#23a983 0 299.0px,#26ad81 0 306.9px,#27ad81 0 314.9px,#2ab07f 0 330.9px,#2fb47c 0 338.8px,#2db27d 0 346.8px,#35b779 0 362.8px,#37b878 0 370.7px,#3aba76 0 378.7px,#3dbc74 0 386.7px,#3bbb75 0 394.6px,#42be71 0 402.6px,#46c06f 0 410.6px,#44bf70 0 418.6px,#46c06f 0 426.5px,#42be71 0 434.5px,#46c06f 0 442.5px,#48c16e 0 450.5px,#4ec36b 0 458.4px,#38b977 0 466.4px,#28ae80 0 474.4px,#21a585 0 490.3px,#1fa188 0 498.3px,#23888e 0 506.3px,#24868e 0 514.2px,#297b8e 0 522.2px,#287d8e 0 530.2px,#46085c 0 546.1px,#38588c 0 554.1px,#218f8d 0 562.1px,#1fa287 0 570.0px,#46c06f 0 578.0px,#2e6d8e 0 594.0px,#29af7f 0 601.9px,#25ac82 0 609.9px,#3fbc73 0 617.9px,#2ab07f 0 625.9px,#22a785 0 633.8px,#38b977 0 641.8px,#1e9c89 0 649.8px,#20938c 0 657.7px,#1fa088 0 665.7px,#24aa83 0)"></i><i style="left:2511px;width:30px;background:linear-gradient(#450559 0 12.0px,#46085c 0 19.9px,#440154 0 35.9px,#440256 0 51.8px,#450457 0 67.8px,#470d60 0 75.7px,#450457 0 83.7px,#440154 0 91.7px,#46085c 0 99.7px,#481a6c 0 107.6px,#482173 0 115.6px,#472a7a 0 123.6px,#453781 0 131.5px,#443983 0 139.5px,#424186 0 147.5px,#3e4c8a 0 155.5px,#3b518b 0 163.4px,#38598c 0 171.4px,#375b8d 0 179.4px,#32658e 0 187.4px,#306a8e 0 195.3px,#2e6f8e 0 203.3px,#2c728e 0 211.3px,#2a778e 0 219.2px,#287d8e 0 227.2px,#26828e 0 235.2px,#25858e 0 243.2px,#228b8d 0 251.1px,#228c8d 0 259.1px,#1f958b 0 267.1px,#1e9b8a 0 275.1px,#1fa188 0 283.0px,#21a685 0 291.0px,#22a785 0 299.0px,#28ae80 0 306.9px,#29af7f 0 314.9px,#2db27d 0 322.9px,#35b779 0 330.9px,#32b67a 0 338.8px,#37b878 0 346.8px,#35b779 0 354.8px,#3bbb75 0 362.8px,#46c06f 0 370.7px,#40bd72 0 378.7px,#46c06f 0 386.7px,#4ec36b 0 402.6px,#52c569 0 418.6px,#4ec36b 0 426.5px,#54c568 0 434.5px,#52c569 0 442.5px,#4ec36b 0 450.5px,#54c568 0 458.4px,#48c16e 0 466.4px,#4cc26c 0 474.4px,#4ec36b 0 490.3px,#60ca60 0 498.3px,#58c765 0 506.3px,#4ec36b 0 514.2px,#50c46a 0 522.2px,#4ec36b 0 530.2px,#50c46a 0 538.2px,#52c569 0 546.1px,#37b878 0 554.1px,#22a785 0 562.1px,#46085c 0 570.0px,#1f9e89 0 578.0px,#46085c 0 586.0px,#2fb47c 0 594.0px,#31b57b 0 601.9px,#21a585 0 609.9px,#32b67a 0 617.9px,#23a983 0 625.9px,#24aa83 0 633.8px,#1e9d89 0 641.8px,#1e9c89 0 649.8px,#1f968b 0 657.7px,#1e9b8a 0 665.7px,#1e9c89 0)"></i><i style="left:2541px;width:31px;background:linear-gradient(#46075a 0 4.0px,#440154 0 12.0px,#450457 0 19.9px,#440154 0 35.9px,#450457 0 43.8px,#440154 0 67.8px,#46075a 0 75.7px,#450559 0 83.7px,#440154 0 99.7px,#481a6c 0 107.6px,#482576 0 115.6px,#472a7a 0 123.6px,#472f7d 0 131.5px,#433d84 0 139.5px,#414487 0 147.5px,#3f4889 0 155.5px,#3c508b 0 163.4px,#38598c 0 171.4px,#375b8d 0 179.4px,#33628d 0 187.4px,#31678e 0 195.3px,#2f6c8e 0 203.3px,#2e6e8e 0 211.3px,#2b758e 0 219.2px,#297a8e 0 227.2px,#26818e 0 235.2px,#25858e 0 243.2px,#238a8d 0 251.1px,#21908d 0 259.1px,#20938c 0 267.1px,#1e9c89 0 275.1px,#1fa188 0 283.0px,#22a785 0 291.0px,#24aa83 0 299.0px,#2cb17e 0 306.9px,#31b57b 0 322.9px,#35b779 0 330.9px,#40bd72 0 338.8px,#3fbc73 0 346.8px,#42be71 0 354.8px,#4ac16d 0 362.8px,#4cc26c 0 370.7px,#56c667 0 378.7px,#5ac864 0 386.7px,#63cb5f 0 394.6px,#70cf57 0 418.6px,#77d153 0 426.5px,#7ad151 0 434.5px,#7fd34e 0 442.5px,#81d34d 0 450.5px,#86d549 0 458.4px,#7cd250 0 466.4px,#70cf57 0 474.4px,#5cc863 0 482.3px,#3dbc74 0 498.3px,#50c46a 0 506.3px,#40bd72 0 514.2px,#38b977 0 522.2px,#34608d 0 530.2px,#29af7f 0 538.2px,#3a548c 0 546.1px,#2a768e 0 554.1px,#2cb17e 0 570.0px,#29af7f 0 578.0px,#27ad81 0 586.0px,#29af7f 0 594.0px,#22a884 0 601.9px,#1e9d89 0 609.9px,#21a685 0 617.9px,#20a386 0 625.9px,#22a785 0 633.8px,#22a884 0 641.8px,#2ab07f 0 649.8px,#35b779 0 657.7px,#1fa088 0 665.7px,#1e9c89 0)"></i><i style="left:2572px;width:30px;background:linear-gradient(#46075a 0 4.0px,#440154 0 12.0px,#440256 0 19.9px,#440154 0 27.9px,#450457 0 35.9px,#440154 0 67.8px,#460b5e 0 75.7px,#440154 0 83.7px,#46075a 0 91.7px,#450457 0 99.7px,#460b5e 0 107.6px,#481b6d 0 115.6px,#482878 0 123.6px,#472f7d 0 131.5px,#453581 0 139.5px,#423f85 0 147.5px,#424086 0 155.5px,#3d4d8a 0 163.4px,#3a548c 0 171.4px,#38588c 0 179.4px,#34618d 0 187.4px,#32648e 0 195.3px,#31688e 0 203.3px,#2e6d8e 0 211.3px,#2c728e 0 219.2px,#2a788e 0 227.2px,#287d8e 0 235.2px,#26828e 0 243.2px,#23898e 0 251.1px,#218f8d 0 259.1px,#1f968b 0 267.1px,#1f978b 0 275.1px,#1fa188 0 283.0px,#21a685 0 291.0px,#22a884 0 299.0px,#2eb37c 0 306.9px,#2ab07f 0 314.9px,#35b779 0 330.9px,#3dbc74 0 338.8px,#3fbc73 0 346.8px,#40bd72 0 354.8px,#44bf70 0 362.8px,#48c16e 0 378.7px,#58c765 0 394.6px,#5ec962 0 402.6px,#67cc5c 0 410.6px,#6ccd5a 0 418.6px,#6ece58 0 426.5px,#70cf57 0 434.5px,#73d056 0 442.5px,#7cd250 0 458.4px,#5ec962 0 466.4px,#60ca60 0 482.3px,#27ad81 0 490.3px,#1f9f88 0 498.3px,#1fa188 0 506.3px,#1e9d89 0 514.2px,#1f998a 0 522.2px,#1e9b8a 0 530.2px,#228b8d 0 538.2px,#2f6b8e 0 546.1px,#1f9f88 0 554.1px,#4ac16d 0 562.1px,#3aba76 0 570.0px,#4ec36b 0 578.0px,#50c46a 0 586.0px,#32b67a 0 601.9px,#2ab07f 0 609.9px,#28ae80 0 617.9px,#20a386 0 625.9px,#26ad81 0 633.8px,#54c568 0 641.8px,#25ab82 0 649.8px,#2ab07f 0 657.7px,#20a386 0 665.7px,#22a785 0)"></i><i style="left:2602px;width:30px;background:linear-gradient(#440154 0 4.0px,#46085c 0 19.9px,#440154 0 27.9px,#450457 0 35.9px,#46085c 0 43.8px,#440154 0 91.7px,#440256 0 99.7px,#440154 0 107.6px,#470d60 0 115.6px,#481f70 0 123.6px,#482979 0 131.5px,#472f7d 0 139.5px,#443a83 0 147.5px,#424086 0 155.5px,#3f4889 0 163.4px,#3d4d8a 0 171.4px,#3a538b 0 179.4px,#365c8d 0 187.4px,#34608d 0 195.3px,#32648e 0 203.3px,#2e6d8e 0 211.3px,#2f6c8e 0 219.2px,#2b748e 0 227.2px,#297a8e 0 235.2px,#26818e 0 243.2px,#25858e 0 251.1px,#228c8d 0 259.1px,#20928c 0 267.1px,#1f978b 0 275.1px,#1e9c89 0 283.0px,#1fa088 0 291.0px,#22a884 0 299.0px,#25ac82 0 306.9px,#27ad81 0 314.9px,#2cb17e 0 322.9px,#29af7f 0 330.9px,#2db27d 0 338.8px,#31b57b 0 346.8px,#34b679 0 362.8px,#3aba76 0 370.7px,#3dbc74 0 378.7px,#3bbb75 0 386.7px,#42be71 0 394.6px,#4cc26c 0 402.6px,#4ac16d 0 410.6px,#4cc26c 0 426.5px,#4ac16d 0 434.5px,#48c16e 0 442.5px,#4ec36b 0 450.5px,#54c568 0 458.4px,#3bbb75 0 466.4px,#31b57b 0 474.4px,#3bbb75 0 482.3px,#27ad81 0 490.3px,#22a884 0 498.3px,#22a785 0 506.3px,#1fa088 0 514.2px,#25ab82 0 522.2px,#22a785 0 530.2px,#3a538b 0 538.2px,#1fa188 0 546.1px,#21a685 0 554.1px,#46085c 0 562.1px,#1f9a8a 0 570.0px,#21a585 0 578.0px,#46085c 0 586.0px,#1fa287 0 594.0px,#25838e 0 601.9px,#1f968b 0 609.9px,#24aa83 0 617.9px,#1e9d89 0 625.9px,#21a585 0 633.8px,#1f9e89 0 649.8px,#1fa088 0 657.7px,#1f958b 0 665.7px,#1f948c 0)"></i><i style="left:2632px;width:30px;background:linear-gradient(#450457 0 4.0px,#440154 0 27.9px,#440256 0 35.9px,#450457 0 43.8px,#440154 0 59.8px,#450457 0 67.8px,#481668 0 75.7px,#482475 0 83.7px,#472a7a 0 91.7px,#453581 0 99.7px,#414487 0 107.6px,#3f4788 0 115.6px,#3e4989 0 123.6px,#39568c 0 131.5px,#365c8d 0 139.5px,#375a8c 0 147.5px,#32658e 0 163.4px,#2f6c8e 0 171.4px,#2d718e 0 179.4px,#2a778e 0 187.4px,#2a788e 0 195.3px,#277f8e 0 203.3px,#26828e 0 211.3px,#25848e 0 219.2px,#228b8d 0 227.2px,#218e8d 0 235.2px,#20928c 0 243.2px,#1f978b 0 251.1px,#1e9b8a 0 259.1px,#1fa088 0 267.1px,#20a486 0 275.1px,#22a884 0 291.0px,#25ab82 0 299.0px,#2eb37c 0 306.9px,#32b67a 0 314.9px,#35b779 0 322.9px,#3dbc74 0 330.9px,#40bd72 0 338.8px,#42be71 0 346.8px,#48c16e 0 354.8px,#4ec36b 0 362.8px,#58c765 0 370.7px,#56c667 0 378.7px,#5cc863 0 394.6px,#5ec962 0 402.6px,#6ccd5a 0 410.6px,#65cb5e 0 418.6px,#69cd5b 0 434.5px,#6ccd5a 0 442.5px,#6ece58 0 450.5px,#75d054 0 458.4px,#5ec962 0 466.4px,#5cc863 0 474.4px,#58c765 0 482.3px,#2cb17e 0 490.3px,#24aa83 0 498.3px,#26ad81 0 506.3px,#1fa187 0 514.2px,#1e9b8a 0 530.2px,#46085c 0 538.2px,#25ab82 0 546.1px,#1f998a 0 554.1px,#20928c 0 570.0px,#2e6f8e 0 578.0px,#21a685 0 586.0px,#2ab07f 0 594.0px,#26828e 0 601.9px,#34608d 0 609.9px,#27ad81 0 617.9px,#4cc26c 0 625.9px,#27ad81 0 633.8px,#22a884 0 641.8px,#22a785 0 649.8px,#34b679 0 657.7px,#1f9f88 0 665.7px,#228c8d 0)"></i><i style="left:2662px;width:31px;background:linear-gradient(#440154 0 43.8px,#471164 0 51.8px,#481f70 0 59.8px,#472d7b 0 67.8px,#463480 0 75.7px,#453781 0 83.7px,#433d84 0 91.7px,#3d4e8a 0 99.7px,#3e4a89 0 107.6px,#3a548c 0 115.6px,#365c8d 0 123.6px,#34618d 0 131.5px,#31678e 0 139.5px,#2f6b8e 0 147.5px,#2d718e 0 155.5px,#2a778e 0 163.4px,#29798e 0 171.4px,#277e8e 0 179.4px,#26828e 0 187.4px,#24868e 0 195.3px,#238a8d 0 203.3px,#218e8d 0 211.3px,#21918c 0 219.2px,#1f948c 0 227.2px,#1f988b 0 235.2px,#1e9d89 0 243.2px,#1fa088 0 251.1px,#20a486 0 259.1px,#21a685 0 267.1px,#25ab82 0 275.1px,#27ad81 0 283.0px,#2eb37c 0 291.0px,#35b779 0 299.0px,#37b878 0 306.9px,#3dbc74 0 314.9px,#46c06f 0 322.9px,#4cc26c 0 330.9px,#54c568 0 338.8px,#5ac864 0 346.8px,#5ec962 0 354.8px,#69cd5b 0 370.7px,#70cf57 0 378.7px,#81d34d 0 386.7px,#86d549 0 394.6px,#8ed645 0 402.6px,#90d743 0 410.6px,#9dd93b 0 418.6px,#98d83e 0 426.5px,#a2da37 0 434.5px,#a5db36 0 442.5px,#addc30 0 450.5px,#a2da37 0 458.4px,#a0da39 0 466.4px,#a5db36 0 490.3px,#93d741 0 498.3px,#9bd93c 0 506.3px,#9dd93b 0 514.2px,#8ed645 0 522.2px,#98d83e 0 530.2px,#93d741 0 538.2px,#70cf57 0 546.1px,#2eb37c 0 554.1px,#24aa83 0 562.1px,#2db27d 0 570.0px,#27ad81 0 578.0px,#20a386 0 586.0px,#25ac82 0 594.0px,#1fa187 0 601.9px,#1fa287 0 609.9px,#1e9b8a 0 617.9px,#2ab07f 0 625.9px,#24aa83 0 633.8px,#1f9f88 0 641.8px,#20a486 0 649.8px,#21a685 0 665.7px,#1f9e89 0)"></i><i style="left:2693px;width:30px;background:linear-gradient(#440256 0 4.0px,#440154 0 35.9px,#46085c 0 43.8px,#481c6e 0 51.8px,#482071 0 59.8px,#472e7c 0 67.8px,#472f7d 0 75.7px,#404688 0 91.7px,#3f4889 0 99.7px,#3c508b 0 107.6px,#3b528b 0 115.6px,#355e8d 0 123.6px,#355f8d 0 131.5px,#2e6e8e 0 139.5px,#2c718e 0 147.5px,#2c738e 0 155.5px,#2a788e 0 163.4px,#287c8e 0 171.4px,#277f8e 0 179.4px,#26828e 0 187.4px,#23888e 0 195.3px,#228c8d 0 203.3px,#218e8d 0 211.3px,#1f958b 0 219.2px,#1f988b 0 227.2px,#1f9a8a 0 235.2px,#1f9e89 0 243.2px,#20a386 0 251.1px,#22a785 0 259.1px,#21a685 0 267.1px,#28ae80 0 275.1px,#2ab07f 0 283.0px,#34b679 0 291.0px,#38b977 0 299.0px,#3fbc73 0 306.9px,#48c16e 0 314.9px,#52c569 0 322.9px,#5ac864 0 330.9px,#60ca60 0 338.8px,#65cb5e 0 346.8px,#77d153 0 362.8px,#81d34d 0 370.7px,#95d840 0 378.7px,#98d83e 0 386.7px,#9dd93b 0 394.6px,#a8db34 0 410.6px,#b2dd2d 0 434.5px,#b5de2b 0 442.5px,#bade28 0 450.5px,#b2dd2d 0 458.4px,#addc30 0 466.4px,#bade28 0 474.4px,#b8de29 0 482.3px,#a2da37 0 490.3px,#a0da39 0 498.3px,#b0dd2f 0 506.3px,#a0da39 0 514.2px,#9dd93b 0 522.2px,#95d840 0 530.2px,#7cd250 0 538.2px,#70cf57 0 546.1px,#31b57b 0 554.1px,#22a785 0 562.1px,#3bbb75 0 578.0px,#3dbc74 0 586.0px,#2eb37c 0 594.0px,#21a585 0 601.9px,#2eb37c 0 609.9px,#25ab82 0 617.9px,#1fa187 0 625.9px,#1f988b 0 633.8px,#1fa187 0 641.8px,#1f978b 0 649.8px,#22a785 0 657.7px,#1f948c 0 665.7px,#21a685 0)"></i><i style="left:2723px;width:30px;background:linear-gradient(#440154 0 12.0px,#46075a 0 19.9px,#440154 0 43.8px,#481b6d 0 51.8px,#48186a 0 59.8px,#482878 0 67.8px,#46337f 0 75.7px,#443983 0 83.7px,#414487 0 91.7px,#3e4a89 0 99.7px,#3b528b 0 107.6px,#375a8c 0 115.6px,#355f8d 0 131.5px,#33628d 0 139.5px,#306a8e 0 155.5px,#2c728e 0 163.4px,#2a778e 0 171.4px,#27808e 0 179.4px,#277e8e 0 187.4px,#25858e 0 195.3px,#23898e 0 203.3px,#218e8d 0 211.3px,#20928c 0 219.2px,#1f948c 0 227.2px,#1e9d89 0 243.2px,#20a386 0 251.1px,#21a685 0 259.1px,#24aa83 0 267.1px,#28ae80 0 275.1px,#2db27d 0 283.0px,#34b679 0 291.0px,#3aba76 0 299.0px,#44bf70 0 306.9px,#46c06f 0 314.9px,#58c765 0 322.9px,#60ca60 0 330.9px,#6ece58 0 338.8px,#6ccd5a 0 346.8px,#81d34d 0 354.8px,#86d549 0 362.8px,#89d548 0 370.7px,#98d83e 0 378.7px,#9dd93b 0 386.7px,#a8db34 0 394.6px,#a5db36 0 402.6px,#addc30 0 410.6px,#b0dd2f 0 418.6px,#addc30 0 426.5px,#b5de2b 0 434.5px,#bade28 0 442.5px,#c2df23 0 450.5px,#bddf26 0 458.4px,#bade28 0 466.4px,#addc30 0 474.4px,#aadc32 0 482.3px,#9bd93c 0 490.3px,#90d743 0 498.3px,#7cd250 0 506.3px,#65cb5e 0 514.2px,#75d054 0 522.2px,#73d056 0 530.2px,#65cb5e 0 538.2px,#54c568 0 554.1px,#44bf70 0 562.1px,#37b878 0 570.0px,#3fbc73 0 578.0px,#29af7f 0 586.0px,#22a785 0 594.0px,#22a884 0 601.9px,#2fb47c 0 609.9px,#20a486 0 617.9px,#25ac82 0 625.9px,#1f9a8a 0 633.8px,#21a585 0 641.8px,#1f9f88 0 649.8px,#20a486 0 657.7px,#1f948c 0 665.7px,#1fa088 0)"></i><i style="left:2753px;width:30px;background:linear-gradient(#440154 0 4.0px,#450559 0 12.0px,#440154 0 19.9px,#450559 0 35.9px,#46085c 0 51.8px,#481b6d 0 59.8px,#482173 0 67.8px,#46327e 0 75.7px,#443b84 0 83.7px,#453882 0 91.7px,#3e4a89 0 99.7px,#3f4889 0 107.6px,#3b518b 0 115.6px,#39558c 0 123.6px,#365c8d 0 131.5px,#33628d 0 139.5px,#31688e 0 147.5px,#2c728e 0 155.5px,#2b748e 0 163.4px,#2a788e 0 171.4px,#297a8e 0 179.4px,#287d8e 0 187.4px,#25848e 0 195.3px,#23888e 0 203.3px,#228d8d 0 211.3px,#20928c 0 219.2px,#1f958b 0 227.2px,#1f968b 0 235.2px,#1e9d89 0 243.2px,#20a386 0 251.1px,#22a785 0 259.1px,#24aa83 0 267.1px,#28ae80 0 275.1px,#2db27d 0 283.0px,#35b779 0 291.0px,#3aba76 0 299.0px,#46c06f 0 306.9px,#48c16e 0 314.9px,#52c569 0 322.9px,#5ec962 0 330.9px,#67cc5c 0 338.8px,#70cf57 0 346.8px,#7cd250 0 354.8px,#7fd34e 0 362.8px,#86d549 0 370.7px,#93d741 0 378.7px,#9dd93b 0 386.7px,#a0da39 0 394.6px,#a5db36 0 402.6px,#b2dd2d 0 410.6px,#b0dd2f 0 426.5px,#b5de2b 0 442.5px,#bade28 0 450.5px,#b8de29 0 458.4px,#a8db34 0 474.4px,#93d741 0 482.3px,#aadc32 0 490.3px,#a5db36 0 498.3px,#8ed645 0 506.3px,#7cd250 0 514.2px,#7ad151 0 522.2px,#6ccd5a 0 530.2px,#70cf57 0 538.2px,#3dbc74 0 546.1px,#3fbc73 0 554.1px,#2eb37c 0 562.1px,#2ab07f 0 570.0px,#2fb47c 0 578.0px,#29af7f 0 586.0px,#1fa187 0 594.0px,#1fa088 0 601.9px,#2eb37c 0 609.9px,#1f9f88 0 617.9px,#1e9b8a 0 625.9px,#1f978b 0 633.8px,#22a884 0 641.8px,#20a486 0 649.8px,#20a386 0 665.7px,#1f9a8a 0)"></i><i style="left:2783px;width:31px;background:linear-gradient(#46085c 0 4.0px,#440256 0 12.0px,#450457 0 19.9px,#440154 0 35.9px,#440256 0 51.8px,#481668 0 59.8px,#481d6f 0 67.8px,#472f7d 0 75.7px,#46337f 0 83.7px,#424086 0 91.7px,#404588 0 99.7px,#3b518b 0 107.6px,#3b528b 0 115.6px,#38588c 0 123.6px,#355e8d 0 131.5px,#365c8d 0 139.5px,#30698e 0 147.5px,#2f6c8e 0 155.5px,#2e6f8e 0 163.4px,#2c738e 0 171.4px,#297a8e 0 179.4px,#27808e 0 187.4px,#26828e 0 195.3px,#25858e 0 203.3px,#238a8d 0 211.3px,#228d8d 0 219.2px,#20928c 0 227.2px,#1f988b 0 235.2px,#1f978b 0 243.2px,#1f9f88 0 251.1px,#1fa188 0 259.1px,#21a585 0 267.1px,#24aa83 0 275.1px,#26ad81 0 283.0px,#2cb17e 0 291.0px,#2fb47c 0 299.0px,#37b878 0 306.9px,#3bbb75 0 314.9px,#44bf70 0 322.9px,#4cc26c 0 330.9px,#58c765 0 338.8px,#5cc863 0 346.8px,#60ca60 0 354.8px,#69cd5b 0 362.8px,#70cf57 0 370.7px,#73d056 0 378.7px,#7fd34e 0 386.7px,#89d548 0 394.6px,#8ed645 0 402.6px,#98d83e 0 410.6px,#a2da37 0 426.5px,#aadc32 0 434.5px,#addc30 0 442.5px,#b2dd2d 0 450.5px,#b8de29 0 466.4px,#bade28 0 474.4px,#c5e021 0 482.3px,#d2e21b 0 490.3px,#b8de29 0 498.3px,#dae319 0 514.2px,#c2df23 0 522.2px,#c8e020 0 530.2px,#cde11d 0 538.2px,#c0df25 0 546.1px,#7fd34e 0 554.1px,#46c06f 0 562.1px,#26ad81 0 570.0px,#27ad81 0 578.0px,#2eb37c 0 586.0px,#27ad81 0 594.0px,#26ad81 0 601.9px,#34b679 0 609.9px,#1f988b 0 617.9px,#1fa287 0 625.9px,#1e9b8a 0 633.8px,#1fa188 0 641.8px,#1e9c89 0 657.7px,#29af7f 0 665.7px,#1e9b8a 0)"></i><i style="left:2814px;width:30px;background:linear-gradient(#440256 0 4.0px,#440154 0 35.9px,#460a5d 0 43.8px,#450559 0 51.8px,#440256 0 59.8px,#481467 0 67.8px,#481c6e 0 75.7px,#482475 0 83.7px,#46327e 0 91.7px,#443b84 0 99.7px,#433e85 0 107.6px,#404688 0 115.6px,#3b518b 0 123.6px,#39568c 0 131.5px,#38598c 0 139.5px,#32648e 0 155.5px,#2f6b8e 0 163.4px,#2d718e 0 171.4px,#2c738e 0 179.4px,#2a778e 0 187.4px,#287d8e 0 195.3px,#26828e 0 203.3px,#25848e 0 211.3px,#24878e 0 219.2px,#228c8d 0 227.2px,#21918c 0 235.2px,#1f968b 0 251.1px,#1e9b8a 0 259.1px,#1fa188 0 267.1px,#20a386 0 275.1px,#20a486 0 283.0px,#22a884 0 291.0px,#25ac82 0 299.0px,#29af7f 0 306.9px,#2eb37c 0 314.9px,#2fb47c 0 322.9px,#34b679 0 330.9px,#3aba76 0 346.8px,#3bbb75 0 354.8px,#46c06f 0 370.7px,#4ec36b 0 386.7px,#4cc26c 0 394.6px,#50c46a 0 402.6px,#54c568 0 410.6px,#56c667 0 418.6px,#5cc863 0 426.5px,#56c667 0 434.5px,#54c568 0 442.5px,#52c569 0 450.5px,#4cc26c 0 458.4px,#40bd72 0 466.4px,#52c569 0 474.4px,#44bf70 0 482.3px,#4cc26c 0 490.3px,#46c06f 0 498.3px,#1fa187 0 506.3px,#1f998a 0 514.2px,#1e9b8a 0 530.2px,#228b8d 0 538.2px,#26828e 0 546.1px,#25858e 0 554.1px,#32b67a 0 562.1px,#1f9e89 0 570.0px,#1f958b 0 578.0px,#238a8d 0 586.0px,#21a585 0 594.0px,#3aba76 0 601.9px,#35b779 0 609.9px,#1f9a8a 0 617.9px,#1f988b 0 625.9px,#23a983 0 633.8px,#1fa287 0 641.8px,#1f968b 0 649.8px,#1f948c 0 657.7px,#1f988b 0 665.7px,#24aa83 0)"></i><i style="left:2844px;width:30px;background:linear-gradient(#440154 0 19.9px,#450457 0 27.9px,#450559 0 35.9px,#440154 0 51.8px,#46075a 0 59.8px,#440154 0 75.7px,#481b6d 0 83.7px,#482173 0 91.7px,#472f7d 0 99.7px,#46337f 0 107.6px,#424086 0 115.6px,#424186 0 123.6px,#3d4e8a 0 139.5px,#3b528b 0 147.5px,#365d8d 0 155.5px,#34618d 0 163.4px,#30698e 0 171.4px,#2e6d8e 0 179.4px,#2e6f8e 0 187.4px,#2a768e 0 195.3px,#297a8e 0 203.3px,#277f8e 0 211.3px,#27808e 0 219.2px,#23898e 0 227.2px,#238a8d 0 235.2px,#218f8d 0 243.2px,#1f948c 0 251.1px,#1f998a 0 259.1px,#1f9a8a 0 267.1px,#1f9e89 0 275.1px,#21a585 0 283.0px,#23a983 0 291.0px,#24aa83 0 299.0px,#27ad81 0 306.9px,#2eb37c 0 314.9px,#2fb47c 0 322.9px,#2eb37c 0 330.9px,#38b977 0 346.8px,#3bbb75 0 354.8px,#42be71 0 362.8px,#4ac16d 0 370.7px,#46c06f 0 386.7px,#52c569 0 394.6px,#54c568 0 402.6px,#52c569 0 410.6px,#54c568 0 426.5px,#56c667 0 434.5px,#58c765 0 442.5px,#5ac864 0 450.5px,#5cc863 0 466.4px,#4ac16d 0 474.4px,#56c667 0 482.3px,#54c568 0 490.3px,#4ac16d 0 498.3px,#4ec36b 0 506.3px,#48c16e 0 514.2px,#38b977 0 522.2px,#32b67a 0 530.2px,#2db27d 0 538.2px,#46085c 0 546.1px,#1fa187 0 554.1px,#46085c 0 562.1px,#6ccd5a 0 570.0px,#2db27d 0 578.0px,#25ac82 0 586.0px,#26ad81 0 594.0px,#25ac82 0 609.9px,#25ab82 0 617.9px,#27ad81 0 625.9px,#21a585 0 633.8px,#1fa187 0 641.8px,#27ad81 0 649.8px,#1f9f88 0 657.7px,#20938c 0 665.7px,#218f8d 0)"></i><i style="left:2874px;width:30px;background:linear-gradient(#460a5d 0 4.0px,#450457 0 12.0px,#440154 0 19.9px,#450457 0 27.9px,#46075a 0 35.9px,#440154 0 67.8px,#440256 0 75.7px,#450457 0 83.7px,#481c6e 0 91.7px,#482173 0 99.7px,#472e7c 0 107.6px,#46337f 0 115.6px,#443983 0 123.6px,#424186 0 131.5px,#3d4d8a 0 139.5px,#38588c 0 147.5px,#365d8d 0 155.5px,#355f8d 0 163.4px,#33638d 0 171.4px,#31688e 0 179.4px,#2e6e8e 0 187.4px,#2b748e 0 195.3px,#2a768e 0 203.3px,#287d8e 0 211.3px,#26818e 0 219.2px,#25838e 0 227.2px,#228c8d 0 235.2px,#228b8d 0 243.2px,#218e8d 0 251.1px,#1f988b 0 259.1px,#1e9b8a 0 267.1px,#1f9e89 0 275.1px,#21a685 0 283.0px,#22a785 0 291.0px,#24aa83 0 299.0px,#29af7f 0 306.9px,#2db27d 0 314.9px,#32b67a 0 322.9px,#35b779 0 330.9px,#3aba76 0 338.8px,#3bbb75 0 346.8px,#3dbc74 0 354.8px,#42be71 0 362.8px,#44bf70 0 370.7px,#52c569 0 386.7px,#5ec962 0 402.6px,#65cb5e 0 410.6px,#6ece58 0 418.6px,#73d056 0 426.5px,#70cf57 0 434.5px,#73d056 0 450.5px,#7ad151 0 458.4px,#7cd250 0 466.4px,#5ec962 0 482.3px,#4ac16d 0 490.3px,#48c16e 0 498.3px,#58c765 0 506.3px,#50c46a 0 514.2px,#54c568 0 522.2px,#46c06f 0 530.2px,#3dbc74 0 538.2px,#25ab82 0 546.1px,#34b679 0 554.1px,#31b57b 0 562.1px,#20a486 0 578.0px,#27ad81 0 586.0px,#1fa187 0 594.0px,#1fa188 0 601.9px,#25ac82 0 609.9px,#22a884 0 617.9px,#25ac82 0 633.8px,#1fa088 0 641.8px,#20a386 0 649.8px,#1f9a8a 0 657.7px,#1f9e89 0 665.7px,#23a983 0)"></i><i style="left:2904px;width:31px;background:linear-gradient(#440256 0 12.0px,#440154 0 51.8px,#450559 0 59.8px,#440154 0 67.8px,#440256 0 75.7px,#450457 0 83.7px,#460a5d 0 91.7px,#481f70 0 99.7px,#482173 0 107.6px,#472c7a 0 115.6px,#433d84 0 123.6px,#423f85 0 131.5px,#424186 0 139.5px,#3c4f8a 0 147.5px,#39558c 0 155.5px,#375b8d 0 163.4px,#355f8d 0 171.4px,#32658e 0 179.4px,#30698e 0 187.4px,#2e6f8e 0 195.3px,#2b758e 0 203.3px,#297b8e 0 211.3px,#287d8e 0 219.2px,#27808e 0 227.2px,#25858e 0 235.2px,#23898e 0 243.2px,#228d8d 0 251.1px,#20938c 0 259.1px,#1f998a 0 267.1px,#1f9f88 0 275.1px,#1fa287 0 283.0px,#21a585 0 291.0px,#22a884 0 299.0px,#25ac82 0 306.9px,#28ae80 0 314.9px,#29af7f 0 322.9px,#2fb47c 0 330.9px,#32b67a 0 338.8px,#35b779 0 346.8px,#3bbb75 0 362.8px,#40bd72 0 370.7px,#3fbc73 0 378.7px,#44bf70 0 386.7px,#46c06f 0 394.6px,#52c569 0 402.6px,#4ec36b 0 410.6px,#54c568 0 442.5px,#52c569 0 450.5px,#5ac864 0 458.4px,#48c16e 0 466.4px,#4cc26c 0 474.4px,#3fbc73 0 482.3px,#2db27d 0 490.3px,#27ad81 0 498.3px,#38b977 0 506.3px,#2eb37c 0 514.2px,#31b57b 0 530.2px,#34618d 0 538.2px,#375b8d 0 546.1px,#25ab82 0 554.1px,#355f8d 0 562.1px,#1f968b 0 570.0px,#31668e 0 578.0px,#58c765 0 586.0px,#34b679 0 594.0px,#21a585 0 601.9px,#33628d 0 609.9px,#1e9d89 0 617.9px,#25ac82 0 625.9px,#37b878 0 633.8px,#1fa187 0 641.8px,#1e9c89 0 649.8px,#1f9f88 0 657.7px,#23a983 0 665.7px,#1f9e89 0)"></i><i style="left:2935px;width:30px;background:linear-gradient(#46085c 0 4.0px,#440154 0 19.9px,#440256 0 27.9px,#450457 0 43.8px,#46075a 0 51.8px,#440154 0 59.8px,#450457 0 75.7px,#440154 0 91.7px,#481b6d 0 99.7px,#481f70 0 107.6px,#472d7b 0 115.6px,#453882 0 123.6px,#443a83 0 131.5px,#404588 0 139.5px,#3d4e8a 0 147.5px,#3c4f8a 0 155.5px,#39558c 0 163.4px,#365d8d 0 171.4px,#33628d 0 179.4px,#31668e 0 187.4px,#2f6b8e 0 195.3px,#2d708e 0 203.3px,#2b758e 0 211.3px,#297b8e 0 219.2px,#27808e 0 227.2px,#26818e 0 235.2px,#238a8d 0 243.2px,#228d8d 0 251.1px,#20938c 0 259.1px,#1f998a 0 267.1px,#1e9c89 0 275.1px,#1fa287 0 283.0px,#20a386 0 291.0px,#22a785 0 299.0px,#27ad81 0 306.9px,#2cb17e 0 314.9px,#2eb37c 0 322.9px,#32b67a 0 330.9px,#35b779 0 338.8px,#38b977 0 346.8px,#37b878 0 354.8px,#3fbc73 0 362.8px,#40bd72 0 370.7px,#42be71 0 378.7px,#44bf70 0 386.7px,#4cc26c 0 394.6px,#4ec36b 0 402.6px,#52c569 0 418.6px,#54c568 0 434.5px,#58c765 0 442.5px,#5cc863 0 450.5px,#54c568 0 458.4px,#4cc26c 0 466.4px,#50c46a 0 482.3px,#5cc863 0 498.3px,#4ac16d 0 506.3px,#3fbc73 0 514.2px,#3dbc74 0 522.2px,#3aba76 0 530.2px,#24aa83 0 538.2px,#1fa088 0 546.1px,#29af7f 0 554.1px,#20a386 0 562.1px,#46085c 0 570.0px,#26ad81 0 578.0px,#365d8d 0 586.0px,#355f8d 0 594.0px,#1f998a 0 601.9px,#22a785 0 609.9px,#1f9e89 0 617.9px,#1f9a8a 0 625.9px,#28ae80 0 633.8px,#24aa83 0 641.8px,#1e9c89 0 649.8px,#1f998a 0 657.7px,#20a486 0 665.7px,#22a785 0)"></i><i style="left:2965px;width:30px;background:linear-gradient(#440154 0 19.9px,#46085c 0 27.9px,#440154 0 35.9px,#450457 0 43.8px,#440154 0 67.8px,#440256 0 75.7px,#440154 0 91.7px,#471063 0 99.7px,#481f70 0 107.6px,#482878 0 115.6px,#453882 0 123.6px,#443983 0 131.5px,#433d84 0 139.5px,#3f4788 0 147.5px,#3d4d8a 0 155.5px,#39558c 0 163.4px,#365c8d 0 171.4px,#355f8d 0 179.4px,#32658e 0 187.4px,#2f6b8e 0 195.3px,#2e6f8e 0 203.3px,#2c728e 0 211.3px,#297a8e 0 227.2px,#25848e 0 235.2px,#24878e 0 243.2px,#228d8d 0 251.1px,#20938c 0 259.1px,#1f988b 0 267.1px,#1f9e89 0 275.1px,#20a386 0 283.0px,#23a983 0 291.0px,#26ad81 0 299.0px,#2fb47c 0 306.9px,#2eb37c 0 314.9px,#35b779 0 322.9px,#3aba76 0 330.9px,#40bd72 0 338.8px,#42be71 0 346.8px,#44bf70 0 354.8px,#4ec36b 0 362.8px,#50c46a 0 370.7px,#58c765 0 378.7px,#65cb5e 0 386.7px,#69cd5b 0 394.6px,#6ece58 0 402.6px,#81d34d 0 426.5px,#8bd646 0 442.5px,#8ed645 0 458.4px,#7ad151 0 466.4px,#7fd34e 0 474.4px,#81d34d 0 482.3px,#7ad151 0 490.3px,#6ccd5a 0 498.3px,#63cb5f 0 506.3px,#5cc863 0 514.2px,#69cd5b 0 522.2px,#60ca60 0 530.2px,#4cc26c 0 538.2px,#4ac16d 0 546.1px,#25ac82 0 554.1px,#23a983 0 562.1px,#32b67a 0 570.0px,#3aba76 0 578.0px,#21a685 0 586.0px,#2ab07f 0 594.0px,#2fb47c 0 609.9px,#1f9f88 0 617.9px,#1fa187 0 625.9px,#1f9e89 0 633.8px,#25ab82 0 641.8px,#1e9c89 0 649.8px,#21a585 0 657.7px,#228d8d 0 665.7px,#20938c 0)"></i><i style="left:2995px;width:30px;background:linear-gradient(#450457 0 4.0px,#440154 0 51.8px,#46085c 0 59.8px,#440154 0 67.8px,#450457 0 75.7px,#481668 0 83.7px,#482374 0 91.7px,#482576 0 99.7px,#46337f 0 107.6px,#453581 0 115.6px,#423f85 0 123.6px,#3f4889 0 131.5px,#3e4a89 0 139.5px,#3a538b 0 147.5px,#355f8d 0 155.5px,#33638d 0 163.4px,#32658e 0 171.4px,#2f6c8e 0 179.4px,#2c718e 0 187.4px,#2c728e 0 195.3px,#29798e 0 203.3px,#277f8e 0 211.3px,#26828e 0 219.2px,#25848e 0 227.2px,#23898e 0 235.2px,#21918c 0 243.2px,#21908d 0 251.1px,#1f9a8a 0 259.1px,#1fa088 0 267.1px,#1fa188 0 275.1px,#20a386 0 283.0px,#23a983 0 291.0px,#26ad81 0 299.0px,#29af7f 0 306.9px,#2db27d 0 314.9px,#2fb47c 0 322.9px,#3aba76 0 330.9px,#38b977 0 338.8px,#3bbb75 0 346.8px,#40bd72 0 354.8px,#46c06f 0 362.8px,#48c16e 0 370.7px,#4ec36b 0 378.7px,#56c667 0 394.6px,#5ec962 0 402.6px,#65cb5e 0 410.6px,#60ca60 0 418.6px,#63cb5f 0 426.5px,#67cc5c 0 434.5px,#6ece58 0 442.5px,#73d056 0 450.5px,#77d153 0 458.4px,#70cf57 0 466.4px,#65cb5e 0 474.4px,#5ac864 0 482.3px,#44bf70 0 490.3px,#42be71 0 498.3px,#3fbc73 0 506.3px,#37b878 0 514.2px,#3aba76 0 522.2px,#40bd72 0 530.2px,#4ec36b 0 538.2px,#3fbc73 0 546.1px,#27ad81 0 554.1px,#1fa188 0 562.1px,#20a386 0 570.0px,#32b67a 0 578.0px,#2fb47c 0 594.0px,#1fa088 0 601.9px,#1f9e89 0 609.9px,#27ad81 0 617.9px,#2fb47c 0 625.9px,#1fa187 0 633.8px,#27ad81 0 641.8px,#20a486 0 649.8px,#1f998a 0 657.7px,#1e9b8a 0 665.7px,#1f958b 0)"></i><i style="left:3025px;width:31px;background:linear-gradient(#440154 0 35.9px,#450457 0 43.8px,#440154 0 67.8px,#481467 0 75.7px,#482173 0 83.7px,#482576 0 91.7px,#46337f 0 99.7px,#443a83 0 107.6px,#424186 0 115.6px,#3e4989 0 123.6px,#3d4e8a 0 131.5px,#3b518b 0 139.5px,#375b8d 0 147.5px,#33628d 0 163.4px,#2f6b8e 0 171.4px,#2c718e 0 179.4px,#2b758e 0 187.4px,#29798e 0 195.3px,#277e8e 0 203.3px,#25848e 0 211.3px,#23888e 0 219.2px,#228c8d 0 227.2px,#218e8d 0 235.2px,#21918c 0 243.2px,#20928c 0 251.1px,#1f9a8a 0 259.1px,#1e9c89 0 267.1px,#1fa188 0 275.1px,#21a585 0 283.0px,#22a884 0 291.0px,#25ab82 0 306.9px,#2ab07f 0 314.9px,#2db27d 0 322.9px,#31b57b 0 330.9px,#35b779 0 338.8px,#34b679 0 346.8px,#35b779 0 354.8px,#3dbc74 0 362.8px,#46c06f 0 378.7px,#48c16e 0 386.7px,#46c06f 0 394.6px,#40bd72 0 402.6px,#3dbc74 0 410.6px,#38b977 0 418.6px,#37b878 0 426.5px,#35b779 0 434.5px,#37b878 0 450.5px,#3aba76 0 458.4px,#34b679 0 466.4px,#1e9d89 0 474.4px,#1f958b 0 482.3px,#1f988b 0 490.3px,#1f9a8a 0 498.3px,#1f958b 0 514.2px,#228c8d 0 522.2px,#1f958b 0 530.2px,#218f8d 0 538.2px,#21908d 0 546.1px,#355f8d 0 554.1px,#46085c 0 562.1px,#33638d 0 570.0px,#46085c 0 578.0px,#60ca60 0 586.0px,#4ac16d 0 594.0px,#24aa83 0 601.9px,#38598c 0 609.9px,#1f978b 0 617.9px,#1e9c89 0 625.9px,#21a685 0 633.8px,#20a486 0 641.8px,#22a884 0 649.8px,#2cb17e 0 657.7px,#1f988b 0 665.7px,#20a486 0)"></i></div>
<svg width="3840" height="2160" viewBox="0 0 3840 2160">
<defs><pattern id="hx" width="40" height="40" patternUnits="userSpaceOnUse"><path d="M-10-10L50 50M-10 30L10 50M30-10L50 10M50-10L-10 50M10-10L-10 10M50 30L30 50" stroke="#888" stroke-width="3" fill="none"/></pattern></defs>
<clipPath id="nd1"><rect x="364.0" y="842.5" width="34.9" height="43.9"/><rect x="398.3" y="834.6" width="34.9" height="51.8"/><rect x="570.0" y="770.7" width="34.9" height="115.7"/><rect x="604.3" y="762.8" width="34.9" height="123.6"/><rect x="638.6" y="874.4" width="34.9" height="12.0"/><rect x="741.6" y="770.7" width="34.9" height="115.7"/><rect x="775.9" y="842.5" width="34.9" height="43.9"/><rect x="947.5" y="778.7" width="34.9" height="107.7"/><rect x="981.8" y="810.6" width="34.9" height="75.8"/><rect x="1016.2" y="746.8" width="34.9" height="139.6"/><rect x="1050.5" y="762.8" width="34.9" height="123.6"/><rect x="1256.4" y="770.7" width="34.9" height="115.7"/><rect x="1290.8" y="778.7" width="34.9" height="107.7"/><rect x="1325.1" y="778.7" width="34.9" height="107.7"/><rect x="1462.4" y="778.7" width="34.9" height="107.7"/><rect x="1496.7" y="826.6" width="34.9" height="59.8"/><rect x="1599.7" y="802.6" width="34.9" height="83.8"/><rect x="1634.0" y="858.5" width="34.9" height="27.9"/><rect x="1737.0" y="826.6" width="34.9" height="59.8"/><rect x="1805.6" y="754.8" width="34.9" height="131.6"/><rect x="2114.5" y="810.6" width="34.9" height="75.8"/><rect x="2183.2" y="834.6" width="34.9" height="51.8"/><rect x="2423.4" y="834.6" width="34.9" height="51.8"/><rect x="2457.8" y="866.5" width="34.9" height="19.9"/><rect x="2595.1" y="842.5" width="34.9" height="43.9"/><rect x="2663.7" y="858.5" width="34.9" height="27.9"/><rect x="2835.3" y="858.5" width="34.9" height="27.9"/><rect x="2904.0" y="818.6" width="34.9" height="67.8"/><rect x="2938.3" y="794.7" width="34.9" height="91.7"/></clipPath><clipPath id="ax1"><rect x="192.7" y="216.4" width="3054.8" height="670.0"/></clipPath><g clip-path="url(#nd1)"><rect x="192.7" y="216.4" width="3054.8" height="670.0" fill="#000"/><rect x="192.7" y="216.4" width="3054.8" height="670.0" fill="url(#hx)"/></g><g clip-path="url(#ax1)"><polyline points="209.9,757.3 244.2,746.0 278.5,746.8 312.8,762.1 347.2,771.7 381.5,746.0 415.8,744.9 450.1,762.1 484.5,746.3 518.8,746.3 553.1,746.0 587.4,751.6 621.7,746.0 656.1,746.0 690.4,756.2 724.7,746.0 759.0,761.5 793.4,746.0 827.7,762.1 862.0,762.1 896.3,746.0 930.7,746.0 965.0,746.0 999.3,761.5 1033.6,761.0 1068.0,750.8 1102.3,746.0 1136.6,762.1 1170.9,762.1 1205.2,756.2 1239.6,762.1 1273.9,762.1 1308.2,756.2 1342.5,762.1 1376.9,748.7 1411.2,746.8 1445.5,745.5 1479.8,761.5 1514.2,745.5 1548.5,763.4 1582.8,762.1 1617.1,762.1 1651.5,760.2 1685.8,762.1 1720.1,762.1 1754.4,762.1 1788.7,746.8 1823.1,746.0 1857.4,746.0 1891.7,759.4 1926.0,731.5 1960.4,762.1 1994.7,762.1 2029.0,762.1 2063.3,777.6 2097.7,760.2 2132.0,762.1 2166.3,746.8 2200.6,746.0 2235.0,746.8 2269.3,732.0 2303.6,746.8 2337.9,795.0 2372.2,763.4 2406.6,763.4 2440.9,765.6 2475.2,779.5 2509.5,763.4 2543.9,803.1 2578.2,748.1 2612.5,746.8 2646.8,762.1 2681.2,748.1 2715.5,758.8 2749.8,774.9 2784.1,762.1 2818.5,779.5 2852.8,807.1 2887.1,764.2 2921.4,804.7 2955.7,781.1 2990.1,773.0 3024.4,815.1 3058.7,764.8 3093.0,762.6 3127.4,747.5 3161.7,760.9 3196.0,771.7 3230.3,833.6" fill="none" stroke="#000" stroke-width="17" stroke-dasharray="37 16"/><polyline points="209.9,757.3 244.2,746.0 278.5,746.8 312.8,762.1 347.2,771.7 381.5,746.0 415.8,744.9 450.1,762.1 484.5,746.3 518.8,746.3 553.1,746.0 587.4,751.6 621.7,746.0 656.1,746.0 690.4,756.2 724.7,746.0 759.0,761.5 793.4,746.0 827.7,762.1 862.0,762.1 896.3,746.0 930.7,746.0 965.0,746.0 999.3,761.5 1033.6,761.0 1068.0,750.8 1102.3,746.0 1136.6,762.1 1170.9,762.1 1205.2,756.2 1239.6,762.1 1273.9,762.1 1308.2,756.2 1342.5,762.1 1376.9,748.7 1411.2,746.8 1445.5,745.5 1479.8,761.5 1514.2,745.5 1548.5,763.4 1582.8,762.1 1617.1,762.1 1651.5,760.2 1685.8,762.1 1720.1,762.1 1754.4,762.1 1788.7,746.8 1823.1,746.0 1857.4,746.0 1891.7,759.4 1926.0,731.5 1960.4,762.1 1994.7,762.1 2029.0,762.1 2063.3,777.6 2097.7,760.2 2132.0,762.1 2166.3,746.8 2200.6,746.0 2235.0,746.8 2269.3,732.0 2303.6,746.8 2337.9,795.0 2372.2,763.4 2406.6,763.4 2440.9,765.6 2475.2,779.5 2509.5,763.4 2543.9,803.1 2578.2,748.1 2612.5,746.8 2646.8,762.1 2681.2,748.1 2715.5,758.8 2749.8,774.9 2784.1,762.1 2818.5,779.5 2852.8,807.1 2887.1,764.2 2921.4,804.7 2955.7,781.1 2990.1,773.0 3024.4,815.1 3058.7,764.8 3093.0,762.6 3127.4,747.5 3161.7,760.9 3196.0,771.7 3230.3,833.6" fill="none" stroke="#fff" stroke-width="10.5" stroke-dasharray="37 16"/><g fill="#fff" stroke="#000" stroke-width="6.6"><circle cx="209.9" cy="757.3" r="15"/><circle cx="244.2" cy="746.0" r="15"/><circle cx="278.5" cy="746.8" r="15"/><circle cx="312.8" cy="762.1" r="15"/><circle cx="347.2" cy="771.7" r="15"/><circle cx="381.5" cy="746.0" r="15"/><circle cx="415.8" cy="744.9" r="15"/><circle cx="450.1" cy="762.1" r="15"/><circle cx="484.5" cy="746.3" r="15"/><circle cx="518.8" cy="746.3" r="15"/><circle cx="553.1" cy="746.0" r="15"/><circle cx="587.4" cy="751.6" r="15"/><circle cx="621.7" cy="746.0" r="15"/><circle cx="656.1" cy="746.0" r="15"/><circle cx="690.4" cy="756.2" r="15"/><circle cx="724.7" cy="746.0" r="15"/><circle cx="759.0" cy="761.5" r="15"/><circle cx="793.4" cy="746.0" r="15"/><circle cx="827.7" cy="762.1" r="15"/><circle cx="862.0" cy="762.1" r="15"/><circle cx="896.3" cy="746.0" r="15"/><circle cx="930.7" cy="746.0" r="15"/><circle cx="965.0" cy="746.0" r="15"/><circle cx="999.3" cy="761.5" r="15"/><circle cx="1033.6" cy="761.0" r="15"/><circle cx="1068.0" cy="750.8" r="15"/><circle cx="1102.3" cy="746.0" r="15"/><circle cx="1136.6" cy="762.1" r="15"/><circle cx="1170.9" cy="762.1" r="15"/><circle cx="1205.2" cy="756.2" r="15"/><circle cx="1239.6" cy="762.1" r="15"/><circle cx="1273.9" cy="762.1" r="15"/><circle cx="1308.2" cy="756.2" r="15"/><circle cx="1342.5" cy="762.1" r="15"/><circle cx="1376.9" cy="748.7" r="15"/><circle cx="1411.2" cy="746.8" r="15"/><circle cx="1445.5" cy="745.5" r="15"/><circle cx="1479.8" cy="761.5" r="15"/><circle cx="1514.2" cy="745.5" r="15"/><circle cx="1548.5" cy="763.4" r="15"/><circle cx="1582.8" cy="762.1" r="15"/><circle cx="1617.1" cy="762.1" r="15"/><circle cx="1651.5" cy="760.2" r="15"/><circle cx="1685.8" cy="762.1" r="15"/><circle cx="1720.1" cy="762.1" r="15"/><circle cx="1754.4" cy="762.1" r="15"/><circle cx="1788.7" cy="746.8" r="15"/><circle cx="1823.1" cy="746.0" r="15"/><circle cx="1857.4" cy="746.0" r="15"/><circle cx="1891.7" cy="759.4" r="15"/><circle cx="1926.0" cy="731.5" r="15"/><circle cx="1960.4" cy="762.1" r="15"/><circle cx="1994.7" cy="762.1" r="15"/><circle cx="2029.0" cy="762.1" r="15"/><circle cx="2063.3" cy="777.6" r="15"/><circle cx="2097.7" cy="760.2" r="15"/><circle cx="2132.0" cy="762.1" r="15"/><circle cx="2166.3" cy="746.8" r="15"/><circle cx="2200.6" cy="746.0" r="15"/><circle cx="2235.0" cy="746.8" r="15"/><circle cx="2269.3" cy="732.0" r="15"/><circle cx="2303.6" cy="746.8" r="15"/><circle cx="2337.9" cy="795.0" r="15"/><circle cx="2372.2" cy="763.4" r="15"/><circle cx="2406.6" cy="763.4" r="15"/><circle cx="2440.9" cy="765.6" r="15"/><circle cx="2475.2" cy="779.5" r="15"/><circle cx="2509.5" cy="763.4" r="15"/><circle cx="2543.9" cy="803.1" r="15"/><circle cx="2578.2" cy="748.1" r="15"/><circle cx="2612.5" cy="746.8" r="15"/><circle cx="2646.8" cy="762.1" r="15"/><circle cx="2681.2" cy="748.1" r="15"/><circle cx="2715.5" cy="758.8" r="15"/><circle cx="2749.8" cy="774.9" r="15"/><circle cx="2784.1" cy="762.1" r="15"/><circle cx="2818.5" cy="779.5" r="15"/><circle cx="2852.8" cy="807.1" r="15"/><circle cx="2887.1" cy="764.2" r="15"/><circle cx="2921.4" cy="804.7" r="15"/><circle cx="2955.7" cy="781.1" r="15"/><circle cx="2990.1" cy="773.0" r="15"/><circle cx="3024.4" cy="815.1" r="15"/><circle cx="3058.7" cy="764.8" r="15"/><circle cx="3093.0" cy="762.6" r="15"/><circle cx="3127.4" cy="747.5" r="15"/><circle cx="3161.7" cy="760.9" r="15"/><circle cx="3196.0" cy="771.7" r="15"/><circle cx="3230.3" cy="833.6" r="15"/></g></g>
<clipPath id="nd2"><rect x="222.6" y="1870.0" width="30.8" height="19.9"/><rect x="313.4" y="1870.0" width="30.8" height="19.9"/><rect x="525.1" y="1877.9" width="30.8" height="12.0"/><rect x="676.3" y="1877.9" width="30.8" height="12.0"/><rect x="767.1" y="1870.0" width="30.8" height="19.9"/><rect x="918.3" y="1870.0" width="30.8" height="19.9"/><rect x="948.5" y="1877.9" width="30.8" height="12.0"/><rect x="978.8" y="1877.9" width="30.8" height="12.0"/><rect x="1069.5" y="1885.9" width="30.8" height="4.0"/><rect x="1099.8" y="1885.9" width="30.8" height="4.0"/><rect x="1220.7" y="1870.0" width="30.8" height="19.9"/><rect x="1341.7" y="1877.9" width="30.8" height="12.0"/><rect x="1493.0" y="1870.0" width="30.8" height="19.9"/><rect x="1553.4" y="1870.0" width="30.8" height="19.9"/><rect x="1704.7" y="1814.2" width="30.8" height="75.7"/><rect x="1734.9" y="1854.0" width="30.8" height="35.9"/><rect x="1855.9" y="1870.0" width="30.8" height="19.9"/><rect x="2007.1" y="1814.2" width="30.8" height="75.7"/><rect x="2037.4" y="1862.0" width="30.8" height="27.9"/><rect x="2188.6" y="1870.0" width="30.8" height="19.9"/><rect x="2279.3" y="1870.0" width="30.8" height="19.9"/><rect x="2339.8" y="1885.9" width="30.8" height="4.0"/><rect x="2430.6" y="1854.0" width="30.8" height="35.9"/><rect x="2733.0" y="1862.0" width="30.8" height="27.9"/><rect x="2763.3" y="1854.0" width="30.8" height="35.9"/><rect x="3186.7" y="1854.0" width="30.8" height="35.9"/></clipPath><clipPath id="ax2"><rect x="192.7" y="1220.2" width="3054.8" height="669.7"/></clipPath><g clip-path="url(#nd2)"><rect x="192.7" y="1220.2" width="3054.8" height="669.7" fill="#000"/><rect x="192.7" y="1220.2" width="3054.8" height="669.7" fill="url(#hx)"/></g><g clip-path="url(#ax2)"><polyline points="207.8,1889.9 238.1,1842.5 268.3,1894.7 298.6,1868.5 328.8,1852.4 359.1,1879.9 389.3,1897.9 419.5,1873.6 449.8,1874.9 480.0,1851.2 510.3,1921.8 540.5,1835.0 570.8,1881.1 601.0,1868.5 631.3,1881.1 661.5,1846.2 691.8,1858.6 722.0,1897.9 752.2,1872.4 782.5,1851.2 812.7,1869.8 843.0,1856.3 873.2,1839.5 903.5,1893.1 933.7,1853.7 964.0,1876.0 994.2,1856.3 1024.5,1876.0 1054.7,1868.5 1084.9,1872.4 1115.2,1864.9 1145.4,1871.1 1175.7,1894.7 1205.9,1886.1 1236.2,1851.2 1266.4,1857.4 1296.7,1921.8 1326.9,1827.1 1357.2,1864.9 1387.4,1871.1 1417.6,1853.7 1447.9,1872.4 1478.1,1863.6 1508.4,1905.8 1538.6,1894.7 1568.9,1855.0 1599.1,1891.0 1629.4,1899.5 1659.6,1881.1 1689.9,1866.1 1720.1,1832.5 1750.3,1854.5 1780.6,1840.0 1810.8,1873.6 1841.1,1851.2 1871.3,1853.7 1901.6,1855.0 1931.8,1896.3 1962.1,1874.9 1992.3,1872.4 2022.6,1830.1 2052.8,1848.8 2083.0,1897.9 2113.3,1851.2 2143.5,1858.6 2173.8,1857.4 2204.0,1856.3 2234.3,1856.3 2264.5,1879.9 2294.8,1855.0 2325.0,1855.0 2355.3,1869.8 2385.5,1874.9 2415.7,1856.3 2446.0,1832.0 2476.2,1882.2 2506.5,1868.5 2536.7,1887.3 2567.0,1883.5 2597.2,1842.5 2627.5,1858.6 2657.7,1858.6 2688.0,1857.4 2718.2,1871.1 2748.4,1842.5 2778.7,1869.8 2808.9,1897.9 2839.2,1886.1 2869.4,1855.0 2899.7,1899.5 2929.9,1883.5 2960.2,1868.5 2990.4,1889.9 3020.7,1874.9 3050.9,1852.4 3081.1,1855.0 3111.4,1857.4 3141.6,1872.4 3171.9,1866.1 3202.1,1838.1 3232.4,1874.4" fill="none" stroke="#000" stroke-width="17" stroke-dasharray="37 16"/><polyline points="207.8,1889.9 238.1,1842.5 268.3,1894.7 298.6,1868.5 328.8,1852.4 359.1,1879.9 389.3,1897.9 419.5,1873.6 449.8,1874.9 480.0,1851.2 510.3,1921.8 540.5,1835.0 570.8,1881.1 601.0,1868.5 631.3,1881.1 661.5,1846.2 691.8,1858.6 722.0,1897.9 752.2,1872.4 782.5,1851.2 812.7,1869.8 843.0,1856.3 873.2,1839.5 903.5,1893.1 933.7,1853.7 964.0,1876.0 994.2,1856.3 1024.5,1876.0 1054.7,1868.5 1084.9,1872.4 1115.2,1864.9 1145.4,1871.1 1175.7,1894.7 1205.9,1886.1 1236.2,1851.2 1266.4,1857.4 1296.7,1921.8 1326.9,1827.1 1357.2,1864.9 1387.4,1871.1 1417.6,1853.7 1447.9,1872.4 1478.1,1863.6 1508.4,1905.8 1538.6,1894.7 1568.9,1855.0 1599.1,1891.0 1629.4,1899.5 1659.6,1881.1 1689.9,1866.1 1720.1,1832.5 1750.3,1854.5 1780.6,1840.0 1810.8,1873.6 1841.1,1851.2 1871.3,1853.7 1901.6,1855.0 1931.8,1896.3 1962.1,1874.9 1992.3,1872.4 2022.6,1830.1 2052.8,1848.8 2083.0,1897.9 2113.3,1851.2 2143.5,1858.6 2173.8,1857.4 2204.0,1856.3 2234.3,1856.3 2264.5,1879.9 2294.8,1855.0 2325.0,1855.0 2355.3,1869.8 2385.5,1874.9 2415.7,1856.3 2446.0,1832.0 2476.2,1882.2 2506.5,1868.5 2536.7,1887.3 2567.0,1883.5 2597.2,1842.5 2627.5,1858.6 2657.7,1858.6 2688.0,1857.4 2718.2,1871.1 2748.4,1842.5 2778.7,1869.8 2808.9,1897.9 2839.2,1886.1 2869.4,1855.0 2899.7,1899.5 2929.9,1883.5 2960.2,1868.5 2990.4,1889.9 3020.7,1874.9 3050.9,1852.4 3081.1,1855.0 3111.4,1857.4 3141.6,1872.4 3171.9,1866.1 3202.1,1838.1 3232.4,1874.4" fill="none" stroke="#fff" stroke-width="10.5" stroke-dasharray="37 16"/><g fill="#fff" stroke="#000" stroke-width="6.6"><circle cx="207.8" cy="1889.9" r="15"/><circle cx="238.1" cy="1842.5" r="15"/><circle cx="268.3" cy="1894.7" r="15"/><circle cx="298.6" cy="1868.5" r="15"/><circle cx="328.8" cy="1852.4" r="15"/><circle cx="359.1" cy="1879.9" r="15"/><circle cx="389.3" cy="1897.9" r="15"/><circle cx="419.5" cy="1873.6" r="15"/><circle cx="449.8" cy="1874.9" r="15"/><circle cx="480.0" cy="1851.2" r="15"/><circle cx="510.3" cy="1921.8" r="15"/><circle cx="540.5" cy="1835.0" r="15"/><circle cx="570.8" cy="1881.1" r="15"/><circle cx="601.0" cy="1868.5" r="15"/><circle cx="631.3" cy="1881.1" r="15"/><circle cx="661.5" cy="1846.2" r="15"/><circle cx="691.8" cy="1858.6" r="15"/><circle cx="722.0" cy="1897.9" r="15"/><circle cx="752.2" cy="1872.4" r="15"/><circle cx="782.5" cy="1851.2" r="15"/><circle cx="812.7" cy="1869.8" r="15"/><circle cx="843.0" cy="1856.3" r="15"/><circle cx="873.2" cy="1839.5" r="15"/><circle cx="903.5" cy="1893.1" r="15"/><circle cx="933.7" cy="1853.7" r="15"/><circle cx="964.0" cy="1876.0" r="15"/><circle cx="994.2" cy="1856.3" r="15"/><circle cx="1024.5" cy="1876.0" r="15"/><circle cx="1054.7" cy="1868.5" r="15"/><circle cx="1084.9" cy="1872.4" r="15"/><circle cx="1115.2" cy="1864.9" r="15"/><circle cx="1145.4" cy="1871.1" r="15"/><circle cx="1175.7" cy="1894.7" r="15"/><circle cx="1205.9" cy="1886.1" r="15"/><circle cx="1236.2" cy="1851.2" r="15"/><circle cx="1266.4" cy="1857.4" r="15"/><circle cx="1296.7" cy="1921.8" r="15"/><circle cx="1326.9" cy="1827.1" r="15"/><circle cx="1357.2" cy="1864.9" r="15"/><circle cx="1387.4" cy="1871.1" r="15"/><circle cx="1417.6" cy="1853.7" r="15"/><circle cx="1447.9" cy="1872.4" r="15"/><circle cx="1478.1" cy="1863.6" r="15"/><circle cx="1508.4" cy="1905.8" r="15"/><circle cx="1538.6" cy="1894.7" r="15"/><circle cx="1568.9" cy="1855.0" r="15"/><circle cx="1599.1" cy="1891.0" r="15"/><circle cx="1629.4" cy="1899.5" r="15"/><circle cx="1659.6" cy="1881.1" r="15"/><circle cx="1689.9" cy="1866.1" r="15"/><circle cx="1720.1" cy="1832.5" r="15"/><circle cx="1750.3" cy="1854.5" r="15"/><circle cx="1780.6" cy="1840.0" r="15"/><circle cx="1810.8" cy="1873.6" r="15"/><circle cx="1841.1" cy="1851.2" r="15"/><circle cx="1871.3" cy="1853.7" r="15"/><circle cx="1901.6" cy="1855.0" r="15"/><circle cx="1931.8" cy="1896.3" r="15"/><circle cx="1962.1" cy="1874.9" r="15"/><circle cx="1992.3" cy="1872.4" r="15"/><circle cx="2022.6" cy="1830.1" r="15"/><circle cx="2052.8" cy="1848.8" r="15"/><circle cx="2083.0" cy="1897.9" r="15"/><circle cx="2113.3" cy="1851.2" r="15"/><circle cx="2143.5" cy="1858.6" r="15"/><circle cx="2173.8" cy="1857.4" r="15"/><circle cx="2204.0" cy="1856.3" r="15"/><circle cx="2234.3" cy="1856.3" r="15"/><circle cx="2264.5" cy="1879.9" r="15"/><circle cx="2294.8" cy="1855.0" r="15"/><circle cx="2325.0" cy="1855.0" r="15"/><circle cx="2355.3" cy="1869.8" r="15"/><circle cx="2385.5" cy="1874.9" r="15"/><circle cx="2415.7" cy="1856.3" r="15"/><circle cx="2446.0" cy="1832.0" r="15"/><circle cx="2476.2" cy="1882.2" r="15"/><circle cx="2506.5" cy="1868.5" r="15"/><circle cx="2536.7" cy="1887.3" r="15"/><circle cx="2567.0" cy="1883.5" r="15"/><circle cx="2597.2" cy="1842.5" r="15"/><circle cx="2627.5" cy="1858.6" r="15"/><circle cx="2657.7" cy="1858.6" r="15"/><circle cx="2688.0" cy="1857.4" r="15"/><circle cx="2718.2" cy="1871.1" r="15"/><circle cx="2748.4" cy="1842.5" r="15"/><circle cx="2778.7" cy="1869.8" r="15"/><circle cx="2808.9" cy="1897.9" r="15"/><circle cx="2839.2" cy="1886.1" r="15"/><circle cx="2869.4" cy="1855.0" r="15"/><circle cx="2899.7" cy="1899.5" r="15"/><circle cx="2929.9" cy="1883.5" r="15"/><circle cx="2960.2" cy="1868.5" r="15"/><circle cx="2990.4" cy="1889.9" r="15"/><circle cx="3020.7" cy="1874.9" r="15"/><circle cx="3050.9" cy="1852.4" r="15"/><circle cx="3081.1" cy="1855.0" r="15"/><circle cx="3111.4" cy="1857.4" r="15"/><circle cx="3141.6" cy="1872.4" r="15"/><circle cx="3171.9" cy="1866.1" r="15"/><circle cx="3202.1" cy="1838.1" r="15"/><circle cx="3232.4" cy="1874.4" r="15"/></g></g>
<rect x="192.70" y="216.40" width="3054.80" height="670.00" fill="none" stroke="#fff" stroke-width="5.33"/><rect x="180.1" y="852.70" width="10.4" height="3.6" fill="#fff"/><text x="114.5" y="871.9" font-size="47.6" textLength="54.0" lengthAdjust="spacingAndGlyphs" stroke-width="0.81">10</text><rect x="180.1" y="693.17" width="10.4" height="3.6" fill="#fff"/><text x="114.5" y="712.4" font-size="47.6" textLength="54.0" lengthAdjust="spacingAndGlyphs" stroke-width="0.81">20</text><rect x="180.1" y="533.65" width="10.4" height="3.6" fill="#fff"/><text x="114.5" y="552.8" font-size="47.6" textLength="54.0" lengthAdjust="spacingAndGlyphs" stroke-width="0.81">30</text><rect x="180.1" y="374.12" width="10.4" height="3.6" fill="#fff"/><text x="114.5" y="393.3" font-size="47.6" textLength="54.0" lengthAdjust="spacingAndGlyphs" stroke-width="0.81">40</text><rect x="180.1" y="214.60" width="10.4" height="3.6" fill="#fff"/><text x="114.5" y="233.8" font-size="47.6" textLength="54.0" lengthAdjust="spacingAndGlyphs" stroke-width="0.81">50</text><rect x="198.3" y="886.4" width="23.2" height="8.4" fill="#fff"/><text x="184.8" y="941.2" font-size="46.2" textLength="49.3" lengthAdjust="spacingAndGlyphs" stroke-width="0.79">17</text><rect x="610.1" y="886.4" width="23.2" height="8.4" fill="#fff"/><text x="596.5" y="941.2" font-size="46.2" textLength="49.3" lengthAdjust="spacingAndGlyphs" stroke-width="0.79">18</text><rect x="987.7" y="886.4" width="23.2" height="8.4" fill="#fff"/><text x="974.1" y="941.2" font-size="46.2" textLength="49.3" lengthAdjust="spacingAndGlyphs" stroke-width="0.79">19</text><rect x="1365.3" y="886.4" width="23.2" height="8.4" fill="#fff"/><text x="1351.0" y="941.2" font-size="46.2" textLength="51.4" lengthAdjust="spacingAndGlyphs" stroke-width="0.79">20</text><rect x="1845.8" y="886.4" width="23.2" height="8.4" fill="#fff"/><text x="1832.8" y="941.2" font-size="46.2" textLength="49.3" lengthAdjust="spacingAndGlyphs" stroke-width="0.79">21</text><rect x="2257.7" y="886.4" width="23.2" height="8.4" fill="#fff"/><text x="2243.7" y="941.2" font-size="46.2" textLength="51.4" lengthAdjust="spacingAndGlyphs" stroke-width="0.79">22</text><rect x="2738.2" y="886.4" width="23.2" height="8.4" fill="#fff"/><text x="2724.0" y="941.2" font-size="46.2" textLength="51.4" lengthAdjust="spacingAndGlyphs" stroke-width="0.79">23</text><rect x="190.0" y="966.9" width="3060.2" height="5" fill="#fff"/><rect x="198.3" y="969.4" width="23.2" height="8.4" fill="#fff"/><text x="169.6" y="1023.6" font-size="46.8" textLength="78.7" lengthAdjust="spacingAndGlyphs" stroke-width="0.80">Oct</text><rect x="190.0" y="1051.1" width="3060.2" height="5" fill="#fff"/><rect x="198.3" y="1053.6" width="23.2" height="8.4" fill="#fff"/><text x="158.2" y="1107.8" font-size="46.2" textLength="100.9" lengthAdjust="spacingAndGlyphs" stroke-width="0.79">2021</text>
<rect x="192.70" y="1220.20" width="3054.80" height="669.70" fill="none" stroke="#fff" stroke-width="5.33"/><rect x="180.1" y="1856.21" width="10.4" height="3.6" fill="#fff"/><text x="114.5" y="1875.4" font-size="47.6" textLength="54.0" lengthAdjust="spacingAndGlyphs" stroke-width="0.81">10</text><rect x="180.1" y="1696.76" width="10.4" height="3.6" fill="#fff"/><text x="114.5" y="1716.0" font-size="47.6" textLength="54.0" lengthAdjust="spacingAndGlyphs" stroke-width="0.81">20</text><rect x="180.1" y="1537.30" width="10.4" height="3.6" fill="#fff"/><text x="114.5" y="1556.5" font-size="47.6" textLength="54.0" lengthAdjust="spacingAndGlyphs" stroke-width="0.81">30</text><rect x="180.1" y="1377.85" width="10.4" height="3.6" fill="#fff"/><text x="114.5" y="1397.1" font-size="47.6" textLength="54.0" lengthAdjust="spacingAndGlyphs" stroke-width="0.81">40</text><rect x="180.1" y="1218.40" width="10.4" height="3.6" fill="#fff"/><text x="114.5" y="1237.6" font-size="47.6" textLength="54.0" lengthAdjust="spacingAndGlyphs" stroke-width="0.81">50</text><rect x="196.2" y="1889.9" width="23.2" height="8.4" fill="#fff"/><text x="182.8" y="1944.7" font-size="46.2" textLength="49.3" lengthAdjust="spacingAndGlyphs" stroke-width="0.79">17</text><rect x="589.4" y="1889.9" width="23.2" height="8.4" fill="#fff"/><text x="575.7" y="1944.7" font-size="46.2" textLength="49.3" lengthAdjust="spacingAndGlyphs" stroke-width="0.79">18</text><rect x="1043.1" y="1889.9" width="23.2" height="8.4" fill="#fff"/><text x="1029.5" y="1944.7" font-size="46.2" textLength="49.3" lengthAdjust="spacingAndGlyphs" stroke-width="0.79">19</text><rect x="1527.0" y="1889.9" width="23.2" height="8.4" fill="#fff"/><text x="1512.7" y="1944.7" font-size="46.2" textLength="51.4" lengthAdjust="spacingAndGlyphs" stroke-width="0.79">20</text><rect x="1920.2" y="1889.9" width="23.2" height="8.4" fill="#fff"/><text x="1907.2" y="1944.7" font-size="46.2" textLength="49.3" lengthAdjust="spacingAndGlyphs" stroke-width="0.79">21</text><rect x="2343.7" y="1889.9" width="23.2" height="8.4" fill="#fff"/><text x="2329.7" y="1944.7" font-size="46.2" textLength="51.4" lengthAdjust="spacingAndGlyphs" stroke-width="0.79">22</text><rect x="2767.1" y="1889.9" width="23.2" height="8.4" fill="#fff"/><text x="2752.9" y="1944.7" font-size="46.2" textLength="51.4" lengthAdjust="spacingAndGlyphs" stroke-width="0.79">23</text><rect x="190.0" y="1970.4" width="3060.2" height="5" fill="#fff"/><rect x="196.2" y="1972.9" width="23.2" height="8.4" fill="#fff"/><text x="167.6" y="2027.1" font-size="46.8" textLength="78.7" lengthAdjust="spacingAndGlyphs" stroke-width="0.80">Oct</text><rect x="190.0" y="2054.6" width="3060.2" height="5" fill="#fff"/><rect x="196.2" y="2057.1" width="23.2" height="8.4" fill="#fff"/><text x="156.2" y="2111.3" font-size="46.2" textLength="100.9" lengthAdjust="spacingAndGlyphs" stroke-width="0.79">2021</text>
<text x="915.6" y="106.6" font-size="77" class="b" textLength="218.9" lengthAdjust="spacingAndGlyphs" stroke-width="1.31">SAGE</text>
<text x="1162.0" y="106.6" font-size="80" class="m" textLength="129.8" lengthAdjust="spacingAndGlyphs" stroke-width="1.36">III</text>
<text transform="translate(1293.8 116) skewX(-17)" font-size="93" class="b" stroke-width="1.6">/</text>
<text x="1341.3" y="106.6" font-size="80" class="m" textLength="43.5" lengthAdjust="spacingAndGlyphs" stroke-width="1.36">I</text>
<text x="1383.8" y="106.6" font-size="77" class="b" textLength="92.8" lengthAdjust="spacingAndGlyphs" stroke-width="1.31">SS</text>
<text x="1511.3" y="106.6" font-size="77" class="b" textLength="260.2" lengthAdjust="spacingAndGlyphs" stroke-width="1.31">Ozone</text>
<text x="1794.9" y="106.6" font-size="77" class="b" textLength="38.3" lengthAdjust="spacingAndGlyphs" stroke-width="1.31">-</text>
<text x="1858.2" y="106.6" font-size="77" class="b" textLength="295.8" lengthAdjust="spacingAndGlyphs" stroke-width="1.31">Weekly</text>
<text x="2179.9" y="106.6" font-size="77" class="b" textLength="345.3" lengthAdjust="spacingAndGlyphs" stroke-width="1.31">Curtains</text>
<text x="1593.3" y="195.8" font-size="67.6" class="b" textLength="251.9" lengthAdjust="spacingAndGlyphs" stroke-width="1.15">Sunrise</text>
<text x="1606.4" y="1201.0" font-size="67.6" class="b" textLength="225.4" lengthAdjust="spacingAndGlyphs" stroke-width="1.15">Sunset</text>
<text transform="translate(78 741.5) rotate(-90)" x="0.0" y="0" font-size="60" stroke-width="1" textLength="382.1" lengthAdjust="spacingAndGlyphs">Altitude [km]</text>
<text transform="translate(78 1744.0) rotate(-90)" x="0.0" y="0" font-size="60" stroke-width="1" textLength="382.1" lengthAdjust="spacingAndGlyphs">Altitude [km]</text>
<defs><linearGradient id="cb" gradientUnits="userSpaceOnUse" x1="0" y1="368.4" x2="0" y2="1738.6"><stop offset="0.0000" stop-color="#fde725"/><stop offset="0.0312" stop-color="#eae51a"/><stop offset="0.0625" stop-color="#d5e21a"/><stop offset="0.0938" stop-color="#c0df25"/><stop offset="0.1250" stop-color="#aadc32"/><stop offset="0.1562" stop-color="#95d840"/><stop offset="0.1875" stop-color="#81d34d"/><stop offset="0.2188" stop-color="#6ece58"/><stop offset="0.2500" stop-color="#5cc863"/><stop offset="0.2812" stop-color="#4cc26c"/><stop offset="0.3125" stop-color="#3dbc74"/><stop offset="0.3438" stop-color="#31b57b"/><stop offset="0.3750" stop-color="#27ad81"/><stop offset="0.4062" stop-color="#21a685"/><stop offset="0.4375" stop-color="#1f9f88"/><stop offset="0.4688" stop-color="#1f978b"/><stop offset="0.5000" stop-color="#21918c"/><stop offset="0.5312" stop-color="#23898e"/><stop offset="0.5625" stop-color="#26828e"/><stop offset="0.5938" stop-color="#297a8e"/><stop offset="0.6250" stop-color="#2c728e"/><stop offset="0.6562" stop-color="#2f6b8e"/><stop offset="0.6875" stop-color="#33638d"/><stop offset="0.7188" stop-color="#375b8d"/><stop offset="0.7500" stop-color="#3b528b"/><stop offset="0.7812" stop-color="#3e4989"/><stop offset="0.8125" stop-color="#424086"/><stop offset="0.8438" stop-color="#453781"/><stop offset="0.8750" stop-color="#472d7b"/><stop offset="0.9062" stop-color="#482374"/><stop offset="0.9375" stop-color="#48186a"/><stop offset="0.9688" stop-color="#470d60"/><stop offset="1.0000" stop-color="#440154"/></linearGradient></defs>
<path d="M3292.8 368.4L3330.8 299.9L3368.8 368.4L3368.8 1738.6L3330.8 1807.1L3292.8 1738.6Z" fill="url(#cb)" stroke="#fff" stroke-width="5" stroke-linejoin="miter" stroke-miterlimit="10"/>
<rect x="3371.2" y="366.8" width="9.6" height="3.2" fill="#fff"/>
<text x="3392.8" y="384.8" font-size="46.2" textLength="49.9" lengthAdjust="spacingAndGlyphs" stroke-width="0.79">10</text>
<text x="3444.4" y="369.0" font-size="33.5" textLength="33.2" lengthAdjust="spacingAndGlyphs" stroke-width="0.57">13</text>
<rect x="3371.2" y="1051.9" width="9.6" height="3.2" fill="#fff"/>
<text x="3392.8" y="1069.9" font-size="46.2" textLength="49.9" lengthAdjust="spacingAndGlyphs" stroke-width="0.79">10</text>
<text x="3444.3" y="1054.1" font-size="33.5" textLength="33.5" lengthAdjust="spacingAndGlyphs" stroke-width="0.57">12</text>
<rect x="3371.2" y="1737.0" width="9.6" height="3.2" fill="#fff"/>
<text x="3392.8" y="1755.0" font-size="46.2" textLength="49.9" lengthAdjust="spacingAndGlyphs" stroke-width="0.79">10</text>
<text x="3444.5" y="1739.2" font-size="33.5" textLength="29.4" lengthAdjust="spacingAndGlyphs" stroke-width="0.57">11</text>
<g transform="translate(3521 0) rotate(90)"><text x="557.0" y="0" font-size="60.5" stroke-width="1" textLength="913.4" lengthAdjust="spacingAndGlyphs">Ozone Concentration (Ao3) [cm</text><text x="1468.1" y="-21.5" font-size="44" class="s" textLength="61.4" lengthAdjust="spacingAndGlyphs">−3</text><text x="1531.6" y="0" font-size="60.5" stroke-width="1" textLength="24.4" lengthAdjust="spacingAndGlyphs">]</text></g>
<rect x="3293" y="1882.1" width="79.9" height="27.8" fill="#000"/><rect x="3293" y="1882.1" width="79.9" height="27.8" fill="url(#hx)"/>
<rect x="3293" y="1951.1" width="22" height="10.1" fill="#fff"/><rect x="3350.6" y="1951.1" width="22.3" height="10.1" fill="#fff"/><circle cx="3333" cy="1956" r="11.8" fill="#fff"/>
<text x="3405.1" y="1909.9" font-size="41.3" textLength="160.8" lengthAdjust="spacingAndGlyphs" stroke-width="0.70">No Data</text>
<text x="3405.8" y="1969.9" font-size="41.3" textLength="395.1" lengthAdjust="spacingAndGlyphs" stroke-width="0.70">Tropopause Altitude</text>
<text x="3267.0" y="2038.8" font-size="34.2" textLength="567.8" lengthAdjust="spacingAndGlyphs" stroke-width="0.58" style="fill:#808080;stroke:#808080">SAGE III/ISS Mission | NASA LaRC</text>
<text x="3311.7" y="2076.4" font-size="34.2" textLength="524.0" lengthAdjust="spacingAndGlyphs" stroke-width="0.58" style="fill:#808080;stroke:#808080">Preparer: Kevin R. Leavor (AMA)</text>
<text x="3383.7" y="2113.3" font-size="34.2" textLength="451.2" lengthAdjust="spacingAndGlyphs" stroke-width="0.58" style="fill:#808080;stroke:#808080">Generated 2025-07-17 20:45</text>
<text x="3533.5" y="2150.9" font-size="34.2" textLength="301.3" lengthAdjust="spacingAndGlyphs" stroke-width="0.58" style="fill:#808080;stroke:#808080">Data Version: 6.0.0</text>
<g id="logo">
<path d="M3473.0 223.2V54.8Q3473.0 14.8 3513.0 14.8H3779.2Q3819.2 14.8 3819.2 54.8V223.2A173.1 176.5 0 0 1 3473.0 223.2Z" fill="#e55b4b"/>
<path d="M3479.2 223.2V55.0Q3479.2 21.0 3513.2 21.0H3779.0Q3813.0 21.0 3813.0 55.0V223.2A166.9 170.3 0 0 1 3479.2 223.2Z" fill="#1a5c92"/>
<circle cx="3645.9" cy="223.2" r="145.5" fill="#cdd0dc"/>
<clipPath id="lgc"><circle cx="3645.9" cy="223.2" r="129.8"/></clipPath>
<circle cx="3645.9" cy="223.2" r="129.8" fill="#0e4c82"/>
<g clip-path="url(#lgc)">
<circle cx="3373.3" cy="460.5" r="380.7" fill="#1e70a9"/>
<circle cx="3373.3" cy="460.5" r="368.7" fill="#14568c" stroke="#e8f2fa" stroke-width="0.9"/>
<path d="M3560.0 120.0L3590.0 150.0L3601.0 175.0L3619.0 184.0L3635.0 200.0L3644.0 217.0L3653.0 233.0L3648.0 249.0L3650.0 261.0L3654.0 271.0L3650.0 277.0L3643.0 268.0L3637.0 267.0L3628.0 276.0L3625.5 288.0L3632.0 303.0L3644.0 312.0L3660.0 317.0L3669.0 323.0L3655.0 326.0L3640.0 322.0L3620.0 318.0L3605.0 306.0L3592.0 296.0L3560.0 296.0Z" fill="#5da16d"/>
<path d="M3606 204l5 -6l4 3l-2 9l4 6l-3 8l-5 -5zM3618 210l4 -9l5 1l-2 11l4 7l-5 5zM3629 206l5 -5l3 6l-4 8z M3596 196l6 -2l2 5l-6 3z" fill="#14568c"/>
<path d="M3590.0 294.0L3600.0 300.0L3614.0 316.0L3610.0 318.0L3596.0 306.0L3590.0 303.0Z" fill="#14568c"/>
<path d="M3680.0 304.0L3688.0 297.0L3697.0 296.0L3708.0 312.0L3719.0 331.0L3722.0 360.0L3680.0 372.0L3679.0 330.0Z" fill="#5da16d"/>
</g>
<path d="M3701.7 195.1L3638.9 161M3701.7 195.1L3630.9 168.2M3701.7 195.1L3655.1 228.3M3701.7 195.1L3659.6 236.3M3703 195.1L3708.9 261.4M3703 195.1L3719.6 259.6M3586 152L3614 181" stroke="#e8f2fa" stroke-width="0.9" fill="none"/>
<circle cx="3620.1" cy="144.8" r="24.3" fill="#e3e4e9"/>
<path d="M3609 131a5 4 0 1 0 9 3a4 3 0 1 1 -9 -3zM3622 137a8 9 0 1 0 12 10a6 6 0 1 1 -6 -13a8 5 0 0 0 -6 3zM3612 150a6 5 0 1 0 10 4a5 4 0 0 1 -10 -4zM3626 156a5 4 0 1 0 8 1z" fill="#a9adba"/>
<circle cx="3721.4" cy="285.7" r="23.7" fill="#d6d4d9"/><clipPath id="lgs"><circle cx="3721.4" cy="285.7" r="23.7"/></clipPath><circle cx="3727.5" cy="284.5" r="25" fill="#fdda96" clip-path="url(#lgs)"/>
<path d="M3678.4 106.1L3679.9 114.6L3688.4 116.1L3679.9 117.6L3678.4 126.1L3676.9 117.6L3668.4 116.1L3676.9 114.6Z" fill="#fbe0a0"/><path d="M3664.6 122.0L3665.5 126.9L3670.4 127.8L3665.5 128.7L3664.6 133.6L3663.7 128.7L3658.8 127.8L3663.7 126.9Z" fill="#fff"/><path d="M3688.8 127.2L3689.4 130.8L3693.0 131.4L3689.4 132.0L3688.8 135.6L3688.2 132.0L3684.6 131.4L3688.2 130.8Z" fill="#fff"/>
<g transform="translate(3714.9 180.9) rotate(-43)" fill="#cfd1d8">
<rect x="-19.0" y="-27.5" width="17.5" height="2.2"/>
<rect x="-19.0" y="-24.2" width="17.5" height="2.2"/>
<rect x="-19.0" y="-20.9" width="17.5" height="2.2"/>
<rect x="-19.0" y="-17.6" width="17.5" height="2.2"/>
<rect x="1.5" y="-27.5" width="17.5" height="2.2"/>
<rect x="1.5" y="-24.2" width="17.5" height="2.2"/>
<rect x="1.5" y="-20.9" width="17.5" height="2.2"/>
<rect x="1.5" y="-17.6" width="17.5" height="2.2"/>
<rect x="-19.0" y="15.5" width="17.5" height="2.2"/>
<rect x="-19.0" y="18.8" width="17.5" height="2.2"/>
<rect x="-19.0" y="22.1" width="17.5" height="2.2"/>
<rect x="-19.0" y="25.4" width="17.5" height="2.2"/>
<rect x="1.5" y="15.5" width="17.5" height="2.2"/>
<rect x="1.5" y="18.8" width="17.5" height="2.2"/>
<rect x="1.5" y="22.1" width="17.5" height="2.2"/>
<rect x="1.5" y="25.4" width="17.5" height="2.2"/>
<rect x="-1.2" y="-22" width="2.4" height="44"/><rect x="-9" y="-7" width="18" height="2"/><rect x="-7" y="-1" width="14" height="2"/><rect x="-9" y="5" width="18" height="2"/><rect x="-5" y="-10" width="1.6" height="20"/><rect x="3.4" y="-10" width="1.6" height="20"/>
</g>
<path d="M3526.5 151.5L3512.0 160.0L3502.3 173.9L3496.7 201.8L3489.2 231.7L3480.8 244.7L3492.0 242.0L3502.3 237.3L3515.3 216.7L3522.0 196.0L3530.0 180.0Z" fill="#dc5a4c"/>
<path d="M3496.7 201.8L3489.2 231.7L3480.8 244.7L3492.0 242.0L3504.0 222.0L3508.0 196.0L3503.0 180.0Z" fill="#ad362e"/>
<path d="M3526.5 151.5L3545.0 146.0L3566.0 150.0L3582.0 166.0L3590.0 194.0L3590.0 338.0L3572.0 330.0L3556.0 316.0L3543.3 300.6L3530.0 272.0L3518.0 244.7L3524.0 226.0L3535.8 213.0L3530.0 190.0Z" fill="#dc5a4c"/>
<path d="M3518.0 244.7L3530.0 272.0L3543.3 300.6L3556.0 316.0L3548.0 280.0L3540.0 246.0L3536.0 226.0L3524.0 226.0Z" fill="#ad362e"/>
<path d="M3552.0 232.0L3558.0 300.0L3566.0 326.0L3572.0 330.0L3566.0 280.0L3562.0 234.0Z" fill="#ad362e"/>
<path d="M3576.0 238.0L3580.0 300.0L3584.0 336.0L3590.0 338.0L3590.0 240.0Z" fill="#8f2a25"/>
<path d="M3540.0 170.0L3552.0 200.0L3572.0 206.0L3588.0 200.0L3586.0 212.0L3566.0 216.0L3546.0 210.0L3536.0 196.0Z" fill="#ad362e"/>
<path d="M3536.8 207.0L3569.4 218.0L3569.4 225.0L3536.0 214.0Z" fill="#7c4322"/>
<path d="M3576.5 217L3585.2 222L3585.2 232L3576.5 237L3567.8 232L3567.8 222Z" fill="#8a4a26" stroke="#c98a4a" stroke-width="1.4"/>
<text x="3573.3" y="231.5" font-size="12" class="sbi" style="fill:#e0a860">S</text>
<path d="M3541.4 146.0L3550.0 136.0L3562.0 129.0L3576.8 127.0L3586.0 131.0L3589.0 138.5L3584.0 146.0L3586.0 160.0L3582.0 176.0L3576.0 192.5L3566.0 190.0L3558.0 180.0L3552.0 166.0L3546.0 156.0Z" fill="#f5f2ef"/>
<path d="M3566.0 136.0L3576.0 133.0L3584.0 138.0L3586.0 150.0L3584.0 160.0L3577.0 162.0L3570.0 158.0L3565.0 148.0Z" fill="#d9a36c"/>
<path d="M3572.0 160.0L3584.0 158.0L3583.0 172.0L3576.0 178.0L3570.0 170.0Z" fill="#f5f2ef"/>
<path d="M3584.3 170.0L3597.0 168.3L3600.0 190.0L3588.0 194.4Z" fill="#7a2f22"/>
<path d="M3590.0 184.0L3599.0 180.0L3600.0 192.0L3592.0 196.0Z" fill="#d9a36c"/>
<path d="M3514.4 122.6L3520.9 183.2L3534 257.8L3538.6 268.9L3544.2 300.6" stroke="#9c5426" stroke-width="5" fill="none"/>
<path d="M3513.4 122.6L3519.9 183.2L3533 257.8L3537.6 268.9L3543.2 300.6" stroke="#cf9448" stroke-width="1.3" fill="none"/>
<circle cx="3512.9" cy="113.3" r="10.8" fill="#cfd1da" stroke="#f4f5f8" stroke-width="1.3"/>
<path d="M3509.7 178.0L3518.0 173.9L3526.5 178.0L3526.0 192.0L3518.0 196.2L3511.0 190.0Z" fill="#d9a36c"/>
<text x="3505.7" y="56.9" font-size="41.8" class="sb" textLength="116.1" lengthAdjust="spacingAndGlyphs">SAGE</text>
<text x="3633.4" y="56.9" font-size="41.8" class="sb" textLength="54.1" lengthAdjust="spacingAndGlyphs">III</text>
<text x="3716.1" y="56.9" font-size="41.8" class="sb" textLength="67.8" lengthAdjust="spacingAndGlyphs">ISS</text>
<text x="3695.2" y="56.9" font-size="41.8" class="sb">•</text>
<text x="3507.2" y="70.9" font-size="9.4" textLength="180.0" lengthAdjust="spacingAndGlyphs" style="fill:#d6e2ee">Stratospheric Aerosol and Gas Experiment III</text>
<text x="3722.7" y="70.6" font-size="9.4" textLength="55.2" lengthAdjust="spacingAndGlyphs" style="fill:#d6e2ee">International</text>
<text x="3719.5" y="82.0" font-size="9.4" textLength="62.3" lengthAdjust="spacingAndGlyphs" style="fill:#d6e2ee">Space Station</text>
<path id="lgp" d="M3488.4 259.6A161.6 161.6 0 0 0 3807.0 235.9" fill="none"/>
<text font-size="12.4" class="b"><textPath href="#lgp" textLength="457.3" lengthAdjust="spacingAndGlyphs">BALL • NASA LANGLEY RESEARCH CENTER • TAS-I • ESA</textPath></text>
</g>
</svg>
</body></html>
